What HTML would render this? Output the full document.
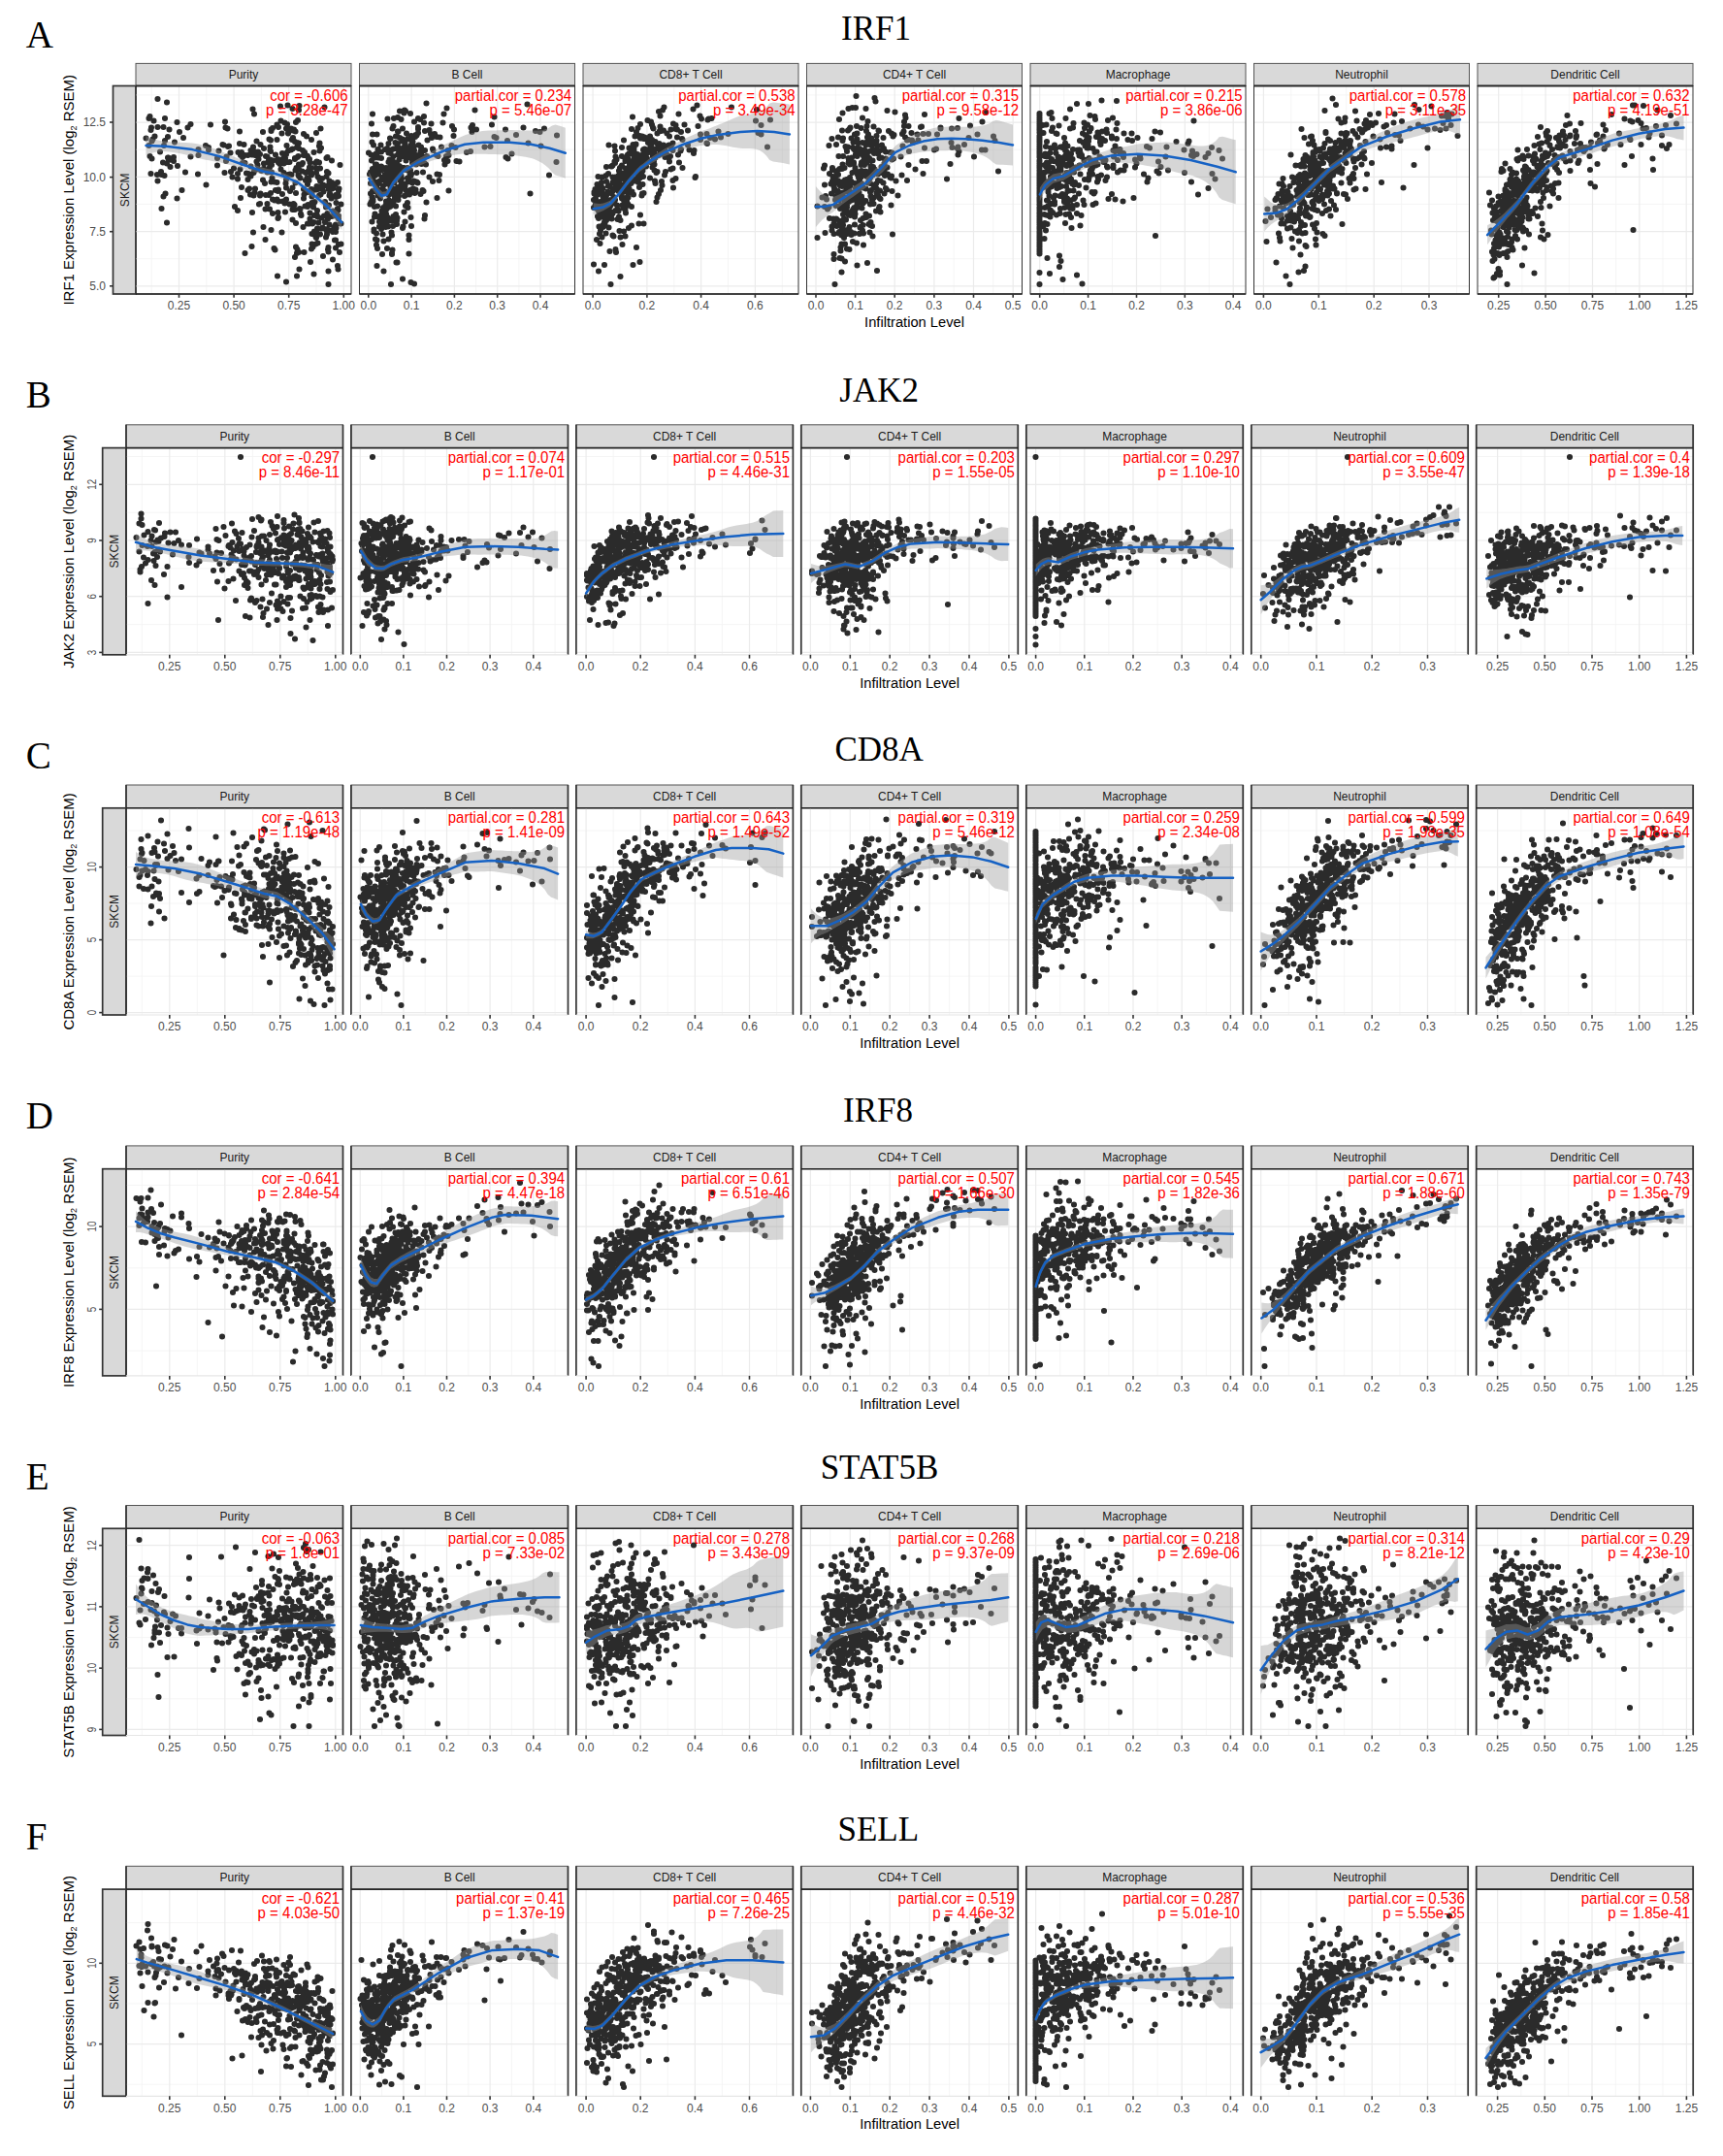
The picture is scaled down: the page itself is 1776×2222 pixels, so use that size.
<!DOCTYPE html><html><head><meta charset="utf-8"><title>Immune infiltration correlations</title><style>html,body{margin:0;padding:0;background:#fff}svg{display:block}.ax{font-family:"Liberation Sans",Arial,sans-serif;fill:#4d4d4d;font-size:12px}.st{font-family:"Liberation Sans",Arial,sans-serif;fill:#1a1a1a;font-size:12px}.rd{font-family:"Liberation Sans",Arial,sans-serif;fill:#ff0000;font-size:15px}.tt{font-family:"Liberation Sans",Arial,sans-serif;fill:#000;font-size:14.7px}.gn{font-family:"Liberation Serif","Times New Roman",serif;fill:#000;font-size:35px}.lt{font-family:"Liberation Serif","Times New Roman",serif;fill:#000;font-size:39px}</style></head><body>
<svg width="1776" height="2222" viewBox="0 0 1776 2222">
<rect width="1776" height="2222" fill="#fff"/>
<text class="lt" x="26.8" y="48.7">A</text>
<text class="gn" x="903.1" y="41.3" text-anchor="middle">IRF1</text>
<text class="tt" transform="translate(75.5,195.8) rotate(-90)" text-anchor="middle" style="font-size:15px">IRF1 Expression Level (log<tspan dy="3" style="font-size:9.0px">2</tspan><tspan dy="-3"> RSEM)</tspan></text>
<rect x="116.5" y="88.5" width="23.5" height="214.5" fill="#d9d9d9" stroke="#333" stroke-width="1.7"/>
<text class="st" transform="translate(132.6,195.8) rotate(-90)" text-anchor="middle">SKCM</text>
<line x1="113.0" x2="116.5" y1="126.0" y2="126.0" stroke="#333" stroke-width="1.6"/>
<text class="ax" x="109.0" y="130.3" text-anchor="end">12.5</text>
<line x1="113.0" x2="116.5" y1="182.6" y2="182.6" stroke="#333" stroke-width="1.6"/>
<text class="ax" x="109.0" y="186.9" text-anchor="end">10.0</text>
<line x1="113.0" x2="116.5" y1="238.7" y2="238.7" stroke="#333" stroke-width="1.6"/>
<text class="ax" x="109.0" y="243.0" text-anchor="end">7.5</text>
<line x1="113.0" x2="116.5" y1="294.8" y2="294.8" stroke="#333" stroke-width="1.6"/>
<text class="ax" x="109.0" y="299.1" text-anchor="end">5.0</text>
<text class="tt" x="942.5" y="337.0" text-anchor="middle">Infiltration Level</text>
<rect x="140.0" y="65.4" width="222.0" height="23.1" fill="#d9d9d9" stroke="#555" stroke-width="1"/>
<text class="st" transform="translate(251.0,81.3) scale(1,1.08)" text-anchor="middle">Purity</text>
<g><clipPath id="cp0_0"><rect x="140.0" y="88.5" width="222.0" height="214.5"/></clipPath></g>
<g clip-path="url(#cp0_0)">
<line x1="156.2" x2="156.2" y1="88.5" y2="303.0" stroke="#f2f2f2" stroke-width="0.8"/>
<line x1="212.8" x2="212.8" y1="88.5" y2="303.0" stroke="#f2f2f2" stroke-width="0.8"/>
<line x1="269.4" x2="269.4" y1="88.5" y2="303.0" stroke="#f2f2f2" stroke-width="0.8"/>
<line x1="326.0" x2="326.0" y1="88.5" y2="303.0" stroke="#f2f2f2" stroke-width="0.8"/>
<line x1="140.0" x2="362.0" y1="266.7" y2="266.7" stroke="#f2f2f2" stroke-width="0.8"/>
<line x1="140.0" x2="362.0" y1="210.4" y2="210.4" stroke="#f2f2f2" stroke-width="0.8"/>
<line x1="140.0" x2="362.0" y1="154.2" y2="154.2" stroke="#f2f2f2" stroke-width="0.8"/>
<line x1="140.0" x2="362.0" y1="97.9" y2="97.9" stroke="#f2f2f2" stroke-width="0.8"/>
<line x1="184.5" x2="184.5" y1="88.5" y2="303.0" stroke="#ebebeb" stroke-width="1.2"/>
<line x1="241.1" x2="241.1" y1="88.5" y2="303.0" stroke="#ebebeb" stroke-width="1.2"/>
<line x1="297.7" x2="297.7" y1="88.5" y2="303.0" stroke="#ebebeb" stroke-width="1.2"/>
<line x1="354.3" x2="354.3" y1="88.5" y2="303.0" stroke="#ebebeb" stroke-width="1.2"/>
<line x1="140.0" x2="362.0" y1="294.8" y2="294.8" stroke="#ebebeb" stroke-width="1.2"/>
<line x1="140.0" x2="362.0" y1="238.6" y2="238.6" stroke="#ebebeb" stroke-width="1.2"/>
<line x1="140.0" x2="362.0" y1="182.3" y2="182.3" stroke="#ebebeb" stroke-width="1.2"/>
<line x1="140.0" x2="362.0" y1="126.1" y2="126.1" stroke="#ebebeb" stroke-width="1.2"/>
<path transform="scale(0.5)" d="M301 285h0m6-41h0m0 56h0m2 22h0m0-82h0m2 118h0m0-90h0m1-5h0m1 64h0m0-36h0m2-4h0m2-38h0m2 32h0m5 79h0m1-98h0m0-58h0m0 169h0m5-60h0m2 41h0m1 6h0m0 70h0m3-95h0m1 70h0m0-143h0m1 38h0m1 62h0m1-118h0m0 46h0m1 109h0m3-188h0m0 248h0m0-122h0m2-12h0m0-43h0m1 43h0m1 5h0m1-63h0m2 77h0m7-20h0m0 8h0m2-39h0m5-41h0m0 157h0m1-67h0m4-70h0m5 120h0m3-108h0m4 71h0m5-92h0m6 60h0m0-67h0m15 103h0m1-51h0m0 12h0m15-20h0m1 81h0m5-72h0m0-5h0m4-47h0m14 69h0m0 15h0m3-30h0m8-13h0m2 1h0m2 57h0m1-105h0m1 12h0m1 69h0m1-9h0m2-58h0m1 37h0m2-1h0m3 14h0m1 39h0m3 11h0m3-18h0m2 79h0m6-68h0m0 76h0m0-65h0m1-55h0m3-18h0m0-25h0m1 78h0m1-29h0m0 88h0m2-22h0m0-72h0m2 10h0m0 12h0m3-38h0m2 22h0m0 202h0m0-186h0m3 21h0m3 13h0m0 22h0m0-72h0m1 38h0m2 31h0m2 12h0m1-38h0m0-20h0m0-33h0m2 9h0m0 189h0m1-70h0m1-213h0m1 78h0m0 176h0m1-123h0m0 47h0m1-91h0m0-77h0m0 118h0m1 44h0m1-77h0m0 69h0m3-98h0m0 42h0m2 7h0m1-27h0m1 36h0m0-21h0m1-11h0m0 104h0m2-103h0m0 85h0m0 17h0m1-122h0m0 101h0m2-47h0m3-80h0m0 99h0m1 97h0m1-131h0m0 10h0m0-41h0m2 72h0m1-27h0m0 80h0m0 63h0m1-92h0m0-80h0m3 98h0m0-97h0m0 0h0m0 32h0m1-20h0m2-4h0m0 71h0m1-115h0m1 144h0m0-86h0m1-16h0m0-26h0m0 7h0m1-21h0m0 109h0m0-86h0m1 63h0m0 99h0m0-204h0m0-3h0m1 73h0m0 15h0m1 12h0m1-103h0m0 147h0m0 29h0m1-109h0m2 181h0m1-99h0m0-38h0m1 140h0m1-123h0m0-73h0m3 92h0m0-123h0m0 88h0m0-88h0m0-31h0m1 156h0m0 156h0m1-241h0m0 66h0m0 56h0m0-12h0m1-23h0m0 33h0m0-186h0m0 73h0m0 56h0m2-56h0m1 3h0m1-119h0m1 30h0m0 100h0m2-74h0m0 204h0m1-163h0m0 84h0m0-71h0m1 86h0m1-88h0m1 10h0m0 19h0m1-20h0m1 83h0m0-166h0m1 184h0m0-111h0m1-10h0m0 62h0m1-60h0m0 93h0m0-41h0m0-105h0m0 316h0m0-194h0m1-87h0m1-44h0m0 78h0m1-117h0m1 143h0m0-85h0m0-6h0m0 42h0m3 110h0m0-87h0m1 60h0m0-35h0m2-50h0m0-44h0m1 95h0m1-72h0m1-64h0m0 45h0m0 163h0m0 21h0m0-146h0m0 80h0m1-103h0m1 143h0m0-7h0m1-153h0m1 155h0m1-130h0m0 34h0m0 106h0m0 98h0m0-202h0m1 49h0m0-26h0m0-80h0m1 127h0m0 111h0m0-49h0m0-208h0m1 94h0m1 223h0m0-275h0m0 228h0m0-218h0m1 210h0m0-190h0m1-76h0m0 51h0m1 62h0m0-39h0m1-95h0m0 122h0m0-10h0m0-44h0m0 225h0m0-214h0m0 57h0m1 192h0m0-337h0m1 212h0m1 1h0m0-64h0m1 74h0m1 3h0m1-105h0m1 14h0m1-17h0m0-26h0m1 158h0m1-78h0m0-70h0m0-44h0m0 133h0m1-8h0m0 119h0m0-204h0m1-2h0m1 111h0m1-69h0m0 16h0m2-91h0m1 40h0m0 46h0m1-45h0m0 74h0m0-27h0m0 11h0m0 46h0m0 35h0m0-67h0m1 28h0m1-67h0m0-27h0m0 24h0m1 20h0m1-44h0m0 133h0m0-116h0m1 94h0m0 12h0m0-102h0m0-14h0m1 205h0m1-184h0m1-10h0m0 15h0m0 29h0m0-102h0m0 225h0m1-31h0m0-77h0m0 98h0m0-85h0m0-19h0m1 62h0m1 48h0m1-82h0m1-8h0m0-105h0m0 144h0m0 107h0m1-121h0m0 33h0m1-86h0m0 25h0m1-80h0m1 152h0m0 15h0m1-156h0m0 136h0m0-209h0m0 117h0m0 99h0m0-134h0m1 118h0m0-83h0m0 51h0m0-58h0m0-51h0m1 138h0m0-37h0m1-70h0m0 83h0m0 54h0m1-153h0m0 37h0m1-19h0m0 93h0m1-158h0m0 34h0m0 68h0m0-14h0m0-4h0m1-16h0m0-58h0m0-16h0m1 52h0m0 26h0m0 110h0m1-82h0m0-136h0m1 40h0m1 166h0m0-22h0m1-81h0m1 101h0m1 59h0m0-147h0m0 1h0m0 3h0m1 10h0m1 50h0m1-224h0m1 237h0m0-42h0m2 11h0m0-2h0m0 64h0m1-163h0m0 149h0m0-111h0m0 19h0m1-29h0m0 129h0m0-11h0m1-32h0m0-116h0m1 127h0m0 63h0m1 5h0m0-162h0m0 202h0m0-49h0m0 76h0m1-163h0m0-33h0m0 57h0m1 16h0m0-90h0m0 30h0m1-4h0m2-14h0m0 20h0m1 4h0m0 66h0m0-93h0m1-51h0m0 115h0m0-61h0m0-9h0m1 13h0m1 146h0m0-57h0m1-43h0m0-47h0m1-5h0m1 85h0m1 27h0m2-116h0m0 84h0m0-61h0m0 43h0m0 50h0m0-17h0m0 33h0m1-69h0m0-24h0m0-12h0m0 64h0m1-24h0m0-8h0m0 6h0m2-14h0m0-54h0m0 26h0m0 146h0m1-115h0m0-31h0m0 153h0m1-162h0m0 52h0m0 59h0m0-53h0m0-47h0m1-15h0m1 131h0m1-180h0m1 121h0m1-40h0m0 82h0m0-42h0" stroke="#2b2b2b" stroke-width="12.2" stroke-linecap="round" fill="none"/>
<polygon points="150.5,140.0 153.9,141.9 157.3,143.2 160.7,144.1 164.1,144.7 167.6,145.2 171.0,145.5 174.4,146.0 177.8,146.3 181.3,146.6 184.7,146.8 188.1,147.0 191.5,147.1 194.9,147.2 198.4,147.4 201.8,148.0 205.2,148.7 208.6,149.5 212.0,150.5 215.5,151.5 218.9,152.6 222.3,153.8 225.7,154.9 229.1,156.4 232.6,157.9 236.0,159.4 239.4,160.8 242.8,162.2 246.3,163.6 249.7,165.0 253.1,166.4 256.5,167.7 259.9,168.9 263.4,170.2 266.8,171.4 270.2,172.6 273.6,173.5 277.0,174.2 280.5,174.8 283.9,175.7 287.3,176.8 290.7,178.0 294.2,179.2 297.6,180.7 301.0,182.2 304.4,183.7 307.8,185.4 311.3,188.2 314.7,190.9 318.1,193.6 321.5,196.3 324.9,199.1 328.4,201.8 331.8,204.4 335.2,207.0 338.6,209.9 342.1,213.1 345.5,216.1 348.9,218.7 352.3,221.1 352.3,237.1 348.9,232.1 345.5,227.3 342.1,222.8 338.6,218.5 335.2,215.0 331.8,211.9 328.4,208.8 324.9,205.8 321.5,202.9 318.1,200.1 314.7,197.3 311.3,194.6 307.8,191.8 304.4,190.1 301.0,188.6 297.6,187.2 294.2,185.7 290.7,184.5 287.3,183.5 283.9,182.4 280.5,181.7 277.0,181.1 273.6,180.6 270.2,179.8 266.8,178.8 263.4,177.8 259.9,176.8 256.5,175.8 253.1,174.8 249.7,173.8 246.3,172.8 242.8,171.8 239.4,170.8 236.0,169.8 232.6,168.9 229.1,168.0 225.7,167.1 222.3,166.5 218.9,165.9 215.5,165.3 212.0,164.7 208.6,163.9 205.2,163.0 201.8,162.0 198.4,160.9 194.9,160.2 191.5,159.5 188.1,158.8 184.7,158.1 181.3,157.5 177.8,157.0 174.4,156.5 171.0,156.2 167.6,156.2 164.1,156.4 160.7,156.8 157.3,157.4 153.9,158.5 150.5,160.0" fill="#999999" fill-opacity="0.4"/>
<polyline points="150.5,150.0 170.9,150.8 198.2,154.1 225.5,160.9 252.8,170.5 271.8,176.7 282.8,178.7 293.7,182.2 307.3,188.2 320.9,199.1 337.3,212.8 352.3,229.1" fill="none" stroke="#1662c4" stroke-width="2.5" stroke-linejoin="round" stroke-linecap="round"/>
</g>
<text class="rd" transform="translate(358.6,103.8) scale(1,1.06)" text-anchor="end">cor = -0.606</text>
<text class="rd" transform="translate(358.6,118.7) scale(1,1.06)" text-anchor="end">p = 3.28e-47</text>
<rect x="140.0" y="88.5" width="222.0" height="214.5" fill="none" stroke="#333" stroke-width="1"/>
<line x1="140.0" x2="362.0" y1="88.5" y2="88.5" stroke="#262626" stroke-width="1.8"/>
<line x1="140.0" x2="362.0" y1="303.0" y2="303.0" stroke="#262626" stroke-width="1.6"/>
<line x1="184.5" x2="184.5" y1="303.0" y2="306.8" stroke="#333" stroke-width="1.6"/>
<text class="ax" x="184.5" y="319.3" text-anchor="middle">0.25</text>
<line x1="241.1" x2="241.1" y1="303.0" y2="306.8" stroke="#333" stroke-width="1.6"/>
<text class="ax" x="241.1" y="319.3" text-anchor="middle">0.50</text>
<line x1="297.7" x2="297.7" y1="303.0" y2="306.8" stroke="#333" stroke-width="1.6"/>
<text class="ax" x="297.7" y="319.3" text-anchor="middle">0.75</text>
<line x1="354.3" x2="354.3" y1="303.0" y2="306.8" stroke="#333" stroke-width="1.6"/>
<text class="ax" x="354.3" y="319.3" text-anchor="middle">1.00</text>
<rect x="370.5" y="65.4" width="222.0" height="23.1" fill="#d9d9d9" stroke="#555" stroke-width="1"/>
<text class="st" transform="translate(481.5,81.3) scale(1,1.08)" text-anchor="middle">B Cell</text>
<g><clipPath id="cp0_1"><rect x="370.5" y="88.5" width="222.0" height="214.5"/></clipPath></g>
<g clip-path="url(#cp0_1)">
<line x1="401.9" x2="401.9" y1="88.5" y2="303.0" stroke="#f2f2f2" stroke-width="0.8"/>
<line x1="446.2" x2="446.2" y1="88.5" y2="303.0" stroke="#f2f2f2" stroke-width="0.8"/>
<line x1="490.6" x2="490.6" y1="88.5" y2="303.0" stroke="#f2f2f2" stroke-width="0.8"/>
<line x1="534.9" x2="534.9" y1="88.5" y2="303.0" stroke="#f2f2f2" stroke-width="0.8"/>
<line x1="579.2" x2="579.2" y1="88.5" y2="303.0" stroke="#f2f2f2" stroke-width="0.8"/>
<line x1="370.5" x2="592.5" y1="266.7" y2="266.7" stroke="#f2f2f2" stroke-width="0.8"/>
<line x1="370.5" x2="592.5" y1="210.4" y2="210.4" stroke="#f2f2f2" stroke-width="0.8"/>
<line x1="370.5" x2="592.5" y1="154.2" y2="154.2" stroke="#f2f2f2" stroke-width="0.8"/>
<line x1="370.5" x2="592.5" y1="97.9" y2="97.9" stroke="#f2f2f2" stroke-width="0.8"/>
<line x1="379.8" x2="379.8" y1="88.5" y2="303.0" stroke="#ebebeb" stroke-width="1.2"/>
<line x1="424.1" x2="424.1" y1="88.5" y2="303.0" stroke="#ebebeb" stroke-width="1.2"/>
<line x1="468.4" x2="468.4" y1="88.5" y2="303.0" stroke="#ebebeb" stroke-width="1.2"/>
<line x1="512.7" x2="512.7" y1="88.5" y2="303.0" stroke="#ebebeb" stroke-width="1.2"/>
<line x1="557.0" x2="557.0" y1="88.5" y2="303.0" stroke="#ebebeb" stroke-width="1.2"/>
<line x1="370.5" x2="592.5" y1="294.8" y2="294.8" stroke="#ebebeb" stroke-width="1.2"/>
<line x1="370.5" x2="592.5" y1="238.6" y2="238.6" stroke="#ebebeb" stroke-width="1.2"/>
<line x1="370.5" x2="592.5" y1="182.3" y2="182.3" stroke="#ebebeb" stroke-width="1.2"/>
<line x1="370.5" x2="592.5" y1="126.1" y2="126.1" stroke="#ebebeb" stroke-width="1.2"/>
<path transform="scale(0.5)" d="M760 315h0m2 44h0m1 62h0m1-43h0m0-23h0m0 44h0m1 18h0m0-98h0m1 12h0m0-76h0m1 158h0m0 44h0m0-164h0m0 113h0m1-42h0m0-87h0m0 71h0m0-113h0m0 159h0m1 17h0m0-46h0m0 50h0m0-39h0m1-77h0m1 178h0m0-121h0m0-3h0m0 120h0m1-95h0m0 69h0m0-21h0m1 15h0m0-116h0m0 69h0m0-32h0m0-5h0m1 136h0m0-117h0m0-37h0m0 36h0m1-22h0m0 36h0m0-10h0m0-62h0m1 0h0m0 188h0m0-24h0m0-97h0m0-31h0m0 34h0m0-48h0m1-23h0m0 179h0m0-152h0m0-66h0m0 68h0m0 203h0m1-36h0m0-87h0m0 21h0m1-67h0m0-71h0m0 95h0m0-13h0m0-43h0m1-22h0m0 34h0m1 35h0m1 63h0m0 10h0m0-122h0m0 58h0m1-90h0m0 137h0m0-77h0m1-21h0m0 57h0m1-110h0m0 150h0m0-5h0m1-52h0m0-49h0m0 55h0m0-72h0m0 45h0m0-58h0m0 159h0m1-37h0m1-70h0m0 159h0m0-60h0m0-119h0m1 138h0m0-93h0m1 66h0m0-28h0m0-45h0m1 176h0m0-160h0m0 98h0m1-131h0m1 69h0m0-41h0m1-23h0m0-12h0m0-51h0m0 147h0m0-5h0m0-101h0m1 22h0m0 55h0m0-3h0m0 17h0m0 28h0m1-94h0m0 58h0m0-67h0m0 50h0m0-69h0m0 95h0m0-18h0m0-44h0m1 81h0m1 52h0m0-83h0m0-123h0m0 57h0m1 13h0m0-131h0m0 203h0m1 19h0m0-67h0m1 93h0m0-178h0m0 31h0m0 10h0m0 22h0m0 24h0m0-68h0m0-38h0m1 117h0m0 14h0m1-98h0m0 85h0m0 0h0m0 3h0m0 35h0m0-107h0m1 110h0m0-170h0m0 141h0m0-50h0m1 14h0m0-48h0m0-26h0m0 76h0m0 33h0m0-80h0m0 40h0m0-39h0m0 26h0m0-86h0m1 300h0m0-201h0m0-3h0m1-36h0m0 45h0m0-30h0m0 3h0m0 115h0m1-110h0m0 49h0m0 104h0m0-125h0m0 88h0m0-116h0m0 155h0m0-189h0m1 180h0m0-171h0m0 44h0m0-58h0m0-22h0m0 84h0m0-127h0m0 97h0m0 10h0m1-10h0m0-23h0m0 16h0m0 111h0m0-90h0m0 78h0m0-77h0m1-117h0m0 47h0m0 93h0m0-78h0m0 96h0m0 28h0m1-111h0m0-91h0m0 103h0m1 100h0m0 3h0m0-74h0m0-19h0m0 46h0m0-33h0m1 39h0m1-115h0m0 99h0m1-54h0m0 86h0m0-71h0m0 88h0m0-161h0m1 260h0m0-138h0m1 59h0m0-7h0m0-120h0m1-33h0m0 147h0m0-168h0m0 125h0m0 135h0m1-155h0m0-144h0m0 158h0m0-104h0m0-25h0m0 48h0m0 42h0m1-8h0m0 52h0m0-55h0m0-46h0m0-33h0m0 141h0m0-57h0m0-48h0m0 2h0m1 95h0m0-55h0m1-36h0m0 29h0m0-21h0m0 8h0m1 27h0m0-9h0m0 49h0m0-112h0m0-55h0m1 121h0m0 22h0m0-28h0m0 47h0m0-74h0m0 77h0m1-48h0m0 4h0m0 33h0m1-21h0m0-116h0m1 68h0m0 72h0m0-9h0m0-9h0m1-77h0m0 55h0m1-25h0m0-34h0m0-22h0m0 205h0m0 105h0m1-268h0m0 15h0m0 145h0m0-121h0m1-42h0m0 75h0m0-66h0m1 33h0m0 91h0m0-204h0m1-6h0m0 86h0m0 71h0m0 20h0m1 53h0m0-54h0m0-106h0m0 24h0m0-27h0m0 89h0m1-154h0m0 195h0m0-74h0m1-19h0m0 61h0m1-117h0m0 45h0m1-15h0m0 43h0m1 70h0m0-107h0m0 14h0m0 42h0m0-21h0m1 82h0m0-142h0m0 89h0m1-7h0m0-16h0m1 133h0m0 38h0m0-29h0m1-142h0m0 0h0m0 49h0m1-47h0m0 7h0m0-53h0m1-22h0m0 30h0m0-82h0m0 117h0m1 11h0m0-62h0m0 91h0m0 57h0m0 134h0m1-259h0m0 36h0m0 107h0m0-186h0m1 14h0m1 20h0m0 22h0m0-22h0m0-11h0m0 27h0m0 47h0m1-85h0m0 6h0m1 91h0m1-66h0m0 50h0m0-69h0m0 33h0m1 248h0m0-275h0m0-59h0m0 66h0m1 81h0m0-24h0m1-92h0m1 113h0m0-4h0m0-113h0m0 52h0m1 9h0m1-60h0m0 77h0m0 19h0m1-42h0m1 44h0m0-48h0m1-63h0m0 54h0m0-76h0m0 18h0m0 73h0m0-61h0m1 25h0m3 28h0m0-81h0m0 87h0m1-17h0m0 84h0m0-87h0m1-10h0m0 34h0m0-27h0m1 28h0m0-18h0m2 72h0m1-57h0m0 20h0m1 39h0m1-141h0m0-13h0m1 96h0m0 115h0m0-127h0m1-14h0m0-40h0m0 174h0m2-105h0m1 78h0m0-204h0m1 109h0m1-33h0m4 76h0m0-97h0m3 8h0m1-21h0m1 29h0m2 23h0m0 67h0m1-64h0m3-34h0m4 44h0m0-38h0m1 126h0m0-49h0m2-37h0m2 50h0m1-12h0m1-77h0m3 20h0m3-50h0m2-18h0m1 95h0m1 9h0m1-4h0m2-13h0m1-99h0m2 87h0m0 22h0m1-22h0m1 83h0m0-73h0m6-20h0m1-40h0m3 20h0m1-13h0m3 37h0m2 28h0m6 1h0m15-19h0m8-2h0m1-49h0m2 9h0m1-14h0m5-31h0m3 40h0m17 36h0m12-1h0m3-45h0m5-16h0m0 41h0m4 2h0m19-17h0m1 57h0m3-34h0m1 37h0m8-10h0m9-39h0m15-15h0m8-48h0m2 80h0m4 104h0m11-129h0m9 2h0m2 29h0m7-36h0m10 96h0m15-27h0m1-55h0" stroke="#2b2b2b" stroke-width="12.2" stroke-linecap="round" fill="none"/>
<polygon points="380.4,177.1 383.8,183.9 387.3,189.8 390.7,194.6 394.1,197.8 397.6,197.2 401.0,193.0 404.4,186.9 407.9,182.4 411.3,178.6 414.7,174.7 418.1,171.7 421.6,169.5 425.0,167.4 428.4,165.2 431.9,163.2 435.3,161.4 438.7,159.6 442.2,157.8 445.6,155.9 449.0,154.0 452.5,152.1 455.9,150.1 459.3,148.4 462.7,146.9 466.2,145.3 469.6,143.7 473.0,142.1 476.5,140.5 479.9,139.0 483.3,138.1 486.8,137.2 490.2,136.4 493.6,135.7 497.1,135.0 500.5,134.7 503.9,134.5 507.3,134.4 510.8,134.4 514.2,134.3 517.6,134.2 521.1,134.1 524.5,134.0 527.9,134.1 531.4,134.2 534.8,134.3 538.2,134.4 541.6,134.5 545.1,134.5 548.5,134.5 551.9,134.6 555.4,134.6 558.8,134.2 562.2,133.3 565.7,131.8 569.1,129.5 572.5,128.5 576.0,129.5 579.4,130.6 582.8,131.7 582.8,183.7 579.4,182.6 576.0,181.6 572.5,180.6 569.1,177.5 565.7,173.4 562.2,170.4 558.8,168.0 555.4,166.2 551.9,164.6 548.5,163.3 545.1,162.5 541.6,161.8 538.2,161.3 534.8,160.8 531.4,160.3 527.9,159.8 524.5,159.5 521.1,159.4 517.6,159.3 514.2,159.2 510.8,159.1 507.3,159.0 503.9,158.9 500.5,158.8 497.1,158.7 493.6,158.7 490.2,158.7 486.8,158.6 483.3,158.4 479.9,158.2 476.5,158.5 473.0,159.0 469.6,159.5 466.2,160.1 462.7,160.7 459.3,161.3 455.9,162.1 452.5,163.3 449.0,164.4 445.6,165.6 442.2,166.8 438.7,168.1 435.3,169.4 431.9,170.7 428.4,172.3 425.0,174.2 421.6,176.1 418.1,178.1 414.7,181.0 411.3,184.9 407.9,188.7 404.4,193.4 401.0,199.7 397.6,204.3 394.1,205.5 390.7,203.1 387.3,199.5 383.8,195.3 380.4,191.1" fill="#999999" fill-opacity="0.4"/>
<polyline points="380.4,184.1 386.4,193.7 393.2,201.8 398.7,200.5 405.5,188.2 416.4,175.9 430.1,167.7 457.3,155.5 479.2,148.7 498.3,146.7 525.5,146.7 547.4,148.7 566.4,152.7 582.8,157.7" fill="none" stroke="#1662c4" stroke-width="2.5" stroke-linejoin="round" stroke-linecap="round"/>
</g>
<text class="rd" transform="translate(589.1,103.8) scale(1,1.06)" text-anchor="end">partial.cor = 0.234</text>
<text class="rd" transform="translate(589.1,118.7) scale(1,1.06)" text-anchor="end">p = 5.46e-07</text>
<rect x="370.5" y="88.5" width="222.0" height="214.5" fill="none" stroke="#333" stroke-width="1"/>
<line x1="370.5" x2="592.5" y1="88.5" y2="88.5" stroke="#262626" stroke-width="1.8"/>
<line x1="370.5" x2="592.5" y1="303.0" y2="303.0" stroke="#262626" stroke-width="1.6"/>
<line x1="379.8" x2="379.8" y1="303.0" y2="306.8" stroke="#333" stroke-width="1.6"/>
<text class="ax" x="379.8" y="319.3" text-anchor="middle">0.0</text>
<line x1="424.1" x2="424.1" y1="303.0" y2="306.8" stroke="#333" stroke-width="1.6"/>
<text class="ax" x="424.1" y="319.3" text-anchor="middle">0.1</text>
<line x1="468.4" x2="468.4" y1="303.0" y2="306.8" stroke="#333" stroke-width="1.6"/>
<text class="ax" x="468.4" y="319.3" text-anchor="middle">0.2</text>
<line x1="512.7" x2="512.7" y1="303.0" y2="306.8" stroke="#333" stroke-width="1.6"/>
<text class="ax" x="512.7" y="319.3" text-anchor="middle">0.3</text>
<line x1="557.0" x2="557.0" y1="303.0" y2="306.8" stroke="#333" stroke-width="1.6"/>
<text class="ax" x="557.0" y="319.3" text-anchor="middle">0.4</text>
<rect x="601.0" y="65.4" width="222.0" height="23.1" fill="#d9d9d9" stroke="#555" stroke-width="1"/>
<text class="st" transform="translate(712.0,81.3) scale(1,1.08)" text-anchor="middle">CD8+ T Cell</text>
<g><clipPath id="cp0_2"><rect x="601.0" y="88.5" width="222.0" height="214.5"/></clipPath></g>
<g clip-path="url(#cp0_2)">
<line x1="639.0" x2="639.0" y1="88.5" y2="303.0" stroke="#f2f2f2" stroke-width="0.8"/>
<line x1="694.8" x2="694.8" y1="88.5" y2="303.0" stroke="#f2f2f2" stroke-width="0.8"/>
<line x1="750.5" x2="750.5" y1="88.5" y2="303.0" stroke="#f2f2f2" stroke-width="0.8"/>
<line x1="806.3" x2="806.3" y1="88.5" y2="303.0" stroke="#f2f2f2" stroke-width="0.8"/>
<line x1="601.0" x2="823.0" y1="266.7" y2="266.7" stroke="#f2f2f2" stroke-width="0.8"/>
<line x1="601.0" x2="823.0" y1="210.4" y2="210.4" stroke="#f2f2f2" stroke-width="0.8"/>
<line x1="601.0" x2="823.0" y1="154.2" y2="154.2" stroke="#f2f2f2" stroke-width="0.8"/>
<line x1="601.0" x2="823.0" y1="97.9" y2="97.9" stroke="#f2f2f2" stroke-width="0.8"/>
<line x1="611.1" x2="611.1" y1="88.5" y2="303.0" stroke="#ebebeb" stroke-width="1.2"/>
<line x1="666.9" x2="666.9" y1="88.5" y2="303.0" stroke="#ebebeb" stroke-width="1.2"/>
<line x1="722.6" x2="722.6" y1="88.5" y2="303.0" stroke="#ebebeb" stroke-width="1.2"/>
<line x1="778.4" x2="778.4" y1="88.5" y2="303.0" stroke="#ebebeb" stroke-width="1.2"/>
<line x1="601.0" x2="823.0" y1="294.8" y2="294.8" stroke="#ebebeb" stroke-width="1.2"/>
<line x1="601.0" x2="823.0" y1="238.6" y2="238.6" stroke="#ebebeb" stroke-width="1.2"/>
<line x1="601.0" x2="823.0" y1="182.3" y2="182.3" stroke="#ebebeb" stroke-width="1.2"/>
<line x1="601.0" x2="823.0" y1="126.1" y2="126.1" stroke="#ebebeb" stroke-width="1.2"/>
<path transform="scale(0.5)" d="M1224 545h0m0-133h0m0 16h0m1-32h0m0 3h0m2-9h0m0 34h0m1-3h0m0-13h0m0-7h0m2 93h0m0-64h0m1-50h0m1 11h0m0 55h0m0-45h0m0-3h0m1-34h0m0 36h0m0 16h0m1-34h0m0 177h0m0-109h0m0-15h0m1 32h0m0-38h0m1-8h0m0-34h0m0 47h0m0 48h0m1-84h0m0 18h0m0 51h0m0 35h0m1-27h0m0-56h0m0 15h0m1-2h0m0-50h0m1 48h0m0-41h0m0-13h0m0 44h0m1-23h0m0 92h0m0-124h0m1 82h0m0-8h0m0 5h0m0-7h0m0-7h0m1-24h0m0-18h0m0 80h0m1-5h0m0-63h0m0 4h0m1 8h0m0 8h0m1 18h0m0 21h0m0-50h0m0 49h0m0 88h0m1-144h0m0 55h0m0 5h0m0-59h0m0 33h0m1-2h0m0-5h0m0 27h0m0-42h0m0-6h0m0-1h0m1-45h0m0 119h0m0-69h0m0-2h0m1-36h0m0-30h0m0 59h0m0 30h0m0 21h0m0-38h0m0 26h0m2 3h0m1-11h0m0-39h0m0 39h0m0-8h0m1 19h0m0-21h0m0-41h0m0-25h0m0 67h0m1 44h0m0-170h0m1 84h0m0 1h0m1 134h0m0-92h0m1-1h0m1 21h0m0-34h0m0 174h0m1-243h0m1 56h0m0-56h0m0 108h0m0-14h0m0 5h0m2-66h0m0 64h0m0-46h0m0 91h0m0-144h0m0 24h0m1 54h0m0-4h0m0-40h0m1 31h0m0 81h0m1-100h0m0-10h0m0 39h0m1-115h0m0 68h0m0 7h0m0 39h0m0-82h0m1 32h0m0-29h0m0-25h0m0 101h0m1-35h0m0 137h0m0-191h0m0 111h0m1 86h0m0-145h0m1 5h0m0-51h0m0-1h0m1 63h0m0-7h0m0-19h0m0 58h0m1-50h0m0 58h0m0 21h0m1-63h0m0-12h0m1 17h0m0-32h0m0 21h0m0 52h0m1 12h0m0-95h0m1 19h0m0 105h0m0-81h0m1-49h0m0 9h0m1 134h0m0-133h0m0 214h0m0-187h0m0 71h0m0-71h0m2-18h0m0 39h0m0-1h0m0-60h0m1-2h0m0-37h0m0 105h0m0-87h0m1 101h0m0-60h0m0 141h0m0-123h0m2 6h0m0 8h0m0 34h0m0-33h0m1 17h0m0-124h0m0 188h0m1-93h0m1-3h0m0-11h0m0-3h0m0-42h0m0 32h0m1 130h0m0-54h0m0-101h0m1 76h0m0-60h0m0 78h0m0-79h0m0 92h0m0-47h0m1 23h0m0-65h0m0 43h0m1-13h0m0-9h0m0 43h0m0-62h0m1 12h0m0 1h0m1 55h0m0-95h0m0-6h0m1 88h0m0-9h0m1 72h0m0-113h0m0 66h0m1-107h0m0 31h0m0 13h0m0-55h0m0 45h0m0 15h0m0 24h0m1-49h0m0-24h0m1 16h0m2 28h0m0 18h0m0-70h0m0 28h0m0 33h0m1-26h0m0 122h0m0-39h0m0-160h0m1 66h0m0 25h0m0 38h0m0-55h0m0-6h0m0 13h0m1-9h0m0-97h0m1 305h0m0-197h0m0-51h0m1 72h0m0 31h0m0-82h0m0 29h0m1-24h0m0 17h0m0 12h0m0 17h0m0-25h0m0-34h0m0-6h0m1 44h0m1 24h0m0-92h0m1 46h0m1-29h0m0 29h0m0-30h0m0 60h0m0 0h0m1-85h0m0 65h0m0-57h0m0 53h0m0 18h0m0 159h0m1-143h0m1-49h0m0 3h0m1-2h0m0 42h0m0-21h0m0-76h0m1 112h0m0-10h0m1 95h0m0-134h0m0 26h0m0-3h0m0 11h0m1-34h0m0 59h0m1-19h0m0-10h0m0-17h0m0-60h0m0 52h0m0 208h0m1-174h0m0 77h0m0-158h0m0-29h0m0 66h0m3 19h0m0 1h0m0 61h0m0-42h0m1 38h0m0-118h0m1 99h0m0-32h0m0 16h0m0-12h0m0-33h0m1-10h0m0 55h0m1-36h0m0-20h0m0-22h0m0 175h0m0-63h0m2-91h0m0-24h0m1 52h0m0-2h0m1-6h0m0 6h0m1 10h0m0-56h0m1 38h0m0 9h0m1-7h0m1-79h0m0 67h0m1-21h0m1-7h0m1 21h0m0-20h0m2-7h0m0 86h0m1-66h0m0 33h0m0 0h0m0-24h0m0-7h0m1-52h0m1 63h0m0-16h0m1-41h0m0 31h0m0 17h0m1 2h0m0 38h0m1-22h0m0-60h0m0 57h0m1 5h0m0-60h0m1 52h0m0 15h0m1 19h0m0-35h0m0 23h0m1 34h0m0-50h0m1 2h0m0 53h0m0-86h0m2 124h0m0-60h0m1-49h0m1 100h0m0-53h0m0-79h0m1 23h0m2-68h0m0 170h0m0-80h0m1-24h0m0 2h0m1-28h0m1-31h0m0 79h0m0-57h0m1 131h0m0-79h0m1-43h0m1 104h0m0-70h0m1 78h0m1-77h0m0-78h0m1 81h0m1-9h0m0-30h0m1-48h0m1 140h0m1-37h0m0-4h0m0 3h0m0-17h0m1 12h0m0 36h0m3-35h0m0-44h0m3 48h0m1 3h0m0-27h0m1-18h0m0 52h0m2-11h0m0-21h0m1-34h0m0 82h0m0-46h0m2-5h0m2 74h0m0-77h0m0 52h0m0-37h0m1-55h0m0 132h0m5-19h0m0-110h0m0 8h0m3 1h0m0 16h0m2 36h0m1-84h0m1 100h0m3-24h0m1-39h0m0 36h0m2-22h0m1 60h0m0-58h0m4-31h0m7 12h0m0 30h0m3 10h0m8-84h0m1 91h0m1-6h0m2 56h0m1-2h0m3-147h0m2 43h0m4-21h0m1 38h0m0 11h0m2-43h0m11 31h0m0 19h0m1 1h0m1-49h0m2-2h0m3 39h0m3-40h0m7 43h0m7-16h0m5 12h0m15-7h0m7-55h0m50 28h0m2-23h0m3 48h0m6 3h0m0-19h0m13 45h0m6-56h0" stroke="#2b2b2b" stroke-width="12.2" stroke-linecap="round" fill="none"/>
<polygon points="611.7,209.3 615.1,209.7 618.5,209.9 621.9,209.6 625.4,208.2 628.8,206.7 632.2,203.5 635.7,199.6 639.1,195.5 642.5,191.0 645.9,186.4 649.4,182.3 652.8,178.5 656.2,174.6 659.6,171.0 663.1,168.4 666.5,165.7 669.9,163.0 673.4,160.8 676.8,158.6 680.2,156.4 683.6,154.2 687.1,152.3 690.5,150.6 693.9,148.9 697.4,147.2 700.8,145.4 704.2,143.6 707.6,142.0 711.1,140.5 714.5,139.0 717.9,137.4 721.4,135.9 724.8,134.6 728.2,133.4 731.6,132.2 735.1,130.8 738.5,129.4 741.9,128.1 745.4,126.8 748.8,125.3 752.2,123.8 755.6,122.3 759.1,120.8 762.5,119.6 765.9,118.7 769.4,118.2 772.8,117.7 776.2,117.1 779.6,116.1 783.1,115.1 786.5,113.4 789.9,110.6 793.3,106.4 796.8,105.5 800.2,105.8 803.6,106.2 807.1,106.6 810.5,107.0 813.9,107.4 813.9,169.4 810.5,168.7 807.1,168.1 803.6,167.5 800.2,166.9 796.8,166.4 793.3,165.1 789.9,160.4 786.5,157.2 783.1,155.0 779.6,153.7 776.2,153.3 772.8,153.1 769.4,153.1 765.9,152.9 762.5,152.7 759.1,152.3 755.6,151.7 752.2,151.0 748.8,150.3 745.4,149.7 741.9,149.3 738.5,149.1 735.1,149.1 731.6,149.3 728.2,149.5 724.8,149.8 721.4,150.3 717.9,151.0 714.5,151.8 711.1,152.5 707.6,153.3 704.2,154.2 700.8,155.3 697.4,156.5 693.9,157.7 690.5,158.9 687.1,160.2 683.6,161.6 680.2,163.5 676.8,165.4 673.4,167.3 669.9,169.3 666.5,171.8 663.1,174.3 659.6,176.8 656.2,180.2 652.8,184.0 649.4,187.8 645.9,191.9 642.5,196.5 639.1,201.1 635.7,205.3 632.2,209.4 628.8,213.0 625.4,215.0 621.9,217.0 618.5,218.4 615.1,219.7 611.7,221.3" fill="#999999" fill-opacity="0.4"/>
<polyline points="611.7,215.3 620.9,213.8 629.6,209.4 638.4,199.3 647.1,187.7 658.7,174.6 670.3,165.9 684.8,157.2 705.1,148.5 722.5,142.7 739.9,138.9 763.1,136.0 780.5,134.9 798.0,136.0 813.9,138.4" fill="none" stroke="#1662c4" stroke-width="2.5" stroke-linejoin="round" stroke-linecap="round"/>
</g>
<text class="rd" transform="translate(819.6,103.8) scale(1,1.06)" text-anchor="end">partial.cor = 0.538</text>
<text class="rd" transform="translate(819.6,118.7) scale(1,1.06)" text-anchor="end">p = 3.49e-34</text>
<rect x="601.0" y="88.5" width="222.0" height="214.5" fill="none" stroke="#333" stroke-width="1"/>
<line x1="601.0" x2="823.0" y1="88.5" y2="88.5" stroke="#262626" stroke-width="1.8"/>
<line x1="601.0" x2="823.0" y1="303.0" y2="303.0" stroke="#262626" stroke-width="1.6"/>
<line x1="611.1" x2="611.1" y1="303.0" y2="306.8" stroke="#333" stroke-width="1.6"/>
<text class="ax" x="611.1" y="319.3" text-anchor="middle">0.0</text>
<line x1="666.9" x2="666.9" y1="303.0" y2="306.8" stroke="#333" stroke-width="1.6"/>
<text class="ax" x="666.9" y="319.3" text-anchor="middle">0.2</text>
<line x1="722.6" x2="722.6" y1="303.0" y2="306.8" stroke="#333" stroke-width="1.6"/>
<text class="ax" x="722.6" y="319.3" text-anchor="middle">0.4</text>
<line x1="778.4" x2="778.4" y1="303.0" y2="306.8" stroke="#333" stroke-width="1.6"/>
<text class="ax" x="778.4" y="319.3" text-anchor="middle">0.6</text>
<rect x="831.5" y="65.4" width="222.0" height="23.1" fill="#d9d9d9" stroke="#555" stroke-width="1"/>
<text class="st" transform="translate(942.5,81.3) scale(1,1.08)" text-anchor="middle">CD4+ T Cell</text>
<g><clipPath id="cp0_3"><rect x="831.5" y="88.5" width="222.0" height="214.5"/></clipPath></g>
<g clip-path="url(#cp0_3)">
<line x1="861.3" x2="861.3" y1="88.5" y2="303.0" stroke="#f2f2f2" stroke-width="0.8"/>
<line x1="901.9" x2="901.9" y1="88.5" y2="303.0" stroke="#f2f2f2" stroke-width="0.8"/>
<line x1="942.6" x2="942.6" y1="88.5" y2="303.0" stroke="#f2f2f2" stroke-width="0.8"/>
<line x1="983.2" x2="983.2" y1="88.5" y2="303.0" stroke="#f2f2f2" stroke-width="0.8"/>
<line x1="1023.8" x2="1023.8" y1="88.5" y2="303.0" stroke="#f2f2f2" stroke-width="0.8"/>
<line x1="831.5" x2="1053.5" y1="266.7" y2="266.7" stroke="#f2f2f2" stroke-width="0.8"/>
<line x1="831.5" x2="1053.5" y1="210.4" y2="210.4" stroke="#f2f2f2" stroke-width="0.8"/>
<line x1="831.5" x2="1053.5" y1="154.2" y2="154.2" stroke="#f2f2f2" stroke-width="0.8"/>
<line x1="831.5" x2="1053.5" y1="97.9" y2="97.9" stroke="#f2f2f2" stroke-width="0.8"/>
<line x1="841.0" x2="841.0" y1="88.5" y2="303.0" stroke="#ebebeb" stroke-width="1.2"/>
<line x1="881.6" x2="881.6" y1="88.5" y2="303.0" stroke="#ebebeb" stroke-width="1.2"/>
<line x1="922.2" x2="922.2" y1="88.5" y2="303.0" stroke="#ebebeb" stroke-width="1.2"/>
<line x1="962.9" x2="962.9" y1="88.5" y2="303.0" stroke="#ebebeb" stroke-width="1.2"/>
<line x1="1003.5" x2="1003.5" y1="88.5" y2="303.0" stroke="#ebebeb" stroke-width="1.2"/>
<line x1="1044.2" x2="1044.2" y1="88.5" y2="303.0" stroke="#ebebeb" stroke-width="1.2"/>
<line x1="831.5" x2="1053.5" y1="294.8" y2="294.8" stroke="#ebebeb" stroke-width="1.2"/>
<line x1="831.5" x2="1053.5" y1="238.6" y2="238.6" stroke="#ebebeb" stroke-width="1.2"/>
<line x1="831.5" x2="1053.5" y1="182.3" y2="182.3" stroke="#ebebeb" stroke-width="1.2"/>
<line x1="831.5" x2="1053.5" y1="126.1" y2="126.1" stroke="#ebebeb" stroke-width="1.2"/>
<path transform="scale(0.5)" d="M1685 425h0m0 65h0m10-83h0m3-60h0m2-6h0m0 85h0m0-45h0m1 99h0m1-76h0m2 7h0m2 20h0m3-4h0m0-127h0m1 58h0m0 92h0m3-71h0m1 20h0m1 76h0m0-8h0m0-181h0m1 87h0m0-23h0m0-4h0m1 18h0m1 87h0m1 73h0m0-154h0m0 112h0m0 52h0m0-150h0m0 77h0m1-73h0m0 5h0m1 193h0m1-174h0m0-48h0m1 41h0m0 19h0m0-46h0m1-80h0m0 112h0m0 41h0m0-97h0m1 112h0m1-70h0m0-44h0m1 47h0m0-27h0m0 22h0m1-34h0m0-77h0m1 198h0m0-85h0m0-74h0m1-76h0m0 209h0m0-106h0m0 129h0m0-13h0m0-53h0m1-64h0m0 184h0m0-71h0m1-53h0m0 16h0m0-18h0m0 24h0m0-47h0m1 127h0m0 7h0m1-95h0m0-47h0m1 26h0m0 102h0m0 30h0m0 28h0m0-76h0m1-216h0m0 115h0m0 89h0m0-125h0m1 134h0m0-16h0m0-233h0m0 57h0m0 49h0m0 121h0m1-175h0m0 139h0m0-102h0m0 120h0m0-45h0m0 67h0m1-10h0m1 49h0m0-92h0m0 19h0m0 60h0m0-39h0m1-105h0m0 92h0m0-18h0m1 119h0m0-164h0m0-4h0m0 132h0m1-201h0m0 72h0m1 79h0m0-19h0m0-27h0m1-16h0m0-85h0m0 64h0m1 104h0m0-103h0m0 64h0m0 78h0m0-130h0m0 44h0m0-4h0m0-53h0m0-58h0m1 170h0m1-179h0m0-34h0m0 109h0m0 17h0m1 16h0m0 31h0m0-2h0m0-104h0m0-10h0m0-102h0m1 192h0m0-8h0m0-77h0m0 52h0m1 131h0m0-100h0m0 54h0m0-202h0m0 62h0m0 63h0m1-7h0m0-45h0m0 27h0m0 36h0m0-17h0m1 54h0m0 5h0m0-181h0m0 64h0m0 9h0m1 142h0m1-147h0m0-46h0m0 199h0m0-110h0m0 69h0m0-30h0m1 69h0m0-157h0m1-103h0m0 175h0m0-41h0m1-52h0m0 98h0m0 96h0m0-65h0m1-2h0m0-138h0m1 42h0m0 3h0m0-31h0m1 121h0m0 53h0m1-18h0m0-26h0m0 8h0m0-136h0m0 138h0m0-170h0m0 101h0m1 34h0m0 20h0m0-84h0m0-2h0m0 95h0m1-219h0m0 172h0m0-6h0m0-70h0m0 81h0m1-201h0m1 303h0m0-241h0m0 165h0m1-11h0m0-92h0m0-35h0m0-12h0m0 153h0m0-7h0m0-110h0m0 88h0m0 148h0m0-144h0m1-98h0m0 49h0m0 6h0m1 28h0m0-6h0m0 14h0m0-101h0m1 116h0m0-25h0m0-20h0m0-48h0m0 83h0m0-5h0m0-87h0m1 65h0m0-61h0m0 84h0m1-16h0m0-18h0m0-57h0m0 65h0m0 111h0m0-1h0m1-126h0m0 8h0m0 106h0m0-84h0m1 69h0m1-48h0m0-66h0m0-76h0m0 203h0m0-102h0m1 40h0m0-53h0m0 76h0m0-45h0m0-5h0m0 2h0m0-45h0m1 75h0m0 19h0m0-69h0m1-49h0m0 164h0m0-181h0m0 91h0m0 33h0m0-175h0m1 176h0m0 45h0m0-14h0m0-63h0m0-54h0m1-12h0m0 184h0m0-24h0m1-172h0m0 15h0m1-5h0m0 21h0m0-14h0m0-13h0m0 103h0m1-60h0m0-46h0m1 43h0m1 61h0m0-25h0m0-165h0m0 217h0m0-142h0m1 58h0m0 91h0m0-178h0m0 93h0m1-70h0m0-33h0m0 75h0m0-14h0m0 43h0m1-42h0m0-39h0m0 10h0m0 249h0m1-165h0m0-127h0m1 27h0m1 185h0m0-94h0m1-56h0m0 14h0m0 33h0m0 86h0m1-155h0m0 78h0m0 111h0m1-58h0m0-25h0m0 68h0m0-86h0m1-35h0m0 22h0m0-66h0m0 159h0m0-54h0m0-54h0m1 56h0m0-121h0m0 46h0m0 61h0m0-49h0m2 123h0m0-53h0m1 74h0m0 0h0m0-156h0m0-33h0m0 10h0m0 41h0m0 12h0m1-17h0m0 64h0m1-56h0m0-42h0m0-49h0m0 159h0m0-12h0m0-26h0m0-33h0m1-33h0m1 33h0m0-147h0m1 108h0m0-18h0m1-83h0m1 226h0m0-56h0m0-83h0m1-16h0m0 118h0m0-9h0m0-99h0m1 268h0m0-249h0m1-9h0m1 72h0m0 30h0m0-43h0m0-42h0m1-48h0m1 160h0m0-159h0m1 56h0m0 27h0m0 73h0m0-115h0m0 97h0m1-15h0m1 17h0m0 0h0m0 27h0m0-64h0m2-17h0m0-3h0m0-9h0m0-19h0m1-26h0m1 10h0m2-25h0m0 93h0m1-32h0m0-39h0m1 31h0m0 14h0m0 48h0m1-37h0m0-34h0m2-1h0m0-14h0m0 75h0m2 3h0m0-32h0m1-131h0m0 117h0m1 14h0m2-89h0m3 96h0m0-52h0m2 109h0m0-56h0m1-92h0m0 88h0m1-34h0m0-14h0m0 79h0m1-117h0m0 206h0m1-202h0m1 46h0m1-49h0m2-47h0m2 142h0m4 30h0m6-80h0m2 38h0m1-85h0m1 25h0m2-30h0m1-11h0m0-9h0m2 32h0m0-46h0m1 6h0m3 129h0m0-83h0m3-29h0m0 80h0m0-52h0m1 24h0m5-38h0m1 15h0m2 5h0m5 55h0m4-72h0m2 12h0m5-27h0m2-1h0m1 71h0m2 26h0m0-82h0m3 29h0m0-69h0m4 96h0m4-56h0m12 33h0m4-2h0m2-30h0m7-14h0m0 2h0m13 104h0m7-31h0m2-44h0m1-29h0m1 39h0m11-40h0m0 42h0m1-3h0m0 16h0m2-75h0m0 68h0m11-14h0m9-14h0m3-25h0m8 64h0m7-46h0m9 32h0m1-58h0m6 58h0m1-77h0m16 49h0m3 9h0m7 63h0" stroke="#2b2b2b" stroke-width="12.2" stroke-linecap="round" fill="none"/>
<polygon points="840.9,191.9 844.3,196.0 847.8,199.6 851.2,201.9 854.7,202.8 858.1,203.2 861.6,202.1 865.0,200.5 868.4,198.7 871.9,196.9 875.3,195.0 878.8,193.0 882.2,190.8 885.7,188.4 889.1,186.0 892.5,183.6 896.0,180.4 899.4,176.9 902.9,173.3 906.3,169.6 909.8,165.8 913.2,161.7 916.7,157.6 920.1,153.4 923.5,149.7 927.0,147.6 930.4,145.4 933.9,143.2 937.3,141.0 940.8,139.5 944.2,138.1 947.6,136.6 951.1,135.1 954.5,134.1 958.0,133.2 961.4,132.3 964.9,131.5 968.3,131.1 971.7,130.9 975.2,130.7 978.6,130.6 982.1,130.6 985.5,130.7 989.0,130.8 992.4,130.8 995.8,130.8 999.3,130.8 1002.7,130.7 1006.2,130.4 1009.6,130.0 1013.1,129.4 1016.5,128.5 1019.9,127.2 1023.4,125.0 1026.8,123.7 1030.3,124.5 1033.7,125.5 1037.2,126.4 1040.6,127.4 1044.0,128.4 1044.0,170.4 1040.6,170.2 1037.2,170.0 1033.7,169.8 1030.3,169.7 1026.8,169.6 1023.4,167.3 1019.9,164.2 1016.5,162.0 1013.1,160.2 1009.6,158.9 1006.2,157.9 1002.7,157.1 999.3,156.4 995.8,155.9 992.4,155.5 989.0,155.3 985.5,155.1 982.1,154.9 978.6,155.0 975.2,155.2 971.7,155.3 968.3,155.3 964.9,155.5 961.4,155.8 958.0,156.0 954.5,156.2 951.1,156.5 947.6,157.1 944.2,157.7 940.8,158.3 937.3,158.9 933.9,160.1 930.4,161.4 927.0,162.6 923.5,163.9 920.1,166.8 916.7,170.2 913.2,173.7 909.8,177.2 906.3,180.5 902.9,183.8 899.4,187.1 896.0,190.4 892.5,193.4 889.1,195.8 885.7,198.2 882.2,200.7 878.8,203.2 875.3,205.5 871.9,207.9 868.4,210.4 865.0,213.2 861.6,216.1 858.1,218.9 854.7,221.0 851.2,223.5 847.8,226.2 844.3,229.9 840.9,233.9" fill="#999999" fill-opacity="0.4"/>
<polyline points="840.9,212.9 850.2,212.9 858.9,210.9 867.6,205.1 879.2,197.8 893.7,187.7 908.2,173.2 922.7,157.2 937.2,150.0 951.8,145.6 966.3,143.3 980.8,142.7 995.3,143.3 1012.7,144.7 1030.1,147.1 1044.0,149.4" fill="none" stroke="#1662c4" stroke-width="2.5" stroke-linejoin="round" stroke-linecap="round"/>
</g>
<text class="rd" transform="translate(1050.1,103.8) scale(1,1.06)" text-anchor="end">partial.cor = 0.315</text>
<text class="rd" transform="translate(1050.1,118.7) scale(1,1.06)" text-anchor="end">p = 9.58e-12</text>
<rect x="831.5" y="88.5" width="222.0" height="214.5" fill="none" stroke="#333" stroke-width="1"/>
<line x1="831.5" x2="1053.5" y1="88.5" y2="88.5" stroke="#262626" stroke-width="1.8"/>
<line x1="831.5" x2="1053.5" y1="303.0" y2="303.0" stroke="#262626" stroke-width="1.6"/>
<line x1="841.0" x2="841.0" y1="303.0" y2="306.8" stroke="#333" stroke-width="1.6"/>
<text class="ax" x="841.0" y="319.3" text-anchor="middle">0.0</text>
<line x1="881.6" x2="881.6" y1="303.0" y2="306.8" stroke="#333" stroke-width="1.6"/>
<text class="ax" x="881.6" y="319.3" text-anchor="middle">0.1</text>
<line x1="922.2" x2="922.2" y1="303.0" y2="306.8" stroke="#333" stroke-width="1.6"/>
<text class="ax" x="922.2" y="319.3" text-anchor="middle">0.2</text>
<line x1="962.9" x2="962.9" y1="303.0" y2="306.8" stroke="#333" stroke-width="1.6"/>
<text class="ax" x="962.9" y="319.3" text-anchor="middle">0.3</text>
<line x1="1003.5" x2="1003.5" y1="303.0" y2="306.8" stroke="#333" stroke-width="1.6"/>
<text class="ax" x="1003.5" y="319.3" text-anchor="middle">0.4</text>
<line x1="1044.2" x2="1044.2" y1="303.0" y2="306.8" stroke="#333" stroke-width="1.6"/>
<text class="ax" x="1044.2" y="319.3" text-anchor="middle">0.5</text>
<rect x="1062.0" y="65.4" width="222.0" height="23.1" fill="#d9d9d9" stroke="#555" stroke-width="1"/>
<text class="st" transform="translate(1173.0,81.3) scale(1,1.08)" text-anchor="middle">Macrophage</text>
<g><clipPath id="cp0_4"><rect x="1062.0" y="88.5" width="222.0" height="214.5"/></clipPath></g>
<g clip-path="url(#cp0_4)">
<line x1="1096.7" x2="1096.7" y1="88.5" y2="303.0" stroke="#f2f2f2" stroke-width="0.8"/>
<line x1="1146.5" x2="1146.5" y1="88.5" y2="303.0" stroke="#f2f2f2" stroke-width="0.8"/>
<line x1="1196.4" x2="1196.4" y1="88.5" y2="303.0" stroke="#f2f2f2" stroke-width="0.8"/>
<line x1="1246.3" x2="1246.3" y1="88.5" y2="303.0" stroke="#f2f2f2" stroke-width="0.8"/>
<line x1="1062.0" x2="1284.0" y1="266.7" y2="266.7" stroke="#f2f2f2" stroke-width="0.8"/>
<line x1="1062.0" x2="1284.0" y1="210.4" y2="210.4" stroke="#f2f2f2" stroke-width="0.8"/>
<line x1="1062.0" x2="1284.0" y1="154.2" y2="154.2" stroke="#f2f2f2" stroke-width="0.8"/>
<line x1="1062.0" x2="1284.0" y1="97.9" y2="97.9" stroke="#f2f2f2" stroke-width="0.8"/>
<line x1="1071.7" x2="1071.7" y1="88.5" y2="303.0" stroke="#ebebeb" stroke-width="1.2"/>
<line x1="1121.6" x2="1121.6" y1="88.5" y2="303.0" stroke="#ebebeb" stroke-width="1.2"/>
<line x1="1171.5" x2="1171.5" y1="88.5" y2="303.0" stroke="#ebebeb" stroke-width="1.2"/>
<line x1="1221.3" x2="1221.3" y1="88.5" y2="303.0" stroke="#ebebeb" stroke-width="1.2"/>
<line x1="1271.2" x2="1271.2" y1="88.5" y2="303.0" stroke="#ebebeb" stroke-width="1.2"/>
<line x1="1062.0" x2="1284.0" y1="294.8" y2="294.8" stroke="#ebebeb" stroke-width="1.2"/>
<line x1="1062.0" x2="1284.0" y1="238.6" y2="238.6" stroke="#ebebeb" stroke-width="1.2"/>
<line x1="1062.0" x2="1284.0" y1="182.3" y2="182.3" stroke="#ebebeb" stroke-width="1.2"/>
<line x1="1062.0" x2="1284.0" y1="126.1" y2="126.1" stroke="#ebebeb" stroke-width="1.2"/>
<path transform="scale(0.5)" d="M2143 562h0m0 24h0m0-318h0m0 15h0m0 194h0m0 5h0m0-114h0m0 151h0m0-67h0m0-36h0m0 6h0m0-85h0m0 135h0m0 41h0m0-85h0m0 95h0m0-136h0m0 92h0m0-117h0m0-69h0m0 87h0m0 79h0m0-152h0m0 6h0m0 173h0m0-213h0m0 13h0m0-6h0m0-42h0m0 50h0m0 9h0m0 86h0m0-59h0m0-9h0m0-48h0m0 191h0m0-17h0m0-186h0m0 261h0m0-273h0m0 21h0m0 130h0m0-48h0m0 63h0m0-118h0m0-44h0m0 9h0m0 134h0m0-139h0m0 187h0m0-87h0m0 82h0m0-20h0m0 27h0m0-122h0m0 127h0m0 23h0m0-71h0m0 105h0m0-54h0m0 47h0m0-252h0m0 90h0m0 33h0m0 133h0m0-97h0m0 68h0m0 22h0m0-121h0m0 28h0m0-77h0m0 38h0m0 17h0m0-33h0m0 13h0m0 17h0m0 37h0m0 44h0m0-103h0m0-118h0m0 67h0m0 208h0m0-88h0m0-117h0m0 125h0m0-88h0m0 122h0m0-203h0m0 51h0m0 96h0m0-76h0m0 177h0m0-19h0m0 16h0m4-129h0m0-3h0m0 93h0m0-80h0m2 1h0m0-13h0m1-116h0m0 208h0m1-192h0m0 92h0m0-7h0m1-3h0m1 17h0m0 119h0m0-50h0m1-87h0m0 73h0m0-106h0m0 18h0m0 120h0m1-83h0m0-60h0m1 26h0m0 34h0m0-75h0m0 173h0m0-32h0m1-186h0m1 156h0m0-78h0m0-43h0m0 30h0m1 140h0m0 70h0m0-146h0m1 58h0m0-31h0m0-60h0m0 72h0m1-106h0m0 77h0m0-19h0m0 11h0m0 37h0m0-103h0m0 69h0m1-56h0m0-17h0m1 57h0m0-141h0m0 170h0m1-32h0m0-27h0m0 219h0m1-144h0m0-105h0m0 132h0m0-14h0m1 1h0m0-129h0m0 77h0m0-18h0m1-132h0m0 188h0m0-35h0m1-115h0m0 58h0m1-84h0m0 134h0m1-32h0m0 92h0m0-82h0m0-93h0m1 69h0m0 44h0m1-15h0m0 20h0m0 27h0m2 8h0m0 5h0m0-122h0m1 104h0m1-96h0m1-32h0m0 41h0m1 17h0m0 110h0m0-90h0m1 35h0m0-23h0m0-89h0m1 85h0m0 22h0m0-28h0m1-18h0m0-14h0m1 61h0m0-9h0m1-12h0m0-104h0m1 85h0m0 206h0m0-164h0m0 141h0m1-87h0m0-36h0m1-59h0m0-42h0m0 43h0m0 5h0m0-26h0m0 105h0m1-78h0m0-20h0m0 206h0m0-193h0m1 39h0m0 20h0m2-4h0m1-31h0m0 32h0m0-99h0m0 274h0m1-239h0m0-32h0m0 33h0m0 64h0m1-37h0m1-81h0m0 121h0m0 6h0m0 5h0m1-93h0m0 4h0m0 35h0m0 66h0m1-133h0m0 106h0m0-91h0m0 96h0m0 54h0m1-140h0m0-76h0m0 198h0m1-58h0m0-12h0m0-72h0m1 13h0m0 29h0m0 14h0m0 11h0m1-6h0m0-47h0m0 44h0m0 61h0m0-10h0m1-34h0m0-18h0m0-56h0m0 21h0m0 72h0m1-38h0m1-18h0m1 25h0m0 30h0m0 48h0m1-111h0m1 99h0m0-1h0m0-163h0m0 75h0m0-115h0m1 94h0m0 94h0m1 35h0m0-110h0m0-21h0m0 52h0m1 101h0m1-141h0m0 26h0m0-1h0m0-5h0m1-21h0m0 96h0m0-45h0m0 51h0m1-77h0m0-45h0m0-45h0m1-9h0m0 139h0m1-12h0m0 29h0m0-55h0m2 52h0m0-31h0m1-31h0m3-131h0m0 353h0m0-145h0m0 18h0m2-131h0m0 37h0m1-36h0m0 4h0m1 85h0m0-17h0m1-61h0m0 20h0m0-32h0m1-19h0m0 19h0m1 156h0m0-106h0m0-44h0m0 26h0m2 103h0m1-124h0m0 3h0m1 262h0m1-310h0m1 19h0m0 119h0m2-160h0m0 169h0m0-93h0m0 2h0m1-67h0m0 106h0m1-92h0m0 23h0m2 86h0m0-47h0m0-50h0m2 15h0m0-11h0m0-12h0m1-25h0m1 42h0m1 72h0m0-66h0m0-14h0m0-77h0m1 125h0m0 27h0m0-40h0m0-42h0m0 0h0m1 74h0m0-87h0m1-33h0m0 100h0m0 21h0m1-8h0m1-87h0m0 1h0m2 70h0m0 61h0m0-47h0m1 10h0m0-13h0m1-15h0m0 91h0m0-116h0m2 93h0m2-159h0m0 156h0m0-82h0m1-68h0m1 173h0m0-78h0m0-11h0m1-48h0m1 31h0m1 62h0m1-102h0m0 66h0m0 25h0m1 6h0m1-89h0m2 42h0m1-30h0m0-6h0m1 11h0m0-3h0m1 66h0m1-35h0m0-119h0m1 64h0m0 15h0m3 48h0m2 0h0m1-44h0m1 82h0m0-42h0m2-63h0m1 7h0m0 91h0m0-22h0m1 2h0m1-97h0m1 162h0m7-125h0m0 115h0m0-119h0m2-38h0m1 67h0m0 31h0m0 5h0m1-23h0m2-13h0m1-9h0m0 110h0m1-99h0m1-45h0m1 19h0m0-78h0m1 46h0m1 101h0m0-25h0m5-22h0m1 9h0m0 0h0m0 34h0m5 64h0m1-91h0m0-8h0m1-41h0m0 76h0m3-9h0m5-54h0m8-13h0m1 15h0m3 118h0m3-63h0m0-16h0m3 8h0m2-53h0m5 38h0m1 5h0m7 32h0m6-57h0m1 73h0m2-8h0m3-62h0m5-19h0m6-15h0m1 215h0m3-133h0m3-20h0m1 24h0m3-84h0m1 71h0m10-21h0m2-20h0m3 48h0m17-59h0m16 17h0m1 47h0m7-60h0m2-5h0m5 84h0m0-55h0m2-9h0m2 11h0m1-73h0m6 69h0m3 83h0m15-77h0m6 64h0m0-72h0m7-12h0m1 54h0m6 11h0m8-59h0m7 17h0" stroke="#2b2b2b" stroke-width="12.2" stroke-linecap="round" fill="none"/>
<polygon points="1071.8,193.5 1075.2,188.5 1078.7,184.4 1082.1,182.0 1085.5,179.5 1088.9,178.8 1092.4,178.0 1095.8,177.2 1099.2,175.4 1102.6,173.3 1106.0,171.1 1109.5,169.0 1112.9,167.1 1116.3,165.3 1119.7,163.4 1123.1,161.5 1126.6,159.7 1130.0,158.7 1133.4,157.6 1136.8,156.5 1140.2,155.4 1143.7,154.3 1147.1,153.4 1150.5,152.9 1153.9,152.3 1157.4,151.6 1160.8,151.0 1164.2,150.3 1167.6,149.6 1171.0,148.8 1174.5,148.3 1177.9,148.1 1181.3,147.8 1184.7,147.6 1188.1,147.4 1191.6,147.1 1195.0,146.9 1198.4,146.7 1201.8,146.6 1205.3,146.8 1208.7,147.1 1212.1,147.4 1215.5,147.8 1218.9,148.3 1222.4,148.9 1225.8,149.3 1229.2,149.8 1232.6,150.3 1236.0,150.6 1239.5,150.6 1242.9,150.3 1246.3,149.4 1249.7,147.8 1253.2,145.2 1256.6,141.2 1260.0,140.7 1263.4,141.6 1266.8,142.5 1270.3,143.4 1273.7,144.3 1273.7,210.3 1270.3,209.2 1266.8,208.2 1263.4,207.1 1260.0,206.1 1256.6,203.6 1253.2,197.8 1249.7,193.5 1246.3,190.2 1242.9,187.6 1239.5,185.5 1236.0,183.8 1232.6,182.4 1229.2,181.1 1225.8,180.2 1222.4,179.5 1218.9,178.9 1215.5,178.2 1212.1,177.5 1208.7,176.6 1205.3,175.7 1201.8,174.7 1198.4,173.9 1195.0,173.3 1191.6,172.6 1188.1,172.0 1184.7,171.3 1181.3,170.7 1177.9,170.0 1174.5,169.4 1171.0,168.9 1167.6,168.6 1164.2,168.2 1160.8,168.0 1157.4,167.7 1153.9,167.5 1150.5,167.3 1147.1,167.1 1143.7,167.3 1140.2,167.9 1136.8,168.4 1133.4,169.0 1130.0,169.6 1126.6,170.2 1123.1,171.7 1119.7,173.3 1116.3,174.8 1112.9,176.4 1109.5,178.1 1106.0,180.0 1102.6,182.0 1099.2,184.0 1095.8,185.9 1092.4,186.7 1088.9,187.7 1085.5,188.7 1082.1,191.8 1078.7,195.1 1075.2,200.5 1071.8,207.5" fill="#999999" fill-opacity="0.4"/>
<polyline points="1071.8,200.5 1077.3,190.9 1085.5,184.1 1096.4,181.4 1110.0,173.2 1126.4,165.0 1145.5,160.4 1172.8,158.7 1200.0,160.4 1227.3,165.0 1254.6,171.8 1273.7,177.3" fill="none" stroke="#1662c4" stroke-width="2.5" stroke-linejoin="round" stroke-linecap="round"/>
</g>
<text class="rd" transform="translate(1280.6,103.8) scale(1,1.06)" text-anchor="end">partial.cor = 0.215</text>
<text class="rd" transform="translate(1280.6,118.7) scale(1,1.06)" text-anchor="end">p = 3.86e-06</text>
<rect x="1062.0" y="88.5" width="222.0" height="214.5" fill="none" stroke="#333" stroke-width="1"/>
<line x1="1062.0" x2="1284.0" y1="88.5" y2="88.5" stroke="#262626" stroke-width="1.8"/>
<line x1="1062.0" x2="1284.0" y1="303.0" y2="303.0" stroke="#262626" stroke-width="1.6"/>
<line x1="1071.7" x2="1071.7" y1="303.0" y2="306.8" stroke="#333" stroke-width="1.6"/>
<text class="ax" x="1071.7" y="319.3" text-anchor="middle">0.0</text>
<line x1="1121.6" x2="1121.6" y1="303.0" y2="306.8" stroke="#333" stroke-width="1.6"/>
<text class="ax" x="1121.6" y="319.3" text-anchor="middle">0.1</text>
<line x1="1171.5" x2="1171.5" y1="303.0" y2="306.8" stroke="#333" stroke-width="1.6"/>
<text class="ax" x="1171.5" y="319.3" text-anchor="middle">0.2</text>
<line x1="1221.3" x2="1221.3" y1="303.0" y2="306.8" stroke="#333" stroke-width="1.6"/>
<text class="ax" x="1221.3" y="319.3" text-anchor="middle">0.3</text>
<line x1="1271.2" x2="1271.2" y1="303.0" y2="306.8" stroke="#333" stroke-width="1.6"/>
<text class="ax" x="1271.2" y="319.3" text-anchor="middle">0.4</text>
<rect x="1292.5" y="65.4" width="222.0" height="23.1" fill="#d9d9d9" stroke="#555" stroke-width="1"/>
<text class="st" transform="translate(1403.5,81.3) scale(1,1.08)" text-anchor="middle">Neutrophil</text>
<g><clipPath id="cp0_5"><rect x="1292.5" y="88.5" width="222.0" height="214.5"/></clipPath></g>
<g clip-path="url(#cp0_5)">
<line x1="1330.8" x2="1330.8" y1="88.5" y2="303.0" stroke="#f2f2f2" stroke-width="0.8"/>
<line x1="1387.7" x2="1387.7" y1="88.5" y2="303.0" stroke="#f2f2f2" stroke-width="0.8"/>
<line x1="1444.6" x2="1444.6" y1="88.5" y2="303.0" stroke="#f2f2f2" stroke-width="0.8"/>
<line x1="1501.5" x2="1501.5" y1="88.5" y2="303.0" stroke="#f2f2f2" stroke-width="0.8"/>
<line x1="1292.5" x2="1514.5" y1="266.7" y2="266.7" stroke="#f2f2f2" stroke-width="0.8"/>
<line x1="1292.5" x2="1514.5" y1="210.4" y2="210.4" stroke="#f2f2f2" stroke-width="0.8"/>
<line x1="1292.5" x2="1514.5" y1="154.2" y2="154.2" stroke="#f2f2f2" stroke-width="0.8"/>
<line x1="1292.5" x2="1514.5" y1="97.9" y2="97.9" stroke="#f2f2f2" stroke-width="0.8"/>
<line x1="1302.4" x2="1302.4" y1="88.5" y2="303.0" stroke="#ebebeb" stroke-width="1.2"/>
<line x1="1359.3" x2="1359.3" y1="88.5" y2="303.0" stroke="#ebebeb" stroke-width="1.2"/>
<line x1="1416.2" x2="1416.2" y1="88.5" y2="303.0" stroke="#ebebeb" stroke-width="1.2"/>
<line x1="1473.0" x2="1473.0" y1="88.5" y2="303.0" stroke="#ebebeb" stroke-width="1.2"/>
<line x1="1292.5" x2="1514.5" y1="294.8" y2="294.8" stroke="#ebebeb" stroke-width="1.2"/>
<line x1="1292.5" x2="1514.5" y1="238.6" y2="238.6" stroke="#ebebeb" stroke-width="1.2"/>
<line x1="1292.5" x2="1514.5" y1="182.3" y2="182.3" stroke="#ebebeb" stroke-width="1.2"/>
<line x1="1292.5" x2="1514.5" y1="126.1" y2="126.1" stroke="#ebebeb" stroke-width="1.2"/>
<path transform="scale(0.5)" d="M2609 456h0m2 42h0m2-67h0m7 17h0m9-14h0m0-5h0m0-17h0m2 129h0m0-132h0m1-1h0m2 35h0m1-43h0m1 81h0m1-102h0m1 111h0m0-65h0m1 72h0m2-84h0m0 30h0m0 18h0m1-11h0m1-57h0m0-14h0m0 37h0m2-12h0m0-9h0m0-27h0m1 16h0m0 45h0m1 32h0m3-48h0m0-7h0m1 163h0m0-150h0m3 26h0m0 10h0m0 16h0m0-77h0m1 2h0m1 19h0m0 35h0m3-43h0m0-23h0m0 20h0m0 182h0m0-134h0m1-17h0m0 18h0m1-134h0m0 150h0m0-63h0m1 7h0m0 42h0m0-49h0m1 17h0m0 20h0m0 49h0m1-127h0m1 146h0m0-59h0m1-33h0m0 3h0m1 25h0m0-71h0m1 81h0m0-14h0m1-75h0m1 109h0m1-136h0m0 108h0m1-82h0m0 78h0m1-53h0m1 13h0m1-7h0m0 82h0m1-30h0m1 111h0m0-183h0m0-15h0m0 26h0m0 8h0m1 100h0m0-132h0m0 109h0m0-86h0m1-47h0m0 76h0m0 20h0m1-77h0m0 3h0m0 77h0m0-11h0m1-60h0m0 71h0m0 85h0m0-108h0m1 49h0m0-58h0m0 50h0m0-115h0m1-4h0m0-73h0m0 122h0m0-18h0m0 15h0m1 22h0m0 5h0m0-14h0m1 83h0m0-118h0m1 100h0m0-44h0m0-23h0m0-2h0m1-66h0m0 69h0m0 22h0m0-85h0m0 82h0m1 142h0m1-274h0m0 43h0m0 92h0m0-48h0m0-7h0m0 17h0m0-38h0m1 121h0m0-78h0m0-60h0m0 52h0m0-21h0m0 31h0m1 48h0m0-45h0m0 115h0m0 43h0m0-69h0m0-160h0m0 54h0m1 71h0m0-74h0m0-9h0m1-3h0m0 72h0m0 77h0m1-185h0m0 52h0m0 6h0m0 7h0m0 39h0m1 15h0m1-40h0m0-42h0m0-28h0m1 54h0m1-89h0m1 105h0m0-23h0m0-16h0m1-30h0m0 115h0m1-99h0m0 98h0m0-104h0m1 34h0m0-95h0m0 63h0m0-5h0m1 50h0m0 11h0m1-63h0m0 39h0m0-96h0m1 73h0m0 32h0m0-61h0m0 92h0m0 13h0m1 33h0m0-87h0m0-86h0m1 70h0m0 56h0m0-1h0m0-97h0m0 102h0m0-106h0m1 108h0m0-63h0m0-26h0m0-10h0m1-24h0m0 33h0m0 49h0m1 90h0m0-127h0m0 88h0m0-60h0m0-22h0m1 13h0m0-32h0m0-17h0m1 179h0m0-121h0m0 10h0m0 28h0m1-54h0m0-44h0m0 93h0m0-97h0m0 197h0m1-45h0m0-63h0m0-54h0m1 40h0m0 96h0m1-134h0m0 30h0m0 59h0m0-64h0m1-2h0m0-2h0m0 13h0m0 10h0m0-36h0m1 14h0m0-22h0m1-8h0m0 77h0m0-5h0m1-101h0m1 3h0m0 78h0m0-66h0m1 67h0m0-31h0m0 9h0m0 6h0m1-37h0m1 69h0m1-70h0m0-10h0m0 36h0m0 8h0m1 34h0m0-34h0m0 31h0m0-49h0m0 88h0m0-30h0m1-35h0m0 107h0m0-80h0m1-66h0m0-31h0m1 16h0m1-3h0m0 63h0m0 40h0m1 65h0m0-121h0m0-137h0m0 175h0m0-107h0m1 62h0m1-34h0m0-50h0m0-2h0m0 45h0m1 117h0m1-80h0m1 40h0m0-42h0m1 22h0m0 29h0m0-47h0m1 29h0m0 9h0m0-107h0m0 66h0m1 6h0m1-31h0m0 103h0m0-32h0m0-47h0m1-40h0m0 60h0m0-57h0m0 14h0m1 36h0m0-58h0m0-17h0m1 42h0m0 53h0m0 60h0m0-63h0m1 32h0m0-81h0m1 6h0m1 14h0m0 34h0m0-80h0m0 12h0m0 42h0m1 25h0m0-183h0m1 158h0m0 22h0m0 6h0m1-64h0m0-8h0m0 35h0m1 3h0m0-40h0m0 108h0m1-34h0m0-46h0m1-1h0m0-38h0m1 4h0m0-14h0m0 22h0m1 17h0m0-117h0m0 107h0m0 109h0m0-116h0m0 21h0m0-24h0m2 85h0m0-57h0m0 58h0m0-59h0m2-28h0m0 23h0m0 12h0m0-11h0m1-91h0m1 109h0m1-44h0m0 32h0m0-53h0m1 58h0m0-43h0m0 50h0m1-30h0m1 3h0m1 1h0m0-75h0m0 44h0m0-22h0m0 102h0m1-80h0m0 60h0m1-9h0m0 114h0m1-159h0m0-2h0m1-8h0m1 107h0m0-96h0m1 27h0m1 0h0m0-80h0m1 39h0m0-47h0m0 73h0m1 4h0m0-40h0m0 121h0m1-127h0m0 62h0m1-25h0m1-36h0m0 45h0m1 0h0m0 90h0m0-113h0m0 18h0m1-3h0m1-21h0m1 77h0m0-70h0m2 13h0m0-9h0m0-8h0m0 25h0m0 58h0m1-87h0m2 17h0m1 56h0m2-93h0m1 57h0m0 31h0m0-29h0m1 39h0m0-35h0m0 58h0m3-162h0m0 47h0m0 70h0m0-70h0m1 113h0m2-140h0m1 78h0m1-44h0m4 41h0m0-58h0m1 34h0m3 39h0m1-22h0m0-44h0m1-2h0m3 54h0m0-13h0m1-57h0m0 72h0m1-61h0m1 26h0m0 98h0m1-142h0m2 111h0m2-96h0m3-9h0m1-18h0m2 18h0m2 82h0m1-78h0m2 23h0m5-28h0m6-19h0m3 53h0m1 18h0m2 71h0m5-115h0m5 42h0m0-45h0m2 16h0m9 33h0m0-6h0m4-48h0m2-18h0m1 43h0m8 1h0m3 11h0m3-40h0m3 137h0m14-122h0m8 75h0m1-124h0m8 41h0m1-31h0m9 35h0m9 44h0m0-38h0m8-48h0m7 46h0m11 3h0m3-29h0m3 15h0m4-15h0m2 26h0m2-33h0m1 0h0m2 14h0m0-3h0m5 15h0m2-23h0m12 45h0" stroke="#2b2b2b" stroke-width="12.2" stroke-linecap="round" fill="none"/>
<polygon points="1303.2,202.4 1306.6,205.6 1310.0,208.5 1313.5,210.3 1316.9,211.1 1320.3,210.9 1323.7,210.4 1327.1,209.4 1330.6,207.2 1334.0,204.8 1337.4,202.3 1340.8,199.6 1344.2,196.4 1347.7,193.1 1351.1,189.8 1354.5,186.4 1357.9,183.0 1361.3,179.6 1364.8,176.2 1368.2,172.7 1371.6,169.7 1375.0,167.3 1378.5,164.7 1381.9,162.2 1385.3,159.7 1388.7,157.1 1392.1,154.6 1395.6,152.0 1399.0,149.4 1402.4,146.8 1405.8,145.0 1409.2,143.4 1412.7,141.7 1416.1,140.0 1419.5,138.3 1422.9,136.6 1426.4,134.9 1429.8,133.2 1433.2,131.8 1436.6,130.5 1440.0,129.3 1443.5,128.0 1446.9,126.8 1450.3,125.6 1453.7,124.5 1457.1,123.4 1460.6,122.5 1464.0,121.7 1467.4,120.9 1470.8,120.2 1474.3,119.4 1477.7,118.6 1481.1,117.6 1484.5,116.6 1487.9,115.9 1491.4,114.9 1494.8,113.5 1498.2,111.7 1501.6,109.0 1505.0,107.3 1505.0,139.3 1501.6,138.3 1498.2,136.4 1494.8,135.2 1491.4,134.6 1487.9,134.4 1484.5,134.4 1481.1,135.0 1477.7,135.8 1474.3,136.7 1470.8,137.6 1467.4,138.6 1464.0,139.5 1460.6,140.4 1457.1,141.3 1453.7,142.2 1450.3,143.1 1446.9,144.0 1443.5,144.9 1440.0,145.7 1436.6,146.4 1433.2,147.2 1429.8,148.0 1426.4,149.0 1422.9,150.0 1419.5,151.1 1416.1,152.1 1412.7,153.1 1409.2,154.2 1405.8,155.3 1402.4,156.5 1399.0,158.7 1395.6,160.8 1392.1,163.1 1388.7,165.3 1385.3,167.6 1381.9,170.0 1378.5,172.3 1375.0,174.7 1371.6,177.1 1368.2,180.0 1364.8,183.4 1361.3,186.9 1357.9,190.3 1354.5,193.8 1351.1,197.3 1347.7,200.8 1344.2,204.3 1340.8,207.9 1337.4,211.0 1334.0,214.0 1330.6,217.1 1327.1,220.3 1323.7,222.5 1320.3,224.6 1316.9,227.0 1313.5,229.1 1310.0,231.4 1306.6,234.7 1303.2,238.4" fill="#999999" fill-opacity="0.4"/>
<polyline points="1303.2,220.4 1315.5,219.6 1326.4,215.5 1340.0,204.6 1353.7,190.9 1370.0,174.6 1389.1,160.9 1402.8,151.4 1430.0,140.5 1457.3,132.3 1484.6,125.5 1505.0,123.3" fill="none" stroke="#1662c4" stroke-width="2.5" stroke-linejoin="round" stroke-linecap="round"/>
</g>
<text class="rd" transform="translate(1511.1,103.8) scale(1,1.06)" text-anchor="end">partial.cor = 0.578</text>
<text class="rd" transform="translate(1511.1,118.7) scale(1,1.06)" text-anchor="end">p = 3.11e-35</text>
<rect x="1292.5" y="88.5" width="222.0" height="214.5" fill="none" stroke="#333" stroke-width="1"/>
<line x1="1292.5" x2="1514.5" y1="88.5" y2="88.5" stroke="#262626" stroke-width="1.8"/>
<line x1="1292.5" x2="1514.5" y1="303.0" y2="303.0" stroke="#262626" stroke-width="1.6"/>
<line x1="1302.4" x2="1302.4" y1="303.0" y2="306.8" stroke="#333" stroke-width="1.6"/>
<text class="ax" x="1302.4" y="319.3" text-anchor="middle">0.0</text>
<line x1="1359.3" x2="1359.3" y1="303.0" y2="306.8" stroke="#333" stroke-width="1.6"/>
<text class="ax" x="1359.3" y="319.3" text-anchor="middle">0.1</text>
<line x1="1416.2" x2="1416.2" y1="303.0" y2="306.8" stroke="#333" stroke-width="1.6"/>
<text class="ax" x="1416.2" y="319.3" text-anchor="middle">0.2</text>
<line x1="1473.0" x2="1473.0" y1="303.0" y2="306.8" stroke="#333" stroke-width="1.6"/>
<text class="ax" x="1473.0" y="319.3" text-anchor="middle">0.3</text>
<rect x="1523.0" y="65.4" width="222.0" height="23.1" fill="#d9d9d9" stroke="#555" stroke-width="1"/>
<text class="st" transform="translate(1634.0,81.3) scale(1,1.08)" text-anchor="middle">Dendritic Cell</text>
<g><clipPath id="cp0_6"><rect x="1523.0" y="88.5" width="222.0" height="214.5"/></clipPath></g>
<g clip-path="url(#cp0_6)">
<line x1="1568.9" x2="1568.9" y1="88.5" y2="303.0" stroke="#f2f2f2" stroke-width="0.8"/>
<line x1="1617.3" x2="1617.3" y1="88.5" y2="303.0" stroke="#f2f2f2" stroke-width="0.8"/>
<line x1="1665.7" x2="1665.7" y1="88.5" y2="303.0" stroke="#f2f2f2" stroke-width="0.8"/>
<line x1="1714.0" x2="1714.0" y1="88.5" y2="303.0" stroke="#f2f2f2" stroke-width="0.8"/>
<line x1="1523.0" x2="1745.0" y1="266.7" y2="266.7" stroke="#f2f2f2" stroke-width="0.8"/>
<line x1="1523.0" x2="1745.0" y1="210.4" y2="210.4" stroke="#f2f2f2" stroke-width="0.8"/>
<line x1="1523.0" x2="1745.0" y1="154.2" y2="154.2" stroke="#f2f2f2" stroke-width="0.8"/>
<line x1="1523.0" x2="1745.0" y1="97.9" y2="97.9" stroke="#f2f2f2" stroke-width="0.8"/>
<line x1="1544.7" x2="1544.7" y1="88.5" y2="303.0" stroke="#ebebeb" stroke-width="1.2"/>
<line x1="1593.1" x2="1593.1" y1="88.5" y2="303.0" stroke="#ebebeb" stroke-width="1.2"/>
<line x1="1641.5" x2="1641.5" y1="88.5" y2="303.0" stroke="#ebebeb" stroke-width="1.2"/>
<line x1="1689.9" x2="1689.9" y1="88.5" y2="303.0" stroke="#ebebeb" stroke-width="1.2"/>
<line x1="1738.2" x2="1738.2" y1="88.5" y2="303.0" stroke="#ebebeb" stroke-width="1.2"/>
<line x1="1523.0" x2="1745.0" y1="294.8" y2="294.8" stroke="#ebebeb" stroke-width="1.2"/>
<line x1="1523.0" x2="1745.0" y1="238.6" y2="238.6" stroke="#ebebeb" stroke-width="1.2"/>
<line x1="1523.0" x2="1745.0" y1="182.3" y2="182.3" stroke="#ebebeb" stroke-width="1.2"/>
<line x1="1523.0" x2="1745.0" y1="126.1" y2="126.1" stroke="#ebebeb" stroke-width="1.2"/>
<path transform="scale(0.5)" d="M3070 397h0m2 26h0m2 52h0m1 8h0m1 36h0m0-106h0m1 26h0m0 99h0m1-84h0m1 71h0m0-5h0m0 53h0m1-71h0m0 10h0m0-82h0m1 104h0m0 37h0m1-123h0m1 25h0m0-33h0m0 55h0m1-70h0m0 11h0m1 19h0m0-2h0m1 3h0m0-7h0m0 22h0m0 51h0m0-34h0m0 76h0m1-82h0m0 0h0m0-11h0m0-34h0m1 10h0m1-25h0m0 132h0m0-47h0m0-89h0m0-13h0m0 52h0m0 35h0m1 17h0m0 14h0m0 2h0m0-66h0m1 20h0m0 19h0m0 28h0m1 34h0m0 7h0m0-73h0m0-10h0m1-1h0m0-23h0m0-44h0m1 5h0m0 71h0m0-74h0m1 44h0m0 35h0m0-143h0m0 80h0m1 26h0m0-42h0m0 37h0m0-107h0m0 66h0m1 38h0m0 3h0m0-10h0m1-20h0m0 29h0m0-17h0m0 66h0m0-56h0m1-28h0m0 103h0m0-119h0m0-51h0m0 116h0m1 23h0m0-72h0m2 44h0m0 32h0m0-72h0m0-10h0m1-23h0m0-53h0m0 92h0m0 8h0m0-29h0m0-15h0m1 49h0m1 61h0m0-81h0m0 79h0m1 19h0m0-43h0m0-96h0m0 13h0m1 136h0m0-81h0m0 137h0m0-121h0m1 23h0m0-33h0m0-17h0m0 40h0m1 40h0m0-39h0m0 25h0m0 14h0m1-67h0m0-53h0m0-18h0m0 47h0m1-10h0m0 30h0m0-44h0m0 66h0m0-37h0m0-10h0m0 7h0m0-18h0m1-8h0m0 21h0m0-18h0m0 19h0m1 20h0m0 13h0m0-110h0m0 22h0m1-1h0m0 77h0m0 8h0m2-94h0m0 139h0m0-101h0m0-13h0m0 45h0m1 80h0m0-17h0m0-45h0m0-6h0m0-3h0m0-62h0m1-22h0m0 93h0m0-47h0m0 46h0m0-44h0m1 112h0m0-128h0m1 63h0m0-27h0m0 2h0m0-23h0m0 61h0m0-44h0m2-48h0m0 43h0m0 41h0m0-31h0m1 8h0m0 42h0m1 12h0m1-94h0m1-11h0m0-12h0m0-12h0m0 40h0m1 77h0m0-146h0m0 111h0m0 14h0m0-51h0m1 91h0m0-117h0m0 39h0m0-1h0m1 5h0m0-110h0m0 22h0m0 109h0m1-67h0m0 93h0m0-63h0m0-12h0m1-4h0m0 8h0m0 75h0m0-7h0m1-137h0m1 66h0m0 46h0m0-10h0m0 8h0m1-47h0m0 56h0m0 14h0m0-61h0m2-10h0m0-8h0m1 76h0m0-26h0m0 8h0m0-50h0m0-62h0m1 112h0m0 109h0m1-78h0m0-75h0m0-73h0m0 127h0m0-35h0m0-24h0m1 29h0m0-67h0m0-27h0m0 153h0m1-149h0m0 144h0m1-108h0m0 5h0m0 8h0m1-21h0m0 155h0m0-163h0m1 74h0m0 13h0m0-55h0m0-37h0m1 93h0m0-19h0m0-3h0m1-69h0m0 130h0m0-49h0m0-47h0m0-18h0m1 23h0m0 23h0m0-19h0m0-25h0m1 16h0m0-71h0m0 128h0m0-13h0m1 2h0m1 10h0m0-62h0m1-23h0m0 13h0m0 88h0m0-130h0m0 122h0m1 40h0m0-104h0m0 13h0m1 59h0m0-15h0m1-46h0m0-27h0m0 78h0m1-66h0m2 61h0m1-58h0m0 9h0m0-2h0m0-30h0m1 38h0m1-62h0m0 51h0m0 58h0m1-67h0m0-12h0m0-39h0m1 33h0m0-33h0m1 38h0m0-23h0m0 226h0m0-263h0m0 27h0m0 29h0m0 29h0m0-58h0m1 2h0m0-12h0m1 57h0m0 55h0m0-103h0m2 32h0m0-30h0m0 33h0m2 32h0m0-49h0m1 16h0m0 86h0m0-104h0m0-60h0m1 88h0m0-6h0m0-18h0m1 31h0m1-15h0m0-65h0m0 57h0m1-11h0m0-2h0m0 46h0m1-79h0m1 108h0m0-76h0m0 149h0m0-227h0m0 114h0m1-44h0m0 9h0m0 24h0m0 63h0m0-59h0m1-74h0m0 50h0m0 0h0m1 116h0m0-83h0m1-57h0m0 6h0m0 148h0m1-95h0m0-39h0m0 56h0m1 11h0m0-86h0m1 41h0m0 130h0m2-169h0m1-9h0m1 39h0m0 2h0m0-82h0m1 6h0m0 92h0m0 20h0m1-100h0m0 94h0m0-34h0m1-30h0m0-52h0m1 214h0m1-148h0m1-19h0m0-31h0m1-3h0m1 17h0m0 125h0m0-126h0m3 84h0m1 11h0m1-56h0m0-30h0m1 28h0m1 53h0m0 10h0m1-68h0m2-11h0m0 14h0m1 44h0m0-33h0m2-61h0m1 53h0m1 13h0m1-48h0m0 2h0m2 20h0m0 84h0m0-31h0m0-92h0m1 6h0m0 65h0m1-77h0m1 26h0m0-5h0m5-3h0m0 3h0m0 21h0m0-24h0m1-26h0m2 8h0m0 48h0m3-26h0m0-13h0m1 45h0m0-75h0m3-20h0m5 43h0m0-26h0m1 76h0m0-19h0m0 40h0m0-73h0m8 42h0m1-25h0m2-26h0m1 14h0m1-3h0m0-1h0m2 29h0m1 27h0m2-5h0m3-35h0m0 10h0m1-52h0m6 58h0m0-8h0m1 5h0m2-1h0m1-4h0m8 18h0m1 28h0m0-46h0m1 74h0m1-85h0m8 92h0m3-107h0m1-1h0m1 61h0m1-43h0m4-6h0m1 5h0m6-13h0m0-24h0m2 50h0m1-2h0m2-37h0m4 30h0m8-62h0m16 39h0m3 23h0m8-53h0m0 95h0m11-54h0m1 2h0m0-39h0m3 73h0m1-71h0m1-34h0m1 257h0m3-257h0m7 31h0m6 6h0m0 44h0m4-33h0m1-47h0m6 46h0m5 19h0m2-8h0m6 52h0m1 23h0m6-90h0m3-33h0m9 73h0m0-21h0m8-21h0m2 48h0m5-8h0m3-60h0m12 17h0" stroke="#2b2b2b" stroke-width="12.2" stroke-linecap="round" fill="none"/>
<polygon points="1533.1,232.2 1536.6,230.2 1540.0,228.2 1543.4,225.8 1546.9,223.1 1550.3,219.9 1553.7,216.5 1557.2,213.1 1560.6,209.5 1564.0,205.9 1567.4,201.4 1570.9,196.8 1574.3,192.3 1577.7,187.7 1581.2,183.4 1584.6,179.5 1588.0,175.7 1591.5,171.9 1594.9,168.3 1598.3,165.5 1601.8,162.6 1605.2,159.7 1608.6,157.5 1612.0,156.3 1615.5,155.1 1618.9,153.9 1622.3,152.7 1625.8,151.5 1629.2,150.3 1632.6,149.1 1636.1,147.9 1639.5,146.5 1642.9,145.2 1646.3,143.9 1649.8,142.5 1653.2,141.2 1656.6,139.9 1660.1,138.7 1663.5,137.6 1666.9,136.8 1670.4,136.0 1673.8,135.3 1677.2,134.6 1680.7,133.9 1684.1,133.1 1687.5,132.4 1690.9,131.8 1694.4,131.2 1697.8,130.7 1701.2,130.0 1704.7,129.3 1708.1,128.5 1711.5,127.6 1715.0,126.6 1718.4,125.5 1721.8,124.3 1725.3,122.7 1728.7,120.8 1732.1,119.7 1735.5,118.5 1735.5,144.5 1732.1,143.8 1728.7,143.3 1725.3,142.1 1721.8,141.0 1718.4,140.3 1715.0,140.1 1711.5,140.2 1708.1,140.5 1704.7,140.9 1701.2,141.4 1697.8,141.9 1694.4,142.5 1690.9,143.1 1687.5,143.9 1684.1,144.9 1680.7,145.9 1677.2,146.9 1673.8,147.9 1670.4,148.9 1666.9,149.8 1663.5,150.7 1660.1,151.7 1656.6,152.9 1653.2,154.0 1649.8,155.1 1646.3,156.1 1642.9,157.2 1639.5,158.3 1636.1,159.3 1632.6,160.3 1629.2,161.2 1625.8,162.1 1622.3,162.9 1618.9,163.8 1615.5,164.6 1612.0,165.5 1608.6,166.4 1605.2,168.3 1601.8,170.9 1598.3,173.5 1594.9,176.2 1591.5,179.5 1588.0,183.2 1584.6,186.9 1581.2,190.6 1577.7,194.9 1574.3,199.5 1570.9,204.1 1567.4,208.7 1564.0,213.3 1560.6,217.3 1557.2,221.2 1553.7,225.1 1550.3,229.2 1546.9,233.4 1543.4,237.6 1540.0,242.2 1536.6,247.3 1533.1,252.2" fill="#999999" fill-opacity="0.4"/>
<polyline points="1533.1,242.2 1547.3,227.8 1563.7,210.0 1580.1,188.2 1593.7,173.2 1607.3,162.3 1634.6,154.1 1661.9,144.6 1689.2,137.7 1716.4,133.1 1735.5,131.5" fill="none" stroke="#1662c4" stroke-width="2.5" stroke-linejoin="round" stroke-linecap="round"/>
</g>
<text class="rd" transform="translate(1741.6,103.8) scale(1,1.06)" text-anchor="end">partial.cor = 0.632</text>
<text class="rd" transform="translate(1741.6,118.7) scale(1,1.06)" text-anchor="end">p = 4.19e-51</text>
<rect x="1523.0" y="88.5" width="222.0" height="214.5" fill="none" stroke="#333" stroke-width="1"/>
<line x1="1523.0" x2="1745.0" y1="88.5" y2="88.5" stroke="#262626" stroke-width="1.8"/>
<line x1="1523.0" x2="1745.0" y1="303.0" y2="303.0" stroke="#262626" stroke-width="1.6"/>
<line x1="1544.7" x2="1544.7" y1="303.0" y2="306.8" stroke="#333" stroke-width="1.6"/>
<text class="ax" x="1544.7" y="319.3" text-anchor="middle">0.25</text>
<line x1="1593.1" x2="1593.1" y1="303.0" y2="306.8" stroke="#333" stroke-width="1.6"/>
<text class="ax" x="1593.1" y="319.3" text-anchor="middle">0.50</text>
<line x1="1641.5" x2="1641.5" y1="303.0" y2="306.8" stroke="#333" stroke-width="1.6"/>
<text class="ax" x="1641.5" y="319.3" text-anchor="middle">0.75</text>
<line x1="1689.9" x2="1689.9" y1="303.0" y2="306.8" stroke="#333" stroke-width="1.6"/>
<text class="ax" x="1689.9" y="319.3" text-anchor="middle">1.00</text>
<line x1="1738.2" x2="1738.2" y1="303.0" y2="306.8" stroke="#333" stroke-width="1.6"/>
<text class="ax" x="1738.2" y="319.3" text-anchor="middle">1.25</text>
<text class="lt" x="26.8" y="420.0">B</text>
<text class="gn" x="906.2" y="413.9" text-anchor="middle">JAK2</text>
<text class="tt" transform="translate(75.5,568.2) rotate(-90)" text-anchor="middle" style="font-size:15px">JAK2 Expression Level (log<tspan dy="3" style="font-size:9.0px">2</tspan><tspan dy="-3"> RSEM)</tspan></text>
<rect x="105.7" y="461.6" width="24.3" height="213.2" fill="#d9d9d9" stroke="#333" stroke-width="1.7"/>
<text class="st" transform="translate(122.2,568.2) rotate(-90)" text-anchor="middle">SKCM</text>
<line x1="102.2" x2="105.7" y1="499.3" y2="499.3" stroke="#333" stroke-width="1.6"/>
<text class="ax" transform="translate(99.0,499.3) rotate(-90) scale(0.82,1)" text-anchor="middle">12</text>
<line x1="102.2" x2="105.7" y1="557.0" y2="557.0" stroke="#333" stroke-width="1.6"/>
<text class="ax" transform="translate(99.0,557.0) rotate(-90) scale(0.82,1)" text-anchor="middle">9</text>
<line x1="102.2" x2="105.7" y1="614.7" y2="614.7" stroke="#333" stroke-width="1.6"/>
<text class="ax" transform="translate(99.0,614.7) rotate(-90) scale(0.82,1)" text-anchor="middle">6</text>
<line x1="102.2" x2="105.7" y1="672.4" y2="672.4" stroke="#333" stroke-width="1.6"/>
<text class="ax" transform="translate(99.0,672.4) rotate(-90) scale(0.82,1)" text-anchor="middle">3</text>
<text class="tt" x="937.6" y="708.8" text-anchor="middle">Infiltration Level</text>
<rect x="130.0" y="437.8" width="223.5" height="23.8" fill="#d9d9d9" stroke="#555" stroke-width="1"/>
<text class="st" transform="translate(241.8,453.7) scale(1,1.08)" text-anchor="middle">Purity</text>
<g><clipPath id="cp1_0"><rect x="130.0" y="461.6" width="223.5" height="213.2"/></clipPath></g>
<g clip-path="url(#cp1_0)">
<line x1="146.3" x2="146.3" y1="461.6" y2="674.8" stroke="#f2f2f2" stroke-width="0.8"/>
<line x1="203.3" x2="203.3" y1="461.6" y2="674.8" stroke="#f2f2f2" stroke-width="0.8"/>
<line x1="260.3" x2="260.3" y1="461.6" y2="674.8" stroke="#f2f2f2" stroke-width="0.8"/>
<line x1="317.3" x2="317.3" y1="461.6" y2="674.8" stroke="#f2f2f2" stroke-width="0.8"/>
<line x1="130.0" x2="353.5" y1="643.6" y2="643.6" stroke="#f2f2f2" stroke-width="0.8"/>
<line x1="130.0" x2="353.5" y1="585.9" y2="585.9" stroke="#f2f2f2" stroke-width="0.8"/>
<line x1="130.0" x2="353.5" y1="528.2" y2="528.2" stroke="#f2f2f2" stroke-width="0.8"/>
<line x1="130.0" x2="353.5" y1="470.5" y2="470.5" stroke="#f2f2f2" stroke-width="0.8"/>
<line x1="174.8" x2="174.8" y1="461.6" y2="674.8" stroke="#ebebeb" stroke-width="1.2"/>
<line x1="231.8" x2="231.8" y1="461.6" y2="674.8" stroke="#ebebeb" stroke-width="1.2"/>
<line x1="288.8" x2="288.8" y1="461.6" y2="674.8" stroke="#ebebeb" stroke-width="1.2"/>
<line x1="345.8" x2="345.8" y1="461.6" y2="674.8" stroke="#ebebeb" stroke-width="1.2"/>
<line x1="130.0" x2="353.5" y1="672.4" y2="672.4" stroke="#ebebeb" stroke-width="1.2"/>
<line x1="130.0" x2="353.5" y1="614.7" y2="614.7" stroke="#ebebeb" stroke-width="1.2"/>
<line x1="130.0" x2="353.5" y1="557.0" y2="557.0" stroke="#ebebeb" stroke-width="1.2"/>
<line x1="130.0" x2="353.5" y1="499.3" y2="499.3" stroke="#ebebeb" stroke-width="1.2"/>
<path transform="scale(0.5)" d="M281 1108h0m6-29h0m0 58h0m2 37h0m0 5h0m2-110h0m0-10h0m1 109h0m1-44h0m0-42h0m3 67h0m1-46h0m3 58h0m4-35h0m1 118h0m0-148h0m0 58h0m6-40h0m1 82h0m1-70h0m0-21h0m3 36h0m1 15h0m1-64h0m1 114h0m0-68h0m1-45h0m1 73h0m1-49h0m2-1h0m0 32h0m1-35h0m1 21h0m1-18h0m1-38h0m0 55h0m2 4h0m2-28h0m6 75h0m1-78h0m1-7h0m5 132h0m0-63h0m2-49h0m4-22h0m5 46h0m3-23h0m3-23h0m6 17h0m6 9h0m0 87h0m15-62h0m1 12h0m0-36h0m15 41h0m1-54h0m5 46h0m0-18h0m4 2h0m14-14h0m0 6h0m3 8h0m8 35h0m3-29h0m2 5h0m0-62h0m2 22h0m0 27h0m1 60h0m2 79h0m1-164h0m2 48h0m3-22h0m2 35h0m3-89h0m2 127h0m2-109h0m6 22h0m0 72h0m1-37h0m0-37h0m3 5h0m1 27h0m0-3h0m1-10h0m1-64h0m1 39h0m1 30h0m1 45h0m1-58h0m2-40h0m2 143h0m1-85h0m0-53h0m2 26h0m3-16h0m1 11h0m0 56h0m0-41h0m3-15h0m0-179h0m2 242h0m0-20h0m1-66h0m0 36h0m1-2h0m1 26h0m1 24h0m1-46h0m0 9h0m1 46h0m0 15h0m1-41h0m1 105h0m0-118h0m0 11h0m0-9h0m2 44h0m0-70h0m3 84h0m0-11h0m2-51h0m1 27h0m1 96h0m0-150h0m0 26h0m1 88h0m1-60h0m1 56h0m0-87h0m0 11h0m1-50h0m1-37h0m4 114h0m0-90h0m0 85h0m2 63h0m0-78h0m0 19h0m2-23h0m0-22h0m1-11h0m0 111h0m1-58h0m0-56h0m3 66h0m0-81h0m0 65h0m0-108h0m0 52h0m3 41h0m0-19h0m1 111h0m1-115h0m0-63h0m1-2h0m0 134h0m0-78h0m1-22h0m0 61h0m0-4h0m0-9h0m1-7h0m0 89h0m0-84h0m1 121h0m0-124h0m1 116h0m1-159h0m0 32h0m0 26h0m1 9h0m1-37h0m2 61h0m0-28h0m1-54h0m1 141h0m0-70h0m3-24h0m0 3h0m0 124h0m0-145h0m0 2h0m1 31h0m0-43h0m1 7h0m0 34h0m0-44h0m0 29h0m1 10h0m0-67h0m0 140h0m0-119h0m0 31h0m2-78h0m1 109h0m1 38h0m1-139h0m0 83h0m2-30h0m0 32h0m1-79h0m0 85h0m0-8h0m1-2h0m1 40h0m1-25h0m0-45h0m1-36h0m1 148h0m0-42h0m1-53h0m0-13h0m1 139h0m0-192h0m1 153h0m0 16h0m0-191h0m0 49h0m0 24h0m1 24h0m0-49h0m1 70h0m0 0h0m2-60h0m0 50h0m0-2h0m0 74h0m0-74h0m3 59h0m0 26h0m1-147h0m1 29h0m1 54h0m0-41h0m1 110h0m1-73h0m1-84h0m0-25h0m0 36h0m0 126h0m0-168h0m0 51h0m1-34h0m1 21h0m0-5h0m1 8h0m1 12h0m1 85h0m0-12h0m0-30h0m0-51h0m1 44h0m0 33h0m0 5h0m1-60h0m0 11h0m0-11h0m1 38h0m0 68h0m0-134h0m1-4h0m0 125h0m0-120h0m0 70h0m1-56h0m0-21h0m1-20h0m0 18h0m1 32h0m1 64h0m0 33h0m0-26h0m0-30h0m0 15h0m0-73h0m0 21h0m1 167h0m0-181h0m0 149h0m1-174h0m1 14h0m0 19h0m1 126h0m1-96h0m1-72h0m1-12h0m1 114h0m0-5h0m1-127h0m1 256h0m0-129h0m1-1h0m0-57h0m0 28h0m1 13h0m0-12h0m0-36h0m2 46h0m0-21h0m1-46h0m1-9h0m1-2h0m1-23h0m0 122h0m0-88h0m0 94h0m0-46h0m1 25h0m0-97h0m0 118h0m0-119h0m1 41h0m1-28h0m0 38h0m0 101h0m1-98h0m1 34h0m0-58h0m0 20h0m0 20h0m0-53h0m1 75h0m1-74h0m1 159h0m0-104h0m1-28h0m0 89h0m0-87h0m0 49h0m0-34h0m1 29h0m0-2h0m0 68h0m0-120h0m0 34h0m1 66h0m2-37h0m0-55h0m0 44h0m1 87h0m0-141h0m1 181h0m0-175h0m0 75h0m0-20h0m1 38h0m1 30h0m1-59h0m0-51h0m0-31h0m0 91h0m1-83h0m0 0h0m0 74h0m0 5h0m0-33h0m1-27h0m0-40h0m0 117h0m1 2h0m0-69h0m0 40h0m0-46h0m1 18h0m0 30h0m1-73h0m0 172h0m0-51h0m1 8h0m0-94h0m0 44h0m1-17h0m0 45h0m0-35h0m0-69h0m0 81h0m1 36h0m0 6h0m1-79h0m0 80h0m1-35h0m1 122h0m0-203h0m1 37h0m1-77h0m1 127h0m1 0h0m0-41h0m0 35h0m0-101h0m1 104h0m1 27h0m1-84h0m1 30h0m0-30h0m1 86h0m1-113h0m0 81h0m0-34h0m1 36h0m0 1h0m0-127h0m0 177h0m1-104h0m0 115h0m0-143h0m1 61h0m1 73h0m0-39h0m0 15h0m0-34h0m1-83h0m0-13h0m1 44h0m0 103h0m0-120h0m0 78h0m0-102h0m1 84h0m1-78h0m1 19h0m1 14h0m0 90h0m0-78h0m1 109h0m0-104h0m1 10h0m0-17h0m0 106h0m0-162h0m1 67h0m1-44h0m1 39h0m0-46h0m0 48h0m1-5h0m2-34h0m1 80h0m0-40h0m1-66h0m0 120h0m0-35h0m0-49h0m0 20h0m1 28h0m0 112h0m0-33h0m0-88h0m0-19h0m0-14h0m1 51h0m1-48h0m1 29h0m0-69h0m0 86h0m1-77h0m0 66h0m0 25h0m0-31h0m0 13h0m1-39h0m0 78h0m0-93h0m1 54h0m1-36h0m1 108h0m1-106h0m0 10h0m1 59h0m0-62h0" stroke="#2b2b2b" stroke-width="12.2" stroke-linecap="round" fill="none"/>
<polygon points="140.0,549.8 143.4,552.1 146.9,554.2 150.3,555.8 153.8,557.3 157.2,558.5 160.7,559.4 164.1,560.1 167.6,560.7 171.0,561.2 174.4,561.7 177.9,562.1 181.3,562.5 184.8,562.8 188.2,563.1 191.7,563.5 195.1,563.9 198.6,564.4 202.0,565.1 205.4,565.8 208.9,566.5 212.3,567.2 215.8,567.9 219.2,568.6 222.7,569.4 226.1,570.0 229.6,570.7 233.0,571.4 236.4,572.0 239.9,572.6 243.3,573.2 246.8,573.8 250.2,574.4 253.7,574.9 257.1,575.4 260.6,576.0 264.0,576.2 267.4,576.4 270.9,576.6 274.3,576.8 277.8,577.0 281.2,577.2 284.7,577.3 288.1,577.5 291.6,577.6 295.0,577.8 298.4,577.9 301.9,578.0 305.3,578.1 308.8,578.2 312.2,578.4 315.7,578.8 319.1,579.0 322.6,579.3 326.0,579.4 329.4,580.2 332.9,581.1 336.3,581.7 339.8,582.1 343.2,582.1 343.2,597.1 339.8,594.4 336.3,592.2 332.9,590.2 329.4,588.4 326.0,587.0 322.6,586.3 319.1,585.8 315.7,585.2 312.2,584.8 308.8,584.4 305.3,584.3 301.9,584.1 298.4,584.0 295.0,583.9 291.6,583.7 288.1,583.6 284.7,583.5 281.2,583.4 277.8,583.3 274.3,583.2 270.9,583.1 267.4,583.0 264.0,582.9 260.6,582.8 257.1,582.4 253.7,582.1 250.2,581.7 246.8,581.4 243.3,581.1 239.9,580.8 236.4,580.5 233.0,580.2 229.6,580.0 226.1,579.8 222.7,579.5 219.2,579.4 215.8,579.2 212.3,579.0 208.9,578.8 205.4,578.5 202.0,578.1 198.6,577.5 195.1,576.9 191.7,576.2 188.2,575.4 184.8,574.5 181.3,573.7 177.9,572.8 174.4,571.9 171.0,571.1 167.6,570.3 164.1,569.6 160.7,569.0 157.2,568.5 153.8,567.9 150.3,567.4 146.9,567.2 143.4,567.3 140.0,567.8" fill="#999999" fill-opacity="0.4"/>
<polyline points="140.0,558.8 157.7,563.7 179.6,567.8 206.8,572.4 234.1,575.9 261.4,579.5 288.7,580.6 310.5,581.4 326.9,583.3 343.2,589.6" fill="none" stroke="#1662c4" stroke-width="2.5" stroke-linejoin="round" stroke-linecap="round"/>
</g>
<text class="rd" transform="translate(350.1,476.9) scale(1,1.06)" text-anchor="end">cor = -0.297</text>
<text class="rd" transform="translate(350.1,491.8) scale(1,1.06)" text-anchor="end">p = 8.46e-11</text>
<line x1="130.0" x2="130.0" y1="437.8" y2="674.8" stroke="#333" stroke-width="1.7"/>
<line x1="353.5" x2="353.5" y1="437.8" y2="674.8" stroke="#333" stroke-width="1.7"/>
<line x1="130.0" x2="353.5" y1="461.6" y2="461.6" stroke="#262626" stroke-width="1.6"/>
<line x1="130.0" x2="353.5" y1="674.8" y2="674.8" stroke="#e6e6e6" stroke-width="1.2"/>
<line x1="174.8" x2="174.8" y1="674.8" y2="678.6" stroke="#333" stroke-width="1.6"/>
<text class="ax" x="174.8" y="691.1" text-anchor="middle">0.25</text>
<line x1="231.8" x2="231.8" y1="674.8" y2="678.6" stroke="#333" stroke-width="1.6"/>
<text class="ax" x="231.8" y="691.1" text-anchor="middle">0.50</text>
<line x1="288.8" x2="288.8" y1="674.8" y2="678.6" stroke="#333" stroke-width="1.6"/>
<text class="ax" x="288.8" y="691.1" text-anchor="middle">0.75</text>
<line x1="345.8" x2="345.8" y1="674.8" y2="678.6" stroke="#333" stroke-width="1.6"/>
<text class="ax" x="345.8" y="691.1" text-anchor="middle">1.00</text>
<rect x="361.9" y="437.8" width="223.5" height="23.8" fill="#d9d9d9" stroke="#555" stroke-width="1"/>
<text class="st" transform="translate(473.7,453.7) scale(1,1.08)" text-anchor="middle">B Cell</text>
<g><clipPath id="cp1_1"><rect x="361.9" y="461.6" width="223.5" height="213.2"/></clipPath></g>
<g clip-path="url(#cp1_1)">
<line x1="393.6" x2="393.6" y1="461.6" y2="674.8" stroke="#f2f2f2" stroke-width="0.8"/>
<line x1="438.2" x2="438.2" y1="461.6" y2="674.8" stroke="#f2f2f2" stroke-width="0.8"/>
<line x1="482.8" x2="482.8" y1="461.6" y2="674.8" stroke="#f2f2f2" stroke-width="0.8"/>
<line x1="527.4" x2="527.4" y1="461.6" y2="674.8" stroke="#f2f2f2" stroke-width="0.8"/>
<line x1="572.1" x2="572.1" y1="461.6" y2="674.8" stroke="#f2f2f2" stroke-width="0.8"/>
<line x1="361.9" x2="585.5" y1="643.6" y2="643.6" stroke="#f2f2f2" stroke-width="0.8"/>
<line x1="361.9" x2="585.5" y1="585.9" y2="585.9" stroke="#f2f2f2" stroke-width="0.8"/>
<line x1="361.9" x2="585.5" y1="528.2" y2="528.2" stroke="#f2f2f2" stroke-width="0.8"/>
<line x1="361.9" x2="585.5" y1="470.5" y2="470.5" stroke="#f2f2f2" stroke-width="0.8"/>
<line x1="371.3" x2="371.3" y1="461.6" y2="674.8" stroke="#ebebeb" stroke-width="1.2"/>
<line x1="415.9" x2="415.9" y1="461.6" y2="674.8" stroke="#ebebeb" stroke-width="1.2"/>
<line x1="460.5" x2="460.5" y1="461.6" y2="674.8" stroke="#ebebeb" stroke-width="1.2"/>
<line x1="505.1" x2="505.1" y1="461.6" y2="674.8" stroke="#ebebeb" stroke-width="1.2"/>
<line x1="549.8" x2="549.8" y1="461.6" y2="674.8" stroke="#ebebeb" stroke-width="1.2"/>
<line x1="361.9" x2="585.5" y1="672.4" y2="672.4" stroke="#ebebeb" stroke-width="1.2"/>
<line x1="361.9" x2="585.5" y1="614.7" y2="614.7" stroke="#ebebeb" stroke-width="1.2"/>
<line x1="361.9" x2="585.5" y1="557.0" y2="557.0" stroke="#ebebeb" stroke-width="1.2"/>
<line x1="361.9" x2="585.5" y1="499.3" y2="499.3" stroke="#ebebeb" stroke-width="1.2"/>
<path transform="scale(0.5)" d="M743 1191h0m2-71h0m1 16h0m1-12h0m0 166h0m0-212h0m1 111h0m0-79h0m1 72h0m0-75h0m1 48h0m0 107h0m0-182h0m0 24h0m1 40h0m0-9h0m0-48h0m0 98h0m0 23h0m1-120h0m0 32h0m0 40h0m0-9h0m1-41h0m1 48h0m0 57h0m0-58h0m1 20h0m0 21h0m0-53h0m0-35h0m1 0h0m0 159h0m0-182h0m0 89h0m1-73h0m0 141h0m0-122h0m0 67h0m0 10h0m1-30h0m0 45h0m0-65h0m1-33h0m0 44h0m0 27h0m0 77h0m1-111h0m0 54h0m0 53h0m0-57h0m0-42h0m0-40h0m0 9h0m0 33h0m0-24h0m0 6h0m1-22h0m0 73h0m1-122h0m0 138h0m0-73h0m0-44h0m0 108h0m0 2h0m1-27h0m1-16h0m0-28h0m1 6h0m0-2h0m0-1h0m1-36h0m0 11h0m0 24h0m0 73h0m1-107h0m0 26h0m1-186h0m0 188h0m1-26h0m0 0h0m0 46h0m0-71h0m0 170h0m0-122h0m0 36h0m0-19h0m1 16h0m1-61h0m0 52h0m1 47h0m0 50h0m0-12h0m0-85h0m0-63h0m1 90h0m0 78h0m0-163h0m1 180h0m0-177h0m0 4h0m1 9h0m1 22h0m1 116h0m0-87h0m0 18h0m0-25h0m0-72h0m0 116h0m0-46h0m1 29h0m0 11h0m0-35h0m0-68h0m0 78h0m1 19h0m0 36h0m0 64h0m0-187h0m1 79h0m0-12h0m0 105h0m0-81h0m0-36h0m1-20h0m0 79h0m1-71h0m0-33h0m0 45h0m0 51h0m1-42h0m0 108h0m0-37h0m1-67h0m0 115h0m0-96h0m0-21h0m0-4h0m0 61h0m1-43h0m0 29h0m0-125h0m0 106h0m1-8h0m0-78h0m0 216h0m0-184h0m0 80h0m1-12h0m0-63h0m0 25h0m1 15h0m0-2h0m0 35h0m0-89h0m0 74h0m0 8h0m0-13h0m1-14h0m0 25h0m0-104h0m0 63h0m0-87h0m0 46h0m1 111h0m0-141h0m0 59h0m0-5h0m1 85h0m0 27h0m0 20h0m0-113h0m0 14h0m0-39h0m0 7h0m0 18h0m0 9h0m1-4h0m0-27h0m0-14h0m0 38h0m0 56h0m0-75h0m1-50h0m0 103h0m0 54h0m0-30h0m0-151h0m0 93h0m0 131h0m0-45h0m1-44h0m0 3h0m0-138h0m0 28h0m0-1h0m0 70h0m0-5h0m1 3h0m0 41h0m0-47h0m1-91h0m0 35h0m0 174h0m0-142h0m0 48h0m0-59h0m1 76h0m0 85h0m1-125h0m0-21h0m1 15h0m0 87h0m0-34h0m0-97h0m0 90h0m1-64h0m0-9h0m1-57h0m0 106h0m0-70h0m1 7h0m0 21h0m0-35h0m1-12h0m0 35h0m0-14h0m0-17h0m0 77h0m0-11h0m1-30h0m0 24h0m0 11h0m0-97h0m0 89h0m0-6h0m0-33h0m0 3h0m0-42h0m0 43h0m0 37h0m1 19h0m0-48h0m1 42h0m0-64h0m0-42h0m0 87h0m1-61h0m0 40h0m0 43h0m1 35h0m0 34h0m0-103h0m0-10h0m0 35h0m1-21h0m0 8h0m0 1h0m0 64h0m0-47h0m0-103h0m1 38h0m0-9h0m0 78h0m1-98h0m0 78h0m0 63h0m1-92h0m0 2h0m0 51h0m1-25h0m0-18h0m0 15h0m1-19h0m0 13h0m0-57h0m0 86h0m0-25h0m1 40h0m0-14h0m0-87h0m0 80h0m0 17h0m1-4h0m1-84h0m0 79h0m0-79h0m0 43h0m0-20h0m1 27h0m0 70h0m0-67h0m0 5h0m1 2h0m0-65h0m0 33h0m0-4h0m0 73h0m0-45h0m1 14h0m1-11h0m0 16h0m0 135h0m2-87h0m0-127h0m0 104h0m1-74h0m0 24h0m0-70h0m0 12h0m0 44h0m1-41h0m0 12h0m0 65h0m0-17h0m1-55h0m1 24h0m0-7h0m0 44h0m0 9h0m1 10h0m0-83h0m0 44h0m1 72h0m0-139h0m0 95h0m0-10h0m1-6h0m0-29h0m0 43h0m0 30h0m1-67h0m0-10h0m0 58h0m0 30h0m1-49h0m0-10h0m0-31h0m1 65h0m0 152h0m1-183h0m0 5h0m0-19h0m0 51h0m0-99h0m1 111h0m1-54h0m1 17h0m0 1h0m0 17h0m0-60h0m0-9h0m1 14h0m0 56h0m0-51h0m1 29h0m0 21h0m1-38h0m0 47h0m1 2h0m0-41h0m0-32h0m1 17h0m1-12h0m0 55h0m0-97h0m1 34h0m1 3h0m0 59h0m0 22h0m0 9h0m1-38h0m0-90h0m0 54h0m0 98h0m1-87h0m3 42h0m0-39h0m0-15h0m0 0h0m1 38h0m0-6h0m1 39h0m0-72h0m0 16h0m1 30h0m0 10h0m2-32h0m1-13h0m0 23h0m0-11h0m1 12h0m1 9h0m0-35h0m1 1h0m0-14h0m0 71h0m1-62h0m0-5h0m2 46h0m1-60h0m0 47h0m1 49h0m1-67h0m4-5h0m0-4h0m2-15h0m2 40h0m0 17h0m3 33h0m0-29h0m1 27h0m3-76h0m4 18h0m0 83h0m1-142h0m0 110h0m2-42h0m2-64h0m1 23h0m1 38h0m3-21h0m3 20h0m2 0h0m1-29h0m1 61h0m1-37h0m2 68h0m1-73h0m2-19h0m1 26h0m1-36h0m0-8h0m0 30h0m6-9h0m1 8h0m3 62h0m1-69h0m3 7h0m2 52h0m6-73h0m15-2h0m9 34h0m0 4h0m2-38h0m2 13h0m5 13h0m3-22h0m17 53h0m11-9h0m4-5h0m4 4h0m1-37h0m4 7h0m19 16h0m1-42h0m3 1h0m1 28h0m8-24h0m9-9h0m15 42h0m8-43h0m3 26h0m4-37h0m10 20h0m9-10h0m3 31h0m7 29h0m9-48h0m16 63h0m1-40h0" stroke="#2b2b2b" stroke-width="12.2" stroke-linecap="round" fill="none"/>
<polygon points="371.9,561.8 375.3,568.4 378.8,574.6 382.2,578.0 385.6,581.2 389.1,582.6 392.5,583.0 396.0,582.8 399.4,580.9 402.9,579.0 406.3,577.6 409.8,576.3 413.2,575.0 416.6,574.1 420.1,573.5 423.5,572.8 427.0,572.0 430.4,571.3 433.9,570.2 437.3,569.2 440.8,568.1 444.2,566.9 447.6,565.8 451.1,564.6 454.5,563.6 458.0,562.6 461.4,561.5 464.9,560.5 468.3,559.4 471.8,558.4 475.2,557.4 478.6,556.3 482.1,555.8 485.5,555.5 489.0,555.3 492.4,555.1 495.9,555.0 499.3,554.9 502.8,554.9 506.2,554.8 509.6,554.9 513.1,554.9 516.5,555.0 520.0,555.0 523.4,555.1 526.9,555.1 530.3,555.1 533.8,555.1 537.2,555.2 540.6,555.3 544.1,555.3 547.5,555.2 551.0,554.9 554.4,554.4 557.9,553.5 561.3,552.1 564.8,549.8 568.2,547.4 571.6,547.1 575.1,547.4 575.1,585.4 571.6,585.4 568.2,584.8 564.8,582.1 561.3,579.6 557.9,577.6 554.4,576.2 551.0,575.1 547.5,574.3 544.1,573.6 540.6,573.1 537.2,572.6 533.8,572.2 530.3,572.1 526.9,571.9 523.4,571.8 520.0,571.7 516.5,571.6 513.1,571.5 509.6,571.5 506.2,571.4 502.8,571.5 499.3,571.6 495.9,571.7 492.4,571.7 489.0,571.6 485.5,571.5 482.1,571.4 478.6,571.4 475.2,571.7 471.8,572.1 468.3,572.4 464.9,572.7 461.4,573.1 458.0,573.4 454.5,573.8 451.1,574.2 447.6,574.8 444.2,575.4 440.8,576.0 437.3,576.6 433.9,577.2 430.4,577.9 427.0,578.3 423.5,578.7 420.1,579.2 416.6,579.6 413.2,580.3 409.8,581.6 406.3,582.8 402.9,584.2 399.4,586.2 396.0,588.2 392.5,588.7 389.1,588.6 385.6,587.7 382.2,585.2 378.8,582.9 375.3,578.2 371.9,573.8" fill="#999999" fill-opacity="0.4"/>
<polyline points="371.9,567.8 378.7,578.7 386.9,585.5 395.1,586.0 403.2,581.4 414.1,577.3 430.5,574.6 452.3,569.1 479.6,563.7 506.9,563.1 534.2,563.7 561.4,565.8 575.1,566.4" fill="none" stroke="#1662c4" stroke-width="2.5" stroke-linejoin="round" stroke-linecap="round"/>
</g>
<text class="rd" transform="translate(582.1,476.9) scale(1,1.06)" text-anchor="end">partial.cor = 0.074</text>
<text class="rd" transform="translate(582.1,491.8) scale(1,1.06)" text-anchor="end">p = 1.17e-01</text>
<line x1="361.9" x2="361.9" y1="437.8" y2="674.8" stroke="#333" stroke-width="1.7"/>
<line x1="585.5" x2="585.5" y1="437.8" y2="674.8" stroke="#333" stroke-width="1.7"/>
<line x1="361.9" x2="585.5" y1="461.6" y2="461.6" stroke="#262626" stroke-width="1.6"/>
<line x1="361.9" x2="585.5" y1="674.8" y2="674.8" stroke="#e6e6e6" stroke-width="1.2"/>
<line x1="371.3" x2="371.3" y1="674.8" y2="678.6" stroke="#333" stroke-width="1.6"/>
<text class="ax" x="371.3" y="691.1" text-anchor="middle">0.0</text>
<line x1="415.9" x2="415.9" y1="674.8" y2="678.6" stroke="#333" stroke-width="1.6"/>
<text class="ax" x="415.9" y="691.1" text-anchor="middle">0.1</text>
<line x1="460.5" x2="460.5" y1="674.8" y2="678.6" stroke="#333" stroke-width="1.6"/>
<text class="ax" x="460.5" y="691.1" text-anchor="middle">0.2</text>
<line x1="505.1" x2="505.1" y1="674.8" y2="678.6" stroke="#333" stroke-width="1.6"/>
<text class="ax" x="505.1" y="691.1" text-anchor="middle">0.3</text>
<line x1="549.8" x2="549.8" y1="674.8" y2="678.6" stroke="#333" stroke-width="1.6"/>
<text class="ax" x="549.8" y="691.1" text-anchor="middle">0.4</text>
<rect x="593.9" y="437.8" width="223.5" height="23.8" fill="#d9d9d9" stroke="#555" stroke-width="1"/>
<text class="st" transform="translate(705.6,453.7) scale(1,1.08)" text-anchor="middle">CD8+ T Cell</text>
<g><clipPath id="cp1_2"><rect x="593.9" y="461.6" width="223.5" height="213.2"/></clipPath></g>
<g clip-path="url(#cp1_2)">
<line x1="632.2" x2="632.2" y1="461.6" y2="674.8" stroke="#f2f2f2" stroke-width="0.8"/>
<line x1="688.3" x2="688.3" y1="461.6" y2="674.8" stroke="#f2f2f2" stroke-width="0.8"/>
<line x1="744.4" x2="744.4" y1="461.6" y2="674.8" stroke="#f2f2f2" stroke-width="0.8"/>
<line x1="800.6" x2="800.6" y1="461.6" y2="674.8" stroke="#f2f2f2" stroke-width="0.8"/>
<line x1="593.9" x2="817.4" y1="643.6" y2="643.6" stroke="#f2f2f2" stroke-width="0.8"/>
<line x1="593.9" x2="817.4" y1="585.9" y2="585.9" stroke="#f2f2f2" stroke-width="0.8"/>
<line x1="593.9" x2="817.4" y1="528.2" y2="528.2" stroke="#f2f2f2" stroke-width="0.8"/>
<line x1="593.9" x2="817.4" y1="470.5" y2="470.5" stroke="#f2f2f2" stroke-width="0.8"/>
<line x1="604.1" x2="604.1" y1="461.6" y2="674.8" stroke="#ebebeb" stroke-width="1.2"/>
<line x1="660.2" x2="660.2" y1="461.6" y2="674.8" stroke="#ebebeb" stroke-width="1.2"/>
<line x1="716.4" x2="716.4" y1="461.6" y2="674.8" stroke="#ebebeb" stroke-width="1.2"/>
<line x1="772.5" x2="772.5" y1="461.6" y2="674.8" stroke="#ebebeb" stroke-width="1.2"/>
<line x1="593.9" x2="817.4" y1="672.4" y2="672.4" stroke="#ebebeb" stroke-width="1.2"/>
<line x1="593.9" x2="817.4" y1="614.7" y2="614.7" stroke="#ebebeb" stroke-width="1.2"/>
<line x1="593.9" x2="817.4" y1="557.0" y2="557.0" stroke="#ebebeb" stroke-width="1.2"/>
<line x1="593.9" x2="817.4" y1="499.3" y2="499.3" stroke="#ebebeb" stroke-width="1.2"/>
<path transform="scale(0.5)" d="M1210 1186h0m0 10h0m0 34h0m0-48h0m1 15h0m2-3h0m0 17h0m1 27h0m0-55h0m0 56h0m1-57h0m1 96h0m1-87h0m1 3h0m0-5h0m0 11h0m0-24h0m1 58h0m0-62h0m0 41h0m1-12h0m0-1h0m0 25h0m0 17h0m1-50h0m0 28h0m1-48h0m0 15h0m0 39h0m1-7h0m0-36h0m0 17h0m0-33h0m0 89h0m1-73h0m0 55h0m0-38h0m1-10h0m0-64h0m1 26h0m0 49h0m0-32h0m0 58h0m1-34h0m0 30h0m0-26h0m1 1h0m0-24h0m0 24h0m0-49h0m0 30h0m1 40h0m0-1h0m0-62h0m1 22h0m0 8h0m0-5h0m1 36h0m0-55h0m1 29h0m0 41h0m0-35h0m0-32h0m0-18h0m1 30h0m0-38h0m0 17h0m0 132h0m1-131h0m0 39h0m0-29h0m0 18h0m0-26h0m0 65h0m1-73h0m0 31h0m0-21h0m0 19h0m1 11h0m0-31h0m0 9h0m0-45h0m0 77h0m0 3h0m0-26h0m1-43h0m1 88h0m1-38h0m0-47h0m0-10h0m0 1h0m1 86h0m0-12h0m0-74h0m1 79h0m0-23h0m0 27h0m0-27h0m1 23h0m1-7h0m0-51h0m1-13h0m0 41h0m1-27h0m0 2h0m1 4h0m1 49h0m0-13h0m0-61h0m0 47h0m1-45h0m1 22h0m0-16h0m0 1h0m0 3h0m0 140h0m0-102h0m1 2h0m0-34h0m0 51h0m1-2h0m0-29h0m1-2h0m0-52h0m0 42h0m1 3h0m0-22h0m1 49h0m0-17h0m0-8h0m0-18h0m0 138h0m1-158h0m0-6h0m0 8h0m0 51h0m0 65h0m1-76h0m0 20h0m1 61h0m0-105h0m0 9h0m1-41h0m0 82h0m0-10h0m0 62h0m1 12h0m0-138h0m0 16h0m1-23h0m0 63h0m0-55h0m1 41h0m0-32h0m0 52h0m0-86h0m1 10h0m1 115h0m0 4h0m1-106h0m0 9h0m0 29h0m0 30h0m1-21h0m0-30h0m0 45h0m0 110h0m0-171h0m1 68h0m1-38h0m0 71h0m0 65h0m1-95h0m0 22h0m0-64h0m0-29h0m0 31h0m1-5h0m0-36h0m0 136h0m0-147h0m2 56h0m0-5h0m0-28h0m1 33h0m0-33h0m0 14h0m0 46h0m1-4h0m1 5h0m0-81h0m0 22h0m1 48h0m0-65h0m0 42h0m0-8h0m1 42h0m0-95h0m0 43h0m1-38h0m0 6h0m0 71h0m0-52h0m0-4h0m0 105h0m0-57h0m1-20h0m0 127h0m0-138h0m0-9h0m1 55h0m1 53h0m0-134h0m1 139h0m0-106h0m0 32h0m0-9h0m1-1h0m0 26h0m1 41h0m0-56h0m0 6h0m0-11h0m0-39h0m1 147h0m0-97h0m0-51h0m0 9h0m1 41h0m0-40h0m2-28h0m0 23h0m0 66h0m1-25h0m0-58h0m1 18h0m0 53h0m0-27h0m0 7h0m0 48h0m1-29h0m0 61h0m0-97h0m0 5h0m0 5h0m0-23h0m1 35h0m0-38h0m0 19h0m0 6h0m1-3h0m0-28h0m0 62h0m1-37h0m0 8h0m0-22h0m0 30h0m0-54h0m1 92h0m0-50h0m0 36h0m0-74h0m1 13h0m0-31h0m2 34h0m0-16h0m0 34h0m1-15h0m0 76h0m0-126h0m0 120h0m1-101h0m0 3h0m0 12h0m0 51h0m0-24h0m0 45h0m2-38h0m0-35h0m0 37h0m0-40h0m1-15h0m0 62h0m0 20h0m0-48h0m1 99h0m1-98h0m0 21h0m0-8h0m0-16h0m1 19h0m0 13h0m1 16h0m0-69h0m0 41h0m0-17h0m0 15h0m0-51h0m0 81h0m1-56h0m0 5h0m0 32h0m0-63h0m2 119h0m0-9h0m1-36h0m0-36h0m0-20h0m0-20h0m1 33h0m0 31h0m1 35h0m0-35h0m0-61h0m0 50h0m1-39h0m0 88h0m1-13h0m0-21h0m0-58h0m0 9h0m1 43h0m0 15h0m2 26h0m0-71h0m0 12h0m1 17h0m1 60h0m0-70h0m0 22h0m0-12h0m2-15h0m0-25h0m1 82h0m0-20h0m2-67h0m0 57h0m1-45h0m1-15h0m1 10h0m0 61h0m1-57h0m0 6h0m0 8h0m0-38h0m0 45h0m1 28h0m1 13h0m0-34h0m1 32h0m0-60h0m0-4h0m1 94h0m1-71h0m0 33h0m0-8h0m1-45h0m0-2h0m1 27h0m0-61h0m1 66h0m0 31h0m0-11h0m0-55h0m0-46h0m1 6h0m1 42h0m0-31h0m1 70h0m1 86h0m1-134h0m1 18h0m0 3h0m0-14h0m1 5h0m2 38h0m0-46h0m0 45h0m1-32h0m0 33h0m1-57h0m1 85h0m0-24h0m0-213h0m0 177h0m1-35h0m0 11h0m1 69h0m1 26h0m0-67h0m1 2h0m1-12h0m0-25h0m1 38h0m1 26h0m0-41h0m1-32h0m1 36h0m1 110h0m0-78h0m0 15h0m0-65h0m1 32h0m0-27h0m3-34h0m0 113h0m3-69h0m1 47h0m0-24h0m1 33h0m0-35h0m2-14h0m0 24h0m1-18h0m0 44h0m0-33h0m3 42h0m1-96h0m0 48h0m0 0h0m0-15h0m1-35h0m0 69h0m5-63h0m0 23h0m0 23h0m3-19h0m0 28h0m2-21h0m1-17h0m1 0h0m3-27h0m1 54h0m0-24h0m2-12h0m1 19h0m1 15h0m3-53h0m7 27h0m0 47h0m3 20h0m8-91h0m1 47h0m2-31h0m1 48h0m1-30h0m3-26h0m2-22h0m4 55h0m1-31h0m0 21h0m3-8h0m10 13h0m0 33h0m2-55h0m1 45h0m2 3h0m3-50h0m3-1h0m7 32h0m7-13h0m5 19h0m15-26h0m7 22h0m50 17h0m2-20h0m3 11h0m6-20h0m0 1h0m14-39h0m6 19h0" stroke="#2b2b2b" stroke-width="12.2" stroke-linecap="round" fill="none"/>
<polygon points="604.1,607.4 607.5,602.8 611.0,598.2 614.4,594.5 617.9,591.0 621.3,587.8 624.8,585.2 628.2,582.6 631.7,580.1 635.1,578.4 638.5,576.7 642.0,575.0 645.4,573.3 648.9,572.0 652.3,570.7 655.8,569.4 659.2,568.1 662.6,566.8 666.1,565.5 669.5,564.6 673.0,563.7 676.4,562.9 679.9,562.0 683.3,561.0 686.8,560.0 690.2,558.9 693.6,557.9 697.1,557.1 700.5,556.4 704.0,555.6 707.4,554.9 710.9,554.1 714.3,553.3 717.8,552.6 721.2,551.8 724.6,551.0 728.1,550.2 731.5,549.3 735.0,548.4 738.4,547.4 741.9,546.4 745.3,545.2 748.8,544.1 752.2,543.1 755.6,542.3 759.1,541.6 762.5,541.0 766.0,540.5 769.4,540.0 772.9,539.3 776.3,538.4 779.8,537.3 783.2,535.5 786.6,532.9 790.1,530.4 793.5,528.7 797.0,526.5 800.4,526.3 803.9,526.2 807.3,526.0 807.3,574.0 803.9,574.0 800.4,574.1 797.0,574.1 793.5,572.1 790.1,570.5 786.6,568.2 783.2,565.8 779.8,564.2 776.3,563.2 772.9,562.9 769.4,562.8 766.0,562.9 762.5,563.1 759.1,563.1 755.6,563.1 752.2,562.8 748.8,562.5 745.3,562.2 741.9,562.0 738.4,561.8 735.0,561.7 731.5,561.7 728.1,561.7 724.6,561.8 721.2,562.0 717.8,562.2 714.3,562.5 710.9,562.7 707.4,563.0 704.0,563.3 700.5,563.6 697.1,563.9 693.6,564.2 690.2,564.9 686.8,565.6 683.3,566.3 679.9,567.0 676.4,567.9 673.0,568.7 669.5,569.6 666.1,570.5 662.6,571.8 659.2,573.1 655.8,574.4 652.3,575.7 648.9,577.0 645.4,578.3 642.0,580.0 638.5,581.7 635.1,583.4 631.7,585.1 628.2,587.6 624.8,590.2 621.3,592.8 617.9,596.0 614.4,599.5 611.0,603.9 607.5,609.6 604.1,615.4" fill="#999999" fill-opacity="0.4"/>
<polyline points="604.1,611.4 612.3,599.1 620.5,590.9 631.4,582.8 645.0,575.9 666.8,567.8 694.1,560.9 721.4,556.8 748.7,553.3 775.9,550.8 807.3,550.0" fill="none" stroke="#1662c4" stroke-width="2.5" stroke-linejoin="round" stroke-linecap="round"/>
</g>
<text class="rd" transform="translate(814.0,476.9) scale(1,1.06)" text-anchor="end">partial.cor = 0.515</text>
<text class="rd" transform="translate(814.0,491.8) scale(1,1.06)" text-anchor="end">p = 4.46e-31</text>
<line x1="593.9" x2="593.9" y1="437.8" y2="674.8" stroke="#333" stroke-width="1.7"/>
<line x1="817.4" x2="817.4" y1="437.8" y2="674.8" stroke="#333" stroke-width="1.7"/>
<line x1="593.9" x2="817.4" y1="461.6" y2="461.6" stroke="#262626" stroke-width="1.6"/>
<line x1="593.9" x2="817.4" y1="674.8" y2="674.8" stroke="#e6e6e6" stroke-width="1.2"/>
<line x1="604.1" x2="604.1" y1="674.8" y2="678.6" stroke="#333" stroke-width="1.6"/>
<text class="ax" x="604.1" y="691.1" text-anchor="middle">0.0</text>
<line x1="660.2" x2="660.2" y1="674.8" y2="678.6" stroke="#333" stroke-width="1.6"/>
<text class="ax" x="660.2" y="691.1" text-anchor="middle">0.2</text>
<line x1="716.4" x2="716.4" y1="674.8" y2="678.6" stroke="#333" stroke-width="1.6"/>
<text class="ax" x="716.4" y="691.1" text-anchor="middle">0.4</text>
<line x1="772.5" x2="772.5" y1="674.8" y2="678.6" stroke="#333" stroke-width="1.6"/>
<text class="ax" x="772.5" y="691.1" text-anchor="middle">0.6</text>
<rect x="825.8" y="437.8" width="223.5" height="23.8" fill="#d9d9d9" stroke="#555" stroke-width="1"/>
<text class="st" transform="translate(937.6,453.7) scale(1,1.08)" text-anchor="middle">CD4+ T Cell</text>
<g><clipPath id="cp1_3"><rect x="825.8" y="461.6" width="223.5" height="213.2"/></clipPath></g>
<g clip-path="url(#cp1_3)">
<line x1="855.8" x2="855.8" y1="461.6" y2="674.8" stroke="#f2f2f2" stroke-width="0.8"/>
<line x1="896.7" x2="896.7" y1="461.6" y2="674.8" stroke="#f2f2f2" stroke-width="0.8"/>
<line x1="937.7" x2="937.7" y1="461.6" y2="674.8" stroke="#f2f2f2" stroke-width="0.8"/>
<line x1="978.6" x2="978.6" y1="461.6" y2="674.8" stroke="#f2f2f2" stroke-width="0.8"/>
<line x1="1019.5" x2="1019.5" y1="461.6" y2="674.8" stroke="#f2f2f2" stroke-width="0.8"/>
<line x1="825.8" x2="1049.3" y1="643.6" y2="643.6" stroke="#f2f2f2" stroke-width="0.8"/>
<line x1="825.8" x2="1049.3" y1="585.9" y2="585.9" stroke="#f2f2f2" stroke-width="0.8"/>
<line x1="825.8" x2="1049.3" y1="528.2" y2="528.2" stroke="#f2f2f2" stroke-width="0.8"/>
<line x1="825.8" x2="1049.3" y1="470.5" y2="470.5" stroke="#f2f2f2" stroke-width="0.8"/>
<line x1="835.4" x2="835.4" y1="461.6" y2="674.8" stroke="#ebebeb" stroke-width="1.2"/>
<line x1="876.3" x2="876.3" y1="461.6" y2="674.8" stroke="#ebebeb" stroke-width="1.2"/>
<line x1="917.2" x2="917.2" y1="461.6" y2="674.8" stroke="#ebebeb" stroke-width="1.2"/>
<line x1="958.1" x2="958.1" y1="461.6" y2="674.8" stroke="#ebebeb" stroke-width="1.2"/>
<line x1="999.0" x2="999.0" y1="461.6" y2="674.8" stroke="#ebebeb" stroke-width="1.2"/>
<line x1="1039.9" x2="1039.9" y1="461.6" y2="674.8" stroke="#ebebeb" stroke-width="1.2"/>
<line x1="825.8" x2="1049.3" y1="672.4" y2="672.4" stroke="#ebebeb" stroke-width="1.2"/>
<line x1="825.8" x2="1049.3" y1="614.7" y2="614.7" stroke="#ebebeb" stroke-width="1.2"/>
<line x1="825.8" x2="1049.3" y1="557.0" y2="557.0" stroke="#ebebeb" stroke-width="1.2"/>
<line x1="825.8" x2="1049.3" y1="499.3" y2="499.3" stroke="#ebebeb" stroke-width="1.2"/>
<path transform="scale(0.5)" d="M1674 1182h0m0-5h0m10 7h0m3-1h0m1 39h0m1-9h0m0-12h0m1-55h0m1 49h0m2-47h0m2 22h0m3 37h0m0-59h0m1-24h0m0 16h0m3 9h0m1 35h0m1-55h0m0-3h0m0 20h0m1 37h0m0-87h0m0 95h0m1-19h0m1 27h0m1-14h0m0-4h0m0-61h0m0 44h0m1 67h0m0-23h0m0-61h0m0 95h0m2-23h0m1-74h0m0 5h0m0 49h0m0-17h0m1 28h0m0-100h0m0 78h0m1-83h0m1 12h0m0 14h0m0 56h0m1-17h0m0 3h0m0 11h0m1-7h0m0-63h0m1 40h0m0 21h0m1 7h0m0-20h0m0 20h0m0-92h0m0 128h0m0 42h0m0-110h0m1 41h0m0 49h0m0-111h0m1 6h0m0 21h0m0-34h0m0 96h0m1-58h0m0 13h0m1-61h0m0 104h0m0-4h0m1 5h0m0-85h0m0 29h0m0 12h0m0-11h0m1-36h0m0 26h0m0-7h0m1 28h0m0 64h0m0-119h0m0 99h0m0-33h0m1-12h0m0-43h0m0 10h0m0-9h0m0-27h0m0 8h0m0-4h0m0 63h0m1-7h0m1-51h0m0 82h0m0-97h0m0 72h0m1-51h0m0 146h0m0-158h0m1 87h0m0-43h0m0 19h0m0-14h0m1-2h0m0 10h0m1 21h0m0-13h0m0-78h0m0 49h0m1-36h0m1 57h0m0-60h0m0 72h0m0 59h0m0-118h0m0-39h0m0 112h0m0-15h0m1 41h0m0-54h0m0 25h0m1-24h0m0 0h0m0 8h0m0-5h0m1-15h0m0 48h0m0-77h0m0-23h0m0 110h0m0-74h0m1 2h0m0-41h0m0 202h0m0-27h0m1-182h0m0 2h0m0-14h0m0 97h0m0-61h0m0 65h0m0 112h0m1-148h0m0 148h0m0-214h0m1 100h0m0 19h0m0 3h0m0-20h0m0-48h0m0 77h0m1-118h0m0 63h0m1-10h0m0-19h0m0-37h0m1 196h0m0-19h0m0-93h0m0 19h0m0 17h0m1-263h0m0 176h0m0 135h0m1 52h0m0-180h0m0 21h0m0 4h0m1-18h0m0 29h0m1 35h0m0-13h0m0-46h0m1 30h0m0-42h0m0 68h0m1 14h0m0-61h0m0 38h0m1 37h0m0-22h0m0-59h0m0 10h0m0 2h0m0-7h0m1-15h0m0 107h0m0-102h0m0 60h0m1-104h0m0 126h0m0 36h0m0-107h0m1 32h0m0-39h0m0 60h0m1-74h0m0-6h0m0 55h0m0 16h0m0-50h0m0 16h0m0-58h0m0 99h0m0-82h0m1 21h0m0 117h0m0-28h0m0-123h0m1 31h0m0 32h0m0 14h0m0-100h0m1 29h0m0 31h0m1 35h0m0 19h0m0-85h0m0 34h0m0 124h0m0-125h0m0 38h0m0 10h0m0-22h0m1 16h0m0-8h0m0-12h0m1-53h0m0 121h0m0-46h0m0 29h0m0-91h0m0 115h0m1-32h0m0-51h0m1-4h0m1 38h0m0-19h0m0 128h0m0-114h0m0 10h0m0-75h0m1 53h0m0-68h0m0 56h0m0 24h0m0-101h0m0 104h0m1-23h0m0 112h0m0-145h0m0 57h0m1-42h0m0-68h0m0 89h0m0 22h0m0-60h0m0 48h0m0 5h0m1 63h0m0-80h0m0-39h0m0 60h0m1-30h0m0-9h0m0-46h0m1 8h0m0 83h0m0-64h0m1 92h0m0-88h0m0 105h0m0-92h0m2-58h0m0 105h0m0-69h0m0-32h0m1 158h0m0-30h0m0 53h0m0-85h0m0 15h0m0 49h0m1-115h0m1 5h0m0 44h0m0-5h0m0-52h0m1-6h0m0 85h0m0-2h0m0-114h0m0 57h0m1 46h0m1-75h0m1 31h0m0 64h0m0-58h0m0 42h0m0 80h0m1-87h0m1-75h0m0 29h0m0-5h0m0-60h0m1 105h0m0-54h0m0-11h0m0 22h0m0-17h0m0-1h0m0 52h0m1 54h0m0-102h0m0 77h0m1-41h0m0-62h0m0-23h0m0 52h0m1 89h0m1-4h0m0-77h0m0 55h0m0-11h0m0-44h0m1 20h0m0-26h0m0 16h0m1 0h0m0 18h0m0 21h0m0-91h0m1 3h0m0 3h0m0 126h0m0-81h0m0-35h0m1 80h0m1-91h0m0 25h0m0 127h0m1-109h0m0 40h0m2-25h0m0-50h0m0 16h0m1 15h0m0-32h0m0 77h0m0-61h0m0 106h0m0-112h0m1-5h0m2-25h0m0 92h0m0 13h0m0 21h0m0-36h0m1-95h0m1 66h0m1-13h0m0 12h0m0 7h0m0-21h0m0 13h0m0-72h0m2 69h0m0 7h0m0-12h0m0 95h0m2-132h0m0 21h0m0 30h0m0-1h0m1-74h0m0 35h0m2 73h0m1 116h0m0-184h0m1 28h0m0 13h0m1-78h0m0 16h0m1 28h0m0 30h0m1-19h0m1 28h0m0-39h0m1 44h0m1-85h0m1 19h0m0-1h0m0 28h0m3 45h0m3-32h0m0 79h0m1 10h0m1-92h0m1-55h0m0 39h0m1 114h0m0-91h0m0-43h0m1 7h0m0 53h0m1-87h0m1 9h0m1 36h0m2 23h0m2-48h0m4 49h0m6 4h0m2-55h0m1-8h0m1 45h0m2-62h0m1 6h0m0 29h0m2-10h0m1 27h0m0-32h0m3 25h0m0 7h0m3 3h0m0 5h0m0 11h0m1-38h0m5-14h0m1 3h0m3 20h0m5 0h0m3 43h0m2-12h0m6-30h0m1-3h0m1-26h0m2 28h0m1-14h0m2-13h0m1 50h0m3-32h0m4 9h0m13-32h0m3 16h0m2 58h0m7-5h0m1-40h0m13-15h0m7 29h0m2-7h0m1-19h0m1 148h0m11-116h0m0-25h0m0 4h0m1 12h0m2-24h0m0 49h0m11-29h0m9 4h0m3 1h0m8-9h0m7 12h0m9-24h0m1-6h0m6 38h0m2-59h0m15 10h0m4 34h0m7 10h0" stroke="#2b2b2b" stroke-width="12.2" stroke-linecap="round" fill="none"/>
<polygon points="836.0,580.9 839.4,582.1 842.8,582.9 846.3,583.2 849.7,583.1 853.2,582.7 856.6,582.2 860.1,581.5 863.5,580.7 867.0,579.9 870.4,579.0 873.8,579.3 877.3,580.0 880.7,580.7 884.2,581.4 887.6,580.6 891.1,579.1 894.5,577.7 898.0,576.3 901.4,574.1 904.8,571.7 908.3,569.3 911.7,566.8 915.2,565.0 918.6,563.3 922.1,561.5 925.5,559.8 929.0,558.6 932.4,557.5 935.8,556.5 939.3,555.4 942.7,554.9 946.2,554.5 949.6,554.1 953.1,553.7 956.5,553.3 960.0,553.0 963.4,552.7 966.8,552.4 970.3,552.5 973.7,552.6 977.2,552.7 980.6,552.8 984.1,552.8 987.5,552.9 991.0,552.8 994.4,552.8 997.8,552.7 1001.3,552.5 1004.7,552.2 1008.2,551.8 1011.6,551.2 1015.1,550.4 1018.5,549.1 1022.0,547.3 1025.4,545.0 1028.8,543.9 1032.3,543.2 1035.7,543.6 1039.2,543.9 1039.2,577.9 1035.7,578.1 1032.3,578.2 1028.8,577.4 1025.4,576.0 1022.0,573.5 1018.5,571.5 1015.1,570.0 1011.6,569.0 1008.2,568.2 1004.7,567.6 1001.3,567.1 997.8,566.7 994.4,566.4 991.0,566.1 987.5,565.9 984.1,565.7 980.6,565.6 977.2,565.5 973.7,565.3 970.3,565.2 966.8,565.1 963.4,565.3 960.0,565.4 956.5,565.4 953.1,565.5 949.6,565.5 946.2,565.5 942.7,565.5 939.3,565.5 935.8,566.1 932.4,566.7 929.0,567.3 925.5,568.0 922.1,569.3 918.6,570.5 915.2,571.9 911.7,573.3 908.3,575.4 904.8,577.5 901.4,579.7 898.0,581.7 894.5,583.0 891.1,584.3 887.6,585.6 884.2,586.5 880.7,585.8 877.3,585.1 873.8,584.5 870.4,584.4 867.0,585.5 863.5,586.6 860.1,587.8 856.6,589.1 853.2,590.5 849.7,591.9 846.3,593.6 842.8,595.5 839.4,598.0 836.0,600.9" fill="#999999" fill-opacity="0.4"/>
<polyline points="836.0,590.9 852.3,586.8 871.4,581.4 885.1,584.1 898.7,578.7 912.3,569.7 926.0,563.7 939.6,560.4 966.9,558.8 994.2,559.6 1021.4,560.4 1039.2,560.9" fill="none" stroke="#1662c4" stroke-width="2.5" stroke-linejoin="round" stroke-linecap="round"/>
</g>
<text class="rd" transform="translate(1045.9,476.9) scale(1,1.06)" text-anchor="end">partial.cor = 0.203</text>
<text class="rd" transform="translate(1045.9,491.8) scale(1,1.06)" text-anchor="end">p = 1.55e-05</text>
<line x1="825.8" x2="825.8" y1="437.8" y2="674.8" stroke="#333" stroke-width="1.7"/>
<line x1="1049.3" x2="1049.3" y1="437.8" y2="674.8" stroke="#333" stroke-width="1.7"/>
<line x1="825.8" x2="1049.3" y1="461.6" y2="461.6" stroke="#262626" stroke-width="1.6"/>
<line x1="825.8" x2="1049.3" y1="674.8" y2="674.8" stroke="#e6e6e6" stroke-width="1.2"/>
<line x1="835.4" x2="835.4" y1="674.8" y2="678.6" stroke="#333" stroke-width="1.6"/>
<text class="ax" x="835.4" y="691.1" text-anchor="middle">0.0</text>
<line x1="876.3" x2="876.3" y1="674.8" y2="678.6" stroke="#333" stroke-width="1.6"/>
<text class="ax" x="876.3" y="691.1" text-anchor="middle">0.1</text>
<line x1="917.2" x2="917.2" y1="674.8" y2="678.6" stroke="#333" stroke-width="1.6"/>
<text class="ax" x="917.2" y="691.1" text-anchor="middle">0.2</text>
<line x1="958.1" x2="958.1" y1="674.8" y2="678.6" stroke="#333" stroke-width="1.6"/>
<text class="ax" x="958.1" y="691.1" text-anchor="middle">0.3</text>
<line x1="999.0" x2="999.0" y1="674.8" y2="678.6" stroke="#333" stroke-width="1.6"/>
<text class="ax" x="999.0" y="691.1" text-anchor="middle">0.4</text>
<line x1="1039.9" x2="1039.9" y1="674.8" y2="678.6" stroke="#333" stroke-width="1.6"/>
<text class="ax" x="1039.9" y="691.1" text-anchor="middle">0.5</text>
<rect x="1057.8" y="437.8" width="223.5" height="23.8" fill="#d9d9d9" stroke="#555" stroke-width="1"/>
<text class="st" transform="translate(1169.5,453.7) scale(1,1.08)" text-anchor="middle">Macrophage</text>
<g><clipPath id="cp1_4"><rect x="1057.8" y="461.6" width="223.5" height="213.2"/></clipPath></g>
<g clip-path="url(#cp1_4)">
<line x1="1092.7" x2="1092.7" y1="461.6" y2="674.8" stroke="#f2f2f2" stroke-width="0.8"/>
<line x1="1142.9" x2="1142.9" y1="461.6" y2="674.8" stroke="#f2f2f2" stroke-width="0.8"/>
<line x1="1193.1" x2="1193.1" y1="461.6" y2="674.8" stroke="#f2f2f2" stroke-width="0.8"/>
<line x1="1243.3" x2="1243.3" y1="461.6" y2="674.8" stroke="#f2f2f2" stroke-width="0.8"/>
<line x1="1057.8" x2="1281.3" y1="643.6" y2="643.6" stroke="#f2f2f2" stroke-width="0.8"/>
<line x1="1057.8" x2="1281.3" y1="585.9" y2="585.9" stroke="#f2f2f2" stroke-width="0.8"/>
<line x1="1057.8" x2="1281.3" y1="528.2" y2="528.2" stroke="#f2f2f2" stroke-width="0.8"/>
<line x1="1057.8" x2="1281.3" y1="470.5" y2="470.5" stroke="#f2f2f2" stroke-width="0.8"/>
<line x1="1067.6" x2="1067.6" y1="461.6" y2="674.8" stroke="#ebebeb" stroke-width="1.2"/>
<line x1="1117.8" x2="1117.8" y1="461.6" y2="674.8" stroke="#ebebeb" stroke-width="1.2"/>
<line x1="1168.0" x2="1168.0" y1="461.6" y2="674.8" stroke="#ebebeb" stroke-width="1.2"/>
<line x1="1218.2" x2="1218.2" y1="461.6" y2="674.8" stroke="#ebebeb" stroke-width="1.2"/>
<line x1="1268.4" x2="1268.4" y1="461.6" y2="674.8" stroke="#ebebeb" stroke-width="1.2"/>
<line x1="1057.8" x2="1281.3" y1="672.4" y2="672.4" stroke="#ebebeb" stroke-width="1.2"/>
<line x1="1057.8" x2="1281.3" y1="614.7" y2="614.7" stroke="#ebebeb" stroke-width="1.2"/>
<line x1="1057.8" x2="1281.3" y1="557.0" y2="557.0" stroke="#ebebeb" stroke-width="1.2"/>
<line x1="1057.8" x2="1281.3" y1="499.3" y2="499.3" stroke="#ebebeb" stroke-width="1.2"/>
<path transform="scale(0.5)" d="M2135 1296h0m0 16h0m0 17h0m0-113h0m0-32h0m0 45h0m0-153h0m0-7h0m0 119h0m0-22h0m0 99h0m0-8h0m0-162h0m0 32h0m0 68h0m0-105h0m0 56h0m0 78h0m0-43h0m0 81h0m0-93h0m0-11h0m0-36h0m0 138h0m0-84h0m0-52h0m0-5h0m0-17h0m0 103h0m0-119h0m0 67h0m0 57h0m0-49h0m0 94h0m0-155h0m0 45h0m0-54h0m0 177h0m0-79h0m0 19h0m0-66h0m0-59h0m0 55h0m0 109h0m0-141h0m0-34h0m0 82h0m0 73h0m0-28h0m0-81h0m0-38h0m0 140h0m0-61h0m0 16h0m0 22h0m0 41h0m0 14h0m0-8h0m0-12h0m0-30h0m0 20h0m0-51h0m0 41h0m0 31h0m0-150h0m0 90h0m0-35h0m0 15h0m0 72h0m0-162h0m0 119h0m0-80h0m0 21h0m0 116h0m0-99h0m0-66h0m0 44h0m0 85h0m0-108h0m0 73h0m0-70h0m0 27h0m0-20h0m0 137h0m0-121h0m0 110h0m0-143h0m0 135h0m0-64h0m0 31h0m0 65h0m0-125h0m0-27h0m0 157h0m0-328h0m3 195h0m1-15h0m0 24h0m0 9h0m2 1h0m0 46h0m1-60h0m0 56h0m0-60h0m1 51h0m0-49h0m1 44h0m1 7h0m0-37h0m0 10h0m1 71h0m0-74h0m0-8h0m0 15h0m0-33h0m1-9h0m0 91h0m0-73h0m1-3h0m0 35h0m0-46h0m0 64h0m1-64h0m0 21h0m0-54h0m1 8h0m0 94h0m1-87h0m0-12h0m0 51h0m1-16h0m0 46h0m0-65h0m0 64h0m0-35h0m1-31h0m0 70h0m0-31h0m0-60h0m0 191h0m0-165h0m1-3h0m0 35h0m0 118h0m0-123h0m1-28h0m0 110h0m1-134h0m0 78h0m0-74h0m1 44h0m0 118h0m0-3h0m0-148h0m1 2h0m0 51h0m0 7h0m1-25h0m0 66h0m0-83h0m1 3h0m0 7h0m1 101h0m0-139h0m0 36h0m1 63h0m0-35h0m0 25h0m1-10h0m0-28h0m1-23h0m0 52h0m0-38h0m2-12h0m0 5h0m0-56h0m1 13h0m1 23h0m1 19h0m0 85h0m0-80h0m1-8h0m0 6h0m0-1h0m1 4h0m0-10h0m1 8h0m0-42h0m0 37h0m1 2h0m0-16h0m1 13h0m0 40h0m1 44h0m0-83h0m1-6h0m0 91h0m0-43h0m0-31h0m1-23h0m0 4h0m1-10h0m0 18h0m0 150h0m0-155h0m0-6h0m0 48h0m1-50h0m0 20h0m0-15h0m0 13h0m1 57h0m0-17h0m2-43h0m1 109h0m0-128h0m0-14h0m0 21h0m1 28h0m0 3h0m0-24h0m0 66h0m1-52h0m1-45h0m0 10h0m0 70h0m0-70h0m1 9h0m0 23h0m0 30h0m1 43h0m0-84h0m0-15h0m0 73h0m0 102h0m0-69h0m1-40h0m0-75h0m1 0h0m0 72h0m0-74h0m0 33h0m1 57h0m0-70h0m0 95h0m1-63h0m0-32h0m0 34h0m0 30h0m0-18h0m0-38h0m1 135h0m0-105h0m0-40h0m0-6h0m0 25h0m1-35h0m1 47h0m1-8h0m0 45h0m1-4h0m0-4h0m1-10h0m0-9h0m0 75h0m0-145h0m1 71h0m0 4h0m1 19h0m0-34h0m0 33h0m0-49h0m0-12h0m1 76h0m1-49h0m0-6h0m1-16h0m0 19h0m0-18h0m0-8h0m1 107h0m0-82h0m0-31h0m0 54h0m1-87h0m0 38h0m0 61h0m1-50h0m0-27h0m1 8h0m1 80h0m1-33h0m0-18h0m3 8h0m1 18h0m0-19h0m0 27h0m1-44h0m1 4h0m0 2h0m0-8h0m1 17h0m0 13h0m1-59h0m0 22h0m0-2h0m1 41h0m0-74h0m1 67h0m0-20h0m0-7h0m1 49h0m2-13h0m0-58h0m0 6h0m2 43h0m1-52h0m1 24h0m1-20h0m0 3h0m0 112h0m0-112h0m1-25h0m0 41h0m1 21h0m0-51h0m2 53h0m1 3h0m0-35h0m1 21h0m0 7h0m1-16h0m1 58h0m0-86h0m1 1h0m0 10h0m1 28h0m0-10h0m0 22h0m0-39h0m0 47h0m0-15h0m1 57h0m1-109h0m0 43h0m0 26h0m0-54h0m1 25h0m1-49h0m1 66h0m0-19h0m1-37h0m0-12h0m1 45h0m0-20h0m1 43h0m0-19h0m0-24h0m0 43h0m2-69h0m2 18h0m0 50h0m1 32h0m1-25h0m0-9h0m0-24h0m1 34h0m0 59h0m2-101h0m1-18h0m0-15h0m0 53h0m1-33h0m1 54h0m1-10h0m2-60h0m1 16h0m0 46h0m0 1h0m0-26h0m2 52h0m0 41h0m1-108h0m0 3h0m1 97h0m2-82h0m3-13h0m0 40h0m2-7h0m0 10h0m2-44h0m0 3h0m1 50h0m0-52h0m0-14h0m1 47h0m2 19h0m7 76h0m0-120h0m0 26h0m1 44h0m1-74h0m1-14h0m0 12h0m0-20h0m3 8h0m0 2h0m1 40h0m1-12h0m1 12h0m1-21h0m0 23h0m1-11h0m0 52h0m1-79h0m5 5h0m1 68h0m0-61h0m0-22h0m5 26h0m1-17h0m0-19h0m0 32h0m1 29h0m3-49h0m5-8h0m8 56h0m1 30h0m3-51h0m3 33h0m1-73h0m2 49h0m3-28h0m4 50h0m1-47h0m7 22h0m6-12h0m2 1h0m1-3h0m3-10h0m6 2h0m5-5h0m1 2h0m3 4h0m3 7h0m1 13h0m4-4h0m1-2h0m10-1h0m2 29h0m3-40h0m17 18h0m16-3h0m0-9h0m7 36h0m3-37h0m4-23h0m1 22h0m2-4h0m2 21h0m1-27h0m6 28h0m3 9h0m15-21h0m6-6h0m0 10h0m7 11h0m2-25h0m5-13h0m8 13h0m7 7h0" stroke="#2b2b2b" stroke-width="12.2" stroke-linecap="round" fill="none"/>
<polygon points="1067.7,581.7 1071.2,578.6 1074.6,576.1 1078.1,574.7 1081.5,574.2 1085.0,574.9 1088.4,575.5 1091.8,575.5 1095.3,574.0 1098.7,572.4 1102.2,570.8 1105.6,569.4 1109.1,568.3 1112.5,567.2 1116.0,566.1 1119.4,565.1 1122.8,564.3 1126.3,563.6 1129.7,562.8 1133.2,562.1 1136.6,561.7 1140.1,561.3 1143.5,560.9 1147.0,560.4 1150.4,559.9 1153.8,559.5 1157.3,559.0 1160.7,558.5 1164.2,558.2 1167.6,557.9 1171.1,557.7 1174.5,557.4 1178.0,557.2 1181.4,556.9 1184.8,556.7 1188.3,556.5 1191.7,556.4 1195.2,556.3 1198.6,556.1 1202.1,556.0 1205.5,556.0 1209.0,556.0 1212.4,556.0 1215.8,556.1 1219.3,556.3 1222.7,556.4 1226.2,556.5 1229.6,556.5 1233.1,556.4 1236.5,556.2 1240.0,555.8 1243.4,555.3 1246.8,554.5 1250.3,553.4 1253.7,551.6 1257.2,549.1 1260.6,548.0 1264.1,546.5 1267.5,544.9 1271.0,545.3 1271.0,585.3 1267.5,585.5 1264.1,583.6 1260.6,581.9 1257.2,580.5 1253.7,577.7 1250.3,575.7 1246.8,574.3 1243.4,573.3 1240.0,572.5 1236.5,572.0 1233.1,571.7 1229.6,571.5 1226.2,571.4 1222.7,571.3 1219.3,571.3 1215.8,571.3 1212.4,571.3 1209.0,571.4 1205.5,571.4 1202.1,571.3 1198.6,571.2 1195.2,571.1 1191.7,570.9 1188.3,570.8 1184.8,570.7 1181.4,570.6 1178.0,570.5 1174.5,570.4 1171.1,570.3 1167.6,570.1 1164.2,570.0 1160.7,569.8 1157.3,569.8 1153.8,569.8 1150.4,569.9 1147.0,570.0 1143.5,570.1 1140.1,570.2 1136.6,570.3 1133.2,570.4 1129.7,570.9 1126.3,571.4 1122.8,572.0 1119.4,572.6 1116.0,573.5 1112.5,574.5 1109.1,575.4 1105.6,576.4 1102.2,577.8 1098.7,579.4 1095.3,581.0 1091.8,582.6 1088.4,582.7 1085.0,582.3 1081.5,581.9 1078.1,583.0 1074.6,585.2 1071.2,588.8 1067.7,593.7" fill="#999999" fill-opacity="0.4"/>
<polyline points="1067.7,587.7 1073.2,581.4 1080.0,577.8 1090.9,579.5 1104.6,573.2 1118.2,569.1 1131.8,566.4 1159.1,564.2 1186.4,563.7 1213.7,563.7 1240.9,564.2 1271.0,565.3" fill="none" stroke="#1662c4" stroke-width="2.5" stroke-linejoin="round" stroke-linecap="round"/>
</g>
<text class="rd" transform="translate(1277.9,476.9) scale(1,1.06)" text-anchor="end">partial.cor = 0.297</text>
<text class="rd" transform="translate(1277.9,491.8) scale(1,1.06)" text-anchor="end">p = 1.10e-10</text>
<line x1="1057.8" x2="1057.8" y1="437.8" y2="674.8" stroke="#333" stroke-width="1.7"/>
<line x1="1281.3" x2="1281.3" y1="437.8" y2="674.8" stroke="#333" stroke-width="1.7"/>
<line x1="1057.8" x2="1281.3" y1="461.6" y2="461.6" stroke="#262626" stroke-width="1.6"/>
<line x1="1057.8" x2="1281.3" y1="674.8" y2="674.8" stroke="#e6e6e6" stroke-width="1.2"/>
<line x1="1067.6" x2="1067.6" y1="674.8" y2="678.6" stroke="#333" stroke-width="1.6"/>
<text class="ax" x="1067.6" y="691.1" text-anchor="middle">0.0</text>
<line x1="1117.8" x2="1117.8" y1="674.8" y2="678.6" stroke="#333" stroke-width="1.6"/>
<text class="ax" x="1117.8" y="691.1" text-anchor="middle">0.1</text>
<line x1="1168.0" x2="1168.0" y1="674.8" y2="678.6" stroke="#333" stroke-width="1.6"/>
<text class="ax" x="1168.0" y="691.1" text-anchor="middle">0.2</text>
<line x1="1218.2" x2="1218.2" y1="674.8" y2="678.6" stroke="#333" stroke-width="1.6"/>
<text class="ax" x="1218.2" y="691.1" text-anchor="middle">0.3</text>
<line x1="1268.4" x2="1268.4" y1="674.8" y2="678.6" stroke="#333" stroke-width="1.6"/>
<text class="ax" x="1268.4" y="691.1" text-anchor="middle">0.4</text>
<rect x="1289.8" y="437.8" width="223.5" height="23.8" fill="#d9d9d9" stroke="#555" stroke-width="1"/>
<text class="st" transform="translate(1401.5,453.7) scale(1,1.08)" text-anchor="middle">Neutrophil</text>
<g><clipPath id="cp1_5"><rect x="1289.8" y="461.6" width="223.5" height="213.2"/></clipPath></g>
<g clip-path="url(#cp1_5)">
<line x1="1328.3" x2="1328.3" y1="461.6" y2="674.8" stroke="#f2f2f2" stroke-width="0.8"/>
<line x1="1385.6" x2="1385.6" y1="461.6" y2="674.8" stroke="#f2f2f2" stroke-width="0.8"/>
<line x1="1442.9" x2="1442.9" y1="461.6" y2="674.8" stroke="#f2f2f2" stroke-width="0.8"/>
<line x1="1500.1" x2="1500.1" y1="461.6" y2="674.8" stroke="#f2f2f2" stroke-width="0.8"/>
<line x1="1289.8" x2="1513.2" y1="643.6" y2="643.6" stroke="#f2f2f2" stroke-width="0.8"/>
<line x1="1289.8" x2="1513.2" y1="585.9" y2="585.9" stroke="#f2f2f2" stroke-width="0.8"/>
<line x1="1289.8" x2="1513.2" y1="528.2" y2="528.2" stroke="#f2f2f2" stroke-width="0.8"/>
<line x1="1289.8" x2="1513.2" y1="470.5" y2="470.5" stroke="#f2f2f2" stroke-width="0.8"/>
<line x1="1299.7" x2="1299.7" y1="461.6" y2="674.8" stroke="#ebebeb" stroke-width="1.2"/>
<line x1="1357.0" x2="1357.0" y1="461.6" y2="674.8" stroke="#ebebeb" stroke-width="1.2"/>
<line x1="1414.2" x2="1414.2" y1="461.6" y2="674.8" stroke="#ebebeb" stroke-width="1.2"/>
<line x1="1471.5" x2="1471.5" y1="461.6" y2="674.8" stroke="#ebebeb" stroke-width="1.2"/>
<line x1="1289.8" x2="1513.2" y1="672.4" y2="672.4" stroke="#ebebeb" stroke-width="1.2"/>
<line x1="1289.8" x2="1513.2" y1="614.7" y2="614.7" stroke="#ebebeb" stroke-width="1.2"/>
<line x1="1289.8" x2="1513.2" y1="557.0" y2="557.0" stroke="#ebebeb" stroke-width="1.2"/>
<line x1="1289.8" x2="1513.2" y1="499.3" y2="499.3" stroke="#ebebeb" stroke-width="1.2"/>
<path transform="scale(0.5)" d="M2604 1224h0m2-38h0m2 67h0m7-47h0m8 36h0m1-30h0m0 10h0m2-29h0m0-23h0m1 110h0m2-13h0m1-71h0m1 7h0m1-7h0m0 63h0m1-32h0m1-17h0m2-10h0m0 14h0m0 5h0m1-32h0m1 24h0m0 30h0m0-24h0m1-23h0m1-49h0m0 20h0m1 20h0m0 16h0m1-10h0m3-27h0m0 97h0m1-111h0m0-9h0m3 30h0m0 47h0m0 29h0m0-40h0m1-31h0m1-22h0m0-31h0m3 169h0m0-124h0m0-26h0m0 28h0m1 82h0m0-31h0m1-63h0m0 109h0m0-40h0m1-34h0m0-37h0m0 80h0m1-39h0m0-32h0m0 13h0m1-19h0m1 65h0m1-10h0m0-49h0m0 4h0m1 0h0m0-23h0m1 41h0m0-46h0m1 79h0m1-73h0m1-11h0m0 77h0m1-85h0m0 130h0m1-100h0m1-36h0m1 17h0m0 0h0m2 32h0m0 43h0m0-74h0m0 73h0m0-65h0m0-19h0m1 69h0m0-44h0m0-13h0m0 33h0m1 25h0m0-48h0m1 26h0m0 5h0m0-73h0m0 82h0m0-43h0m1 73h0m0-76h0m0-26h0m1 35h0m0 33h0m0-22h0m1-7h0m0 55h0m0-16h0m0-42h0m0-57h0m1 28h0m0 44h0m0-34h0m0-10h0m1 32h0m1-18h0m0 34h0m0 85h0m0-114h0m0 77h0m0-71h0m1 18h0m0-8h0m0 14h0m0 43h0m1-63h0m0-17h0m1 56h0m0-47h0m0 4h0m0 136h0m0-127h0m0-55h0m0 99h0m1-37h0m0 8h0m0 76h0m0-91h0m0-14h0m1 23h0m0-46h0m0 102h0m0-83h0m0 22h0m0 34h0m0 39h0m1-51h0m0-21h0m0-22h0m0 36h0m1 10h0m0-20h0m0 98h0m1-126h0m0-39h0m0 156h0m0-59h0m0-72h0m1 124h0m1-80h0m0 18h0m0-39h0m1-54h0m1 57h0m1-33h0m0 106h0m1-101h0m0-4h0m1 83h0m0-51h0m0 17h0m1-20h0m0 36h0m0-44h0m0 77h0m0-33h0m1-75h0m1 185h0m0-167h0m1-4h0m0 1h0m0 120h0m0-29h0m0-20h0m0 47h0m1-71h0m0-14h0m1-21h0m0 28h0m0-43h0m0 75h0m0-98h0m0 70h0m0 5h0m1-90h0m0 181h0m0-15h0m1-82h0m0 43h0m0-26h0m0-57h0m0 1h0m1 21h0m0-29h0m0 19h0m1-2h0m0 55h0m0 27h0m0-78h0m1 66h0m0-62h0m0 23h0m0-3h0m1 43h0m0-16h0m0-59h0m0-2h0m1 59h0m0-77h0m0 48h0m1-7h0m0 91h0m0-132h0m1-7h0m0 48h0m0 82h0m0-89h0m1 22h0m0 4h0m0-36h0m0-14h0m1 13h0m0-48h0m0 38h0m0 70h0m1-58h0m0 30h0m1 32h0m0-45h0m1-60h0m1 34h0m0 9h0m0 41h0m0-52h0m0 40h0m1-39h0m1 48h0m1 10h0m0-62h0m0 16h0m0-28h0m1-17h0m0 64h0m0-7h0m0 84h0m1-65h0m0-17h0m0-24h0m0 76h0m0-78h0m1-11h0m0 82h0m1-32h0m1 36h0m0-61h0m1-41h0m0 51h0m0 8h0m0 1h0m0-22h0m0 27h0m1-10h0m0-1h0m1-15h0m0-5h0m0 50h0m1 64h0m0-100h0m1 3h0m2-6h0m0 35h0m0-38h0m1 42h0m0-11h0m0-54h0m0 10h0m1 40h0m0 62h0m1-140h0m0 51h0m0-40h0m0 54h0m1-34h0m1-31h0m0 5h0m0 68h0m0-35h0m0 35h0m0-43h0m1 23h0m0 12h0m0 64h0m1-101h0m0 103h0m0-92h0m1 30h0m1-80h0m0 74h0m0 2h0m0-70h0m1 61h0m0-25h0m0-29h0m1 78h0m0-38h0m1-51h0m0 56h0m1 7h0m0-3h0m0 64h0m0-64h0m1-30h0m0 24h0m0-46h0m0 29h0m1-9h0m1 4h0m1-4h0m0 19h0m0-29h0m0 13h0m0 28h0m0-35h0m0 41h0m0-58h0m1 65h0m0-74h0m2 18h0m0 73h0m0-50h0m0 31h0m1-51h0m0 22h0m1-2h0m0-56h0m1 0h0m1 62h0m0 13h0m1 139h0m0-177h0m0 62h0m1-15h0m0-13h0m0-12h0m2 23h0m0-30h0m0-11h0m1 40h0m0-26h0m0 5h0m1-42h0m0 112h0m0-80h0m1-21h0m1 23h0m0 58h0m1-26h0m1-20h0m0-20h0m1-12h0m1-14h0m0 116h0m1-69h0m0 24h0m0-34h0m0-6h0m1 14h0m0 64h0m1-10h0m0-15h0m1-75h0m1 69h0m0-4h0m0 31h0m0 45h0m1-121h0m0-6h0m1-3h0m1-7h0m1 14h0m0 37h0m1-208h0m0 222h0m0-64h0m1-6h0m0 48h0m0 42h0m1-47h0m1 49h0m2 55h0m1-145h0m2 47h0m0-8h0m0 19h0m1-22h0m0-12h0m0 61h0m2-102h0m1 104h0m0-9h0m0-27h0m1-1h0m2 49h0m1-99h0m1 28h0m4-21h0m0 5h0m1-12h0m3-3h0m1 46h0m0-32h0m1 33h0m3-58h0m0 13h0m1 16h0m0 9h0m1 17h0m1 26h0m1-57h0m0 0h0m2 2h0m2 11h0m3 20h0m1-7h0m2-1h0m2-36h0m1-3h0m2 11h0m6-9h0m5 24h0m3-53h0m1 47h0m2 65h0m5-59h0m5-22h0m0-9h0m2 30h0m9-10h0m1-35h0m4 46h0m2-14h0m1 7h0m8-33h0m3 41h0m3-43h0m3 31h0m14-5h0m8-2h0m1-15h0m8-6h0m1 19h0m9 4h0m9-31h0m0 12h0m8-17h0m7-4h0m11-17h0m3 62h0m4-25h0m4-23h0m1-4h0m2 7h0m1 2h0m2 17h0m0 23h0m5-59h0m3 58h0m11-24h0" stroke="#2b2b2b" stroke-width="12.2" stroke-linecap="round" fill="none"/>
<polygon points="1299.6,603.2 1303.1,602.8 1306.5,602.5 1310.0,601.2 1313.5,599.1 1316.9,596.5 1320.4,593.8 1323.9,591.1 1327.3,588.9 1330.8,586.6 1334.3,584.3 1337.7,582.8 1341.2,581.2 1344.7,580.5 1348.1,580.0 1351.6,579.1 1355.1,577.8 1358.5,576.4 1362.0,575.0 1365.5,573.5 1368.9,572.0 1372.4,570.4 1375.9,568.9 1379.3,567.4 1382.8,566.0 1386.3,564.6 1389.7,563.1 1393.2,561.7 1396.7,560.2 1400.2,558.7 1403.6,557.2 1407.1,555.8 1410.6,554.6 1414.0,553.2 1417.5,551.9 1421.0,550.6 1424.4,549.3 1427.9,548.0 1431.4,546.7 1434.8,545.6 1438.3,544.6 1441.8,543.5 1445.2,542.5 1448.7,541.5 1452.2,540.5 1455.6,539.6 1459.1,538.8 1462.6,537.9 1466.0,537.1 1469.5,536.3 1473.0,535.5 1476.4,534.7 1479.9,533.7 1483.4,532.7 1486.8,531.6 1490.3,530.4 1493.8,528.9 1497.2,527.0 1500.7,524.4 1504.2,522.8 1504.2,548.8 1500.7,548.5 1497.2,547.2 1493.8,546.6 1490.3,546.4 1486.8,546.5 1483.4,547.1 1479.9,547.8 1476.4,548.6 1473.0,549.5 1469.5,550.4 1466.0,551.3 1462.6,552.2 1459.1,553.1 1455.6,554.0 1452.2,554.8 1448.7,555.6 1445.2,556.3 1441.8,557.1 1438.3,557.7 1434.8,558.4 1431.4,559.1 1427.9,559.9 1424.4,560.7 1421.0,561.4 1417.5,562.2 1414.0,563.0 1410.6,563.8 1407.1,564.5 1403.6,565.4 1400.2,566.5 1396.7,567.7 1393.2,568.8 1389.7,570.0 1386.3,571.2 1382.8,572.4 1379.3,573.7 1375.9,575.0 1372.4,576.5 1368.9,578.0 1365.5,579.5 1362.0,580.9 1358.5,582.3 1355.1,583.7 1351.6,585.2 1348.1,586.2 1344.7,586.8 1341.2,587.7 1337.7,589.6 1334.3,591.5 1330.8,594.2 1327.3,597.1 1323.9,600.1 1320.4,603.8 1316.9,608.0 1313.5,612.4 1310.0,617.1 1306.5,622.0 1303.1,627.7 1299.6,633.2" fill="#999999" fill-opacity="0.4"/>
<polyline points="1299.6,618.2 1309.1,610.0 1322.8,596.4 1333.7,588.2 1341.9,584.1 1350.1,582.8 1363.7,577.3 1377.3,571.3 1404.6,560.9 1431.9,552.8 1459.2,545.9 1486.4,539.1 1504.2,535.8" fill="none" stroke="#1662c4" stroke-width="2.5" stroke-linejoin="round" stroke-linecap="round"/>
</g>
<text class="rd" transform="translate(1509.8,476.9) scale(1,1.06)" text-anchor="end">partial.cor = 0.609</text>
<text class="rd" transform="translate(1509.8,491.8) scale(1,1.06)" text-anchor="end">p = 3.55e-47</text>
<line x1="1289.8" x2="1289.8" y1="437.8" y2="674.8" stroke="#333" stroke-width="1.7"/>
<line x1="1513.2" x2="1513.2" y1="437.8" y2="674.8" stroke="#333" stroke-width="1.7"/>
<line x1="1289.8" x2="1513.2" y1="461.6" y2="461.6" stroke="#262626" stroke-width="1.6"/>
<line x1="1289.8" x2="1513.2" y1="674.8" y2="674.8" stroke="#e6e6e6" stroke-width="1.2"/>
<line x1="1299.7" x2="1299.7" y1="674.8" y2="678.6" stroke="#333" stroke-width="1.6"/>
<text class="ax" x="1299.7" y="691.1" text-anchor="middle">0.0</text>
<line x1="1357.0" x2="1357.0" y1="674.8" y2="678.6" stroke="#333" stroke-width="1.6"/>
<text class="ax" x="1357.0" y="691.1" text-anchor="middle">0.1</text>
<line x1="1414.2" x2="1414.2" y1="674.8" y2="678.6" stroke="#333" stroke-width="1.6"/>
<text class="ax" x="1414.2" y="691.1" text-anchor="middle">0.2</text>
<line x1="1471.5" x2="1471.5" y1="674.8" y2="678.6" stroke="#333" stroke-width="1.6"/>
<text class="ax" x="1471.5" y="691.1" text-anchor="middle">0.3</text>
<rect x="1521.7" y="437.8" width="223.5" height="23.8" fill="#d9d9d9" stroke="#555" stroke-width="1"/>
<text class="st" transform="translate(1633.4,453.7) scale(1,1.08)" text-anchor="middle">Dendritic Cell</text>
<g><clipPath id="cp1_6"><rect x="1521.7" y="461.6" width="223.5" height="213.2"/></clipPath></g>
<g clip-path="url(#cp1_6)">
<line x1="1567.9" x2="1567.9" y1="461.6" y2="674.8" stroke="#f2f2f2" stroke-width="0.8"/>
<line x1="1616.6" x2="1616.6" y1="461.6" y2="674.8" stroke="#f2f2f2" stroke-width="0.8"/>
<line x1="1665.3" x2="1665.3" y1="461.6" y2="674.8" stroke="#f2f2f2" stroke-width="0.8"/>
<line x1="1714.0" x2="1714.0" y1="461.6" y2="674.8" stroke="#f2f2f2" stroke-width="0.8"/>
<line x1="1521.7" x2="1745.2" y1="643.6" y2="643.6" stroke="#f2f2f2" stroke-width="0.8"/>
<line x1="1521.7" x2="1745.2" y1="585.9" y2="585.9" stroke="#f2f2f2" stroke-width="0.8"/>
<line x1="1521.7" x2="1745.2" y1="528.2" y2="528.2" stroke="#f2f2f2" stroke-width="0.8"/>
<line x1="1521.7" x2="1745.2" y1="470.5" y2="470.5" stroke="#f2f2f2" stroke-width="0.8"/>
<line x1="1543.6" x2="1543.6" y1="461.6" y2="674.8" stroke="#ebebeb" stroke-width="1.2"/>
<line x1="1592.3" x2="1592.3" y1="461.6" y2="674.8" stroke="#ebebeb" stroke-width="1.2"/>
<line x1="1641.0" x2="1641.0" y1="461.6" y2="674.8" stroke="#ebebeb" stroke-width="1.2"/>
<line x1="1689.7" x2="1689.7" y1="461.6" y2="674.8" stroke="#ebebeb" stroke-width="1.2"/>
<line x1="1738.4" x2="1738.4" y1="461.6" y2="674.8" stroke="#ebebeb" stroke-width="1.2"/>
<line x1="1521.7" x2="1745.2" y1="672.4" y2="672.4" stroke="#ebebeb" stroke-width="1.2"/>
<line x1="1521.7" x2="1745.2" y1="614.7" y2="614.7" stroke="#ebebeb" stroke-width="1.2"/>
<line x1="1521.7" x2="1745.2" y1="557.0" y2="557.0" stroke="#ebebeb" stroke-width="1.2"/>
<line x1="1521.7" x2="1745.2" y1="499.3" y2="499.3" stroke="#ebebeb" stroke-width="1.2"/>
<path transform="scale(0.5)" d="M3068 1146h0m2 80h0m2-57h0m0 22h0m2 46h0m0-123h0m1 67h0m0-15h0m1 25h0m0 16h0m0-17h0m0 1h0m1 2h0m0 49h0m1-41h0m0 21h0m1-60h0m1 77h0m0-31h0m0-45h0m1 62h0m0 25h0m1-14h0m1-42h0m0-22h0m0-40h0m0-9h0m1 18h0m0 87h0m0-7h0m0 26h0m1-26h0m0-29h0m0-16h0m0 5h0m0 50h0m1-72h0m1 19h0m0 22h0m0-20h0m0-23h0m0 50h0m0-8h0m0-26h0m0 72h0m1-23h0m0-24h0m0-93h0m1 16h0m0 54h0m0 34h0m1-61h0m0 61h0m0-50h0m0 51h0m0-23h0m1-28h0m1-28h0m0 62h0m0-23h0m1-8h0m0 32h0m0-57h0m0-30h0m0 75h0m0 52h0m1-6h0m0-31h0m0-28h0m1-72h0m0 81h0m0-27h0m0 64h0m1-72h0m0 2h0m0-19h0m0 38h0m0-25h0m0 3h0m1 28h0m0 23h0m0 12h0m1-40h0m0-23h0m2-21h0m0 72h0m0-33h0m0 26h0m0-58h0m1 24h0m0 41h0m0-37h0m0 49h0m0-63h0m1 56h0m0-58h0m0 4h0m1 26h0m0 13h0m1-66h0m0 51h0m0-23h0m0 22h0m1 2h0m0-5h0m0 20h0m0 41h0m1 3h0m0-67h0m1 16h0m0 135h0m0-149h0m0 35h0m1-102h0m0 138h0m0-95h0m0-31h0m1 128h0m0-134h0m0 37h0m0-30h0m0 28h0m0 42h0m0-84h0m0 88h0m1-4h0m0 49h0m0-32h0m0-10h0m0 42h0m1-78h0m0-9h0m0 33h0m0 11h0m1-67h0m0 54h0m1-7h0m1 27h0m0 42h0m0-65h0m0 87h0m1-79h0m0 7h0m0-29h0m0-18h0m0 61h0m0 47h0m0-103h0m1 70h0m0 54h0m0-129h0m0 28h0m1-54h0m0 19h0m1 122h0m0-43h0m0-26h0m0 5h0m0-35h0m0 82h0m2-92h0m0 1h0m0 4h0m0 34h0m1 15h0m0-60h0m1-17h0m1 13h0m0 31h0m1-50h0m0 105h0m0-44h0m0-16h0m1-13h0m0-44h0m0 108h0m0-65h0m1 95h0m0-108h0m0 77h0m0-120h0m1 82h0m0 66h0m0-95h0m0 129h0m1-94h0m0-6h0m0 42h0m0-63h0m1 18h0m0 10h0m0 54h0m0-91h0m1 57h0m1-103h0m0 75h0m0 29h0m0 7h0m1-47h0m0-13h0m0 42h0m0 66h0m2-94h0m0-11h0m1 69h0m0-82h0m0 41h0m0-5h0m0-23h0m1-25h0m0 21h0m1 67h0m0-7h0m0-70h0m0-16h0m0 89h0m0 40h0m1-115h0m0 169h0m0-197h0m0 116h0m1-57h0m0-35h0m1 120h0m0-92h0m1 54h0m0-64h0m0 68h0m0-36h0m1 37h0m0-32h0m0-30h0m0 115h0m1-109h0m0-27h0m0 20h0m1 28h0m0 25h0m0-42h0m0-52h0m0 10h0m1 70h0m0 115h0m0-139h0m1 90h0m0-39h0m0-104h0m0 31h0m0 27h0m1-52h0m1 12h0m0 72h0m1-65h0m0 75h0m0 93h0m0-106h0m0-19h0m1 3h0m0 64h0m0-105h0m1 19h0m1 24h0m0-60h0m0 73h0m0 1h0m1-83h0m2 39h0m1-27h0m0 85h0m0-55h0m1 3h0m0 110h0m1-152h0m0 146h0m1-151h0m0 97h0m0-8h0m0-36h0m1-28h0m0 32h0m1-27h0m0 22h0m0-42h0m0 44h0m0 11h0m1-73h0m0 17h0m0-42h0m0 125h0m0 49h0m1-121h0m0 14h0m0 42h0m2-33h0m0-14h0m1 38h0m1-58h0m1 16h0m0 103h0m0-71h0m1 18h0m0-57h0m0 6h0m1 94h0m0-94h0m1 52h0m0-46h0m0 2h0m0-18h0m1 12h0m1-39h0m0 15h0m0 73h0m1-43h0m0 70h0m1-98h0m0-35h0m0 33h0m0 2h0m0 27h0m0 14h0m0 13h0m1 5h0m0-55h0m1 133h0m0-169h0m0 106h0m0-13h0m1-38h0m0 28h0m0-29h0m1-44h0m0 46h0m0-18h0m1 102h0m1-74h0m0-22h0m0 34h0m2-27h0m1 46h0m1-63h0m0 4h0m1 43h0m0 89h0m0-120h0m0 50h0m1-30h0m0-26h0m0-37h0m1 89h0m1-16h0m1-80h0m1 19h0m0 18h0m0 22h0m1-31h0m1-15h0m0 21h0m0-34h0m4 67h0m0-9h0m1 19h0m0-80h0m1 76h0m1-38h0m1 16h0m0-27h0m3 53h0m0 17h0m0-50h0m1-4h0m2 17h0m0 15h0m2-31h0m0 42h0m1-50h0m1 14h0m0-10h0m0-27h0m1 34h0m0 25h0m1-34h0m1 5h0m0 22h0m1 66h0m5-58h0m0-76h0m0 56h0m0 61h0m0-53h0m2 3h0m0-40h0m3 52h0m0-49h0m1-28h0m0 47h0m4 0h0m4 32h0m0 36h0m1-96h0m0 56h0m1-45h0m0 31h0m0-204h0m7 145h0m2 6h0m2 46h0m1-16h0m1-8h0m0 34h0m1-35h0m1 15h0m2-15h0m4 3h0m0 33h0m1 64h0m6-69h0m0 21h0m1-23h0m2-53h0m1 2h0m8 80h0m0-47h0m1-37h0m1 62h0m1-28h0m8 7h0m4-10h0m0-19h0m1-16h0m1 10h0m4 34h0m2 38h0m5-39h0m0 11h0m2 17h0m2-18h0m2-46h0m4 12h0m8 22h0m16-2h0m2-60h0m8 63h0m1-38h0m11 143h0m0-125h0m1 20h0m2 4h0m2-11h0m0-31h0m2-11h0m3 16h0m6 2h0m7 50h0m0-45h0m4 32h0m1-26h0m6-11h0m5 33h0m2-61h0m6 109h0m0-93h0m7 7h0m3 29h0m9-26h0m0-18h0m8 102h0m2-109h0m5 60h0m3-25h0m12-10h0" stroke="#2b2b2b" stroke-width="12.2" stroke-linecap="round" fill="none"/>
<polygon points="1532.3,586.4 1535.7,586.8 1539.2,587.2 1542.6,587.1 1546.0,586.7 1549.4,586.3 1552.8,585.9 1556.3,585.3 1559.7,584.7 1563.1,584.0 1566.5,583.6 1570.0,583.2 1573.4,582.8 1576.8,581.9 1580.2,580.6 1583.6,579.3 1587.1,577.9 1590.5,576.6 1593.9,575.2 1597.3,573.8 1600.7,572.4 1604.2,571.0 1607.6,569.6 1611.0,568.3 1614.4,567.1 1617.9,565.8 1621.3,564.5 1624.7,563.2 1628.1,562.0 1631.5,560.7 1635.0,559.5 1638.4,558.5 1641.8,557.5 1645.2,556.6 1648.6,555.6 1652.1,554.7 1655.5,553.7 1658.9,552.8 1662.3,552.0 1665.8,551.5 1669.2,551.0 1672.6,550.5 1676.0,550.1 1679.4,549.7 1682.9,549.3 1686.3,548.8 1689.7,548.4 1693.1,548.3 1696.5,548.2 1700.0,547.9 1703.4,547.7 1706.8,547.4 1710.2,547.0 1713.7,546.5 1717.1,545.9 1720.5,545.3 1723.9,544.4 1727.3,543.2 1730.8,542.5 1734.2,541.9 1734.2,561.9 1730.8,561.4 1727.3,560.7 1723.9,559.4 1720.5,558.6 1717.1,557.9 1713.7,557.7 1710.2,557.6 1706.8,557.6 1703.4,557.7 1700.0,557.9 1696.5,558.1 1693.1,558.4 1689.7,558.6 1686.3,559.3 1682.9,560.0 1679.4,560.7 1676.0,561.5 1672.6,562.2 1669.2,563.0 1665.8,563.6 1662.3,564.3 1658.9,565.1 1655.5,565.9 1652.1,566.6 1648.6,567.4 1645.2,568.2 1641.8,568.9 1638.4,569.7 1635.0,570.4 1631.5,571.4 1628.1,572.4 1624.7,573.4 1621.3,574.3 1617.9,575.3 1614.4,576.3 1611.0,577.3 1607.6,578.3 1604.2,579.4 1600.7,580.6 1597.3,581.7 1593.9,582.9 1590.5,584.1 1587.1,585.3 1583.6,586.6 1580.2,587.8 1576.8,589.1 1573.4,590.1 1570.0,590.5 1566.5,591.0 1563.1,591.6 1559.7,592.5 1556.3,593.5 1552.8,594.5 1549.4,595.7 1546.0,597.1 1542.6,599.0 1539.2,601.1 1535.7,603.7 1532.3,606.4" fill="#999999" fill-opacity="0.4"/>
<polyline points="1532.3,596.4 1547.3,591.5 1563.7,587.7 1574.6,586.3 1585.5,582.2 1607.3,574.0 1634.6,565.0 1661.9,558.2 1689.2,553.6 1716.4,551.9 1734.2,551.9" fill="none" stroke="#1662c4" stroke-width="2.5" stroke-linejoin="round" stroke-linecap="round"/>
</g>
<text class="rd" transform="translate(1741.8,476.9) scale(1,1.06)" text-anchor="end">partial.cor = 0.4</text>
<text class="rd" transform="translate(1741.8,491.8) scale(1,1.06)" text-anchor="end">p = 1.39e-18</text>
<line x1="1521.7" x2="1521.7" y1="437.8" y2="674.8" stroke="#333" stroke-width="1.7"/>
<line x1="1745.2" x2="1745.2" y1="437.8" y2="674.8" stroke="#333" stroke-width="1.7"/>
<line x1="1521.7" x2="1745.2" y1="461.6" y2="461.6" stroke="#262626" stroke-width="1.6"/>
<line x1="1521.7" x2="1745.2" y1="674.8" y2="674.8" stroke="#e6e6e6" stroke-width="1.2"/>
<line x1="1543.6" x2="1543.6" y1="674.8" y2="678.6" stroke="#333" stroke-width="1.6"/>
<text class="ax" x="1543.6" y="691.1" text-anchor="middle">0.25</text>
<line x1="1592.3" x2="1592.3" y1="674.8" y2="678.6" stroke="#333" stroke-width="1.6"/>
<text class="ax" x="1592.3" y="691.1" text-anchor="middle">0.50</text>
<line x1="1641.0" x2="1641.0" y1="674.8" y2="678.6" stroke="#333" stroke-width="1.6"/>
<text class="ax" x="1641.0" y="691.1" text-anchor="middle">0.75</text>
<line x1="1689.7" x2="1689.7" y1="674.8" y2="678.6" stroke="#333" stroke-width="1.6"/>
<text class="ax" x="1689.7" y="691.1" text-anchor="middle">1.00</text>
<line x1="1738.4" x2="1738.4" y1="674.8" y2="678.6" stroke="#333" stroke-width="1.6"/>
<text class="ax" x="1738.4" y="691.1" text-anchor="middle">1.25</text>
<text class="lt" x="26.8" y="791.5">C</text>
<text class="gn" x="906.2" y="783.5" text-anchor="middle">CD8A</text>
<text class="tt" transform="translate(75.5,939.4) rotate(-90)" text-anchor="middle" style="font-size:15px">CD8A Expression Level (log<tspan dy="3" style="font-size:9.0px">2</tspan><tspan dy="-3"> RSEM)</tspan></text>
<rect x="105.7" y="832.8" width="24.3" height="213.2" fill="#d9d9d9" stroke="#333" stroke-width="1.7"/>
<text class="st" transform="translate(122.2,939.4) rotate(-90)" text-anchor="middle">SKCM</text>
<line x1="102.2" x2="105.7" y1="893.6" y2="893.6" stroke="#333" stroke-width="1.6"/>
<text class="ax" transform="translate(99.0,893.6) rotate(-90) scale(0.82,1)" text-anchor="middle">10</text>
<line x1="102.2" x2="105.7" y1="968.6" y2="968.6" stroke="#333" stroke-width="1.6"/>
<text class="ax" transform="translate(99.0,968.6) rotate(-90) scale(0.82,1)" text-anchor="middle">5</text>
<line x1="102.2" x2="105.7" y1="1043.6" y2="1043.6" stroke="#333" stroke-width="1.6"/>
<text class="ax" transform="translate(99.0,1043.6) rotate(-90) scale(0.82,1)" text-anchor="middle">0</text>
<text class="tt" x="937.6" y="1080.0" text-anchor="middle">Infiltration Level</text>
<rect x="130.0" y="809.0" width="223.5" height="23.8" fill="#d9d9d9" stroke="#555" stroke-width="1"/>
<text class="st" transform="translate(241.8,824.9) scale(1,1.08)" text-anchor="middle">Purity</text>
<g><clipPath id="cp2_0"><rect x="130.0" y="832.8" width="223.5" height="213.2"/></clipPath></g>
<g clip-path="url(#cp2_0)">
<line x1="146.3" x2="146.3" y1="832.8" y2="1046.0" stroke="#f2f2f2" stroke-width="0.8"/>
<line x1="203.3" x2="203.3" y1="832.8" y2="1046.0" stroke="#f2f2f2" stroke-width="0.8"/>
<line x1="260.3" x2="260.3" y1="832.8" y2="1046.0" stroke="#f2f2f2" stroke-width="0.8"/>
<line x1="317.3" x2="317.3" y1="832.8" y2="1046.0" stroke="#f2f2f2" stroke-width="0.8"/>
<line x1="130.0" x2="353.5" y1="1006.1" y2="1006.1" stroke="#f2f2f2" stroke-width="0.8"/>
<line x1="130.0" x2="353.5" y1="931.1" y2="931.1" stroke="#f2f2f2" stroke-width="0.8"/>
<line x1="130.0" x2="353.5" y1="856.1" y2="856.1" stroke="#f2f2f2" stroke-width="0.8"/>
<line x1="174.8" x2="174.8" y1="832.8" y2="1046.0" stroke="#ebebeb" stroke-width="1.2"/>
<line x1="231.8" x2="231.8" y1="832.8" y2="1046.0" stroke="#ebebeb" stroke-width="1.2"/>
<line x1="288.8" x2="288.8" y1="832.8" y2="1046.0" stroke="#ebebeb" stroke-width="1.2"/>
<line x1="345.8" x2="345.8" y1="832.8" y2="1046.0" stroke="#ebebeb" stroke-width="1.2"/>
<line x1="130.0" x2="353.5" y1="1043.6" y2="1043.6" stroke="#ebebeb" stroke-width="1.2"/>
<line x1="130.0" x2="353.5" y1="968.6" y2="968.6" stroke="#ebebeb" stroke-width="1.2"/>
<line x1="130.0" x2="353.5" y1="893.6" y2="893.6" stroke="#ebebeb" stroke-width="1.2"/>
<path transform="scale(0.5)" d="M281 1792h0m6 35h0m0-19h0m2-4h0m0-33h0m2-41h0m0 20h0m1 10h0m1 35h0m0-37h0m3 74h0m1-58h0m3 18h0m4 12h0m1 29h0m0-110h0m0 73h0m6 107h0m1-35h0m1-41h0m0-69h0m3 90h0m1-53h0m1-47h0m1 64h0m0-56h0m1 26h0m1 2h0m1 57h0m2-59h0m0 62h0m1-109h0m1 30h0m1 52h0m1 62h0m0-37h0m2 10h0m2-161h0m6 48h0m1 154h0m1-139h0m5 16h0m0-51h0m2 74h0m4-29h0m5-20h0m3 14h0m3 16h0m6 22h0m6-25h0m0 69h0m15-132h0m1 152h0m0-113h0m15 64h0m1 31h0m5-4h0m0-34h0m4-34h0m14 14h0m0 20h0m3-27h0m8 49h0m3 2h0m2-103h0m0 57h0m2 32h0m0 12h0m1 35h0m2-86h0m1 0h0m2 33h0m3 19h0m2 23h0m3 119h0m2-133h0m2-30h0m6 28h0m0-23h0m1 18h0m0 1h0m3-20h0m1 53h0m0 30h0m1-27h0m1-91h0m1 38h0m1-11h0m1-85h0m1 168h0m2-44h0m2 71h0m1-70h0m0 54h0m2-150h0m3 39h0m1 129h0m0 2h0m0-153h0m3 19h0m2 135h0m0-64h0m1 4h0m0 6h0m1-30h0m1-6h0m1 71h0m1-100h0m0-53h0m1 100h0m0-6h0m1 42h0m1 39h0m0-95h0m0 81h0m0-25h0m2-142h0m0 67h0m3 67h0m0-28h0m2-37h0m1 44h0m1-2h0m0-51h0m0 10h0m1 13h0m1 25h0m1 44h0m0 3h0m0-60h0m1 19h0m1-127h0m4 104h0m0 15h0m0-24h0m2 43h0m0 19h0m0-15h0m2-26h0m0-70h0m1 121h0m0 14h0m1-28h0m0-125h0m3 25h0m0 85h0m0-13h0m0-99h0m0 157h0m3-48h0m0-80h0m1 2h0m1 87h0m0-17h0m1-120h0m0 148h0m0-95h0m1-3h0m0-5h0m0 112h0m0 58h0m1-109h0m0 5h0m0 20h0m1 45h0m0 63h0m1-101h0m1 30h0m0-192h0m0 94h0m1 34h0m1-126h0m2 92h0m0-36h0m1 83h0m1-66h0m0 107h0m3-81h0m0 67h0m0 7h0m0 62h0m0-36h0m1-1h0m0-77h0m1 33h0m0 12h0m0-113h0m0 58h0m1 82h0m0 121h0m0-187h0m0 77h0m0-85h0m2-30h0m1 29h0m1 66h0m1-76h0m0 113h0m2-142h0m0 89h0m1-102h0m0 49h0m0-12h0m1 69h0m1-83h0m1 37h0m0-15h0m1-11h0m1 32h0m0-75h0m1-27h0m0 201h0m1-66h0m0-14h0m1-55h0m0 73h0m0-44h0m0 18h0m0-100h0m1 109h0m0 38h0m1 14h0m0-104h0m2-32h0m0 11h0m0 54h0m0 130h0m0-45h0m3-89h0m0 37h0m1 48h0m1-96h0m1-12h0m0 19h0m1-27h0m1 36h0m1-86h0m0 191h0m0-182h0m0 18h0m0 123h0m0-81h0m1-28h0m1 17h0m0-7h0m1 9h0m1-41h0m1 49h0m0 47h0m0-30h0m0 105h0m1-147h0m0 77h0m0-84h0m1 174h0m0-136h0m0 18h0m1 35h0m0-187h0m0 213h0m1-101h0m0 112h0m0-118h0m0 94h0m1-82h0m0 73h0m1 7h0m0-127h0m1 193h0m1-210h0m0 79h0m0-11h0m0 76h0m0 18h0m0-76h0m0 20h0m1 27h0m0-77h0m0 125h0m1-22h0m1-104h0m0 63h0m1-104h0m1 83h0m1 142h0m1-97h0m1-92h0m0 19h0m1 16h0m1 50h0m0 38h0m1 58h0m0-113h0m0-105h0m1 156h0m0-3h0m0-45h0m2 106h0m0-81h0m1-51h0m1-29h0m1 44h0m1 102h0m0-161h0m0 142h0m0-3h0m0-102h0m1 93h0m0-95h0m0 220h0m0-127h0m1 23h0m1-46h0m0-87h0m0 122h0m1-95h0m1 98h0m0-42h0m0 23h0m0 26h0m0 14h0m1-123h0m1-4h0m1 77h0m0 99h0m1-163h0m0-27h0m0 58h0m0-1h0m0-1h0m1 73h0m0-104h0m0 30h0m0 9h0m0-26h0m1 47h0m2 11h0m0 109h0m0-63h0m1 20h0m0-56h0m1-61h0m0 24h0m0-27h0m0-1h0m1 9h0m1 53h0m1-32h0m0-110h0m0 78h0m0 13h0m1-9h0m0 115h0m0-54h0m0-8h0m0-48h0m1 104h0m0-13h0m0 13h0m1-64h0m0-51h0m0 51h0m0-34h0m1-186h0m0 175h0m1-52h0m0 15h0m0 65h0m1 69h0m0 96h0m0-95h0m1 3h0m0-77h0m0 51h0m0-12h0m0-209h0m1 256h0m0-69h0m1 26h0m0 21h0m1-141h0m1 133h0m0-56h0m1-40h0m1 216h0m1-255h0m1 176h0m0-215h0m0 43h0m0 184h0m1-109h0m1 25h0m1-64h0m1 121h0m0-69h0m1 82h0m1-74h0m0 39h0m0 20h0m1-122h0m0 3h0m0 161h0m0-236h0m1 82h0m0 108h0m0-8h0m1-35h0m1-15h0m0-27h0m0-13h0m0-10h0m1 112h0m0-56h0m1 41h0m0-53h0m0-37h0m0 54h0m0 5h0m1-69h0m1 94h0m1 25h0m1 13h0m0-279h0m0 198h0m1-31h0m0 73h0m1-41h0m0-17h0m0 77h0m0 29h0m1-189h0m1 261h0m0-146h0m1-62h0m0 143h0m0-41h0m1 16h0m2-81h0m1 55h0m0-22h0m1 65h0m0-142h0m0 85h0m0-59h0m0 144h0m1-102h0m0 5h0m0 23h0m0-54h0m0-18h0m0 119h0m1-172h0m1 211h0m1-169h0m0 66h0m0-33h0m1 14h0m0 81h0m0-6h0m0-1h0m0-26h0m1-9h0m0 105h0m0-86h0m1-48h0m1 9h0m1 12h0m1 91h0m0-116h0m1-13h0m0 36h0" stroke="#2b2b2b" stroke-width="12.2" stroke-linecap="round" fill="none"/>
<polygon points="140.0,878.0 143.5,880.3 146.9,882.2 150.4,883.5 153.9,884.5 157.3,885.2 160.8,885.8 164.3,886.3 167.7,886.7 171.2,887.0 174.7,887.2 178.1,887.3 181.6,887.5 185.1,887.8 188.5,888.1 192.0,888.5 195.5,889.0 199.0,889.6 202.4,890.4 205.9,891.3 209.4,892.6 212.8,894.0 216.3,895.4 219.8,896.8 223.2,898.2 226.7,899.6 230.2,901.0 233.6,902.3 237.1,903.7 240.6,905.0 244.0,906.3 247.5,907.6 251.0,908.8 254.4,910.0 257.9,911.3 261.4,912.6 264.8,913.8 268.3,915.1 271.8,916.3 275.2,917.1 278.7,917.9 282.2,918.6 285.6,919.3 289.1,921.3 292.6,923.4 296.0,925.5 299.5,927.6 303.0,930.5 306.4,933.3 309.9,936.2 313.4,939.0 316.8,941.9 320.3,945.1 323.8,948.3 327.3,951.4 330.7,954.4 334.2,957.7 337.7,961.3 341.1,964.3 344.6,967.3 344.6,989.3 341.1,983.1 337.7,976.9 334.2,971.2 330.7,966.3 327.3,962.3 323.8,958.5 320.3,954.7 316.8,951.1 313.4,947.9 309.9,944.9 306.4,942.0 303.0,939.1 299.5,936.2 296.0,934.1 292.6,932.0 289.1,930.0 285.6,928.0 282.2,927.4 278.7,926.7 275.2,926.1 271.8,925.4 268.3,924.3 264.8,923.3 261.4,922.2 257.9,921.2 254.4,920.2 251.0,919.2 247.5,918.3 244.0,917.4 240.6,916.5 237.1,915.7 233.6,914.9 230.2,914.1 226.7,913.4 223.2,912.7 219.8,912.1 216.3,911.4 212.8,910.7 209.4,910.1 205.9,909.4 202.4,909.0 199.0,908.4 195.5,907.6 192.0,906.7 188.5,905.7 185.1,904.7 181.6,903.6 178.1,902.6 174.7,901.8 171.2,901.1 167.7,900.5 164.3,900.1 160.8,899.7 157.3,899.5 153.9,899.7 150.4,900.1 146.9,900.9 143.5,902.2 140.0,904.0" fill="#999999" fill-opacity="0.4"/>
<polyline points="140.0,891.0 157.7,892.4 179.6,895.1 206.8,900.6 234.1,908.7 255.9,915.6 272.3,921.0 285.9,923.8 299.6,931.9 315.9,945.6 332.3,961.9 344.6,978.3" fill="none" stroke="#1662c4" stroke-width="2.5" stroke-linejoin="round" stroke-linecap="round"/>
</g>
<text class="rd" transform="translate(350.1,848.1) scale(1,1.06)" text-anchor="end">cor = -0.613</text>
<text class="rd" transform="translate(350.1,863.0) scale(1,1.06)" text-anchor="end">p = 1.19e-48</text>
<line x1="130.0" x2="130.0" y1="809.0" y2="1046.0" stroke="#333" stroke-width="1.7"/>
<line x1="353.5" x2="353.5" y1="809.0" y2="1046.0" stroke="#333" stroke-width="1.7"/>
<line x1="130.0" x2="353.5" y1="832.8" y2="832.8" stroke="#262626" stroke-width="1.6"/>
<line x1="130.0" x2="353.5" y1="1046.0" y2="1046.0" stroke="#e6e6e6" stroke-width="1.2"/>
<line x1="174.8" x2="174.8" y1="1046.0" y2="1049.8" stroke="#333" stroke-width="1.6"/>
<text class="ax" x="174.8" y="1062.3" text-anchor="middle">0.25</text>
<line x1="231.8" x2="231.8" y1="1046.0" y2="1049.8" stroke="#333" stroke-width="1.6"/>
<text class="ax" x="231.8" y="1062.3" text-anchor="middle">0.50</text>
<line x1="288.8" x2="288.8" y1="1046.0" y2="1049.8" stroke="#333" stroke-width="1.6"/>
<text class="ax" x="288.8" y="1062.3" text-anchor="middle">0.75</text>
<line x1="345.8" x2="345.8" y1="1046.0" y2="1049.8" stroke="#333" stroke-width="1.6"/>
<text class="ax" x="345.8" y="1062.3" text-anchor="middle">1.00</text>
<rect x="361.9" y="809.0" width="223.5" height="23.8" fill="#d9d9d9" stroke="#555" stroke-width="1"/>
<text class="st" transform="translate(473.7,824.9) scale(1,1.08)" text-anchor="middle">B Cell</text>
<g><clipPath id="cp2_1"><rect x="361.9" y="832.8" width="223.5" height="213.2"/></clipPath></g>
<g clip-path="url(#cp2_1)">
<line x1="393.6" x2="393.6" y1="832.8" y2="1046.0" stroke="#f2f2f2" stroke-width="0.8"/>
<line x1="438.2" x2="438.2" y1="832.8" y2="1046.0" stroke="#f2f2f2" stroke-width="0.8"/>
<line x1="482.8" x2="482.8" y1="832.8" y2="1046.0" stroke="#f2f2f2" stroke-width="0.8"/>
<line x1="527.4" x2="527.4" y1="832.8" y2="1046.0" stroke="#f2f2f2" stroke-width="0.8"/>
<line x1="572.1" x2="572.1" y1="832.8" y2="1046.0" stroke="#f2f2f2" stroke-width="0.8"/>
<line x1="361.9" x2="585.5" y1="1006.1" y2="1006.1" stroke="#f2f2f2" stroke-width="0.8"/>
<line x1="361.9" x2="585.5" y1="931.1" y2="931.1" stroke="#f2f2f2" stroke-width="0.8"/>
<line x1="361.9" x2="585.5" y1="856.1" y2="856.1" stroke="#f2f2f2" stroke-width="0.8"/>
<line x1="371.3" x2="371.3" y1="832.8" y2="1046.0" stroke="#ebebeb" stroke-width="1.2"/>
<line x1="415.9" x2="415.9" y1="832.8" y2="1046.0" stroke="#ebebeb" stroke-width="1.2"/>
<line x1="460.5" x2="460.5" y1="832.8" y2="1046.0" stroke="#ebebeb" stroke-width="1.2"/>
<line x1="505.1" x2="505.1" y1="832.8" y2="1046.0" stroke="#ebebeb" stroke-width="1.2"/>
<line x1="549.8" x2="549.8" y1="832.8" y2="1046.0" stroke="#ebebeb" stroke-width="1.2"/>
<line x1="361.9" x2="585.5" y1="1043.6" y2="1043.6" stroke="#ebebeb" stroke-width="1.2"/>
<line x1="361.9" x2="585.5" y1="968.6" y2="968.6" stroke="#ebebeb" stroke-width="1.2"/>
<line x1="361.9" x2="585.5" y1="893.6" y2="893.6" stroke="#ebebeb" stroke-width="1.2"/>
<path transform="scale(0.5)" d="M743 1849h0m2-76h0m1 99h0m1 9h0m0-27h0m0 56h0m1-53h0m0 15h0m1-40h0m0 123h0m1-112h0m0 58h0m0-15h0m0-36h0m1-5h0m0 9h0m0-100h0m0 79h0m0-24h0m1 46h0m0 111h0m0-109h0m0-53h0m1 48h0m1 65h0m0 9h0m0 26h0m1-113h0m0 49h0m0 22h0m0-64h0m1 82h0m0-52h0m0 76h0m0 44h0m1-124h0m0-28h0m0-15h0m0 163h0m0-39h0m1-108h0m0 67h0m0-99h0m1 137h0m0-35h0m0-13h0m0 15h0m1-69h0m0 39h0m0-13h0m0 2h0m0 179h0m0-238h0m0 0h0m0 19h0m0-2h0m0 52h0m1 32h0m0-40h0m1 65h0m0-55h0m0 34h0m0-55h0m0 11h0m0-59h0m1 21h0m1 28h0m0-64h0m1 179h0m0-152h0m0 140h0m1-2h0m0-2h0m0-68h0m0-23h0m1 12h0m0-5h0m1-17h0m1 66h0m0-80h0m0 14h0m0 17h0m0 36h0m0-88h0m0 8h0m0 87h0m1-53h0m1 87h0m0-49h0m1-17h0m0 12h0m0-53h0m0 77h0m0 55h0m1-158h0m0 115h0m0-84h0m1 27h0m0-10h0m0 56h0m1-5h0m1 41h0m1-76h0m0-9h0m0-45h0m0-84h0m0 224h0m0-171h0m0 72h0m1 23h0m0-56h0m0 65h0m0-119h0m0-13h0m1 34h0m0 100h0m0-26h0m0-44h0m1 12h0m0-3h0m0 52h0m0 99h0m0 17h0m1-78h0m0-45h0m1-16h0m0 18h0m0 127h0m0-279h0m1 129h0m0 72h0m0-107h0m1 56h0m0 95h0m0-113h0m0 116h0m0-155h0m0-2h0m1-10h0m0 5h0m0 28h0m0 12h0m1-53h0m0 27h0m0 74h0m0-75h0m0 2h0m1-43h0m0 125h0m0-20h0m1 95h0m0-162h0m0 52h0m0-54h0m0 93h0m0 101h0m0-182h0m1 20h0m0 72h0m0-64h0m0-25h0m0 14h0m0-37h0m1 42h0m0-36h0m0 80h0m0 29h0m1-68h0m0-23h0m0 37h0m0 25h0m0-10h0m0 31h0m0-37h0m0-10h0m0-34h0m1 25h0m0-12h0m0-7h0m0-46h0m0 47h0m0-44h0m1 107h0m0 110h0m0-33h0m0-66h0m0-105h0m0 157h0m0-84h0m0-12h0m1-128h0m0 77h0m0 8h0m0-8h0m0 23h0m0-39h0m0-55h0m1 80h0m0 55h0m0-28h0m1-9h0m0-75h0m0 51h0m0-44h0m0 135h0m0-158h0m1 120h0m0 56h0m1-172h0m0 129h0m1-7h0m0-53h0m0-12h0m0 69h0m0 29h0m1-103h0m0 154h0m1-192h0m0 151h0m0 2h0m1-82h0m0-29h0m0-60h0m1 100h0m0 8h0m0-51h0m0 36h0m0-46h0m0 37h0m1 80h0m0-130h0m0 19h0m0 16h0m0 83h0m0-51h0m0-50h0m0 73h0m0-14h0m0-70h0m0 42h0m1 19h0m0-12h0m1 18h0m0-65h0m0 77h0m0 24h0m1-58h0m0-50h0m0-18h0m1 34h0m0 20h0m0 10h0m0 63h0m0-106h0m1 43h0m0-14h0m0 11h0m0 17h0m0-70h0m0 28h0m1 5h0m0 6h0m0-18h0m1 60h0m0-43h0m0-27h0m1-7h0m0-12h0m0 41h0m1 24h0m0-45h0m0 115h0m1-188h0m0 28h0m0 91h0m0-28h0m0 47h0m1-41h0m0-29h0m0 65h0m0-10h0m0-1h0m1-75h0m1 32h0m0 94h0m0 35h0m0-84h0m0-62h0m1 43h0m0 1h0m0-54h0m0-39h0m1 292h0m0-255h0m0 145h0m0-144h0m0 21h0m0 39h0m1-11h0m1-4h0m0-22h0m0 52h0m2 16h0m0-27h0m0 27h0m1-103h0m0 34h0m0-5h0m0 146h0m0 11h0m1-144h0m0 24h0m0 80h0m0-34h0m1-38h0m1-28h0m0 243h0m0-295h0m0 46h0m0 35h0m1 19h0m0-52h0m0 119h0m1-64h0m0-35h0m0-33h0m0 45h0m1-141h0m0 84h0m0-46h0m0 75h0m1 35h0m0-13h0m0 27h0m0 24h0m1-48h0m0-28h0m0-66h0m1 84h0m0-89h0m1 2h0m0 94h0m0 115h0m0-182h0m0 77h0m1-56h0m1-41h0m1 32h0m0 121h0m0-132h0m0 136h0m0-51h0m1-55h0m0-7h0m0 90h0m1-124h0m0 69h0m1 44h0m0-86h0m1 51h0m0 50h0m0 75h0m1-190h0m1 2h0m0 81h0m0 53h0m1-174h0m1 87h0m0-18h0m0-18h0m0-6h0m1 74h0m0 97h0m0-186h0m0 134h0m1-110h0m3 15h0m0-24h0m0-5h0m0 91h0m1-19h0m0-16h0m1-48h0m0-7h0m0 15h0m1 29h0m0-29h0m2 10h0m1 7h0m0 69h0m0-54h0m1 15h0m1-30h0m0-23h0m1-5h0m0-102h0m0 90h0m1-12h0m0 0h0m2 47h0m1 53h0m0-84h0m1 83h0m1-131h0m4 10h0m0 36h0m2 48h0m2 148h0m0-176h0m3-36h0m0 106h0m1-32h0m3-40h0m4-2h0m0 38h0m1 6h0m0 30h0m2-110h0m2-26h0m1 12h0m1 99h0m3-78h0m3 27h0m2 18h0m1-11h0m1-58h0m1 28h0m2 17h0m1 32h0m2 17h0m1 69h0m1-76h0m0-69h0m0 31h0m6-6h0m1 14h0m3-15h0m1 88h0m3-104h0m2 31h0m6 12h0m15-38h0m9-4h0m0-29h0m2 22h0m2 23h0m5 15h0m3 3h0m17-67h0m11-23h0m4 32h0m4 15h0m1-49h0m4 37h0m19 21h0m1 56h0m3-101h0m1 55h0m8-12h0m9-2h0m15 7h0m8 18h0m3-32h0m4-6h0m10 18h0m9 48h0m3-49h0m7-16h0m9 59h0m16-70h0m1 24h0" stroke="#2b2b2b" stroke-width="12.2" stroke-linecap="round" fill="none"/>
<polygon points="371.9,926.4 375.3,934.3 378.8,940.4 382.2,944.3 385.6,946.3 389.1,945.8 392.5,943.1 396.0,937.7 399.4,932.6 402.9,927.8 406.3,923.1 409.8,919.2 413.2,917.1 416.6,915.0 420.1,912.8 423.5,910.7 427.0,908.7 430.4,907.0 433.9,905.2 437.3,903.3 440.8,901.5 444.2,899.6 447.6,897.7 451.1,895.8 454.5,893.8 458.0,891.9 461.4,890.0 464.9,888.0 468.3,886.1 471.8,884.1 475.2,882.1 478.6,880.1 482.1,879.1 485.5,878.5 489.0,878.0 492.4,877.5 495.9,877.1 499.3,876.7 502.8,876.4 506.2,876.0 509.6,876.2 513.1,876.4 516.5,876.6 520.0,876.8 523.4,877.0 526.9,877.1 530.3,877.2 533.8,877.3 537.2,877.7 540.6,878.0 544.1,878.1 547.5,878.1 551.0,877.7 554.4,877.0 557.9,875.7 561.3,873.6 564.8,870.9 568.2,870.9 571.6,872.2 575.1,873.6 575.1,927.6 571.6,926.1 568.2,924.7 564.8,922.0 561.3,916.6 557.9,913.1 554.4,910.4 551.0,908.3 547.5,906.6 544.1,905.2 540.6,903.9 537.2,902.8 533.8,901.9 530.3,901.3 526.9,900.7 523.4,900.2 520.0,899.7 516.5,899.2 513.1,898.7 509.6,898.2 506.2,897.9 502.8,898.1 499.3,898.2 495.9,898.3 492.4,898.4 489.0,898.4 485.5,898.3 482.1,898.2 478.6,898.4 475.2,899.4 471.8,900.4 468.3,901.3 464.9,902.3 461.4,903.3 458.0,904.3 454.5,905.4 451.1,906.5 447.6,907.7 444.2,908.9 440.8,910.1 437.3,911.3 433.9,912.6 430.4,913.9 427.0,915.2 423.5,916.8 420.1,918.7 416.6,920.5 413.2,922.4 409.8,924.4 406.3,928.2 402.9,932.9 399.4,937.7 396.0,942.9 392.5,948.5 389.1,951.5 385.6,952.4 382.2,951.1 378.8,948.1 375.3,943.3 371.9,937.4" fill="#999999" fill-opacity="0.4"/>
<polyline points="371.9,931.9 377.3,942.8 384.1,949.7 391.0,948.3 397.8,937.4 408.7,922.4 425.1,912.8 452.3,900.6 479.6,888.8 506.9,886.9 534.2,889.7 561.4,895.1 575.1,900.6" fill="none" stroke="#1662c4" stroke-width="2.5" stroke-linejoin="round" stroke-linecap="round"/>
</g>
<text class="rd" transform="translate(582.1,848.1) scale(1,1.06)" text-anchor="end">partial.cor = 0.281</text>
<text class="rd" transform="translate(582.1,863.0) scale(1,1.06)" text-anchor="end">p = 1.41e-09</text>
<line x1="361.9" x2="361.9" y1="809.0" y2="1046.0" stroke="#333" stroke-width="1.7"/>
<line x1="585.5" x2="585.5" y1="809.0" y2="1046.0" stroke="#333" stroke-width="1.7"/>
<line x1="361.9" x2="585.5" y1="832.8" y2="832.8" stroke="#262626" stroke-width="1.6"/>
<line x1="361.9" x2="585.5" y1="1046.0" y2="1046.0" stroke="#e6e6e6" stroke-width="1.2"/>
<line x1="371.3" x2="371.3" y1="1046.0" y2="1049.8" stroke="#333" stroke-width="1.6"/>
<text class="ax" x="371.3" y="1062.3" text-anchor="middle">0.0</text>
<line x1="415.9" x2="415.9" y1="1046.0" y2="1049.8" stroke="#333" stroke-width="1.6"/>
<text class="ax" x="415.9" y="1062.3" text-anchor="middle">0.1</text>
<line x1="460.5" x2="460.5" y1="1046.0" y2="1049.8" stroke="#333" stroke-width="1.6"/>
<text class="ax" x="460.5" y="1062.3" text-anchor="middle">0.2</text>
<line x1="505.1" x2="505.1" y1="1046.0" y2="1049.8" stroke="#333" stroke-width="1.6"/>
<text class="ax" x="505.1" y="1062.3" text-anchor="middle">0.3</text>
<line x1="549.8" x2="549.8" y1="1046.0" y2="1049.8" stroke="#333" stroke-width="1.6"/>
<text class="ax" x="549.8" y="1062.3" text-anchor="middle">0.4</text>
<rect x="593.9" y="809.0" width="223.5" height="23.8" fill="#d9d9d9" stroke="#555" stroke-width="1"/>
<text class="st" transform="translate(705.6,824.9) scale(1,1.08)" text-anchor="middle">CD8+ T Cell</text>
<g><clipPath id="cp2_2"><rect x="593.9" y="832.8" width="223.5" height="213.2"/></clipPath></g>
<g clip-path="url(#cp2_2)">
<line x1="632.2" x2="632.2" y1="832.8" y2="1046.0" stroke="#f2f2f2" stroke-width="0.8"/>
<line x1="688.3" x2="688.3" y1="832.8" y2="1046.0" stroke="#f2f2f2" stroke-width="0.8"/>
<line x1="744.4" x2="744.4" y1="832.8" y2="1046.0" stroke="#f2f2f2" stroke-width="0.8"/>
<line x1="800.6" x2="800.6" y1="832.8" y2="1046.0" stroke="#f2f2f2" stroke-width="0.8"/>
<line x1="593.9" x2="817.4" y1="1006.1" y2="1006.1" stroke="#f2f2f2" stroke-width="0.8"/>
<line x1="593.9" x2="817.4" y1="931.1" y2="931.1" stroke="#f2f2f2" stroke-width="0.8"/>
<line x1="593.9" x2="817.4" y1="856.1" y2="856.1" stroke="#f2f2f2" stroke-width="0.8"/>
<line x1="604.1" x2="604.1" y1="832.8" y2="1046.0" stroke="#ebebeb" stroke-width="1.2"/>
<line x1="660.2" x2="660.2" y1="832.8" y2="1046.0" stroke="#ebebeb" stroke-width="1.2"/>
<line x1="716.4" x2="716.4" y1="832.8" y2="1046.0" stroke="#ebebeb" stroke-width="1.2"/>
<line x1="772.5" x2="772.5" y1="832.8" y2="1046.0" stroke="#ebebeb" stroke-width="1.2"/>
<line x1="593.9" x2="817.4" y1="1043.6" y2="1043.6" stroke="#ebebeb" stroke-width="1.2"/>
<line x1="593.9" x2="817.4" y1="968.6" y2="968.6" stroke="#ebebeb" stroke-width="1.2"/>
<line x1="593.9" x2="817.4" y1="893.6" y2="893.6" stroke="#ebebeb" stroke-width="1.2"/>
<path transform="scale(0.5)" d="M1210 1866h0m0 67h0m0 20h0m0-71h0m1 24h0m2 60h0m0 50h0m1-84h0m0 27h0m0-23h0m1 9h0m1 20h0m1-68h0m1-9h0m0 64h0m0-4h0m0-30h0m1 11h0m0 30h0m0-51h0m1 119h0m0-221h0m0 145h0m0-59h0m1 12h0m0 42h0m1-20h0m0-48h0m0 82h0m1-29h0m0-86h0m0 84h0m0 10h0m0 15h0m1 52h0m0-161h0m0 97h0m1 13h0m0-96h0m1 64h0m0-38h0m0 5h0m0 36h0m1-61h0m0 48h0m0 63h0m1-76h0m0-15h0m0 104h0m0-1h0m0-73h0m1 97h0m0-93h0m0 46h0m1-61h0m0 27h0m0-3h0m1 29h0m0-52h0m1-12h0m0 53h0m0-76h0m0-6h0m0 53h0m1-64h0m0 41h0m0 59h0m0-82h0m1 65h0m0 1h0m0 135h0m0-152h0m0 32h0m0 64h0m0-60h0m1-5h0m0-85h0m0 62h0m0-137h0m1 172h0m0-34h0m0-30h0m0 50h0m0-72h0m0 48h0m0 36h0m1-23h0m1-108h0m1 161h0m0-88h0m0 83h0m0-41h0m1-28h0m0 2h0m0-111h0m1 226h0m0-124h0m0-3h0m0-3h0m1 76h0m1 9h0m0 19h0m1-81h0m0 19h0m1-156h0m0 111h0m1-26h0m1 17h0m0 90h0m0-86h0m0 70h0m1-78h0m1-14h0m0 37h0m0-9h0m0-65h0m0 185h0m0-160h0m1 9h0m0 104h0m0-52h0m1 27h0m0-83h0m1 17h0m0 101h0m0-33h0m1 37h0m0-120h0m1 32h0m0 19h0m0-75h0m0 53h0m0 63h0m1-50h0m0-61h0m0 75h0m0-49h0m0 61h0m1-66h0m0 41h0m1-30h0m0 56h0m0-89h0m1 60h0m0 28h0m0-42h0m0-3h0m1-36h0m0-39h0m0 57h0m1-2h0m0 2h0m0 17h0m1 15h0m0 30h0m0-80h0m0 119h0m1-165h0m1 117h0m0-40h0m1 19h0m0 7h0m0-27h0m0-16h0m1 64h0m0-55h0m0 12h0m0 24h0m0 34h0m1-2h0m1-59h0m0 168h0m0-38h0m1-158h0m0 69h0m0-25h0m0-71h0m0 61h0m1-49h0m0 19h0m0 68h0m0-96h0m2 23h0m0-15h0m0 36h0m1-13h0m0-45h0m0 4h0m0 93h0m1 37h0m1-99h0m0 45h0m0 77h0m1-117h0m0-16h0m0-15h0m0 46h0m1 39h0m0-19h0m0 3h0m1-62h0m0 8h0m0-40h0m0 87h0m0-1h0m0 20h0m0-53h0m1-47h0m0 92h0m0-147h0m0 45h0m1 24h0m1 51h0m0 3h0m1-103h0m0 102h0m0-29h0m0 30h0m1-73h0m0 27h0m1 49h0m0 80h0m0-86h0m0 22h0m0-94h0m1 106h0m0-29h0m0-106h0m0 167h0m1-198h0m0 103h0m2 73h0m0-26h0m0-109h0m1 64h0m0-50h0m1 99h0m0-2h0m0-78h0m0 79h0m0-134h0m1 41h0m0 6h0m0 98h0m0-73h0m0 11h0m0-31h0m1 57h0m0-70h0m0 161h0m0-141h0m1-3h0m0-41h0m0-2h0m1 172h0m0-96h0m0-6h0m0-16h0m0 59h0m1-154h0m0 96h0m0-14h0m0 53h0m1-31h0m0 31h0m2-30h0m0 53h0m0-75h0m1 57h0m0-95h0m0 48h0m0 89h0m1-87h0m0 10h0m0 28h0m0-12h0m0-25h0m0 57h0m2-34h0m0-7h0m0 106h0m0-70h0m1-98h0m0 19h0m0 66h0m0-11h0m1 3h0m1 203h0m0-247h0m0-12h0m0 60h0m1 28h0m0-52h0m1 36h0m0-47h0m0-41h0m0 67h0m0-30h0m0 71h0m0-57h0m1-43h0m0 58h0m0-23h0m0-35h0m2-46h0m0-25h0m1 53h0m0 25h0m0 163h0m0-124h0m1-65h0m0 23h0m1 29h0m0-19h0m0-21h0m0 111h0m1-104h0m0 45h0m1-97h0m0 120h0m0-60h0m0-16h0m1-45h0m0 122h0m2-33h0m0-13h0m0-5h0m1 5h0m1 5h0m0-42h0m0 12h0m0 6h0m2 16h0m0 76h0m1-67h0m0-2h0m2 11h0m0-54h0m1 51h0m1-12h0m1-66h0m0 17h0m1 47h0m0-43h0m0 23h0m0-26h0m0 43h0m1-54h0m1 75h0m0-39h0m1 6h0m0-7h0m0-14h0m1-10h0m1 48h0m0-24h0m0-61h0m1 63h0m0 104h0m1-197h0m0 32h0m1 29h0m0 25h0m0-19h0m0 149h0m0-207h0m1 100h0m1-21h0m0-24h0m1 7h0m1 36h0m1-12h0m1-8h0m0 87h0m0-109h0m1 34h0m2-37h0m0 45h0m0 5h0m1 30h0m0-31h0m1-26h0m1-44h0m0 63h0m0 17h0m1-57h0m0 53h0m1 26h0m1-132h0m0 86h0m1-53h0m1 45h0m0 5h0m1-58h0m1 70h0m0-16h0m1-42h0m1 5h0m1 11h0m0 69h0m0-34h0m0 8h0m1-19h0m0 62h0m3-17h0m0-67h0m3 18h0m1-2h0m0 68h0m1-119h0m0 25h0m2-9h0m0-7h0m1 82h0m0-67h0m0-5h0m3 25h0m1-33h0m0 30h0m0 1h0m0-33h0m1 37h0m0-31h0m5 28h0m0 17h0m0-38h0m3 22h0m0-39h0m2 48h0m1 18h0m1-6h0m3-4h0m1-14h0m0 19h0m2-87h0m1 96h0m1-21h0m3-23h0m7-26h0m0 37h0m3 7h0m8-7h0m1 0h0m2-26h0m1 16h0m1 37h0m3-5h0m2-64h0m4 1h0m1 11h0m0 82h0m3-40h0m10 9h0m0-44h0m2-39h0m1 64h0m2 64h0m3-25h0m3-121h0m7 43h0m7 21h0m5-37h0m15 15h0m7 7h0m50 29h0m2-32h0m3-29h0m6 57h0m0 50h0m14-98h0m6-9h0" stroke="#2b2b2b" stroke-width="12.2" stroke-linecap="round" fill="none"/>
<polygon points="604.1,959.3 607.5,960.5 611.0,961.6 614.4,961.1 617.9,959.4 621.3,956.9 624.8,952.3 628.2,947.8 631.7,943.0 635.1,938.3 638.5,933.6 642.0,928.5 645.4,923.4 648.9,918.2 652.3,913.7 655.8,909.8 659.2,906.0 662.6,902.9 666.1,901.2 669.5,899.4 673.0,897.7 676.4,895.9 679.9,894.2 683.3,892.6 686.8,891.0 690.2,889.4 693.6,887.7 697.1,886.2 700.5,884.6 704.0,883.1 707.4,881.5 710.9,879.9 714.3,878.4 717.8,876.9 721.2,875.5 724.6,874.0 728.1,872.5 731.5,871.0 735.0,869.3 738.4,867.7 741.9,866.6 745.3,865.4 748.8,864.2 752.2,863.0 755.6,862.1 759.1,861.6 762.5,861.3 766.0,861.1 769.4,860.8 772.9,860.3 776.3,859.6 779.8,858.5 783.2,856.7 786.6,853.9 790.1,851.3 793.5,851.1 797.0,851.9 800.4,852.8 803.9,853.7 807.3,854.6 807.3,904.6 803.9,903.4 800.4,902.3 797.0,901.2 793.5,900.0 790.1,898.8 786.6,895.7 783.2,892.5 779.8,890.2 776.3,888.7 772.9,887.9 769.4,887.4 766.0,887.1 762.5,886.9 759.1,886.6 755.6,886.1 752.2,885.7 748.8,885.3 745.3,884.9 741.9,884.5 738.4,884.1 735.0,884.4 731.5,885.0 728.1,885.6 724.6,886.2 721.2,886.9 717.8,887.7 714.3,888.5 710.9,889.5 707.4,890.5 704.0,891.5 700.5,892.6 697.1,893.6 693.6,894.7 690.2,895.9 686.8,897.1 683.3,898.4 679.9,899.7 676.4,901.1 673.0,902.7 669.5,904.4 666.1,906.2 662.6,907.9 659.2,911.0 655.8,914.8 652.3,918.7 648.9,923.2 645.4,928.4 642.0,933.5 638.5,938.6 635.1,943.3 631.7,948.0 628.2,952.8 624.8,957.3 621.3,961.9 617.9,964.4 614.4,966.1 611.0,967.3 607.5,967.3 604.1,967.3" fill="#999999" fill-opacity="0.4"/>
<polyline points="604.1,963.3 612.3,964.7 620.5,960.6 628.6,949.7 639.6,934.7 650.5,918.3 661.4,906.0 677.7,897.8 694.1,891.0 715.9,882.8 737.8,876.0 754.1,874.1 775.9,874.1 792.3,875.2 807.3,879.6" fill="none" stroke="#1662c4" stroke-width="2.5" stroke-linejoin="round" stroke-linecap="round"/>
</g>
<text class="rd" transform="translate(814.0,848.1) scale(1,1.06)" text-anchor="end">partial.cor = 0.643</text>
<text class="rd" transform="translate(814.0,863.0) scale(1,1.06)" text-anchor="end">p = 1.49e-52</text>
<line x1="593.9" x2="593.9" y1="809.0" y2="1046.0" stroke="#333" stroke-width="1.7"/>
<line x1="817.4" x2="817.4" y1="809.0" y2="1046.0" stroke="#333" stroke-width="1.7"/>
<line x1="593.9" x2="817.4" y1="832.8" y2="832.8" stroke="#262626" stroke-width="1.6"/>
<line x1="593.9" x2="817.4" y1="1046.0" y2="1046.0" stroke="#e6e6e6" stroke-width="1.2"/>
<line x1="604.1" x2="604.1" y1="1046.0" y2="1049.8" stroke="#333" stroke-width="1.6"/>
<text class="ax" x="604.1" y="1062.3" text-anchor="middle">0.0</text>
<line x1="660.2" x2="660.2" y1="1046.0" y2="1049.8" stroke="#333" stroke-width="1.6"/>
<text class="ax" x="660.2" y="1062.3" text-anchor="middle">0.2</text>
<line x1="716.4" x2="716.4" y1="1046.0" y2="1049.8" stroke="#333" stroke-width="1.6"/>
<text class="ax" x="716.4" y="1062.3" text-anchor="middle">0.4</text>
<line x1="772.5" x2="772.5" y1="1046.0" y2="1049.8" stroke="#333" stroke-width="1.6"/>
<text class="ax" x="772.5" y="1062.3" text-anchor="middle">0.6</text>
<rect x="825.8" y="809.0" width="223.5" height="23.8" fill="#d9d9d9" stroke="#555" stroke-width="1"/>
<text class="st" transform="translate(937.6,824.9) scale(1,1.08)" text-anchor="middle">CD4+ T Cell</text>
<g><clipPath id="cp2_3"><rect x="825.8" y="832.8" width="223.5" height="213.2"/></clipPath></g>
<g clip-path="url(#cp2_3)">
<line x1="855.8" x2="855.8" y1="832.8" y2="1046.0" stroke="#f2f2f2" stroke-width="0.8"/>
<line x1="896.7" x2="896.7" y1="832.8" y2="1046.0" stroke="#f2f2f2" stroke-width="0.8"/>
<line x1="937.7" x2="937.7" y1="832.8" y2="1046.0" stroke="#f2f2f2" stroke-width="0.8"/>
<line x1="978.6" x2="978.6" y1="832.8" y2="1046.0" stroke="#f2f2f2" stroke-width="0.8"/>
<line x1="1019.5" x2="1019.5" y1="832.8" y2="1046.0" stroke="#f2f2f2" stroke-width="0.8"/>
<line x1="825.8" x2="1049.3" y1="1006.1" y2="1006.1" stroke="#f2f2f2" stroke-width="0.8"/>
<line x1="825.8" x2="1049.3" y1="931.1" y2="931.1" stroke="#f2f2f2" stroke-width="0.8"/>
<line x1="825.8" x2="1049.3" y1="856.1" y2="856.1" stroke="#f2f2f2" stroke-width="0.8"/>
<line x1="835.4" x2="835.4" y1="832.8" y2="1046.0" stroke="#ebebeb" stroke-width="1.2"/>
<line x1="876.3" x2="876.3" y1="832.8" y2="1046.0" stroke="#ebebeb" stroke-width="1.2"/>
<line x1="917.2" x2="917.2" y1="832.8" y2="1046.0" stroke="#ebebeb" stroke-width="1.2"/>
<line x1="958.1" x2="958.1" y1="832.8" y2="1046.0" stroke="#ebebeb" stroke-width="1.2"/>
<line x1="999.0" x2="999.0" y1="832.8" y2="1046.0" stroke="#ebebeb" stroke-width="1.2"/>
<line x1="1039.9" x2="1039.9" y1="832.8" y2="1046.0" stroke="#ebebeb" stroke-width="1.2"/>
<line x1="825.8" x2="1049.3" y1="1043.6" y2="1043.6" stroke="#ebebeb" stroke-width="1.2"/>
<line x1="825.8" x2="1049.3" y1="968.6" y2="968.6" stroke="#ebebeb" stroke-width="1.2"/>
<line x1="825.8" x2="1049.3" y1="893.6" y2="893.6" stroke="#ebebeb" stroke-width="1.2"/>
<path transform="scale(0.5)" d="M1674 1890h0m0 20h0m10 20h0m3-2h0m1-53h0m1 53h0m0-109h0m1 102h0m1-21h0m2 28h0m2 89h0m3-95h0m0-61h0m1 12h0m0 99h0m3 100h0m0-177h0m1 36h0m1-63h0m0-16h0m0-46h0m1 94h0m0 29h0m0-8h0m1 60h0m1-112h0m1 10h0m0 40h0m0-37h0m0 3h0m1-5h0m0 26h0m0 67h0m0-87h0m2 15h0m1 78h0m0-92h0m0-54h0m0 19h0m1-35h0m0 150h0m0-15h0m1 11h0m1-42h0m0 50h0m0-34h0m1-37h0m0 96h0m0-90h0m1 19h0m0-53h0m1 37h0m0-17h0m1-16h0m0-3h0m0 104h0m0-146h0m0 61h0m0-28h0m0 21h0m1 40h0m0-45h0m0 40h0m1 13h0m0-15h0m0-56h0m0 25h0m1 7h0m0-6h0m1-25h0m0 70h0m0 127h0m1-255h0m0 56h0m0 84h0m0-125h0m0 163h0m1-59h0m0 11h0m0-40h0m1 9h0m0-3h0m0 34h0m0-120h0m0 73h0m1 40h0m0-19h0m0 30h0m0 0h0m0 14h0m0 49h0m0-141h0m0 5h0m1-20h0m1 27h0m0-20h0m0 67h0m0-109h0m1 110h0m0 66h0m0-51h0m1 10h0m0-1h0m0 10h0m0-39h0m1-43h0m0-22h0m1 82h0m0-24h0m0-84h0m0 48h0m1 125h0m1-194h0m0 157h0m0-80h0m0-60h0m0 66h0m0-11h0m0-10h0m0 52h0m1-68h0m0 40h0m0-20h0m1 67h0m0-27h0m0-62h0m0 186h0m1-183h0m0 94h0m0-41h0m0 30h0m0 24h0m0-27h0m1-36h0m0-68h0m0 143h0m0-131h0m1-22h0m0-23h0m0 68h0m0 61h0m0-61h0m0-57h0m0 138h0m1-18h0m0-148h0m0 129h0m1 39h0m0-11h0m0-17h0m0 32h0m0-130h0m0 40h0m1 5h0m0 21h0m1-23h0m0 36h0m0 38h0m1 57h0m0 31h0m0-88h0m0-131h0m0 170h0m1-118h0m0 7h0m1 18h0m0 72h0m0-100h0m0 133h0m1-172h0m0 74h0m1 19h0m0-51h0m0-36h0m1-29h0m0 187h0m0-44h0m1-87h0m0 27h0m0 4h0m1 78h0m0-44h0m0 131h0m0 20h0m0-178h0m0-80h0m1 96h0m0-28h0m0-83h0m0 39h0m1-19h0m0 151h0m0-88h0m0 28h0m1 20h0m0-79h0m0-46h0m1 123h0m0-128h0m0 97h0m0 160h0m0-263h0m0 136h0m0-67h0m0-109h0m0 143h0m1-68h0m0 122h0m0-67h0m0-18h0m1-13h0m0 97h0m0-83h0m0 86h0m1-144h0m0 85h0m1 92h0m0-94h0m0-19h0m0-26h0m0-21h0m0 65h0m0-42h0m0 67h0m0 107h0m1-166h0m0 54h0m0-101h0m1 21h0m0 35h0m0-9h0m0-49h0m0 46h0m0-55h0m1 50h0m0 45h0m1 18h0m1-22h0m0 81h0m0-72h0m0 0h0m0-51h0m0-20h0m1 59h0m0 12h0m0-32h0m0 3h0m0 37h0m0-35h0m1-12h0m0-51h0m0 75h0m0 11h0m1-2h0m0-43h0m0 12h0m0-51h0m0 50h0m0 44h0m0-105h0m1 114h0m0-3h0m0 58h0m0-113h0m1-37h0m0 107h0m0-142h0m1-2h0m0 4h0m0 269h0m1-213h0m0-36h0m0 27h0m0 49h0m2-91h0m0 81h0m0 46h0m0-7h0m1-50h0m0 69h0m0-39h0m0 51h0m0-21h0m0-90h0m1 16h0m1 42h0m0 8h0m0-63h0m0-59h0m1 44h0m0 47h0m0 169h0m0-173h0m0 39h0m1-9h0m1 185h0m1-229h0m0-15h0m0-74h0m0 105h0m0 7h0m1-54h0m1 33h0m0 0h0m0-31h0m0 85h0m1-37h0m0 7h0m0-54h0m0-74h0m0 95h0m0 134h0m0-69h0m1-35h0m0-23h0m0 9h0m1 20h0m0-18h0m0-121h0m0 205h0m1-4h0m1-104h0m0 22h0m0 42h0m0-60h0m0-23h0m1 7h0m0 31h0m0-45h0m1-5h0m0-15h0m0 130h0m0-100h0m1 23h0m0-65h0m0 182h0m0-210h0m0 24h0m1 51h0m1-36h0m0 32h0m0 67h0m1-44h0m0 6h0m2 31h0m0-25h0m0-14h0m1-34h0m0-70h0m0 48h0m0 75h0m0 30h0m0-84h0m1 56h0m2 66h0m0-101h0m0 20h0m0 26h0m0-21h0m1-42h0m1 24h0m1 99h0m0-25h0m0 60h0m0-196h0m0 69h0m0-10h0m2-28h0m0 16h0m0 60h0m0 53h0m2-54h0m0-22h0m0 1h0m0 162h0m1-180h0m0 58h0m2-36h0m1-122h0m0 84h0m1-25h0m0 107h0m1-37h0m0-6h0m1-58h0m0-42h0m1 84h0m1 17h0m0-9h0m1-56h0m1 4h0m1 16h0m0 51h0m0-52h0m3 1h0m3 40h0m0-14h0m1 94h0m1-241h0m1 220h0m0 19h0m1-128h0m0 95h0m0-71h0m1-61h0m0 2h0m1 74h0m1-28h0m1-62h0m2 78h0m2 15h0m4-97h0m6 20h0m2 129h0m1-133h0m1 62h0m2-13h0m1-49h0m0-40h0m2 151h0m1-133h0m0 37h0m3 40h0m0-48h0m3 16h0m0 19h0m0-12h0m1-60h0m5 65h0m1 4h0m3-5h0m5 2h0m3-9h0m2-2h0m6-36h0m1 69h0m1 54h0m2-96h0m1-79h0m2 33h0m1 73h0m3-72h0m4 35h0m13-22h0m3 9h0m2 13h0m7 41h0m1-33h0m13 4h0m7-89h0m2 56h0m1 13h0m1 40h0m11-11h0m0-18h0m0-26h0m1 33h0m2-13h0m0-16h0m11 4h0m9-23h0m3 66h0m8-55h0m7 64h0m9-45h0m1 38h0m6 9h0m2-60h0m15 10h0m4 3h0m7-45h0" stroke="#2b2b2b" stroke-width="12.2" stroke-linecap="round" fill="none"/>
<polygon points="836.0,936.3 839.4,940.0 842.8,943.0 846.3,945.0 849.7,946.4 853.2,947.0 856.6,946.2 860.1,945.3 863.5,944.1 867.0,942.8 870.4,940.9 873.8,939.0 877.3,937.0 880.7,934.7 884.2,932.0 887.6,929.2 891.1,926.4 894.5,923.0 898.0,918.7 901.4,914.4 904.8,910.0 908.3,905.9 911.7,902.1 915.2,898.3 918.6,894.5 922.1,891.3 925.5,889.0 929.0,886.7 932.4,884.4 935.8,882.1 939.3,879.8 942.7,878.3 946.2,876.9 949.6,875.6 953.1,874.3 956.5,873.0 960.0,871.8 963.4,871.0 966.8,870.7 970.3,870.4 973.7,870.1 977.2,869.8 980.6,869.6 984.1,869.8 987.5,869.9 991.0,870.0 994.4,870.0 997.8,869.9 1001.3,869.6 1004.7,869.5 1008.2,869.3 1011.6,868.8 1015.1,867.7 1018.5,865.9 1022.0,863.1 1025.4,862.8 1028.8,864.3 1032.3,865.8 1035.7,867.3 1039.2,868.7 1039.2,918.7 1035.7,917.9 1032.3,917.1 1028.8,916.2 1025.4,915.4 1022.0,912.7 1018.5,908.2 1015.1,904.8 1011.6,902.2 1008.2,900.1 1004.7,898.3 1001.3,897.0 997.8,896.1 994.4,895.4 991.0,894.7 987.5,894.2 984.1,893.8 980.6,893.4 977.2,893.6 973.7,893.8 970.3,894.0 966.8,894.2 963.4,894.3 960.0,894.7 956.5,895.4 953.1,896.0 949.6,896.6 946.2,897.1 942.7,897.6 939.3,898.3 935.8,899.7 932.4,901.1 929.0,902.5 925.5,904.0 922.1,905.4 918.6,907.7 915.2,910.8 911.7,913.8 908.3,917.0 904.8,920.6 901.4,924.5 898.0,928.4 894.5,932.4 891.1,935.5 887.6,938.2 884.2,940.9 880.7,943.7 877.3,946.0 873.8,948.2 870.4,950.4 867.0,952.7 863.5,954.6 860.1,956.5 856.6,958.6 853.2,960.8 849.7,962.2 846.3,963.6 842.8,965.6 839.4,968.6 836.0,972.3" fill="#999999" fill-opacity="0.4"/>
<polyline points="836.0,954.3 852.3,954.3 866.0,948.3 879.6,940.1 893.2,929.2 906.9,912.8 920.5,899.2 939.6,888.8 961.4,882.8 980.5,881.5 1002.4,883.4 1021.4,887.7 1039.2,893.7" fill="none" stroke="#1662c4" stroke-width="2.5" stroke-linejoin="round" stroke-linecap="round"/>
</g>
<text class="rd" transform="translate(1045.9,848.1) scale(1,1.06)" text-anchor="end">partial.cor = 0.319</text>
<text class="rd" transform="translate(1045.9,863.0) scale(1,1.06)" text-anchor="end">p = 5.46e-12</text>
<line x1="825.8" x2="825.8" y1="809.0" y2="1046.0" stroke="#333" stroke-width="1.7"/>
<line x1="1049.3" x2="1049.3" y1="809.0" y2="1046.0" stroke="#333" stroke-width="1.7"/>
<line x1="825.8" x2="1049.3" y1="832.8" y2="832.8" stroke="#262626" stroke-width="1.6"/>
<line x1="825.8" x2="1049.3" y1="1046.0" y2="1046.0" stroke="#e6e6e6" stroke-width="1.2"/>
<line x1="835.4" x2="835.4" y1="1046.0" y2="1049.8" stroke="#333" stroke-width="1.6"/>
<text class="ax" x="835.4" y="1062.3" text-anchor="middle">0.0</text>
<line x1="876.3" x2="876.3" y1="1046.0" y2="1049.8" stroke="#333" stroke-width="1.6"/>
<text class="ax" x="876.3" y="1062.3" text-anchor="middle">0.1</text>
<line x1="917.2" x2="917.2" y1="1046.0" y2="1049.8" stroke="#333" stroke-width="1.6"/>
<text class="ax" x="917.2" y="1062.3" text-anchor="middle">0.2</text>
<line x1="958.1" x2="958.1" y1="1046.0" y2="1049.8" stroke="#333" stroke-width="1.6"/>
<text class="ax" x="958.1" y="1062.3" text-anchor="middle">0.3</text>
<line x1="999.0" x2="999.0" y1="1046.0" y2="1049.8" stroke="#333" stroke-width="1.6"/>
<text class="ax" x="999.0" y="1062.3" text-anchor="middle">0.4</text>
<line x1="1039.9" x2="1039.9" y1="1046.0" y2="1049.8" stroke="#333" stroke-width="1.6"/>
<text class="ax" x="1039.9" y="1062.3" text-anchor="middle">0.5</text>
<rect x="1057.8" y="809.0" width="223.5" height="23.8" fill="#d9d9d9" stroke="#555" stroke-width="1"/>
<text class="st" transform="translate(1169.5,824.9) scale(1,1.08)" text-anchor="middle">Macrophage</text>
<g><clipPath id="cp2_4"><rect x="1057.8" y="832.8" width="223.5" height="213.2"/></clipPath></g>
<g clip-path="url(#cp2_4)">
<line x1="1092.7" x2="1092.7" y1="832.8" y2="1046.0" stroke="#f2f2f2" stroke-width="0.8"/>
<line x1="1142.9" x2="1142.9" y1="832.8" y2="1046.0" stroke="#f2f2f2" stroke-width="0.8"/>
<line x1="1193.1" x2="1193.1" y1="832.8" y2="1046.0" stroke="#f2f2f2" stroke-width="0.8"/>
<line x1="1243.3" x2="1243.3" y1="832.8" y2="1046.0" stroke="#f2f2f2" stroke-width="0.8"/>
<line x1="1057.8" x2="1281.3" y1="1006.1" y2="1006.1" stroke="#f2f2f2" stroke-width="0.8"/>
<line x1="1057.8" x2="1281.3" y1="931.1" y2="931.1" stroke="#f2f2f2" stroke-width="0.8"/>
<line x1="1057.8" x2="1281.3" y1="856.1" y2="856.1" stroke="#f2f2f2" stroke-width="0.8"/>
<line x1="1067.6" x2="1067.6" y1="832.8" y2="1046.0" stroke="#ebebeb" stroke-width="1.2"/>
<line x1="1117.8" x2="1117.8" y1="832.8" y2="1046.0" stroke="#ebebeb" stroke-width="1.2"/>
<line x1="1168.0" x2="1168.0" y1="832.8" y2="1046.0" stroke="#ebebeb" stroke-width="1.2"/>
<line x1="1218.2" x2="1218.2" y1="832.8" y2="1046.0" stroke="#ebebeb" stroke-width="1.2"/>
<line x1="1268.4" x2="1268.4" y1="832.8" y2="1046.0" stroke="#ebebeb" stroke-width="1.2"/>
<line x1="1057.8" x2="1281.3" y1="1043.6" y2="1043.6" stroke="#ebebeb" stroke-width="1.2"/>
<line x1="1057.8" x2="1281.3" y1="968.6" y2="968.6" stroke="#ebebeb" stroke-width="1.2"/>
<line x1="1057.8" x2="1281.3" y1="893.6" y2="893.6" stroke="#ebebeb" stroke-width="1.2"/>
<path transform="scale(0.5)" d="M2135 2071h0m0-269h0m0-65h0m0 134h0m0-50h0m0 190h0m0-107h0m0-92h0m0 81h0m0 4h0m0 25h0m0-192h0m0 148h0m0 105h0m0-249h0m0 226h0m0 15h0m0-98h0m0 62h0m0 86h0m0-181h0m0-48h0m0-50h0m0 217h0m0 56h0m0-46h0m0-38h0m0-128h0m0 105h0m0-145h0m0 133h0m0 68h0m0-128h0m0 13h0m0-105h0m0 110h0m0-23h0m0 194h0m0-112h0m0 116h0m0-245h0m0 35h0m0 84h0m0-93h0m0 152h0m0-194h0m0 110h0m0-82h0m0-37h0m0 231h0m0-176h0m0-98h0m0 284h0m0-252h0m0 158h0m0-118h0m0 153h0m0-188h0m0 99h0m0-25h0m0 123h0m0-6h0m0 67h0m0-154h0m0 79h0m0-165h0m0 150h0m0-207h0m0 148h0m0-79h0m0 213h0m0-69h0m0-45h0m0-159h0m0 294h0m0-183h0m0 158h0m0-108h0m0-107h0m0 1h0m0 67h0m0 131h0m0-54h0m0-56h0m0-102h0m0 240h0m0-266h0m0 85h0m0 126h0m0-239h0m0 316h0m0-307h0m0 263h0m0-232h0m3 55h0m1 26h0m0 62h0m0-59h0m2 49h0m0-67h0m1-61h0m0 192h0m0 61h0m1-82h0m0-2h0m1-2h0m1-87h0m0 3h0m0-29h0m1 96h0m0-47h0m0 10h0m0-21h0m0 77h0m1 35h0m0-125h0m0 42h0m1 10h0m0 48h0m0-48h0m0-45h0m1 20h0m0-27h0m0 43h0m1 117h0m0-176h0m1 50h0m0-41h0m0-2h0m1 51h0m0-93h0m0-32h0m0 94h0m0 77h0m1-52h0m0-45h0m0 108h0m0-105h0m0-39h0m0 53h0m1 60h0m0-7h0m0-99h0m0 17h0m1 13h0m0-35h0m1 146h0m0-42h0m0-67h0m1-34h0m0 9h0m0-6h0m0 49h0m1-23h0m0-34h0m0 206h0m1-124h0m0-60h0m0 49h0m1-97h0m0 117h0m1 35h0m0-131h0m0 8h0m1 151h0m0-120h0m0 9h0m1 17h0m0-72h0m1 33h0m0 116h0m0-36h0m2-34h0m0-25h0m0-10h0m1 6h0m1-39h0m1 53h0m0 50h0m0-37h0m1-11h0m0-3h0m0-96h0m1 204h0m0-108h0m1 65h0m0-63h0m0-112h0m1 89h0m0-30h0m1-17h0m0 17h0m1-11h0m0 164h0m1-129h0m0 5h0m0 81h0m0-104h0m1 98h0m0-80h0m1 28h0m0 16h0m0-67h0m0-15h0m0 51h0m0-4h0m1-35h0m0 104h0m0 53h0m0-111h0m1-22h0m0 58h0m2-84h0m1 8h0m0 68h0m0-28h0m0-48h0m1-55h0m0 66h0m0 54h0m0 3h0m1-111h0m1 78h0m0-6h0m0 121h0m0-133h0m1 17h0m0 75h0m0-42h0m1-4h0m0 96h0m0-144h0m0 40h0m0 66h0m0-25h0m1 108h0m0-148h0m1 11h0m0-20h0m0 28h0m0-112h0m1 138h0m0 30h0m0-75h0m1 90h0m0-126h0m0 77h0m0 23h0m0-93h0m0 5h0m1 57h0m0 54h0m0-196h0m0 37h0m0 58h0m1-26h0m1 53h0m1-111h0m0 61h0m1-17h0m0 1h0m1-39h0m0-9h0m0 153h0m0-72h0m1 36h0m0-19h0m1 118h0m0-156h0m0 3h0m0-54h0m0 161h0m1-97h0m1-118h0m0 96h0m1 129h0m0-76h0m0 28h0m0-2h0m1-33h0m0-112h0m0 106h0m0-25h0m1-20h0m0-8h0m0 102h0m1-100h0m0 94h0m1-7h0m1 3h0m1-29h0m0-14h0m3 96h0m1-139h0m0-28h0m0 125h0m1-57h0m1 50h0m0 5h0m0-45h0m1-31h0m0-92h0m1 70h0m0 155h0m0-137h0m1-38h0m0 19h0m1 126h0m0-154h0m0 97h0m1-68h0m2 122h0m0-136h0m0-82h0m1 36h0m1 78h0m1 13h0m1 48h0m1-120h0m0 77h0m0-72h0m0-37h0m1 81h0m0 62h0m1 39h0m0-88h0m2 35h0m1 43h0m0 4h0m1-99h0m0 82h0m1 141h0m1-197h0m0-19h0m1 6h0m0-69h0m1 114h0m0-73h0m0 116h0m0-85h0m0 19h0m0-60h0m1 84h0m1-99h0m0 62h0m0-18h0m0-58h0m1 68h0m1-59h0m1 113h0m0-67h0m1 71h0m0 8h0m1-144h0m0 56h0m1 107h0m0-61h0m0-32h0m0 50h0m2-24h0m2 33h0m0-91h0m1-7h0m1 21h0m0 70h0m0-90h0m1 25h0m0-28h0m2 70h0m1-55h0m0 41h0m0-3h0m1 51h0m1 165h0m1-282h0m2 45h0m1-4h0m0 67h0m0 28h0m0-63h0m2 53h0m0-34h0m1 16h0m0-29h0m1-107h0m2 152h0m3-53h0m0-13h0m2 11h0m0-13h0m2 43h0m0-53h0m1-32h0m0 82h0m0-17h0m1 13h0m2-38h0m7 60h0m0-86h0m0 74h0m1 110h0m1-127h0m1 106h0m0-112h0m0-55h0m3 15h0m0 1h0m1 10h0m1 85h0m1-58h0m1 8h0m0-38h0m1-1h0m0 9h0m1-17h0m5-26h0m1 107h0m0 58h0m0-131h0m5 2h0m1-23h0m0 130h0m0-164h0m1 45h0m3 25h0m5-12h0m8 22h0m1 7h0m3-35h0m3 1h0m1 12h0m2-26h0m3 275h0m4-229h0m1-19h0m7-48h0m6 105h0m2-82h0m1 34h0m3 101h0m6-135h0m5 50h0m1-2h0m3-3h0m3-18h0m1 26h0m4-45h0m1-53h0m10 61h0m2 27h0m3-55h0m17-18h0m16 53h0m0 21h0m7-9h0m3-41h0m4 30h0m1 33h0m2-14h0m2 22h0m1-34h0m6 8h0m3-20h0m15 17h0m6-37h0m0-2h0m7 9h0m2 23h0m5 148h0m8-171h0m7 73h0" stroke="#2b2b2b" stroke-width="12.2" stroke-linecap="round" fill="none"/>
<polygon points="1067.7,941.9 1071.2,935.0 1074.6,928.0 1078.1,925.3 1081.5,922.4 1085.0,919.5 1088.4,917.3 1091.8,915.2 1095.3,913.0 1098.7,910.8 1102.2,908.5 1105.6,906.3 1109.1,904.6 1112.5,903.5 1116.0,902.3 1119.4,901.1 1122.8,900.3 1126.3,899.8 1129.7,899.3 1133.2,898.8 1136.6,898.3 1140.1,897.7 1143.5,897.1 1147.0,896.6 1150.4,896.2 1153.8,895.8 1157.3,895.4 1160.7,895.0 1164.2,894.5 1167.6,894.1 1171.1,893.6 1174.5,893.2 1178.0,893.0 1181.4,892.7 1184.8,892.5 1188.3,892.3 1191.7,892.0 1195.2,891.7 1198.6,891.5 1202.1,891.2 1205.5,891.0 1209.0,890.8 1212.4,890.7 1215.8,890.7 1219.3,890.7 1222.7,890.6 1226.2,890.5 1229.6,890.1 1233.1,889.5 1236.5,888.7 1240.0,887.5 1243.4,885.8 1246.8,883.5 1250.3,880.2 1253.7,875.5 1257.2,870.5 1260.6,870.3 1264.1,870.1 1267.5,869.9 1271.0,869.7 1271.0,939.7 1267.5,939.4 1264.1,939.2 1260.6,939.0 1257.2,938.8 1253.7,933.8 1250.3,929.1 1246.8,925.8 1243.4,923.5 1240.0,921.8 1236.5,920.6 1233.1,919.8 1229.6,919.2 1226.2,918.8 1222.7,918.4 1219.3,918.2 1215.8,917.9 1212.4,917.7 1209.0,917.4 1205.5,917.0 1202.1,916.6 1198.6,916.1 1195.2,915.5 1191.7,914.9 1188.3,914.3 1184.8,913.7 1181.4,913.1 1178.0,912.5 1174.5,911.9 1171.1,911.3 1167.6,910.9 1164.2,910.4 1160.7,910.0 1157.3,909.5 1153.8,909.1 1150.4,908.7 1147.0,908.4 1143.5,908.2 1140.1,908.2 1136.6,908.3 1133.2,908.3 1129.7,908.4 1126.3,908.5 1122.8,908.7 1119.4,909.1 1116.0,910.0 1112.5,910.9 1109.1,911.8 1105.6,913.3 1102.2,915.3 1098.7,917.4 1095.3,919.5 1091.8,921.6 1088.4,923.8 1085.0,926.1 1081.5,929.2 1078.1,932.4 1074.6,935.8 1071.2,943.7 1067.7,951.9" fill="#999999" fill-opacity="0.4"/>
<polyline points="1067.7,946.9 1074.6,931.9 1085.5,922.4 1096.4,915.6 1107.3,908.7 1120.9,904.7 1145.5,902.5 1172.8,902.5 1200.0,903.8 1227.3,904.7 1254.6,904.7 1271.0,904.7" fill="none" stroke="#1662c4" stroke-width="2.5" stroke-linejoin="round" stroke-linecap="round"/>
</g>
<text class="rd" transform="translate(1277.9,848.1) scale(1,1.06)" text-anchor="end">partial.cor = 0.259</text>
<text class="rd" transform="translate(1277.9,863.0) scale(1,1.06)" text-anchor="end">p = 2.34e-08</text>
<line x1="1057.8" x2="1057.8" y1="809.0" y2="1046.0" stroke="#333" stroke-width="1.7"/>
<line x1="1281.3" x2="1281.3" y1="809.0" y2="1046.0" stroke="#333" stroke-width="1.7"/>
<line x1="1057.8" x2="1281.3" y1="832.8" y2="832.8" stroke="#262626" stroke-width="1.6"/>
<line x1="1057.8" x2="1281.3" y1="1046.0" y2="1046.0" stroke="#e6e6e6" stroke-width="1.2"/>
<line x1="1067.6" x2="1067.6" y1="1046.0" y2="1049.8" stroke="#333" stroke-width="1.6"/>
<text class="ax" x="1067.6" y="1062.3" text-anchor="middle">0.0</text>
<line x1="1117.8" x2="1117.8" y1="1046.0" y2="1049.8" stroke="#333" stroke-width="1.6"/>
<text class="ax" x="1117.8" y="1062.3" text-anchor="middle">0.1</text>
<line x1="1168.0" x2="1168.0" y1="1046.0" y2="1049.8" stroke="#333" stroke-width="1.6"/>
<text class="ax" x="1168.0" y="1062.3" text-anchor="middle">0.2</text>
<line x1="1218.2" x2="1218.2" y1="1046.0" y2="1049.8" stroke="#333" stroke-width="1.6"/>
<text class="ax" x="1218.2" y="1062.3" text-anchor="middle">0.3</text>
<line x1="1268.4" x2="1268.4" y1="1046.0" y2="1049.8" stroke="#333" stroke-width="1.6"/>
<text class="ax" x="1268.4" y="1062.3" text-anchor="middle">0.4</text>
<rect x="1289.8" y="809.0" width="223.5" height="23.8" fill="#d9d9d9" stroke="#555" stroke-width="1"/>
<text class="st" transform="translate(1401.5,824.9) scale(1,1.08)" text-anchor="middle">Neutrophil</text>
<g><clipPath id="cp2_5"><rect x="1289.8" y="832.8" width="223.5" height="213.2"/></clipPath></g>
<g clip-path="url(#cp2_5)">
<line x1="1328.3" x2="1328.3" y1="832.8" y2="1046.0" stroke="#f2f2f2" stroke-width="0.8"/>
<line x1="1385.6" x2="1385.6" y1="832.8" y2="1046.0" stroke="#f2f2f2" stroke-width="0.8"/>
<line x1="1442.9" x2="1442.9" y1="832.8" y2="1046.0" stroke="#f2f2f2" stroke-width="0.8"/>
<line x1="1500.1" x2="1500.1" y1="832.8" y2="1046.0" stroke="#f2f2f2" stroke-width="0.8"/>
<line x1="1289.8" x2="1513.2" y1="1006.1" y2="1006.1" stroke="#f2f2f2" stroke-width="0.8"/>
<line x1="1289.8" x2="1513.2" y1="931.1" y2="931.1" stroke="#f2f2f2" stroke-width="0.8"/>
<line x1="1289.8" x2="1513.2" y1="856.1" y2="856.1" stroke="#f2f2f2" stroke-width="0.8"/>
<line x1="1299.7" x2="1299.7" y1="832.8" y2="1046.0" stroke="#ebebeb" stroke-width="1.2"/>
<line x1="1357.0" x2="1357.0" y1="832.8" y2="1046.0" stroke="#ebebeb" stroke-width="1.2"/>
<line x1="1414.2" x2="1414.2" y1="832.8" y2="1046.0" stroke="#ebebeb" stroke-width="1.2"/>
<line x1="1471.5" x2="1471.5" y1="832.8" y2="1046.0" stroke="#ebebeb" stroke-width="1.2"/>
<line x1="1289.8" x2="1513.2" y1="1043.6" y2="1043.6" stroke="#ebebeb" stroke-width="1.2"/>
<line x1="1289.8" x2="1513.2" y1="968.6" y2="968.6" stroke="#ebebeb" stroke-width="1.2"/>
<line x1="1289.8" x2="1513.2" y1="893.6" y2="893.6" stroke="#ebebeb" stroke-width="1.2"/>
<path transform="scale(0.5)" d="M2604 1988h0m2-16h0m1 100h0m1-126h0m7 9h0m8 6h0m1 79h0m0-134h0m2 50h0m0 15h0m1-32h0m2 8h0m1-25h0m1 2h0m1 47h0m0-50h0m1 82h0m1-43h0m2-32h0m0-54h0m0 30h0m1 64h0m1-36h0m0 14h0m0-15h0m1 68h0m1-30h0m0-67h0m1-73h0m0 127h0m1-2h0m3-78h0m0 63h0m1 44h0m0-82h0m3 51h0m0-45h0m0 23h0m0 50h0m1-79h0m1 32h0m0-59h0m3 73h0m0 43h0m0 44h0m0-89h0m1-63h0m0 15h0m1 28h0m0-30h0m0 76h0m1-30h0m0-29h0m0-28h0m1 130h0m0-126h0m0-33h0m1 22h0m1 11h0m1-73h0m0 87h0m0 19h0m1-20h0m0 53h0m1 11h0m0-38h0m1-74h0m1 43h0m1-34h0m0 43h0m1 82h0m0-69h0m1-65h0m1-6h0m1 16h0m0-9h0m2 29h0m0-33h0m0 63h0m0-45h0m0-6h0m0 71h0m1-43h0m0 40h0m0-16h0m0-88h0m1 60h0m0 34h0m1-35h0m0 133h0m0-120h0m0-26h0m0-27h0m1 55h0m0-32h0m0 72h0m1-17h0m0-17h0m0-6h0m1 4h0m0 96h0m0-92h0m0-73h0m0 80h0m1-1h0m0-14h0m0-33h0m0-34h0m1-6h0m1 95h0m0 71h0m0-124h0m0 74h0m0-72h0m0-41h0m1 54h0m0 20h0m0-52h0m0 50h0m1-36h0m0-32h0m1-27h0m0 113h0m0 87h0m0-112h0m0-59h0m0 78h0m0 6h0m1-8h0m0-88h0m0 104h0m0-72h0m0 20h0m1-56h0m0 174h0m0-62h0m0-22h0m0 82h0m0-124h0m0 75h0m1-30h0m0-38h0m0 56h0m0-120h0m1 103h0m0 24h0m0-38h0m1-34h0m0-36h0m0 97h0m0-38h0m0 30h0m1-44h0m1 34h0m0-95h0m0 16h0m1-5h0m1 126h0m1-48h0m0-134h0m1 71h0m0 171h0m1-159h0m0 102h0m0-74h0m1-15h0m0 54h0m0-54h0m0-37h0m0 75h0m1 51h0m1 22h0m0-137h0m1 61h0m0-29h0m0 66h0m0 54h0m0-153h0m0 221h0m1-195h0m0 44h0m1-85h0m0 160h0m0-112h0m0-8h0m0-40h0m0-22h0m0 118h0m1-32h0m0 49h0m0-104h0m1 3h0m0 43h0m0-48h0m0-20h0m0 45h0m1-7h0m0 77h0m0 99h0m1-79h0m0-35h0m0 11h0m0-86h0m1 36h0m0 84h0m0-87h0m0-28h0m1 66h0m0-91h0m0 113h0m0-61h0m1-14h0m0 34h0m0-12h0m1-24h0m0-69h0m0 77h0m1 5h0m0-12h0m0 26h0m0-33h0m1 70h0m0-163h0m0 148h0m0 41h0m1-79h0m0-15h0m0 7h0m0-108h0m1 154h0m0-42h0m1-53h0m0 161h0m1-237h0m1 141h0m0-51h0m0 20h0m0 144h0m0-250h0m1 332h0m1-192h0m1-13h0m0-12h0m0-35h0m0 60h0m1 44h0m0-42h0m0-30h0m0-15h0m1 60h0m0-27h0m0 24h0m0-67h0m0-18h0m1-3h0m0 77h0m1 1h0m1-120h0m0 153h0m1-57h0m0-29h0m0 92h0m0-68h0m0-73h0m0 94h0m1 40h0m0-80h0m1-27h0m0 34h0m0-67h0m1 56h0m0-14h0m1 17h0m2-65h0m0 109h0m0-31h0m1 17h0m0-69h0m0-17h0m0-6h0m1-22h0m0 50h0m1 16h0m0 19h0m0 32h0m0-52h0m1 11h0m1-49h0m0 51h0m0-37h0m0-37h0m0 124h0m0-33h0m1-73h0m0-74h0m0 135h0m1-25h0m0-76h0m0 114h0m1-83h0m1 87h0m0 17h0m0-60h0m0-52h0m1 114h0m0-71h0m0 81h0m1-38h0m0 30h0m1-8h0m0-75h0m1 32h0m0-21h0m0 55h0m0-82h0m1 82h0m0-88h0m0 85h0m0-64h0m1 74h0m1-70h0m1 73h0m0-75h0m0-27h0m0 67h0m0 30h0m0 54h0m0-76h0m0-75h0m1 26h0m0 161h0m2-168h0m0 87h0m0-125h0m0 63h0m1 85h0m0-76h0m1 17h0m0-24h0m1-53h0m1 43h0m0 11h0m1-10h0m0 10h0m0 86h0m1 11h0m0-18h0m0-39h0m2-31h0m0 64h0m0-95h0m1 50h0m0-37h0m0 0h0m1 21h0m0-25h0m0 4h0m1-4h0m1 9h0m0 41h0m1-47h0m1-32h0m0 55h0m1 33h0m1-4h0m0-56h0m1-44h0m0 6h0m0 191h0m0-99h0m1-13h0m0 49h0m1-51h0m0 85h0m1-91h0m1-61h0m0 38h0m0 34h0m0 13h0m1-48h0m0 46h0m1-49h0m1-29h0m1 51h0m0-14h0m1-21h0m0 2h0m1-4h0m0-25h0m0-19h0m1 66h0m1-64h0m2 205h0m1-115h0m2-12h0m0-58h0m0 90h0m1-31h0m0 9h0m0 7h0m2-22h0m1-47h0m0 44h0m0-56h0m1-9h0m2 127h0m1-25h0m1-66h0m4 2h0m0-25h0m1 21h0m3-3h0m1 44h0m0-26h0m1-11h0m3-59h0m0 93h0m1-72h0m0 25h0m1 2h0m1 22h0m1-46h0m0 61h0m2-35h0m2-12h0m3 49h0m1-25h0m2 9h0m2-40h0m1-9h0m2 52h0m6-16h0m5-33h0m3 43h0m1 1h0m2-3h0m5-20h0m5 11h0m0-38h0m2 15h0m9-6h0m1 52h0m4-69h0m2 15h0m1 6h0m8 20h0m3-43h0m3 10h0m3 12h0m14-62h0m8 94h0m1-21h0m8-18h0m1-22h0m9 16h0m9-32h0m0-18h0m8 3h0m7 19h0m11 10h0m3-1h0m4 25h0m4 37h0m1-40h0m2-3h0m1 9h0m2-35h0m0 21h0m5 1h0m3-14h0m11-23h0" stroke="#2b2b2b" stroke-width="12.2" stroke-linecap="round" fill="none"/>
<polygon points="1299.6,960.5 1303.0,961.7 1306.5,963.1 1309.9,963.4 1313.4,962.8 1316.8,961.5 1320.3,959.9 1323.7,957.8 1327.1,955.2 1330.6,952.5 1334.0,949.6 1337.5,946.7 1340.9,943.5 1344.4,939.9 1347.8,936.2 1351.3,932.6 1354.7,928.9 1358.1,925.2 1361.6,921.5 1365.0,917.8 1368.5,914.0 1371.9,910.2 1375.4,907.5 1378.8,904.7 1382.3,901.9 1385.7,899.0 1389.1,896.2 1392.6,893.5 1396.0,890.8 1399.5,888.2 1402.9,885.5 1406.4,883.5 1409.8,881.9 1413.3,880.4 1416.7,878.8 1420.1,877.3 1423.6,875.8 1427.0,874.2 1430.5,872.7 1433.9,871.4 1437.4,870.2 1440.8,869.0 1444.3,867.8 1447.7,866.7 1451.1,865.6 1454.6,864.6 1458.0,863.7 1461.5,863.0 1464.9,862.5 1468.4,862.0 1471.8,861.5 1475.3,861.0 1478.7,860.4 1482.1,859.7 1485.6,858.8 1489.0,858.1 1492.5,857.1 1495.9,855.7 1499.4,853.6 1502.8,851.8 1502.8,882.8 1499.4,881.2 1495.9,879.3 1492.5,878.1 1489.0,877.4 1485.6,877.1 1482.1,877.4 1478.7,877.9 1475.3,878.5 1471.8,879.1 1468.4,879.8 1464.9,880.5 1461.5,881.2 1458.0,881.9 1454.6,882.9 1451.1,883.8 1447.7,884.6 1444.3,885.5 1440.8,886.2 1437.4,887.0 1433.9,887.7 1430.5,888.5 1427.0,889.4 1423.6,890.3 1420.1,891.1 1416.7,892.0 1413.3,892.9 1409.8,893.7 1406.4,894.6 1402.9,896.1 1399.5,898.3 1396.0,900.5 1392.6,902.7 1389.1,905.1 1385.7,907.6 1382.3,910.2 1378.8,912.8 1375.4,915.5 1371.9,918.1 1368.5,921.8 1365.0,925.5 1361.6,929.2 1358.1,932.9 1354.7,936.7 1351.3,940.5 1347.8,944.3 1344.4,948.1 1340.9,952.0 1337.5,955.7 1334.0,959.1 1330.6,962.6 1327.1,966.1 1323.7,969.8 1320.3,973.3 1316.8,976.8 1313.4,980.6 1309.9,984.7 1306.5,989.3 1303.0,995.0 1299.6,1000.5" fill="#999999" fill-opacity="0.4"/>
<polyline points="1299.6,980.5 1311.9,972.9 1322.8,964.7 1339.1,949.7 1355.5,931.9 1371.9,914.2 1391.0,899.2 1404.6,889.7 1431.9,880.1 1459.2,872.5 1486.4,867.8 1502.8,867.3" fill="none" stroke="#1662c4" stroke-width="2.5" stroke-linejoin="round" stroke-linecap="round"/>
</g>
<text class="rd" transform="translate(1509.8,848.1) scale(1,1.06)" text-anchor="end">partial.cor = 0.599</text>
<text class="rd" transform="translate(1509.8,863.0) scale(1,1.06)" text-anchor="end">p = 1.98e-35</text>
<line x1="1289.8" x2="1289.8" y1="809.0" y2="1046.0" stroke="#333" stroke-width="1.7"/>
<line x1="1513.2" x2="1513.2" y1="809.0" y2="1046.0" stroke="#333" stroke-width="1.7"/>
<line x1="1289.8" x2="1513.2" y1="832.8" y2="832.8" stroke="#262626" stroke-width="1.6"/>
<line x1="1289.8" x2="1513.2" y1="1046.0" y2="1046.0" stroke="#e6e6e6" stroke-width="1.2"/>
<line x1="1299.7" x2="1299.7" y1="1046.0" y2="1049.8" stroke="#333" stroke-width="1.6"/>
<text class="ax" x="1299.7" y="1062.3" text-anchor="middle">0.0</text>
<line x1="1357.0" x2="1357.0" y1="1046.0" y2="1049.8" stroke="#333" stroke-width="1.6"/>
<text class="ax" x="1357.0" y="1062.3" text-anchor="middle">0.1</text>
<line x1="1414.2" x2="1414.2" y1="1046.0" y2="1049.8" stroke="#333" stroke-width="1.6"/>
<text class="ax" x="1414.2" y="1062.3" text-anchor="middle">0.2</text>
<line x1="1471.5" x2="1471.5" y1="1046.0" y2="1049.8" stroke="#333" stroke-width="1.6"/>
<text class="ax" x="1471.5" y="1062.3" text-anchor="middle">0.3</text>
<rect x="1521.7" y="809.0" width="223.5" height="23.8" fill="#d9d9d9" stroke="#555" stroke-width="1"/>
<text class="st" transform="translate(1633.4,824.9) scale(1,1.08)" text-anchor="middle">Dendritic Cell</text>
<g><clipPath id="cp2_6"><rect x="1521.7" y="832.8" width="223.5" height="213.2"/></clipPath></g>
<g clip-path="url(#cp2_6)">
<line x1="1567.9" x2="1567.9" y1="832.8" y2="1046.0" stroke="#f2f2f2" stroke-width="0.8"/>
<line x1="1616.6" x2="1616.6" y1="832.8" y2="1046.0" stroke="#f2f2f2" stroke-width="0.8"/>
<line x1="1665.3" x2="1665.3" y1="832.8" y2="1046.0" stroke="#f2f2f2" stroke-width="0.8"/>
<line x1="1714.0" x2="1714.0" y1="832.8" y2="1046.0" stroke="#f2f2f2" stroke-width="0.8"/>
<line x1="1521.7" x2="1745.2" y1="1006.1" y2="1006.1" stroke="#f2f2f2" stroke-width="0.8"/>
<line x1="1521.7" x2="1745.2" y1="931.1" y2="931.1" stroke="#f2f2f2" stroke-width="0.8"/>
<line x1="1521.7" x2="1745.2" y1="856.1" y2="856.1" stroke="#f2f2f2" stroke-width="0.8"/>
<line x1="1543.6" x2="1543.6" y1="832.8" y2="1046.0" stroke="#ebebeb" stroke-width="1.2"/>
<line x1="1592.3" x2="1592.3" y1="832.8" y2="1046.0" stroke="#ebebeb" stroke-width="1.2"/>
<line x1="1641.0" x2="1641.0" y1="832.8" y2="1046.0" stroke="#ebebeb" stroke-width="1.2"/>
<line x1="1689.7" x2="1689.7" y1="832.8" y2="1046.0" stroke="#ebebeb" stroke-width="1.2"/>
<line x1="1738.4" x2="1738.4" y1="832.8" y2="1046.0" stroke="#ebebeb" stroke-width="1.2"/>
<line x1="1521.7" x2="1745.2" y1="1043.6" y2="1043.6" stroke="#ebebeb" stroke-width="1.2"/>
<line x1="1521.7" x2="1745.2" y1="968.6" y2="968.6" stroke="#ebebeb" stroke-width="1.2"/>
<line x1="1521.7" x2="1745.2" y1="893.6" y2="893.6" stroke="#ebebeb" stroke-width="1.2"/>
<path transform="scale(0.5)" d="M3068 2068h0m2-32h0m2 6h0m0-52h0m2-49h0m0 1h0m1 115h0m0-138h0m1-29h0m0-49h0m0 220h0m0-126h0m1-28h0m0 32h0m1 38h0m0 3h0m1-60h0m1 82h0m0-9h0m0-57h0m1 7h0m0 13h0m1 89h0m1-123h0m0 27h0m0-50h0m0 66h0m1-40h0m0-48h0m0 67h0m0 29h0m1 30h0m0-56h0m0 76h0m0-101h0m0 69h0m1-125h0m1 163h0m0 42h0m0-119h0m0 12h0m0-16h0m0 12h0m0-2h0m0-26h0m1-3h0m0-46h0m0 33h0m1 32h0m0 73h0m0-137h0m1 18h0m0-36h0m0 88h0m0 8h0m0-90h0m1 19h0m1 72h0m0 77h0m0-43h0m1-63h0m0 88h0m0-103h0m0-21h0m0 53h0m0 62h0m1-102h0m0 10h0m0-1h0m1 106h0m0-65h0m0 4h0m0-36h0m1 32h0m0-14h0m0-14h0m0-70h0m0 7h0m0 29h0m1 19h0m0 144h0m0-94h0m1 57h0m0-35h0m2 2h0m0 28h0m0 12h0m0-43h0m0-162h0m1-56h0m0 117h0m0 98h0m0-55h0m0-8h0m1-86h0m0 124h0m0 27h0m1-44h0m0-36h0m1 18h0m0 14h0m0 27h0m0-108h0m1 53h0m0 58h0m0 34h0m0-38h0m1 3h0m0-70h0m1-5h0m0 52h0m0-82h0m0 36h0m1-12h0m0 60h0m0-37h0m0 81h0m1-91h0m0 1h0m0-41h0m0 34h0m0 116h0m0-113h0m0-23h0m0-33h0m1 10h0m0-6h0m0 53h0m0 2h0m0 27h0m1-30h0m0 1h0m0-10h0m0 6h0m1 14h0m0-50h0m1 20h0m1 24h0m0-38h0m0 91h0m0-67h0m1-44h0m0 53h0m0 133h0m0-87h0m0-56h0m0 73h0m0-59h0m1 25h0m0-36h0m0 86h0m0-162h0m1 38h0m0 50h0m1-26h0m0 19h0m0 107h0m0-93h0m0-23h0m0 70h0m2 12h0m0-6h0m0-76h0m0-17h0m1 72h0m0-17h0m1-71h0m1 40h0m0 63h0m1-76h0m0 51h0m0-104h0m0-33h0m1 50h0m0 18h0m0 33h0m0-15h0m1 41h0m0-150h0m0 232h0m0-158h0m1-16h0m0 179h0m0-95h0m0 17h0m1-74h0m0 59h0m0 60h0m0-37h0m1-54h0m0 53h0m0-52h0m0-16h0m1 57h0m1 4h0m0 73h0m0-110h0m0 12h0m1 2h0m0-16h0m0 8h0m0 19h0m2-47h0m0-1h0m1-49h0m0 53h0m0-26h0m0 38h0m0 151h0m1-173h0m0 34h0m1 8h0m0-58h0m0 9h0m0 0h0m0 9h0m0-48h0m1-5h0m0 89h0m0 72h0m0-18h0m1 20h0m0-78h0m1 106h0m0-164h0m1 171h0m0-133h0m0 83h0m0 97h0m1-93h0m0-72h0m0-111h0m0 100h0m1-16h0m0 0h0m0-10h0m1-32h0m0 9h0m0 55h0m0-58h0m0 51h0m1-47h0m0-8h0m0 28h0m1 2h0m0-10h0m0-61h0m0 137h0m0-114h0m1 49h0m1 46h0m0-12h0m1 8h0m0-113h0m0 122h0m0-40h0m0 73h0m1-25h0m0-76h0m0 57h0m1-31h0m1-23h0m0 52h0m0-44h0m0-27h0m1 85h0m2-66h0m1-79h0m0 136h0m0 4h0m1-41h0m0-47h0m0 255h0m1-119h0m0-222h0m1 263h0m0-174h0m0-40h0m0 96h0m1-84h0m0 19h0m1 48h0m0-3h0m0 68h0m0-67h0m0-17h0m1 34h0m0-133h0m0 0h0m0 70h0m0 128h0m1-11h0m0-170h0m0 72h0m2 22h0m0 30h0m1-52h0m1 42h0m1 42h0m0-55h0m0-74h0m1 43h0m0 11h0m0-24h0m1-47h0m0 102h0m1-42h0m0-33h0m0 34h0m0 38h0m1-82h0m1 93h0m0-76h0m0 33h0m1-23h0m0 92h0m1-115h0m0 32h0m0-13h0m0-36h0m0 78h0m0 52h0m0-58h0m1-40h0m0 34h0m1 21h0m0 10h0m0-16h0m0-21h0m1 11h0m0-12h0m0 57h0m1-37h0m0 10h0m0 60h0m1-108h0m1 81h0m0-72h0m0 35h0m2-92h0m1 71h0m1-28h0m0 51h0m1 15h0m0-24h0m0-62h0m0-16h0m1 73h0m0 46h0m0-33h0m1-45h0m1 21h0m1-83h0m1 34h0m0-2h0m0 64h0m1-24h0m1 34h0m0-20h0m0-106h0m4 133h0m0-102h0m1 2h0m0 28h0m1-34h0m1 20h0m1 57h0m0 19h0m3-82h0m0 108h0m0-74h0m1 130h0m2-152h0m0 92h0m2-79h0m0-67h0m1 60h0m1 10h0m0-38h0m0 24h0m1 2h0m0 16h0m1 24h0m1-20h0m0-40h0m1 5h0m5 95h0m0-75h0m0 12h0m0 71h0m0-101h0m2-78h0m0 184h0m3 12h0m0-85h0m1 0h0m0 34h0m4-96h0m4 74h0m0-88h0m1 140h0m0-99h0m1 24h0m0 2h0m7-30h0m2 22h0m2-19h0m1-37h0m1 144h0m0-67h0m1-58h0m1 179h0m2-119h0m4-26h0m0-37h0m1 51h0m6 1h0m0-38h0m1 247h0m2 19h0m1-214h0m8-17h0m0-44h0m1 35h0m1 9h0m1-10h0m8-33h0m4-35h0m0 39h0m1-9h0m1 9h0m4 18h0m2 79h0m5-93h0m0 5h0m2 7h0m2 2h0m2-37h0m4 59h0m8-63h0m16 71h0m2-15h0m8-14h0m1-49h0m11 0h0m0 31h0m1 36h0m2-23h0m2 41h0m0-65h0m2 79h0m3-86h0m6 31h0m7-30h0m0-19h0m4-8h0m1 52h0m6-16h0m5 19h0m2-4h0m6-62h0m0 20h0m7-9h0m3 41h0m9 2h0m0 36h0m8-76h0m2 28h0m5 14h0m3 45h0m12-86h0" stroke="#2b2b2b" stroke-width="12.2" stroke-linecap="round" fill="none"/>
<polygon points="1531.5,986.4 1535.0,982.5 1538.4,978.8 1541.9,974.5 1545.3,970.2 1548.8,965.6 1552.3,960.8 1555.7,956.2 1559.2,951.6 1562.6,946.8 1566.1,942.1 1569.5,937.6 1573.0,933.2 1576.5,928.7 1579.9,924.1 1583.4,920.3 1586.8,916.4 1590.3,912.5 1593.8,908.6 1597.2,906.1 1600.7,903.5 1604.1,900.9 1607.6,898.4 1611.0,897.0 1614.5,895.6 1618.0,894.2 1621.4,892.8 1624.9,891.5 1628.3,890.1 1631.8,888.7 1635.3,887.4 1638.7,886.2 1642.2,885.0 1645.6,883.8 1649.1,882.6 1652.5,881.5 1656.0,880.3 1659.5,879.2 1662.9,878.2 1666.4,877.4 1669.8,876.6 1673.3,875.9 1676.8,875.2 1680.2,874.5 1683.7,873.8 1687.1,873.0 1690.6,872.4 1694.0,871.9 1697.5,871.4 1701.0,870.8 1704.4,870.2 1707.9,869.5 1711.3,868.6 1714.8,867.6 1718.3,866.5 1721.7,865.1 1725.2,863.2 1728.6,861.1 1732.1,859.9 1735.5,860.0 1735.5,885.0 1732.1,885.8 1728.6,885.4 1725.2,884.1 1721.7,883.0 1718.3,882.4 1714.8,882.2 1711.3,882.2 1707.9,882.4 1704.4,882.7 1701.0,883.1 1697.5,883.6 1694.0,884.1 1690.6,884.7 1687.1,885.5 1683.7,886.5 1680.2,887.5 1676.8,888.5 1673.3,889.6 1669.8,890.6 1666.4,891.5 1662.9,892.4 1659.5,893.4 1656.0,894.3 1652.5,895.3 1649.1,896.2 1645.6,897.1 1642.2,898.0 1638.7,898.9 1635.3,899.7 1631.8,900.8 1628.3,901.8 1624.9,902.9 1621.4,903.9 1618.0,904.9 1614.5,905.9 1611.0,906.9 1607.6,908.0 1604.1,910.1 1600.7,912.4 1597.2,914.7 1593.8,917.0 1590.3,920.7 1586.8,924.4 1583.4,928.1 1579.9,931.9 1576.5,936.4 1573.0,940.9 1569.5,945.4 1566.1,950.0 1562.6,954.9 1559.2,959.9 1555.7,964.9 1552.3,970.1 1548.8,975.7 1545.3,981.5 1541.9,987.5 1538.4,994.2 1535.0,1001.4 1531.5,1008.4" fill="#999999" fill-opacity="0.4"/>
<polyline points="1531.5,997.4 1541.9,981.0 1552.8,964.7 1566.4,945.6 1580.1,927.8 1593.7,912.8 1607.3,903.3 1634.6,893.7 1661.9,885.6 1689.2,878.7 1716.4,874.7 1735.5,872.5" fill="none" stroke="#1662c4" stroke-width="2.5" stroke-linejoin="round" stroke-linecap="round"/>
</g>
<text class="rd" transform="translate(1741.8,848.1) scale(1,1.06)" text-anchor="end">partial.cor = 0.649</text>
<text class="rd" transform="translate(1741.8,863.0) scale(1,1.06)" text-anchor="end">p = 1.08e-54</text>
<line x1="1521.7" x2="1521.7" y1="809.0" y2="1046.0" stroke="#333" stroke-width="1.7"/>
<line x1="1745.2" x2="1745.2" y1="809.0" y2="1046.0" stroke="#333" stroke-width="1.7"/>
<line x1="1521.7" x2="1745.2" y1="832.8" y2="832.8" stroke="#262626" stroke-width="1.6"/>
<line x1="1521.7" x2="1745.2" y1="1046.0" y2="1046.0" stroke="#e6e6e6" stroke-width="1.2"/>
<line x1="1543.6" x2="1543.6" y1="1046.0" y2="1049.8" stroke="#333" stroke-width="1.6"/>
<text class="ax" x="1543.6" y="1062.3" text-anchor="middle">0.25</text>
<line x1="1592.3" x2="1592.3" y1="1046.0" y2="1049.8" stroke="#333" stroke-width="1.6"/>
<text class="ax" x="1592.3" y="1062.3" text-anchor="middle">0.50</text>
<line x1="1641.0" x2="1641.0" y1="1046.0" y2="1049.8" stroke="#333" stroke-width="1.6"/>
<text class="ax" x="1641.0" y="1062.3" text-anchor="middle">0.75</text>
<line x1="1689.7" x2="1689.7" y1="1046.0" y2="1049.8" stroke="#333" stroke-width="1.6"/>
<text class="ax" x="1689.7" y="1062.3" text-anchor="middle">1.00</text>
<line x1="1738.4" x2="1738.4" y1="1046.0" y2="1049.8" stroke="#333" stroke-width="1.6"/>
<text class="ax" x="1738.4" y="1062.3" text-anchor="middle">1.25</text>
<text class="lt" x="26.8" y="1162.8">D</text>
<text class="gn" x="905.0" y="1156.2" text-anchor="middle">IRF8</text>
<text class="tt" transform="translate(75.5,1311.3) rotate(-90)" text-anchor="middle" style="font-size:15px">IRF8 Expression Level (log<tspan dy="3" style="font-size:9.0px">2</tspan><tspan dy="-3"> RSEM)</tspan></text>
<rect x="105.7" y="1204.7" width="24.3" height="213.2" fill="#d9d9d9" stroke="#333" stroke-width="1.7"/>
<text class="st" transform="translate(122.2,1311.3) rotate(-90)" text-anchor="middle">SKCM</text>
<line x1="102.2" x2="105.7" y1="1264.1" y2="1264.1" stroke="#333" stroke-width="1.6"/>
<text class="ax" transform="translate(99.0,1264.1) rotate(-90) scale(0.82,1)" text-anchor="middle">10</text>
<line x1="102.2" x2="105.7" y1="1349.4" y2="1349.4" stroke="#333" stroke-width="1.6"/>
<text class="ax" transform="translate(99.0,1349.4) rotate(-90) scale(0.82,1)" text-anchor="middle">5</text>
<text class="tt" x="937.6" y="1451.9" text-anchor="middle">Infiltration Level</text>
<rect x="130.0" y="1180.9" width="223.5" height="23.8" fill="#d9d9d9" stroke="#555" stroke-width="1"/>
<text class="st" transform="translate(241.8,1196.8) scale(1,1.08)" text-anchor="middle">Purity</text>
<g><clipPath id="cp3_0"><rect x="130.0" y="1204.7" width="223.5" height="213.2"/></clipPath></g>
<g clip-path="url(#cp3_0)">
<line x1="146.3" x2="146.3" y1="1204.7" y2="1417.9" stroke="#f2f2f2" stroke-width="0.8"/>
<line x1="203.3" x2="203.3" y1="1204.7" y2="1417.9" stroke="#f2f2f2" stroke-width="0.8"/>
<line x1="260.3" x2="260.3" y1="1204.7" y2="1417.9" stroke="#f2f2f2" stroke-width="0.8"/>
<line x1="317.3" x2="317.3" y1="1204.7" y2="1417.9" stroke="#f2f2f2" stroke-width="0.8"/>
<line x1="130.0" x2="353.5" y1="1392.1" y2="1392.1" stroke="#f2f2f2" stroke-width="0.8"/>
<line x1="130.0" x2="353.5" y1="1306.8" y2="1306.8" stroke="#f2f2f2" stroke-width="0.8"/>
<line x1="130.0" x2="353.5" y1="1221.5" y2="1221.5" stroke="#f2f2f2" stroke-width="0.8"/>
<line x1="174.8" x2="174.8" y1="1204.7" y2="1417.9" stroke="#ebebeb" stroke-width="1.2"/>
<line x1="231.8" x2="231.8" y1="1204.7" y2="1417.9" stroke="#ebebeb" stroke-width="1.2"/>
<line x1="288.8" x2="288.8" y1="1204.7" y2="1417.9" stroke="#ebebeb" stroke-width="1.2"/>
<line x1="345.8" x2="345.8" y1="1204.7" y2="1417.9" stroke="#ebebeb" stroke-width="1.2"/>
<line x1="130.0" x2="353.5" y1="1349.4" y2="1349.4" stroke="#ebebeb" stroke-width="1.2"/>
<line x1="130.0" x2="353.5" y1="1264.1" y2="1264.1" stroke="#ebebeb" stroke-width="1.2"/>
<path transform="scale(0.5)" d="M281 2470h0m6 41h0m0 15h0m2-23h0m0-26h0m2 28h0m0-35h0m1 90h0m1-69h0m0 13h0m3 17h0m1-9h0m3 49h0m4-43h0m1-9h0m0-10h0m0-30h0m6-16h0m1 39h0m1 49h0m0-13h0m3-28h0m1 36h0m1-16h0m1 38h0m0-14h0m1-10h0m1-1h0m1 118h0m2-101h0m0-17h0m1 11h0m1 8h0m1-23h0m1 41h0m0 16h0m2-64h0m2-39h0m6 84h0m1-28h0m1-7h0m5 57h0m0-55h0m2 17h0m4-14h0m5-30h0m3 76h0m3-5h0m6-3h0m6-66h0m0-8h0m15 21h0m1 10h0m0 63h0m15 37h0m1-42h0m5 11h0m0-31h0m4-26h0m14 7h0m0 175h0m3-155h0m8-7h0m3-11h0m2 39h0m0 27h0m2-46h0m0-14h0m1-2h0m2 33h0m1-71h0m2 20h0m3 60h0m2 156h0m3-192h0m2-20h0m2 108h0m6-20h0m0-60h0m1-24h0m0-1h0m3 32h0m1 16h0m0-30h0m1-1h0m1-4h0m1 1h0m1 104h0m1-107h0m1 134h0m2-141h0m2 30h0m1 14h0m0 62h0m2-128h0m3 74h0m1-56h0m0 27h0m0-9h0m3 38h0m2-61h0m0 17h0m1-22h0m0 157h0m1-121h0m1 62h0m1-69h0m1-27h0m0 117h0m1-77h0m0 24h0m1-46h0m1 38h0m0-31h0m0 56h0m0-61h0m2-32h0m0 6h0m3 38h0m0 61h0m2-76h0m1 49h0m1-56h0m0 39h0m0-15h0m1 37h0m1-70h0m1 62h0m0 103h0m0-189h0m1 89h0m1-1h0m4-22h0m0-48h0m0 30h0m2-9h0m0 53h0m0 59h0m2-53h0m0-51h0m1 122h0m0-109h0m1 4h0m0-19h0m3 99h0m0-15h0m0-30h0m0 17h0m0 4h0m3-24h0m0-65h0m1 43h0m1-11h0m0 57h0m1-49h0m0 84h0m0-117h0m1-38h0m0 51h0m0-30h0m0 105h0m1-98h0m0 193h0m0-179h0m1 50h0m0-80h0m1 37h0m1-69h0m0 220h0m0-196h0m1 67h0m1-44h0m2 80h0m0 57h0m1-82h0m1 64h0m0-66h0m3-32h0m0 32h0m0 14h0m0 5h0m0-93h0m1-16h0m0 62h0m1 37h0m0-92h0m0 61h0m0 18h0m1-38h0m0 41h0m0 15h0m0 21h0m0 116h0m2-179h0m1 84h0m1-84h0m1 3h0m0-33h0m2 4h0m0 48h0m1 98h0m0-69h0m0-72h0m1 7h0m1-1h0m1 70h0m0 9h0m1-4h0m1 9h0m0-92h0m1 209h0m0-209h0m1 112h0m0-71h0m1 13h0m0-62h0m0 24h0m0-42h0m0 67h0m1-66h0m0 59h0m1 21h0m0 105h0m2-118h0m0 65h0m0 62h0m0-202h0m0 149h0m3-18h0m0-43h0m1-3h0m1-79h0m1 161h0m0-28h0m1-131h0m1 56h0m1 34h0m0 26h0m0 38h0m0-115h0m0 84h0m0-80h0m1 1h0m1-46h0m0 114h0m1 55h0m1-79h0m1-60h0m0-44h0m0 159h0m0-2h0m1-123h0m0 31h0m0-29h0m1 18h0m0 20h0m0 121h0m1-63h0m0-13h0m0-73h0m1 71h0m0-57h0m0 17h0m0 10h0m1 37h0m0-45h0m1 6h0m0 27h0m1 22h0m1-38h0m0-5h0m0-38h0m0 23h0m0-75h0m0 90h0m0-9h0m1 31h0m0-24h0m0-4h0m1-7h0m1 142h0m0-129h0m1-40h0m1 62h0m1 191h0m1-213h0m1 51h0m0-83h0m1-19h0m1-35h0m0 170h0m1-20h0m0 127h0m0-267h0m1 62h0m0-13h0m0 29h0m2 92h0m0-22h0m1-57h0m1 49h0m1-22h0m1-61h0m0 7h0m0 13h0m0 75h0m0-39h0m1 23h0m0-25h0m0 14h0m0-74h0m1 82h0m1-135h0m0 102h0m0 18h0m1 25h0m1-39h0m0-98h0m0 63h0m0 81h0m0-16h0m1-32h0m1 57h0m1-88h0m0 43h0m1 13h0m0 29h0m0-63h0m0 38h0m0-49h0m1 41h0m0-53h0m0 126h0m0-119h0m0 74h0m1-100h0m2 44h0m0 103h0m0 13h0m1-141h0m0 77h0m1-41h0m0 115h0m0-69h0m0-94h0m1 55h0m1 125h0m1-102h0m0 96h0m0-50h0m0-142h0m1 62h0m0 73h0m0-35h0m0-117h0m0 37h0m1 23h0m0-54h0m0 94h0m1-45h0m0-12h0m0 62h0m0 4h0m1-12h0m0 12h0m1 60h0m0 70h0m0-156h0m1-49h0m0 51h0m0 30h0m1-29h0m0 3h0m0-50h0m0 49h0m0 56h0m1-25h0m0-12h0m1-45h0m0 126h0m1-114h0m1 28h0m0 74h0m1-61h0m1 28h0m1-25h0m1-24h0m0 11h0m0 32h0m0-112h0m1 132h0m1 39h0m1-83h0m1 52h0m0 85h0m1-75h0m1-90h0m0 45h0m0-75h0m1 76h0m0-18h0m0 5h0m0 86h0m1-13h0m0-109h0m0-24h0m1 55h0m1-9h0m0-7h0m0 3h0m0 43h0m1 3h0m0-57h0m1 16h0m0 8h0m0 29h0m0-27h0m0 7h0m1-52h0m1 30h0m1-6h0m1 11h0m0 38h0m0 39h0m1-158h0m0 235h0m1-94h0m0-40h0m0-86h0m0-15h0m1 92h0m1 159h0m0-68h0m1-159h0m0 18h0m0 55h0m1 53h0m2-80h0m1 22h0m0-22h0m1 23h0m0 35h0m0-111h0m0 30h0m0-1h0m1 68h0m0 30h0m0 30h0m0-99h0m0 65h0m0-129h0m1 30h0m1 122h0m1 77h0m0-152h0m0-22h0m1 162h0m0-23h0m0-38h0m0-53h0m0-96h0m1 180h0m0-77h0m0 55h0m1-99h0m1 61h0m1-43h0m1 39h0m0-30h0m1 40h0m0-27h0" stroke="#2b2b2b" stroke-width="12.2" stroke-linecap="round" fill="none"/>
<polygon points="140.0,1247.9 143.4,1251.7 146.9,1255.0 150.3,1257.9 153.8,1260.2 157.2,1262.0 160.7,1263.6 164.1,1265.1 167.6,1266.3 171.0,1267.3 174.4,1268.2 177.9,1269.0 181.3,1269.8 184.8,1270.4 188.2,1271.0 191.7,1271.8 195.1,1272.5 198.6,1273.4 202.0,1274.4 205.4,1275.5 208.9,1276.7 212.3,1277.9 215.8,1279.2 219.2,1280.5 222.7,1281.7 226.1,1283.0 229.6,1284.2 233.0,1285.4 236.4,1286.4 239.9,1287.4 243.3,1288.3 246.8,1289.2 250.2,1290.1 253.7,1291.0 257.1,1291.8 260.6,1292.7 264.0,1293.6 267.4,1294.4 270.9,1295.3 274.3,1296.1 277.8,1296.9 281.2,1297.7 284.7,1298.8 288.1,1300.4 291.6,1302.0 295.0,1303.6 298.4,1305.1 301.9,1306.7 305.3,1308.8 308.8,1311.1 312.2,1313.3 315.7,1315.5 319.1,1317.7 322.6,1320.2 326.0,1323.1 329.4,1325.9 332.9,1328.6 336.3,1331.2 339.8,1333.6 343.2,1335.8 343.2,1345.8 339.8,1341.9 336.3,1338.3 332.9,1334.8 329.4,1331.5 326.0,1328.3 322.6,1325.2 319.1,1322.7 315.7,1320.5 312.2,1318.3 308.8,1316.1 305.3,1313.8 301.9,1311.7 298.4,1310.1 295.0,1308.6 291.6,1307.0 288.1,1305.4 284.7,1303.8 281.2,1302.7 277.8,1302.0 274.3,1301.2 270.9,1300.5 267.4,1299.8 264.0,1299.1 260.6,1298.4 257.1,1297.8 253.7,1297.1 250.2,1296.5 246.8,1295.9 243.3,1295.3 239.9,1294.7 236.4,1294.1 233.0,1293.5 229.6,1292.8 226.1,1292.0 222.7,1291.4 219.2,1290.7 215.8,1290.0 212.3,1289.4 208.9,1288.7 205.4,1288.1 202.0,1287.4 198.6,1286.7 195.1,1285.8 191.7,1284.9 188.2,1283.9 184.8,1282.8 181.3,1281.7 177.9,1280.5 174.4,1279.3 171.0,1278.2 167.6,1277.1 164.1,1275.9 160.7,1274.6 157.2,1273.5 153.8,1272.5 150.3,1271.5 146.9,1270.5 143.4,1270.0 140.0,1269.9" fill="#999999" fill-opacity="0.4"/>
<polyline points="140.0,1258.9 152.3,1265.7 165.9,1271.2 179.6,1275.3 206.8,1282.1 234.1,1289.7 261.4,1295.8 283.2,1300.7 302.3,1309.4 321.4,1321.7 343.2,1340.8" fill="none" stroke="#1662c4" stroke-width="2.5" stroke-linejoin="round" stroke-linecap="round"/>
</g>
<text class="rd" transform="translate(350.1,1220.0) scale(1,1.06)" text-anchor="end">cor = -0.641</text>
<text class="rd" transform="translate(350.1,1234.9) scale(1,1.06)" text-anchor="end">p = 2.84e-54</text>
<line x1="130.0" x2="130.0" y1="1180.9" y2="1417.9" stroke="#333" stroke-width="1.7"/>
<line x1="353.5" x2="353.5" y1="1180.9" y2="1417.9" stroke="#333" stroke-width="1.7"/>
<line x1="130.0" x2="353.5" y1="1204.7" y2="1204.7" stroke="#262626" stroke-width="1.6"/>
<line x1="130.0" x2="353.5" y1="1417.9" y2="1417.9" stroke="#e6e6e6" stroke-width="1.2"/>
<line x1="174.8" x2="174.8" y1="1417.9" y2="1421.7" stroke="#333" stroke-width="1.6"/>
<text class="ax" x="174.8" y="1434.2" text-anchor="middle">0.25</text>
<line x1="231.8" x2="231.8" y1="1417.9" y2="1421.7" stroke="#333" stroke-width="1.6"/>
<text class="ax" x="231.8" y="1434.2" text-anchor="middle">0.50</text>
<line x1="288.8" x2="288.8" y1="1417.9" y2="1421.7" stroke="#333" stroke-width="1.6"/>
<text class="ax" x="288.8" y="1434.2" text-anchor="middle">0.75</text>
<line x1="345.8" x2="345.8" y1="1417.9" y2="1421.7" stroke="#333" stroke-width="1.6"/>
<text class="ax" x="345.8" y="1434.2" text-anchor="middle">1.00</text>
<rect x="361.9" y="1180.9" width="223.5" height="23.8" fill="#d9d9d9" stroke="#555" stroke-width="1"/>
<text class="st" transform="translate(473.7,1196.8) scale(1,1.08)" text-anchor="middle">B Cell</text>
<g><clipPath id="cp3_1"><rect x="361.9" y="1204.7" width="223.5" height="213.2"/></clipPath></g>
<g clip-path="url(#cp3_1)">
<line x1="393.6" x2="393.6" y1="1204.7" y2="1417.9" stroke="#f2f2f2" stroke-width="0.8"/>
<line x1="438.2" x2="438.2" y1="1204.7" y2="1417.9" stroke="#f2f2f2" stroke-width="0.8"/>
<line x1="482.8" x2="482.8" y1="1204.7" y2="1417.9" stroke="#f2f2f2" stroke-width="0.8"/>
<line x1="527.4" x2="527.4" y1="1204.7" y2="1417.9" stroke="#f2f2f2" stroke-width="0.8"/>
<line x1="572.1" x2="572.1" y1="1204.7" y2="1417.9" stroke="#f2f2f2" stroke-width="0.8"/>
<line x1="361.9" x2="585.5" y1="1392.1" y2="1392.1" stroke="#f2f2f2" stroke-width="0.8"/>
<line x1="361.9" x2="585.5" y1="1306.8" y2="1306.8" stroke="#f2f2f2" stroke-width="0.8"/>
<line x1="361.9" x2="585.5" y1="1221.5" y2="1221.5" stroke="#f2f2f2" stroke-width="0.8"/>
<line x1="371.3" x2="371.3" y1="1204.7" y2="1417.9" stroke="#ebebeb" stroke-width="1.2"/>
<line x1="415.9" x2="415.9" y1="1204.7" y2="1417.9" stroke="#ebebeb" stroke-width="1.2"/>
<line x1="460.5" x2="460.5" y1="1204.7" y2="1417.9" stroke="#ebebeb" stroke-width="1.2"/>
<line x1="505.1" x2="505.1" y1="1204.7" y2="1417.9" stroke="#ebebeb" stroke-width="1.2"/>
<line x1="549.8" x2="549.8" y1="1204.7" y2="1417.9" stroke="#ebebeb" stroke-width="1.2"/>
<line x1="361.9" x2="585.5" y1="1349.4" y2="1349.4" stroke="#ebebeb" stroke-width="1.2"/>
<line x1="361.9" x2="585.5" y1="1264.1" y2="1264.1" stroke="#ebebeb" stroke-width="1.2"/>
<path transform="scale(0.5)" d="M743 2592h0m2 50h0m1-67h0m1 33h0m0 36h0m0-87h0m1 65h0m0 41h0m1-54h0m0 70h0m1-125h0m0 190h0m0-56h0m0-91h0m1-41h0m0 90h0m0-21h0m0-31h0m0 51h0m1 31h0m0-63h0m0 35h0m0-8h0m1-4h0m1 3h0m0-74h0m0 69h0m1-4h0m0 37h0m0-42h0m0 27h0m1 66h0m0-51h0m0-54h0m0-9h0m1-9h0m0 48h0m0-61h0m0 43h0m0-40h0m1 40h0m0 35h0m0-44h0m1 29h0m0-60h0m0 46h0m0 103h0m1-106h0m0 28h0m0-23h0m0-94h0m0 125h0m0-12h0m0 55h0m0-109h0m0-15h0m0 106h0m1-61h0m0 24h0m1-2h0m0 1h0m0-53h0m0 100h0m0-111h0m0 78h0m1-37h0m1 29h0m0-2h0m1-2h0m0-48h0m0 53h0m1-7h0m0-16h0m0-35h0m0-71h0m1 62h0m0 63h0m1 53h0m1-89h0m0-6h0m0 77h0m0-53h0m0 53h0m0 22h0m0-87h0m0 28h0m1 22h0m1-46h0m0 55h0m1-67h0m0 161h0m0-115h0m0 18h0m0-1h0m1-41h0m0-81h0m0 45h0m1 31h0m0 24h0m0-52h0m1 35h0m1-11h0m1-47h0m0 89h0m0-94h0m0 122h0m0-72h0m0-40h0m0 77h0m1-38h0m0 29h0m0-2h0m0 14h0m0 4h0m1-41h0m0 106h0m0-31h0m0-77h0m1-5h0m0-27h0m0 28h0m0 17h0m0 16h0m1-97h0m0 186h0m1-192h0m0 78h0m0 17h0m0-80h0m1 51h0m0 54h0m0-61h0m1-23h0m0 117h0m0-111h0m0 94h0m0-84h0m0 47h0m1-48h0m0 56h0m0-87h0m0 30h0m1 187h0m0-82h0m0-104h0m0 33h0m0-26h0m1-6h0m0-53h0m0 62h0m1 21h0m0-63h0m0 2h0m0 47h0m0-54h0m0-40h0m0 40h0m1 56h0m0 93h0m0-84h0m0 52h0m0 17h0m0-61h0m1 8h0m0 139h0m0-209h0m0-3h0m1 22h0m0-25h0m0 101h0m0-98h0m0 42h0m0-70h0m0 41h0m0 26h0m0 27h0m1 41h0m0-82h0m0-19h0m0 89h0m0-15h0m0-67h0m1 41h0m0-47h0m0 25h0m0 80h0m0-37h0m0 117h0m0-165h0m0-3h0m1-28h0m0 26h0m0-29h0m0 25h0m0-4h0m0 29h0m0 42h0m1 106h0m0-167h0m0 33h0m1 42h0m0-53h0m0 16h0m0 29h0m0-92h0m0 32h0m1-5h0m0-36h0m1 62h0m0-104h0m1 102h0m0 73h0m0-46h0m0-36h0m0-50h0m1 31h0m0-5h0m1 53h0m0-46h0m0-17h0m1 0h0m0 97h0m0-45h0m1-102h0m0 49h0m0 44h0m0-132h0m0 86h0m0 24h0m1-84h0m0 148h0m0-33h0m0 0h0m0-67h0m0 16h0m0-11h0m0 41h0m0 17h0m0 12h0m0-32h0m1-16h0m0 4h0m1-1h0m0-16h0m0 79h0m0-60h0m1-40h0m0 66h0m0-27h0m1-40h0m0-49h0m0 118h0m0 16h0m0-82h0m1 54h0m0-29h0m0-16h0m0-12h0m0 0h0m0-7h0m1 57h0m0-81h0m0 43h0m1 7h0m0 18h0m0-12h0m1-15h0m0 12h0m0 67h0m1-53h0m0 6h0m0 36h0m1-76h0m0 26h0m0-12h0m0 8h0m0 11h0m1 32h0m0 46h0m0-118h0m0-14h0m0 62h0m1-33h0m1 72h0m0-7h0m0 47h0m0-95h0m0 2h0m1-32h0m0-12h0m0 68h0m0-45h0m1 46h0m0-9h0m0 62h0m0 12h0m0-74h0m0-29h0m1 15h0m1 125h0m0-176h0m0 114h0m2-111h0m0 30h0m0-66h0m1 84h0m0-12h0m0 57h0m0-78h0m0 24h0m1-4h0m0 91h0m0-39h0m0-67h0m1-40h0m1 27h0m0 266h0m0-224h0m0-28h0m0-8h0m1-7h0m0-25h0m0 94h0m1-22h0m0 5h0m0-62h0m0 5h0m1 66h0m0 76h0m0-147h0m0 47h0m1-47h0m0 49h0m0 10h0m0-89h0m1 3h0m0 75h0m0-32h0m1 34h0m0-9h0m1 58h0m0-13h0m0-39h0m0 27h0m0 93h0m1-164h0m1 58h0m1-26h0m0 68h0m0-72h0m0 56h0m0-82h0m1-14h0m0 50h0m0-7h0m1 3h0m0-42h0m1 78h0m0-78h0m1 8h0m0 19h0m0-14h0m1 30h0m1 38h0m0-63h0m0 41h0m1-38h0m1-9h0m0 62h0m0-9h0m0-59h0m1-18h0m0 65h0m0 16h0m0-9h0m1 11h0m3 9h0m0-5h0m0-23h0m0-4h0m1 9h0m0-23h0m1 34h0m0 35h0m0-59h0m1 34h0m0-55h0m2-68h0m1 180h0m0-105h0m0 63h0m1-88h0m1 157h0m0-96h0m1 4h0m0 15h0m0-11h0m1-29h0m0 30h0m2-17h0m1-4h0m0-34h0m1 12h0m1 92h0m4-87h0m0-13h0m2 62h0m2-33h0m0-43h0m3-18h0m0 13h0m1 64h0m3-52h0m4 79h0m0-69h0m1-36h0m0 53h0m2-12h0m2-32h0m1 38h0m1-31h0m3 8h0m3-20h0m2 82h0m1-48h0m1-6h0m1-1h0m2 35h0m1-40h0m2-40h0m1 71h0m1-28h0m0 30h0m0-7h0m6-32h0m1 23h0m3-39h0m1-3h0m3 22h0m2-20h0m6-4h0m15-13h0m9 11h0m0 65h0m2-51h0m2 49h0m5-31h0m3-43h0m17-25h0m11 14h0m4-27h0m4 39h0m1 5h0m4 7h0m19-56h0m1 47h0m3-13h0m1-14h0m8 51h0m9-35h0m15-3h0m8-63h0m3 43h0m4 18h0m10-16h0m9 35h0m3 29h0m7-63h0m9-6h0m16 20h0m1 30h0" stroke="#2b2b2b" stroke-width="12.2" stroke-linecap="round" fill="none"/>
<polygon points="371.9,1295.9 375.3,1304.3 378.8,1311.2 382.2,1316.2 385.6,1318.1 389.1,1317.9 392.5,1313.3 396.0,1308.9 399.4,1305.0 402.9,1301.0 406.3,1298.7 409.8,1296.5 413.2,1294.3 416.6,1292.4 420.1,1290.5 423.5,1288.7 427.0,1286.8 430.4,1284.9 433.9,1282.9 437.3,1280.9 440.8,1278.9 444.2,1276.9 447.6,1274.9 451.1,1272.8 454.5,1270.9 458.0,1269.0 461.4,1267.0 464.9,1265.1 468.3,1263.2 471.8,1261.2 475.2,1259.3 478.6,1257.5 482.1,1255.8 485.5,1254.2 489.0,1252.7 492.4,1251.3 495.9,1249.9 499.3,1248.5 502.8,1247.2 506.2,1245.9 509.6,1245.2 513.1,1244.6 516.5,1243.9 520.0,1243.3 523.4,1243.2 526.9,1243.3 530.3,1243.4 533.8,1243.5 537.2,1243.5 540.6,1243.4 544.1,1243.3 547.5,1243.1 551.0,1243.0 554.4,1242.8 557.9,1242.2 561.3,1241.2 564.8,1239.5 568.2,1237.7 571.6,1237.4 575.1,1238.2 575.1,1274.2 571.6,1274.1 568.2,1272.9 564.8,1270.2 561.3,1267.7 557.9,1265.7 554.4,1264.2 551.0,1263.1 547.5,1262.2 544.1,1261.8 540.6,1261.6 537.2,1261.4 533.8,1261.3 530.3,1261.2 526.9,1261.1 523.4,1261.1 520.0,1261.2 516.5,1261.9 513.1,1262.6 509.6,1263.4 506.2,1264.3 502.8,1265.7 499.3,1267.2 495.9,1268.6 492.4,1270.0 489.0,1271.3 485.5,1272.6 482.1,1273.7 478.6,1274.9 475.2,1276.1 471.8,1277.3 468.3,1278.5 464.9,1279.6 461.4,1280.8 458.0,1282.0 454.5,1283.2 451.1,1284.5 447.6,1285.9 444.2,1287.3 440.8,1288.7 437.3,1290.1 433.9,1291.6 430.4,1293.1 427.0,1294.6 423.5,1296.2 420.1,1297.7 416.6,1299.4 413.2,1301.1 409.8,1303.2 406.3,1305.4 402.9,1307.7 399.4,1311.8 396.0,1315.9 392.5,1320.7 389.1,1325.8 385.6,1326.7 382.2,1325.7 378.8,1322.1 375.3,1317.3 371.9,1311.9" fill="#999999" fill-opacity="0.4"/>
<polyline points="371.9,1303.9 377.3,1314.8 382.8,1321.7 388.2,1323.0 395.1,1313.5 403.2,1303.9 414.1,1297.1 430.5,1288.9 452.3,1278.0 479.6,1265.7 506.9,1254.8 520.5,1252.1 547.8,1252.7 575.1,1256.2" fill="none" stroke="#1662c4" stroke-width="2.5" stroke-linejoin="round" stroke-linecap="round"/>
</g>
<text class="rd" transform="translate(582.1,1220.0) scale(1,1.06)" text-anchor="end">partial.cor = 0.394</text>
<text class="rd" transform="translate(582.1,1234.9) scale(1,1.06)" text-anchor="end">p = 4.47e-18</text>
<line x1="361.9" x2="361.9" y1="1180.9" y2="1417.9" stroke="#333" stroke-width="1.7"/>
<line x1="585.5" x2="585.5" y1="1180.9" y2="1417.9" stroke="#333" stroke-width="1.7"/>
<line x1="361.9" x2="585.5" y1="1204.7" y2="1204.7" stroke="#262626" stroke-width="1.6"/>
<line x1="361.9" x2="585.5" y1="1417.9" y2="1417.9" stroke="#e6e6e6" stroke-width="1.2"/>
<line x1="371.3" x2="371.3" y1="1417.9" y2="1421.7" stroke="#333" stroke-width="1.6"/>
<text class="ax" x="371.3" y="1434.2" text-anchor="middle">0.0</text>
<line x1="415.9" x2="415.9" y1="1417.9" y2="1421.7" stroke="#333" stroke-width="1.6"/>
<text class="ax" x="415.9" y="1434.2" text-anchor="middle">0.1</text>
<line x1="460.5" x2="460.5" y1="1417.9" y2="1421.7" stroke="#333" stroke-width="1.6"/>
<text class="ax" x="460.5" y="1434.2" text-anchor="middle">0.2</text>
<line x1="505.1" x2="505.1" y1="1417.9" y2="1421.7" stroke="#333" stroke-width="1.6"/>
<text class="ax" x="505.1" y="1434.2" text-anchor="middle">0.3</text>
<line x1="549.8" x2="549.8" y1="1417.9" y2="1421.7" stroke="#333" stroke-width="1.6"/>
<text class="ax" x="549.8" y="1434.2" text-anchor="middle">0.4</text>
<rect x="593.9" y="1180.9" width="223.5" height="23.8" fill="#d9d9d9" stroke="#555" stroke-width="1"/>
<text class="st" transform="translate(705.6,1196.8) scale(1,1.08)" text-anchor="middle">CD8+ T Cell</text>
<g><clipPath id="cp3_2"><rect x="593.9" y="1204.7" width="223.5" height="213.2"/></clipPath></g>
<g clip-path="url(#cp3_2)">
<line x1="632.2" x2="632.2" y1="1204.7" y2="1417.9" stroke="#f2f2f2" stroke-width="0.8"/>
<line x1="688.3" x2="688.3" y1="1204.7" y2="1417.9" stroke="#f2f2f2" stroke-width="0.8"/>
<line x1="744.4" x2="744.4" y1="1204.7" y2="1417.9" stroke="#f2f2f2" stroke-width="0.8"/>
<line x1="800.6" x2="800.6" y1="1204.7" y2="1417.9" stroke="#f2f2f2" stroke-width="0.8"/>
<line x1="593.9" x2="817.4" y1="1392.1" y2="1392.1" stroke="#f2f2f2" stroke-width="0.8"/>
<line x1="593.9" x2="817.4" y1="1306.8" y2="1306.8" stroke="#f2f2f2" stroke-width="0.8"/>
<line x1="593.9" x2="817.4" y1="1221.5" y2="1221.5" stroke="#f2f2f2" stroke-width="0.8"/>
<line x1="604.1" x2="604.1" y1="1204.7" y2="1417.9" stroke="#ebebeb" stroke-width="1.2"/>
<line x1="660.2" x2="660.2" y1="1204.7" y2="1417.9" stroke="#ebebeb" stroke-width="1.2"/>
<line x1="716.4" x2="716.4" y1="1204.7" y2="1417.9" stroke="#ebebeb" stroke-width="1.2"/>
<line x1="772.5" x2="772.5" y1="1204.7" y2="1417.9" stroke="#ebebeb" stroke-width="1.2"/>
<line x1="593.9" x2="817.4" y1="1349.4" y2="1349.4" stroke="#ebebeb" stroke-width="1.2"/>
<line x1="593.9" x2="817.4" y1="1264.1" y2="1264.1" stroke="#ebebeb" stroke-width="1.2"/>
<path transform="scale(0.5)" d="M1210 2688h0m0-18h0m0 31h0m0-25h0m1-10h0m2 35h0m0-21h0m1 66h0m0-79h0m0-39h0m1 47h0m1-38h0m1-3h0m1 8h0m0-24h0m0 57h0m0-37h0m1 33h0m0 130h0m0-74h0m1-60h0m0-28h0m0 84h0m0-102h0m1 75h0m0 44h0m1-13h0m0-104h0m0 17h0m1-1h0m0 6h0m0-18h0m0 182h0m0-111h0m1-41h0m0-11h0m0 118h0m1-131h0m0 15h0m1 2h0m0 15h0m0 40h0m0-58h0m1-11h0m0 98h0m0-125h0m1 67h0m0-91h0m0-1h0m0 66h0m0-9h0m1 9h0m0-38h0m0-21h0m1 45h0m0-77h0m0 82h0m1 24h0m0-44h0m1 102h0m0-108h0m0 40h0m0-56h0m0 42h0m1-30h0m0 153h0m0-210h0m0 169h0m1-60h0m0-10h0m0 6h0m0 14h0m0-46h0m0 41h0m0 148h0m1-173h0m0-13h0m0 100h0m0-16h0m1-109h0m0-46h0m0 155h0m0-65h0m0-13h0m0 33h0m0 45h0m1-15h0m1-48h0m1-44h0m0 32h0m0 14h0m0 40h0m1 0h0m0 1h0m0-82h0m1-25h0m0 79h0m0-24h0m0 3h0m1 34h0m1-34h0m0 21h0m1 64h0m0-77h0m1 69h0m0-82h0m1-18h0m1 11h0m0 6h0m0-3h0m0-80h0m1 55h0m1 16h0m0-49h0m0 117h0m0 48h0m0-100h0m0 12h0m1-88h0m0 23h0m0 109h0m1-24h0m0-34h0m1 4h0m0-40h0m0 58h0m1-40h0m0 26h0m1 13h0m0-60h0m0 86h0m0 15h0m0-33h0m1-4h0m0-77h0m0 17h0m0 14h0m0-14h0m1 13h0m0 7h0m1 122h0m0-34h0m0-92h0m1-28h0m0 14h0m0-45h0m0 133h0m1-103h0m0-8h0m0 50h0m1 24h0m0-10h0m0 74h0m1-70h0m0 17h0m0-80h0m0-45h0m1 130h0m1-72h0m0 94h0m1-95h0m0-16h0m0 40h0m0 20h0m1 20h0m0-61h0m0 101h0m0-68h0m0 65h0m1-87h0m1-23h0m0-20h0m0-18h0m1 67h0m0 51h0m0-2h0m0 92h0m0-202h0m1 60h0m0 2h0m0-57h0m0 20h0m2-9h0m0 4h0m0 80h0m1-26h0m0-60h0m0 46h0m0 8h0m1 15h0m1-105h0m0 50h0m0 71h0m1-63h0m0-13h0m0 56h0m0-30h0m1-7h0m0 25h0m0-31h0m1 56h0m0-73h0m0 41h0m0-61h0m0 214h0m0-227h0m0 70h0m1 77h0m0-49h0m0-49h0m0-12h0m1-37h0m1 47h0m0-10h0m1-46h0m0 217h0m0-207h0m0 118h0m1-95h0m0 90h0m1-32h0m0 95h0m0-91h0m0-56h0m0 32h0m1-35h0m0 31h0m0-25h0m0-29h0m1 111h0m0-55h0m2-7h0m0 22h0m0-34h0m1 9h0m0-46h0m1 43h0m0 58h0m0-175h0m0 81h0m0-1h0m1 97h0m0-46h0m0-12h0m0-6h0m0 83h0m0-168h0m1 51h0m0 72h0m0-58h0m0-2h0m1 53h0m0 4h0m0 82h0m1-107h0m0 43h0m0 64h0m0-127h0m0-61h0m1 21h0m0 40h0m0 12h0m0-67h0m1 53h0m0 70h0m2-69h0m0 57h0m0-78h0m1 95h0m0-109h0m0 82h0m0-72h0m1 2h0m0-38h0m0 121h0m0-50h0m0-28h0m0 18h0m2-57h0m0 130h0m0-56h0m0 10h0m1-65h0m0 36h0m0-58h0m0 1h0m1 79h0m1-89h0m0 45h0m0-59h0m0 25h0m1 78h0m0-9h0m1-14h0m0-28h0m0 1h0m0 9h0m0-7h0m0-9h0m0 123h0m1 35h0m0-135h0m0 18h0m0 37h0m2-80h0m0-35h0m1 48h0m0-60h0m0 59h0m0 60h0m1-7h0m0-54h0m1-14h0m0 86h0m0-43h0m0 49h0m1-134h0m0 60h0m1-5h0m0 20h0m0-68h0m0 113h0m1-4h0m0-71h0m2 55h0m0-29h0m0-30h0m1 88h0m1-36h0m0 23h0m0-24h0m0-106h0m2 64h0m0 8h0m1 76h0m0-85h0m2-59h0m0 53h0m1 44h0m1 2h0m1-2h0m0 40h0m1 0h0m0-48h0m0 58h0m0-9h0m0-82h0m1 71h0m1-88h0m0 47h0m1-15h0m0-8h0m0 41h0m1 1h0m1-52h0m0 135h0m0-65h0m1-93h0m0-1h0m1 103h0m0-96h0m1 179h0m0-62h0m0-44h0m0-3h0m0-52h0m1-11h0m1-29h0m0 166h0m1-94h0m1-42h0m1 32h0m1-51h0m0 30h0m0 22h0m1-30h0m2 146h0m0-139h0m0 51h0m1-68h0m0-49h0m1 32h0m1 38h0m0 70h0m0 4h0m1-161h0m0 94h0m1-26h0m1 59h0m0-76h0m1 4h0m1 46h0m0-21h0m1 21h0m1-57h0m0 10h0m1 76h0m1-41h0m1 0h0m0 46h0m0-22h0m0-39h0m1-87h0m0 47h0m3 106h0m0-19h0m3-66h0m1 78h0m0-44h0m1-22h0m0-42h0m2 49h0m0 65h0m1-29h0m0-43h0m0 47h0m3-28h0m1-23h0m0 86h0m0-25h0m0-10h0m1-15h0m0-53h0m5 100h0m0-90h0m0 16h0m3 48h0m0-67h0m2 33h0m1 16h0m1-66h0m3 63h0m1 32h0m0-4h0m2 38h0m1-56h0m1-46h0m3 10h0m7-11h0m0-19h0m3-7h0m8 75h0m1-49h0m2 7h0m1-27h0m1 19h0m3 19h0m2-12h0m4-25h0m1 100h0m0-107h0m3 33h0m10 6h0m0 24h0m2-25h0m1-2h0m2-18h0m3 9h0m3 10h0m7-16h0m7-55h0m5 71h0m15 23h0m7-22h0m50-27h0m2 3h0m3 16h0m6 14h0m0-19h0m14 8h0m6 22h0" stroke="#2b2b2b" stroke-width="12.2" stroke-linecap="round" fill="none"/>
<polygon points="604.1,1336.4 607.5,1335.1 611.0,1333.5 614.4,1331.0 617.9,1328.1 621.3,1324.9 624.8,1320.6 628.2,1316.3 631.7,1312.0 635.1,1307.9 638.5,1303.7 642.0,1299.6 645.4,1295.6 648.9,1292.5 652.3,1289.4 655.8,1286.3 659.2,1283.4 662.6,1281.7 666.1,1280.0 669.5,1278.3 673.0,1276.5 676.4,1275.0 679.9,1273.8 683.3,1272.6 686.8,1271.2 690.2,1269.8 693.6,1268.3 697.1,1267.2 700.5,1266.1 704.0,1265.0 707.4,1263.9 710.9,1262.7 714.3,1261.6 717.8,1260.4 721.2,1259.3 724.6,1258.3 728.1,1257.3 731.5,1256.3 735.0,1255.2 738.4,1254.0 741.9,1252.7 745.3,1251.3 748.8,1249.9 752.2,1248.7 755.6,1247.6 759.1,1246.7 762.5,1245.9 766.0,1245.2 769.4,1244.4 772.9,1243.5 776.3,1242.3 779.8,1240.7 783.2,1238.4 786.6,1235.2 790.1,1232.0 793.5,1231.4 797.0,1230.9 800.4,1230.4 803.9,1230.0 807.3,1229.5 807.3,1277.5 803.9,1277.6 800.4,1277.7 797.0,1277.8 793.5,1277.9 790.1,1277.9 786.6,1275.4 783.2,1272.7 779.8,1271.0 776.3,1270.1 772.9,1269.7 769.4,1269.7 766.0,1269.8 762.5,1270.0 759.1,1270.1 755.6,1270.1 752.2,1269.9 748.8,1269.5 745.3,1269.3 741.9,1269.1 738.4,1269.0 735.0,1269.0 731.5,1269.0 728.1,1269.2 724.6,1269.3 721.2,1269.6 717.8,1270.1 714.3,1270.7 710.9,1271.3 707.4,1271.9 704.0,1272.5 700.5,1273.1 697.1,1273.7 693.6,1274.4 690.2,1275.4 686.8,1276.5 683.3,1277.6 679.9,1278.8 676.4,1280.0 673.0,1281.5 669.5,1283.3 666.1,1285.0 662.6,1286.7 659.2,1288.4 655.8,1291.3 652.3,1294.4 648.9,1297.5 645.4,1300.6 642.0,1304.6 638.5,1308.7 635.1,1312.9 631.7,1317.0 628.2,1321.3 624.8,1325.6 621.3,1329.9 617.9,1333.1 614.4,1336.0 611.0,1338.5 607.5,1340.2 604.1,1342.4" fill="#999999" fill-opacity="0.4"/>
<polyline points="604.1,1339.4 612.3,1335.3 620.5,1328.5 631.4,1314.8 645.0,1298.5 658.7,1286.2 675.0,1278.0 694.1,1271.2 721.4,1264.4 748.7,1259.7 775.9,1256.2 807.3,1253.5" fill="none" stroke="#1662c4" stroke-width="2.5" stroke-linejoin="round" stroke-linecap="round"/>
</g>
<text class="rd" transform="translate(814.0,1220.0) scale(1,1.06)" text-anchor="end">partial.cor = 0.61</text>
<text class="rd" transform="translate(814.0,1234.9) scale(1,1.06)" text-anchor="end">p = 6.51e-46</text>
<line x1="593.9" x2="593.9" y1="1180.9" y2="1417.9" stroke="#333" stroke-width="1.7"/>
<line x1="817.4" x2="817.4" y1="1180.9" y2="1417.9" stroke="#333" stroke-width="1.7"/>
<line x1="593.9" x2="817.4" y1="1204.7" y2="1204.7" stroke="#262626" stroke-width="1.6"/>
<line x1="593.9" x2="817.4" y1="1417.9" y2="1417.9" stroke="#e6e6e6" stroke-width="1.2"/>
<line x1="604.1" x2="604.1" y1="1417.9" y2="1421.7" stroke="#333" stroke-width="1.6"/>
<text class="ax" x="604.1" y="1434.2" text-anchor="middle">0.0</text>
<line x1="660.2" x2="660.2" y1="1417.9" y2="1421.7" stroke="#333" stroke-width="1.6"/>
<text class="ax" x="660.2" y="1434.2" text-anchor="middle">0.2</text>
<line x1="716.4" x2="716.4" y1="1417.9" y2="1421.7" stroke="#333" stroke-width="1.6"/>
<text class="ax" x="716.4" y="1434.2" text-anchor="middle">0.4</text>
<line x1="772.5" x2="772.5" y1="1417.9" y2="1421.7" stroke="#333" stroke-width="1.6"/>
<text class="ax" x="772.5" y="1434.2" text-anchor="middle">0.6</text>
<rect x="825.8" y="1180.9" width="223.5" height="23.8" fill="#d9d9d9" stroke="#555" stroke-width="1"/>
<text class="st" transform="translate(937.6,1196.8) scale(1,1.08)" text-anchor="middle">CD4+ T Cell</text>
<g><clipPath id="cp3_3"><rect x="825.8" y="1204.7" width="223.5" height="213.2"/></clipPath></g>
<g clip-path="url(#cp3_3)">
<line x1="855.8" x2="855.8" y1="1204.7" y2="1417.9" stroke="#f2f2f2" stroke-width="0.8"/>
<line x1="896.7" x2="896.7" y1="1204.7" y2="1417.9" stroke="#f2f2f2" stroke-width="0.8"/>
<line x1="937.7" x2="937.7" y1="1204.7" y2="1417.9" stroke="#f2f2f2" stroke-width="0.8"/>
<line x1="978.6" x2="978.6" y1="1204.7" y2="1417.9" stroke="#f2f2f2" stroke-width="0.8"/>
<line x1="1019.5" x2="1019.5" y1="1204.7" y2="1417.9" stroke="#f2f2f2" stroke-width="0.8"/>
<line x1="825.8" x2="1049.3" y1="1392.1" y2="1392.1" stroke="#f2f2f2" stroke-width="0.8"/>
<line x1="825.8" x2="1049.3" y1="1306.8" y2="1306.8" stroke="#f2f2f2" stroke-width="0.8"/>
<line x1="825.8" x2="1049.3" y1="1221.5" y2="1221.5" stroke="#f2f2f2" stroke-width="0.8"/>
<line x1="835.4" x2="835.4" y1="1204.7" y2="1417.9" stroke="#ebebeb" stroke-width="1.2"/>
<line x1="876.3" x2="876.3" y1="1204.7" y2="1417.9" stroke="#ebebeb" stroke-width="1.2"/>
<line x1="917.2" x2="917.2" y1="1204.7" y2="1417.9" stroke="#ebebeb" stroke-width="1.2"/>
<line x1="958.1" x2="958.1" y1="1204.7" y2="1417.9" stroke="#ebebeb" stroke-width="1.2"/>
<line x1="999.0" x2="999.0" y1="1204.7" y2="1417.9" stroke="#ebebeb" stroke-width="1.2"/>
<line x1="1039.9" x2="1039.9" y1="1204.7" y2="1417.9" stroke="#ebebeb" stroke-width="1.2"/>
<line x1="825.8" x2="1049.3" y1="1349.4" y2="1349.4" stroke="#ebebeb" stroke-width="1.2"/>
<line x1="825.8" x2="1049.3" y1="1264.1" y2="1264.1" stroke="#ebebeb" stroke-width="1.2"/>
<path transform="scale(0.5)" d="M1674 2671h0m0-27h0m10-19h0m3 4h0m1 24h0m1 4h0m0-2h0m1 25h0m1-30h0m2 60h0m2-104h0m3 73h0m0-32h0m1 128h0m0-134h0m3 175h0m0-92h0m1-12h0m1-65h0m0 2h0m0-23h0m1 115h0m0-115h0m0-29h0m1 80h0m1-56h0m1 2h0m0 44h0m0 22h0m0-2h0m1-52h0m0 15h0m0 22h0m0 23h0m2-43h0m1 133h0m0-119h0m0 9h0m0 5h0m1 9h0m0-101h0m0 21h0m1 67h0m1-63h0m0 21h0m0 139h0m1-107h0m0-20h0m0-13h0m1 112h0m0-136h0m1 108h0m0-132h0m1 47h0m0-27h0m0-36h0m0 163h0m0-26h0m0-11h0m0-19h0m1-41h0m0 45h0m0-61h0m1 37h0m0 33h0m0-44h0m0 47h0m1-30h0m0 113h0m1-105h0m0-19h0m0-26h0m1 0h0m0 34h0m0 58h0m0 4h0m0-38h0m1-53h0m0 44h0m0-54h0m1 76h0m0-149h0m0 115h0m0 15h0m0-40h0m1-31h0m0 13h0m0-55h0m0 28h0m0 39h0m0 29h0m0 7h0m0 30h0m1-50h0m1 53h0m0-48h0m0-30h0m0 32h0m1-76h0m0 145h0m0-58h0m1 7h0m0 20h0m0 82h0m0-100h0m1-49h0m0-7h0m1-10h0m0 54h0m0 66h0m0-109h0m1-16h0m1 4h0m0 41h0m0-7h0m0-12h0m0 33h0m0-44h0m0-36h0m0-21h0m1 51h0m0-42h0m0 104h0m1-125h0m0 88h0m0-1h0m0 108h0m1-147h0m0 58h0m0 96h0m0-137h0m0 98h0m0-103h0m1 55h0m0-9h0m0-39h0m0-11h0m1 52h0m0-96h0m0 87h0m0 15h0m0-81h0m0 93h0m0-115h0m1 58h0m0 2h0m0-8h0m1-2h0m0 45h0m0 12h0m0-2h0m0-2h0m0 16h0m1-115h0m0 37h0m1 18h0m0 56h0m0-10h0m1-7h0m0-25h0m0 10h0m0 16h0m0 45h0m1-120h0m0 45h0m1-26h0m0 118h0m0-196h0m0 89h0m1-60h0m0 109h0m1-44h0m0 173h0m0-180h0m1 45h0m0-67h0m0 10h0m1 32h0m0 77h0m0-134h0m1 122h0m0-154h0m0 270h0m0-206h0m0 25h0m0-2h0m1-15h0m0-101h0m0 157h0m0 8h0m1-51h0m0 5h0m0-26h0m0-15h0m1 34h0m0-97h0m0 62h0m1 35h0m0 52h0m0-30h0m0-35h0m0-31h0m0 12h0m0 180h0m0-130h0m0-18h0m1-46h0m0 21h0m0 20h0m0 34h0m1-43h0m0 3h0m0-45h0m0 99h0m1-23h0m0 74h0m1-125h0m0 8h0m0-7h0m0 22h0m0 39h0m0 10h0m0-27h0m0-28h0m0-49h0m1 75h0m0-149h0m0 82h0m1 57h0m0 5h0m0-70h0m0 68h0m0 16h0m0-85h0m1-9h0m0-42h0m1 70h0m1 35h0m0 133h0m0-115h0m0 31h0m0-162h0m0 209h0m1-127h0m0 70h0m0-5h0m0 4h0m0-48h0m0 6h0m1 17h0m0-17h0m0 32h0m0 3h0m1-54h0m0 15h0m0-69h0m0 51h0m0 48h0m0 121h0m0-111h0m1-71h0m0 87h0m0-25h0m0-64h0m1 62h0m0-23h0m0 60h0m1-65h0m0-17h0m0-18h0m1 31h0m0 19h0m0-2h0m0 23h0m2-74h0m0 86h0m0-118h0m0 113h0m1-36h0m0-6h0m0-33h0m0 26h0m0-21h0m0 15h0m1 32h0m1-27h0m0-90h0m0 120h0m0 73h0m1-101h0m0 40h0m0 17h0m0-109h0m0-31h0m1 136h0m1-116h0m1 76h0m0-25h0m0 17h0m0-82h0m0 31h0m1-102h0m1 331h0m0-199h0m0 97h0m0-207h0m1 179h0m0 60h0m0-68h0m0 23h0m0-98h0m0-7h0m0 7h0m1 57h0m0-23h0m0 23h0m1-33h0m0-54h0m0 62h0m0-22h0m1-2h0m1-33h0m0 36h0m0 22h0m0-10h0m0-23h0m1 30h0m0-15h0m0-20h0m1-15h0m0 92h0m0-39h0m0-14h0m1-20h0m0 85h0m0-102h0m0-23h0m0 55h0m1 108h0m1-100h0m0-8h0m0-12h0m1 17h0m0-19h0m2 11h0m0 144h0m0-127h0m1-87h0m0 98h0m0-48h0m0-53h0m0 40h0m0 55h0m1-3h0m2-64h0m0-16h0m0 9h0m0 18h0m0 28h0m1-20h0m1 0h0m1 59h0m0-49h0m0-16h0m0 8h0m0 81h0m0 7h0m2-152h0m0 95h0m0-99h0m0 93h0m2-26h0m0-5h0m0-69h0m0 109h0m1-56h0m0 59h0m2-10h0m1-7h0m0-17h0m1 8h0m0 28h0m1-15h0m0 18h0m1 55h0m0-17h0m1-109h0m1 2h0m0 121h0m1-99h0m1 59h0m1-69h0m0 12h0m0 35h0m3-6h0m3-17h0m0-16h0m1 34h0m1-56h0m1 103h0m0-75h0m1 11h0m0-16h0m0-39h0m1 13h0m0 5h0m1 3h0m1 47h0m1-19h0m2-35h0m2-4h0m4 165h0m6-140h0m2-68h0m1 70h0m1-41h0m2 65h0m1-19h0m0-55h0m2 180h0m1-12h0m0-126h0m3 196h0m0-152h0m3-41h0m0-39h0m0-6h0m1 37h0m5-69h0m1 56h0m3 19h0m5 24h0m3-54h0m2 29h0m6-41h0m1 6h0m1 24h0m2-9h0m1 5h0m2-9h0m1 42h0m3-33h0m4 9h0m13-47h0m3-5h0m2-16h0m7 64h0m1-61h0m13-15h0m7 33h0m2-13h0m1-27h0m1 39h0m11-26h0m0 57h0m0 5h0m1-20h0m2-17h0m0-22h0m11 26h0m9-36h0m3 17h0m8 20h0m7-42h0m9 1h0m1 18h0m6 2h0m2 7h0m15 39h0m4-53h0m7 25h0" stroke="#2b2b2b" stroke-width="12.2" stroke-linecap="round" fill="none"/>
<polygon points="836.0,1325.3 839.4,1326.7 842.8,1327.6 846.3,1328.0 849.7,1328.1 853.2,1326.9 856.6,1325.6 860.1,1324.2 863.5,1322.6 867.0,1320.7 870.4,1318.8 873.8,1316.8 877.3,1314.7 880.7,1311.6 884.2,1308.5 887.6,1305.4 891.1,1302.1 894.5,1298.3 898.0,1294.4 901.4,1290.5 904.8,1286.8 908.3,1284.1 911.7,1281.3 915.2,1278.6 918.6,1275.8 922.1,1273.1 925.5,1270.7 929.0,1268.2 932.4,1265.7 935.8,1263.3 939.3,1260.8 942.7,1259.1 946.2,1257.5 949.6,1255.9 953.1,1254.3 956.5,1252.8 960.0,1251.3 963.4,1249.8 966.8,1248.3 970.3,1247.4 973.7,1246.4 977.2,1245.5 980.6,1244.5 984.1,1243.5 987.5,1242.5 991.0,1241.8 994.4,1241.2 997.8,1240.6 1001.3,1239.9 1004.7,1239.1 1008.2,1238.2 1011.6,1237.5 1015.1,1236.5 1018.5,1235.1 1022.0,1233.1 1025.4,1230.5 1028.8,1230.0 1032.3,1230.2 1035.7,1230.4 1039.2,1230.7 1039.2,1262.7 1035.7,1262.9 1032.3,1263.1 1028.8,1263.3 1025.4,1262.8 1022.0,1260.2 1018.5,1258.2 1015.1,1256.8 1011.6,1255.8 1008.2,1255.1 1004.7,1254.9 1001.3,1254.9 997.8,1255.0 994.4,1255.2 991.0,1255.4 987.5,1255.9 984.1,1256.7 980.6,1257.6 977.2,1258.6 973.7,1259.5 970.3,1260.4 966.8,1261.4 963.4,1262.7 960.0,1263.9 956.5,1265.2 953.1,1266.4 949.6,1267.6 946.2,1268.7 942.7,1269.9 939.3,1271.1 935.8,1273.1 932.4,1275.0 929.0,1277.0 925.5,1279.0 922.1,1280.9 918.6,1283.1 915.2,1285.5 911.7,1287.9 908.3,1290.3 904.8,1292.7 901.4,1296.1 898.0,1299.8 894.5,1303.5 891.1,1307.3 887.6,1310.4 884.2,1313.5 880.7,1316.6 877.3,1319.7 873.8,1322.0 870.4,1324.1 867.0,1326.3 863.5,1328.5 860.1,1330.5 856.6,1332.5 853.2,1334.6 849.7,1336.9 846.3,1338.4 842.8,1340.2 839.4,1342.6 836.0,1345.3" fill="#999999" fill-opacity="0.4"/>
<polyline points="836.0,1335.3 849.6,1332.6 863.2,1325.8 876.9,1317.6 890.5,1305.3 904.2,1290.3 920.5,1278.0 939.6,1265.7 966.9,1254.8 988.7,1248.8 1007.8,1246.7 1039.2,1246.7" fill="none" stroke="#1662c4" stroke-width="2.5" stroke-linejoin="round" stroke-linecap="round"/>
</g>
<text class="rd" transform="translate(1045.9,1220.0) scale(1,1.06)" text-anchor="end">partial.cor = 0.507</text>
<text class="rd" transform="translate(1045.9,1234.9) scale(1,1.06)" text-anchor="end">p = 1.66e-30</text>
<line x1="825.8" x2="825.8" y1="1180.9" y2="1417.9" stroke="#333" stroke-width="1.7"/>
<line x1="1049.3" x2="1049.3" y1="1180.9" y2="1417.9" stroke="#333" stroke-width="1.7"/>
<line x1="825.8" x2="1049.3" y1="1204.7" y2="1204.7" stroke="#262626" stroke-width="1.6"/>
<line x1="825.8" x2="1049.3" y1="1417.9" y2="1417.9" stroke="#e6e6e6" stroke-width="1.2"/>
<line x1="835.4" x2="835.4" y1="1417.9" y2="1421.7" stroke="#333" stroke-width="1.6"/>
<text class="ax" x="835.4" y="1434.2" text-anchor="middle">0.0</text>
<line x1="876.3" x2="876.3" y1="1417.9" y2="1421.7" stroke="#333" stroke-width="1.6"/>
<text class="ax" x="876.3" y="1434.2" text-anchor="middle">0.1</text>
<line x1="917.2" x2="917.2" y1="1417.9" y2="1421.7" stroke="#333" stroke-width="1.6"/>
<text class="ax" x="917.2" y="1434.2" text-anchor="middle">0.2</text>
<line x1="958.1" x2="958.1" y1="1417.9" y2="1421.7" stroke="#333" stroke-width="1.6"/>
<text class="ax" x="958.1" y="1434.2" text-anchor="middle">0.3</text>
<line x1="999.0" x2="999.0" y1="1417.9" y2="1421.7" stroke="#333" stroke-width="1.6"/>
<text class="ax" x="999.0" y="1434.2" text-anchor="middle">0.4</text>
<line x1="1039.9" x2="1039.9" y1="1417.9" y2="1421.7" stroke="#333" stroke-width="1.6"/>
<text class="ax" x="1039.9" y="1434.2" text-anchor="middle">0.5</text>
<rect x="1057.8" y="1180.9" width="223.5" height="23.8" fill="#d9d9d9" stroke="#555" stroke-width="1"/>
<text class="st" transform="translate(1169.5,1196.8) scale(1,1.08)" text-anchor="middle">Macrophage</text>
<g><clipPath id="cp3_4"><rect x="1057.8" y="1204.7" width="223.5" height="213.2"/></clipPath></g>
<g clip-path="url(#cp3_4)">
<line x1="1092.7" x2="1092.7" y1="1204.7" y2="1417.9" stroke="#f2f2f2" stroke-width="0.8"/>
<line x1="1142.9" x2="1142.9" y1="1204.7" y2="1417.9" stroke="#f2f2f2" stroke-width="0.8"/>
<line x1="1193.1" x2="1193.1" y1="1204.7" y2="1417.9" stroke="#f2f2f2" stroke-width="0.8"/>
<line x1="1243.3" x2="1243.3" y1="1204.7" y2="1417.9" stroke="#f2f2f2" stroke-width="0.8"/>
<line x1="1057.8" x2="1281.3" y1="1392.1" y2="1392.1" stroke="#f2f2f2" stroke-width="0.8"/>
<line x1="1057.8" x2="1281.3" y1="1306.8" y2="1306.8" stroke="#f2f2f2" stroke-width="0.8"/>
<line x1="1057.8" x2="1281.3" y1="1221.5" y2="1221.5" stroke="#f2f2f2" stroke-width="0.8"/>
<line x1="1067.6" x2="1067.6" y1="1204.7" y2="1417.9" stroke="#ebebeb" stroke-width="1.2"/>
<line x1="1117.8" x2="1117.8" y1="1204.7" y2="1417.9" stroke="#ebebeb" stroke-width="1.2"/>
<line x1="1168.0" x2="1168.0" y1="1204.7" y2="1417.9" stroke="#ebebeb" stroke-width="1.2"/>
<line x1="1218.2" x2="1218.2" y1="1204.7" y2="1417.9" stroke="#ebebeb" stroke-width="1.2"/>
<line x1="1268.4" x2="1268.4" y1="1204.7" y2="1417.9" stroke="#ebebeb" stroke-width="1.2"/>
<line x1="1057.8" x2="1281.3" y1="1349.4" y2="1349.4" stroke="#ebebeb" stroke-width="1.2"/>
<line x1="1057.8" x2="1281.3" y1="1264.1" y2="1264.1" stroke="#ebebeb" stroke-width="1.2"/>
<path transform="scale(0.5)" d="M2135 2816h0m0-93h0m0 37h0m0-183h0m0 62h0m0-5h0m0 75h0m0-145h0m0 195h0m0-134h0m0-59h0m0 62h0m0 111h0m0-103h0m0 36h0m0-87h0m0 66h0m0 76h0m0-180h0m0 144h0m0-15h0m0-96h0m0 15h0m0-5h0m0-6h0m0 137h0m0-133h0m0-27h0m0 187h0m0-107h0m0 100h0m0-8h0m0 17h0m0-49h0m0-88h0m0 130h0m0-187h0m0 64h0m0 48h0m0-51h0m0 13h0m0-76h0m0 57h0m0 37h0m0 103h0m0-157h0m0 85h0m0 41h0m0-34h0m0 8h0m0 19h0m0-33h0m0-22h0m0-48h0m0-13h0m0 160h0m0-183h0m0 59h0m0-84h0m0 116h0m0-63h0m0 89h0m0 19h0m0-111h0m0 129h0m0-28h0m0 36h0m0-164h0m0-20h0m0 55h0m0 55h0m0-1h0m0-9h0m0 93h0m0-30h0m0 2h0m0-31h0m0-127h0m0 12h0m0 182h0m0-135h0m0-37h0m0 102h0m0 47h0m0-162h0m0 36h0m0 42h0m0 27h0m0 29h0m0-5h0m0-74h0m0 21h0m0 61h0m0-49h0m3 5h0m1-19h0m0-56h0m0 46h0m2 66h0m0-62h0m1-42h0m0 26h0m0 11h0m1 39h0m0-62h0m1 205h0m1-224h0m0-33h0m0 58h0m1 54h0m0-9h0m0 38h0m0-114h0m0-29h0m1 6h0m0-18h0m0 79h0m1-39h0m0 54h0m0-13h0m0-24h0m1 36h0m0-28h0m0 17h0m1-21h0m0-22h0m1-20h0m0-25h0m0 27h0m1 20h0m0 27h0m0-87h0m0 12h0m0 63h0m1-22h0m0 9h0m0 30h0m0 57h0m0-66h0m0 7h0m1 61h0m0-95h0m0-12h0m0 41h0m1 85h0m0-136h0m1 55h0m0-2h0m0 18h0m1-166h0m0 112h0m0-44h0m0 49h0m1-21h0m0-42h0m0 88h0m1-36h0m0 58h0m0-47h0m1 25h0m0 17h0m1-73h0m0 6h0m0 2h0m1-41h0m0 113h0m0 84h0m1-165h0m0-7h0m1 24h0m0 0h0m0 45h0m2-1h0m0 30h0m0 17h0m1 39h0m1-126h0m1-3h0m0 39h0m0 30h0m1-43h0m0-86h0m0 28h0m1 11h0m0 50h0m1-20h0m0 124h0m0-162h0m1 73h0m0-20h0m1-9h0m0 74h0m1-37h0m0-21h0m1-32h0m0 78h0m0-31h0m0-29h0m1-133h0m0 93h0m1-9h0m0 173h0m0-119h0m0 30h0m0-141h0m0 182h0m1-110h0m0 104h0m0-38h0m0-11h0m1-109h0m0 48h0m2-18h0m1 234h0m0-200h0m0 46h0m0-145h0m1 119h0m0 46h0m0-62h0m0 33h0m1-119h0m1 118h0m0-46h0m0-112h0m0 291h0m1-154h0m0 19h0m0 9h0m1-47h0m0 1h0m0-41h0m0 165h0m0-76h0m0 0h0m1-18h0m0-2h0m1-19h0m0-73h0m0 34h0m0 109h0m1-58h0m0-79h0m0 43h0m1 37h0m0 58h0m0-83h0m0-16h0m0 10h0m0 31h0m1 10h0m0-30h0m0 9h0m0 69h0m0-3h0m1-28h0m1-44h0m1-17h0m0-31h0m1-75h0m0 133h0m1-7h0m0 66h0m0 124h0m0-172h0m1 0h0m0-24h0m1 18h0m0 4h0m0 93h0m0-18h0m0-71h0m1-22h0m1 54h0m0 76h0m1-174h0m0 51h0m0 17h0m0-58h0m1-5h0m0-47h0m0 175h0m0-52h0m1 38h0m0-113h0m0 78h0m1-38h0m0 15h0m1 20h0m1-52h0m1-3h0m0 9h0m3-26h0m1 48h0m0-67h0m0 1h0m1-25h0m1 30h0m0 110h0m0-3h0m1-33h0m0-38h0m1 76h0m0-129h0m0 85h0m1-12h0m0 30h0m1-39h0m0-5h0m0-56h0m1 69h0m2 22h0m0 18h0m0-173h0m1 106h0m1 52h0m1 20h0m1-96h0m1 58h0m0 58h0m0-81h0m0-8h0m1 12h0m0-24h0m1 70h0m0-44h0m2 30h0m1 19h0m0 6h0m1-32h0m0 18h0m1 1h0m1-111h0m0 25h0m1 46h0m0-19h0m1 50h0m0-6h0m0 14h0m0-71h0m0 21h0m0-17h0m1 1h0m1-9h0m0 15h0m0 0h0m0 37h0m1-38h0m1 30h0m1-52h0m0 27h0m1 47h0m0 2h0m1-20h0m0-101h0m1 187h0m0-16h0m0-97h0m0-63h0m2 90h0m2-97h0m0 71h0m1 50h0m1 2h0m0-10h0m0-39h0m1 14h0m0-48h0m2 40h0m1-20h0m0-23h0m0 99h0m1-63h0m1 7h0m1 9h0m2-7h0m1 33h0m0-2h0m0-48h0m0 95h0m2-114h0m0-8h0m1 56h0m0-64h0m1 54h0m2-12h0m3 16h0m0-73h0m2 109h0m0-48h0m2-29h0m0 39h0m1 68h0m0-116h0m0 85h0m1 104h0m2-165h0m7 73h0m0-26h0m0-23h0m1-3h0m1 14h0m1-66h0m0 70h0m0 18h0m3 173h0m0-263h0m1 112h0m1-78h0m1-20h0m1 32h0m0 17h0m1-44h0m0 105h0m1-21h0m5-75h0m1 24h0m0-21h0m0 19h0m5 5h0m1-27h0m0 14h0m0-62h0m1 95h0m3 55h0m5-47h0m8-27h0m1-36h0m3-17h0m3 0h0m1 47h0m2-19h0m3-3h0m4 3h0m1 119h0m7-88h0m6-19h0m2-9h0m1-13h0m3-52h0m6 62h0m5 25h0m1-52h0m3 91h0m3-4h0m1-82h0m4 3h0m1 36h0m10-19h0m2-43h0m3 20h0m17 2h0m16 10h0m0 11h0m7-7h0m3 29h0m4-42h0m1-17h0m2 67h0m2-50h0m1 12h0m6-49h0m3 67h0m15-13h0m6 13h0m0 29h0m7-59h0m2 25h0m5 48h0m8-31h0m7 24h0" stroke="#2b2b2b" stroke-width="12.2" stroke-linecap="round" fill="none"/>
<polygon points="1067.7,1321.8 1071.2,1310.8 1074.6,1303.4 1078.1,1297.7 1081.5,1295.0 1085.0,1292.2 1088.4,1290.7 1091.8,1289.3 1095.3,1287.9 1098.7,1286.5 1102.2,1285.2 1105.6,1284.0 1109.1,1282.7 1112.5,1281.4 1116.0,1280.0 1119.4,1278.9 1122.8,1278.1 1126.3,1277.3 1129.7,1276.5 1133.2,1275.6 1136.6,1274.8 1140.1,1273.9 1143.5,1273.1 1147.0,1272.3 1150.4,1271.7 1153.8,1271.1 1157.3,1270.5 1160.7,1269.9 1164.2,1269.2 1167.6,1268.6 1171.1,1268.0 1174.5,1267.4 1178.0,1266.8 1181.4,1266.3 1184.8,1265.8 1188.3,1265.2 1191.7,1264.7 1195.2,1264.2 1198.6,1263.6 1202.1,1263.2 1205.5,1262.9 1209.0,1262.6 1212.4,1262.3 1215.8,1262.1 1219.3,1262.0 1222.7,1261.8 1226.2,1261.5 1229.6,1261.3 1233.1,1261.0 1236.5,1260.6 1240.0,1259.9 1243.4,1258.9 1246.8,1257.6 1250.3,1255.6 1253.7,1252.7 1257.2,1248.7 1260.6,1246.6 1264.1,1246.7 1267.5,1246.7 1271.0,1246.7 1271.0,1296.7 1267.5,1296.6 1264.1,1296.4 1260.6,1296.2 1257.2,1293.9 1253.7,1289.6 1250.3,1286.6 1246.8,1284.5 1243.4,1283.0 1240.0,1281.9 1236.5,1281.1 1233.1,1280.5 1229.6,1280.1 1226.2,1279.9 1222.7,1279.9 1219.3,1280.0 1215.8,1280.1 1212.4,1280.2 1209.0,1280.2 1205.5,1280.2 1202.1,1280.1 1198.6,1280.1 1195.2,1280.1 1191.7,1280.1 1188.3,1280.1 1184.8,1280.2 1181.4,1280.2 1178.0,1280.2 1174.5,1280.2 1171.1,1280.2 1167.6,1280.3 1164.2,1280.3 1160.7,1280.4 1157.3,1280.4 1153.8,1280.5 1150.4,1280.6 1147.0,1280.7 1143.5,1281.0 1140.1,1281.5 1136.6,1282.1 1133.2,1282.6 1129.7,1283.1 1126.3,1283.7 1122.8,1284.3 1119.4,1284.8 1116.0,1285.8 1112.5,1286.9 1109.1,1288.1 1105.6,1289.2 1102.2,1290.4 1098.7,1291.6 1095.3,1293.0 1091.8,1294.3 1088.4,1295.7 1085.0,1297.4 1081.5,1300.4 1078.1,1303.4 1074.6,1309.6 1071.2,1317.7 1067.7,1329.8" fill="#999999" fill-opacity="0.4"/>
<polyline points="1067.7,1325.8 1071.8,1312.1 1077.3,1301.2 1085.5,1294.4 1099.1,1288.9 1118.2,1282.1 1145.5,1276.7 1172.8,1273.9 1200.0,1271.7 1227.3,1270.7 1254.6,1271.2 1271.0,1271.7" fill="none" stroke="#1662c4" stroke-width="2.5" stroke-linejoin="round" stroke-linecap="round"/>
</g>
<text class="rd" transform="translate(1277.9,1220.0) scale(1,1.06)" text-anchor="end">partial.cor = 0.545</text>
<text class="rd" transform="translate(1277.9,1234.9) scale(1,1.06)" text-anchor="end">p = 1.82e-36</text>
<line x1="1057.8" x2="1057.8" y1="1180.9" y2="1417.9" stroke="#333" stroke-width="1.7"/>
<line x1="1281.3" x2="1281.3" y1="1180.9" y2="1417.9" stroke="#333" stroke-width="1.7"/>
<line x1="1057.8" x2="1281.3" y1="1204.7" y2="1204.7" stroke="#262626" stroke-width="1.6"/>
<line x1="1057.8" x2="1281.3" y1="1417.9" y2="1417.9" stroke="#e6e6e6" stroke-width="1.2"/>
<line x1="1067.6" x2="1067.6" y1="1417.9" y2="1421.7" stroke="#333" stroke-width="1.6"/>
<text class="ax" x="1067.6" y="1434.2" text-anchor="middle">0.0</text>
<line x1="1117.8" x2="1117.8" y1="1417.9" y2="1421.7" stroke="#333" stroke-width="1.6"/>
<text class="ax" x="1117.8" y="1434.2" text-anchor="middle">0.1</text>
<line x1="1168.0" x2="1168.0" y1="1417.9" y2="1421.7" stroke="#333" stroke-width="1.6"/>
<text class="ax" x="1168.0" y="1434.2" text-anchor="middle">0.2</text>
<line x1="1218.2" x2="1218.2" y1="1417.9" y2="1421.7" stroke="#333" stroke-width="1.6"/>
<text class="ax" x="1218.2" y="1434.2" text-anchor="middle">0.3</text>
<line x1="1268.4" x2="1268.4" y1="1417.9" y2="1421.7" stroke="#333" stroke-width="1.6"/>
<text class="ax" x="1268.4" y="1434.2" text-anchor="middle">0.4</text>
<rect x="1289.8" y="1180.9" width="223.5" height="23.8" fill="#d9d9d9" stroke="#555" stroke-width="1"/>
<text class="st" transform="translate(1401.5,1196.8) scale(1,1.08)" text-anchor="middle">Neutrophil</text>
<g><clipPath id="cp3_5"><rect x="1289.8" y="1204.7" width="223.5" height="213.2"/></clipPath></g>
<g clip-path="url(#cp3_5)">
<line x1="1328.3" x2="1328.3" y1="1204.7" y2="1417.9" stroke="#f2f2f2" stroke-width="0.8"/>
<line x1="1385.6" x2="1385.6" y1="1204.7" y2="1417.9" stroke="#f2f2f2" stroke-width="0.8"/>
<line x1="1442.9" x2="1442.9" y1="1204.7" y2="1417.9" stroke="#f2f2f2" stroke-width="0.8"/>
<line x1="1500.1" x2="1500.1" y1="1204.7" y2="1417.9" stroke="#f2f2f2" stroke-width="0.8"/>
<line x1="1289.8" x2="1513.2" y1="1392.1" y2="1392.1" stroke="#f2f2f2" stroke-width="0.8"/>
<line x1="1289.8" x2="1513.2" y1="1306.8" y2="1306.8" stroke="#f2f2f2" stroke-width="0.8"/>
<line x1="1289.8" x2="1513.2" y1="1221.5" y2="1221.5" stroke="#f2f2f2" stroke-width="0.8"/>
<line x1="1299.7" x2="1299.7" y1="1204.7" y2="1417.9" stroke="#ebebeb" stroke-width="1.2"/>
<line x1="1357.0" x2="1357.0" y1="1204.7" y2="1417.9" stroke="#ebebeb" stroke-width="1.2"/>
<line x1="1414.2" x2="1414.2" y1="1204.7" y2="1417.9" stroke="#ebebeb" stroke-width="1.2"/>
<line x1="1471.5" x2="1471.5" y1="1204.7" y2="1417.9" stroke="#ebebeb" stroke-width="1.2"/>
<line x1="1289.8" x2="1513.2" y1="1349.4" y2="1349.4" stroke="#ebebeb" stroke-width="1.2"/>
<line x1="1289.8" x2="1513.2" y1="1264.1" y2="1264.1" stroke="#ebebeb" stroke-width="1.2"/>
<path transform="scale(0.5)" d="M2604 2664h0m2 116h0m1 36h0m1-106h0m7-54h0m8 20h0m1 44h0m0-4h0m2-29h0m0 4h0m1-23h0m2-6h0m1 41h0m1-3h0m1-36h0m0 21h0m1 23h0m1-21h0m2-16h0m0-8h0m0 25h0m1 11h0m1-52h0m0 37h0m0 21h0m1 46h0m1-41h0m0-40h0m1-26h0m0 39h0m1 51h0m3-72h0m0 24h0m1-44h0m0-23h0m3 44h0m0 25h0m0-28h0m0 11h0m1 7h0m1 41h0m0-42h0m3-4h0m0-2h0m0 8h0m0 19h0m1 18h0m0-80h0m1 50h0m0-37h0m0 45h0m1-58h0m0-6h0m0 81h0m1-38h0m0-20h0m0 9h0m1-15h0m1-15h0m1 77h0m0-15h0m0-75h0m1 48h0m0-30h0m1 16h0m0-29h0m1 18h0m1 47h0m1 26h0m0-2h0m1-7h0m0-30h0m1-74h0m1 91h0m1 62h0m0-93h0m2 0h0m0 32h0m0-11h0m0-9h0m0-67h0m0 81h0m1-73h0m0 31h0m0 111h0m0-77h0m1-4h0m0-49h0m1-20h0m0 82h0m0-46h0m0-34h0m0 22h0m1 49h0m0-79h0m0-23h0m1 79h0m0-72h0m0 39h0m1 24h0m0-19h0m0-13h0m0 144h0m0-168h0m1 14h0m0-8h0m0-3h0m0 79h0m1-24h0m1-1h0m0 2h0m0-46h0m0-42h0m0 99h0m0 3h0m1-70h0m0 133h0m0-57h0m0-8h0m1-26h0m0-63h0m1 45h0m0-66h0m0 124h0m0-49h0m0 17h0m0-38h0m0 32h0m1 57h0m0-65h0m0 5h0m0 12h0m0-2h0m1 84h0m0-32h0m0-65h0m0 30h0m0 95h0m0-125h0m0-37h0m1 90h0m0-83h0m0 58h0m0 17h0m1-84h0m0 34h0m0 67h0m1-59h0m0 7h0m0 25h0m0-25h0m0-11h0m1 13h0m1-23h0m0 7h0m0 21h0m1-48h0m1-31h0m1 18h0m0 2h0m1 45h0m0-39h0m1 52h0m0-82h0m0 15h0m1 86h0m0-23h0m0 47h0m0-106h0m0 37h0m1-3h0m1-38h0m0-10h0m1-4h0m0 46h0m0-13h0m0 21h0m0 80h0m0-152h0m1 82h0m0-56h0m1-29h0m0 69h0m0-18h0m0 60h0m0 63h0m0-63h0m0-60h0m1 45h0m0 7h0m0-2h0m1-28h0m0 13h0m0 116h0m0-140h0m0 16h0m1 7h0m0 1h0m0 145h0m1-165h0m0-16h0m0 1h0m0 14h0m1 2h0m0 40h0m0-103h0m0 38h0m1 0h0m0 5h0m0 15h0m0-47h0m1 0h0m0-48h0m0 142h0m1-65h0m0-7h0m0-4h0m1 42h0m0-1h0m0 19h0m0-64h0m1 14h0m0 36h0m0-23h0m0-5h0m1 33h0m0-41h0m0 52h0m0-11h0m1-28h0m0 9h0m1-20h0m0-17h0m1-45h0m1 49h0m0 20h0m0 2h0m0 21h0m0 21h0m1-117h0m1 69h0m1-28h0m0 69h0m0-57h0m0 54h0m1-44h0m0 19h0m0-33h0m0 14h0m1-28h0m0 25h0m0-40h0m0 88h0m0-19h0m1-83h0m0 77h0m1 6h0m1-8h0m0-11h0m1 6h0m0 33h0m0-30h0m0 23h0m0 61h0m0-94h0m1-44h0m0 28h0m1 42h0m0-58h0m0 62h0m1-10h0m0-73h0m1 26h0m2 2h0m0 1h0m0-46h0m1 39h0m0 40h0m0 21h0m0-22h0m1-35h0m0 15h0m1 17h0m0-111h0m0 141h0m0-37h0m1-38h0m1 38h0m0-47h0m0-75h0m0 139h0m0-18h0m0 9h0m1-8h0m0-19h0m0 29h0m1-1h0m0 10h0m0-16h0m1 1h0m1 24h0m0-1h0m0-69h0m0-7h0m1 35h0m0 2h0m0-18h0m1 50h0m0-48h0m1 41h0m0 27h0m1-89h0m0 34h0m0 16h0m0-24h0m1-20h0m0-8h0m0 92h0m0-125h0m1 42h0m1 79h0m1-70h0m0 66h0m0 73h0m0-85h0m0-31h0m0-60h0m0 94h0m0-17h0m1-53h0m0-31h0m2 15h0m0 35h0m0 8h0m0 117h0m1-50h0m0-84h0m1 109h0m0-98h0m1-44h0m1 10h0m0 29h0m1-5h0m0-17h0m0-3h0m1 21h0m0 6h0m0 10h0m2 31h0m0-52h0m0 22h0m1-115h0m0 123h0m0-37h0m1 47h0m0-19h0m0 40h0m1-66h0m1 65h0m0-77h0m1 117h0m1-61h0m0-53h0m1 135h0m1-183h0m0 86h0m1 58h0m0-14h0m0 27h0m0-42h0m1-23h0m0-81h0m1 43h0m0-11h0m1 38h0m1-31h0m0 34h0m0-25h0m0-24h0m1 79h0m0 5h0m1-85h0m1-1h0m1 42h0m0-13h0m1 27h0m0 10h0m1-43h0m0 15h0m0-14h0m1 23h0m1-3h0m2-15h0m1 3h0m2-3h0m0 19h0m0-11h0m1-2h0m0 50h0m0-72h0m2 26h0m1-31h0m0 17h0m0-1h0m1 3h0m2 28h0m1-40h0m1-15h0m4 42h0m0 40h0m1-46h0m3-32h0m1 20h0m0 1h0m1 37h0m3-73h0m0-19h0m1 71h0m0-33h0m1-4h0m1-30h0m1 42h0m0-5h0m2 23h0m2-14h0m3-17h0m1 22h0m2 41h0m2-43h0m1-13h0m2-17h0m6 9h0m5 38h0m3 77h0m1-54h0m2-35h0m5-48h0m5 21h0m0 13h0m2-21h0m9-15h0m1 36h0m4 4h0m2-31h0m1 7h0m8 70h0m3-95h0m3 23h0m3-63h0m14 67h0m8-14h0m1-43h0m8 24h0m1 42h0m9-8h0m9-41h0m0 43h0m8-44h0m7-18h0m11 10h0m3 41h0m4-6h0m4 10h0m1-27h0m2-4h0m1 1h0m2 14h0m0 7h0m5-21h0m3-7h0m11-9h0" stroke="#2b2b2b" stroke-width="12.2" stroke-linecap="round" fill="none"/>
<polygon points="1300.4,1342.5 1303.8,1343.0 1307.3,1343.3 1310.7,1342.7 1314.1,1340.9 1317.6,1338.5 1321.0,1335.7 1324.4,1332.7 1327.9,1329.3 1331.3,1325.9 1334.7,1322.4 1338.1,1318.8 1341.6,1315.2 1345.0,1311.5 1348.4,1307.8 1351.9,1304.7 1355.3,1302.0 1358.7,1299.3 1362.2,1296.5 1365.6,1293.8 1369.0,1291.0 1372.5,1288.3 1375.9,1285.5 1379.3,1283.3 1382.7,1281.5 1386.2,1279.7 1389.6,1277.9 1393.0,1276.0 1396.5,1274.2 1399.9,1272.3 1403.3,1270.4 1406.8,1268.7 1410.2,1267.1 1413.6,1265.5 1417.1,1263.9 1420.5,1262.3 1423.9,1260.7 1427.3,1259.1 1430.8,1257.5 1434.2,1256.1 1437.6,1254.7 1441.1,1253.4 1444.5,1252.1 1447.9,1250.8 1451.4,1249.6 1454.8,1248.4 1458.2,1247.2 1461.6,1246.2 1465.1,1245.3 1468.5,1244.4 1471.9,1243.5 1475.4,1242.5 1478.8,1241.6 1482.2,1240.5 1485.7,1239.3 1489.1,1238.1 1492.5,1236.7 1496.0,1235.1 1499.4,1233.0 1502.8,1231.2 1502.8,1251.2 1499.4,1251.1 1496.0,1250.7 1492.5,1250.8 1489.1,1251.1 1485.7,1251.7 1482.2,1252.6 1478.8,1253.6 1475.4,1254.7 1471.9,1255.8 1468.5,1256.9 1465.1,1258.1 1461.6,1259.2 1458.2,1260.4 1454.8,1261.6 1451.4,1262.8 1447.9,1264.0 1444.5,1265.1 1441.1,1266.2 1437.6,1267.3 1434.2,1268.3 1430.8,1269.4 1427.3,1270.6 1423.9,1271.7 1420.5,1272.9 1417.1,1274.0 1413.6,1275.2 1410.2,1276.3 1406.8,1277.4 1403.3,1278.7 1399.9,1280.3 1396.5,1281.8 1393.0,1283.4 1389.6,1285.0 1386.2,1286.6 1382.7,1288.2 1379.3,1289.9 1375.9,1292.0 1372.5,1294.7 1369.0,1297.4 1365.6,1300.1 1362.2,1302.9 1358.7,1305.6 1355.3,1308.4 1351.9,1311.2 1348.4,1314.5 1345.0,1318.4 1341.6,1322.3 1338.1,1326.2 1334.7,1330.2 1331.3,1334.2 1327.9,1338.3 1324.4,1342.5 1321.0,1346.6 1317.6,1350.8 1314.1,1355.2 1310.7,1359.6 1307.3,1363.9 1303.8,1369.0 1300.4,1374.5" fill="#999999" fill-opacity="0.4"/>
<polyline points="1300.4,1358.5 1311.9,1350.3 1322.8,1339.4 1336.4,1324.4 1350.1,1309.4 1363.7,1298.5 1377.3,1287.6 1404.6,1273.9 1431.9,1263.0 1459.2,1253.5 1486.4,1245.3 1502.8,1241.2" fill="none" stroke="#1662c4" stroke-width="2.5" stroke-linejoin="round" stroke-linecap="round"/>
</g>
<text class="rd" transform="translate(1509.8,1220.0) scale(1,1.06)" text-anchor="end">partial.cor = 0.671</text>
<text class="rd" transform="translate(1509.8,1234.9) scale(1,1.06)" text-anchor="end">p = 1.88e-60</text>
<line x1="1289.8" x2="1289.8" y1="1180.9" y2="1417.9" stroke="#333" stroke-width="1.7"/>
<line x1="1513.2" x2="1513.2" y1="1180.9" y2="1417.9" stroke="#333" stroke-width="1.7"/>
<line x1="1289.8" x2="1513.2" y1="1204.7" y2="1204.7" stroke="#262626" stroke-width="1.6"/>
<line x1="1289.8" x2="1513.2" y1="1417.9" y2="1417.9" stroke="#e6e6e6" stroke-width="1.2"/>
<line x1="1299.7" x2="1299.7" y1="1417.9" y2="1421.7" stroke="#333" stroke-width="1.6"/>
<text class="ax" x="1299.7" y="1434.2" text-anchor="middle">0.0</text>
<line x1="1357.0" x2="1357.0" y1="1417.9" y2="1421.7" stroke="#333" stroke-width="1.6"/>
<text class="ax" x="1357.0" y="1434.2" text-anchor="middle">0.1</text>
<line x1="1414.2" x2="1414.2" y1="1417.9" y2="1421.7" stroke="#333" stroke-width="1.6"/>
<text class="ax" x="1414.2" y="1434.2" text-anchor="middle">0.2</text>
<line x1="1471.5" x2="1471.5" y1="1417.9" y2="1421.7" stroke="#333" stroke-width="1.6"/>
<text class="ax" x="1471.5" y="1434.2" text-anchor="middle">0.3</text>
<rect x="1521.7" y="1180.9" width="223.5" height="23.8" fill="#d9d9d9" stroke="#555" stroke-width="1"/>
<text class="st" transform="translate(1633.4,1196.8) scale(1,1.08)" text-anchor="middle">Dendritic Cell</text>
<g><clipPath id="cp3_6"><rect x="1521.7" y="1204.7" width="223.5" height="213.2"/></clipPath></g>
<g clip-path="url(#cp3_6)">
<line x1="1567.9" x2="1567.9" y1="1204.7" y2="1417.9" stroke="#f2f2f2" stroke-width="0.8"/>
<line x1="1616.6" x2="1616.6" y1="1204.7" y2="1417.9" stroke="#f2f2f2" stroke-width="0.8"/>
<line x1="1665.3" x2="1665.3" y1="1204.7" y2="1417.9" stroke="#f2f2f2" stroke-width="0.8"/>
<line x1="1714.0" x2="1714.0" y1="1204.7" y2="1417.9" stroke="#f2f2f2" stroke-width="0.8"/>
<line x1="1521.7" x2="1745.2" y1="1392.1" y2="1392.1" stroke="#f2f2f2" stroke-width="0.8"/>
<line x1="1521.7" x2="1745.2" y1="1306.8" y2="1306.8" stroke="#f2f2f2" stroke-width="0.8"/>
<line x1="1521.7" x2="1745.2" y1="1221.5" y2="1221.5" stroke="#f2f2f2" stroke-width="0.8"/>
<line x1="1543.6" x2="1543.6" y1="1204.7" y2="1417.9" stroke="#ebebeb" stroke-width="1.2"/>
<line x1="1592.3" x2="1592.3" y1="1204.7" y2="1417.9" stroke="#ebebeb" stroke-width="1.2"/>
<line x1="1641.0" x2="1641.0" y1="1204.7" y2="1417.9" stroke="#ebebeb" stroke-width="1.2"/>
<line x1="1689.7" x2="1689.7" y1="1204.7" y2="1417.9" stroke="#ebebeb" stroke-width="1.2"/>
<line x1="1738.4" x2="1738.4" y1="1204.7" y2="1417.9" stroke="#ebebeb" stroke-width="1.2"/>
<line x1="1521.7" x2="1745.2" y1="1349.4" y2="1349.4" stroke="#ebebeb" stroke-width="1.2"/>
<line x1="1521.7" x2="1745.2" y1="1264.1" y2="1264.1" stroke="#ebebeb" stroke-width="1.2"/>
<path transform="scale(0.5)" d="M3068 2691h0m2-35h0m2-16h0m0 68h0m2 60h0m0 43h0m1-99h0m0 15h0m1-26h0m0-54h0m0 34h0m0 30h0m1-48h0m0 0h0m1 37h0m0-13h0m1-17h0m1 45h0m0-14h0m0-31h0m1-26h0m0 42h0m1-32h0m1 51h0m0 69h0m0-76h0m0 37h0m1-49h0m0-43h0m0 4h0m0-8h0m1 63h0m0-23h0m0 19h0m0 19h0m0-35h0m1 29h0m1-24h0m0 47h0m0-51h0m0 27h0m0-47h0m0 59h0m0-36h0m0-20h0m1 57h0m0 4h0m0-59h0m1-48h0m0 67h0m0 9h0m1 15h0m0-68h0m0 49h0m0 71h0m0-87h0m1 72h0m1-144h0m0 94h0m0-41h0m1 70h0m0 3h0m0-120h0m0 30h0m0-7h0m0 49h0m1 10h0m0-7h0m0-17h0m1 19h0m0-63h0m0 97h0m0-2h0m1-55h0m0 25h0m0 54h0m0-44h0m0-44h0m0 10h0m1 14h0m0 15h0m0-7h0m1 5h0m0 55h0m2-115h0m0 88h0m0-67h0m0 21h0m0 4h0m1-41h0m0 76h0m0-44h0m0 50h0m0-108h0m1-24h0m0 140h0m0-8h0m1-28h0m0-16h0m1-27h0m0 73h0m0-85h0m0 37h0m1-9h0m0-26h0m0-6h0m0 46h0m1 10h0m0-16h0m1 27h0m0-78h0m0-11h0m0 46h0m1-21h0m0 50h0m0-72h0m0 0h0m1 114h0m0-48h0m0 11h0m0-41h0m0 74h0m0-22h0m0-60h0m0-15h0m1 22h0m0 0h0m0 16h0m0-99h0m0 55h0m1 50h0m0 81h0m0-103h0m0 7h0m1-78h0m0 96h0m1 11h0m1-9h0m0-42h0m0 4h0m0-31h0m1 49h0m0 6h0m0 7h0m0-39h0m0 21h0m0 33h0m0-57h0m1 28h0m0 11h0m0-72h0m0 24h0m1 26h0m0-5h0m1 4h0m0-44h0m0 62h0m0 55h0m0-34h0m0 8h0m2-91h0m0 107h0m0-62h0m0 27h0m1-24h0m0 26h0m1 10h0m1 94h0m0-110h0m1-50h0m0 57h0m0-50h0m0 46h0m1-141h0m0 50h0m0 52h0m0-9h0m1-14h0m0 92h0m0-81h0m0 70h0m1-77h0m0 50h0m0-51h0m0 58h0m1-60h0m0 44h0m0-29h0m0 32h0m1-18h0m0-39h0m0 23h0m0-2h0m1 42h0m1-2h0m0 15h0m0-105h0m0 15h0m1 26h0m0 105h0m0-124h0m0 87h0m2-11h0m0-87h0m1 29h0m0-9h0m0-35h0m0 122h0m0-63h0m1-7h0m0 66h0m1-53h0m0-2h0m0-10h0m0 48h0m0-29h0m0-12h0m1-29h0m0-50h0m0 63h0m0 13h0m1-16h0m0 95h0m1-137h0m0 12h0m1 5h0m0 22h0m0 13h0m0 33h0m1-43h0m0 71h0m0-80h0m0 128h0m1-120h0m0-3h0m0 39h0m1-73h0m0 65h0m0-34h0m0-10h0m0 15h0m1 40h0m0-63h0m0 5h0m1 64h0m0-29h0m0 96h0m0-94h0m0 26h0m1-2h0m1-41h0m0 60h0m1-19h0m0 35h0m0 28h0m0-122h0m0 54h0m1-68h0m0 68h0m0 16h0m1-55h0m1 27h0m0-33h0m0 43h0m0-25h0m1 88h0m2-64h0m1-66h0m0 29h0m0-99h0m1-8h0m0 134h0m0 187h0m1-221h0m0 104h0m1-95h0m0 14h0m0 3h0m0 33h0m1-54h0m0-21h0m1 26h0m0-44h0m0-12h0m0 86h0m0-17h0m1-47h0m0 31h0m0-14h0m0 63h0m0-93h0m1 89h0m0-76h0m0-17h0m2 7h0m0 12h0m1 89h0m1-54h0m1-45h0m0 80h0m0-99h0m1 20h0m0-3h0m0-13h0m1 128h0m0-104h0m1-7h0m0-17h0m0 76h0m0-27h0m1-20h0m1 30h0m0-19h0m0 9h0m1-21h0m0-41h0m1 34h0m0 35h0m0-30h0m0 12h0m0 30h0m0 59h0m0-88h0m1-31h0m0 74h0m1-29h0m0-2h0m0-25h0m0-1h0m1-14h0m0 27h0m0 22h0m1-36h0m0 52h0m0-72h0m1 55h0m1-10h0m0 2h0m0 14h0m2-24h0m1-64h0m1 51h0m0 88h0m1-89h0m0 42h0m0-10h0m0-22h0m1-57h0m0 213h0m0-174h0m1-11h0m1 45h0m1-16h0m1 165h0m0-178h0m0-35h0m1-15h0m1 43h0m0-14h0m0 19h0m4-38h0m0 43h0m1-2h0m0-59h0m1 56h0m1-1h0m1 56h0m0-66h0m3 81h0m0-86h0m0 18h0m1 2h0m2 19h0m0-21h0m2 69h0m0-87h0m1-30h0m1 121h0m0-77h0m0-13h0m1 12h0m0-21h0m1 40h0m1-75h0m0 55h0m1 20h0m5-3h0m0 74h0m0-137h0m0 37h0m0 0h0m2-1h0m0 16h0m3-11h0m0 16h0m1-32h0m0 71h0m4-53h0m4 30h0m0-63h0m1 38h0m0-30h0m1-7h0m0 21h0m7 94h0m2-96h0m2-24h0m1 94h0m1-71h0m0-29h0m1 29h0m1 13h0m2-18h0m4 7h0m0 1h0m1-22h0m6 24h0m0-6h0m1 13h0m2-56h0m1 70h0m8-62h0m0 45h0m1-68h0m1 78h0m1-17h0m8-1h0m4-49h0m0-19h0m1 74h0m1-6h0m4-29h0m2 15h0m5-27h0m0-11h0m2 44h0m2 23h0m2-46h0m4 9h0m8 31h0m16-41h0m2 7h0m8-13h0m1-17h0m11 25h0m0 1h0m1 8h0m2-6h0m2-21h0m0 9h0m2 30h0m3-3h0m6-18h0m7-19h0m0 38h0m4-16h0m1-14h0m6-7h0m5-3h0m2 0h0m6-3h0m0 3h0m7-8h0m3 18h0m9 5h0m0-13h0m8 44h0m2-72h0m5 44h0m3-34h0m12 24h0" stroke="#2b2b2b" stroke-width="12.2" stroke-linecap="round" fill="none"/>
<polygon points="1531.5,1350.7 1535.0,1347.1 1538.4,1343.8 1541.9,1340.0 1545.3,1336.1 1548.8,1332.4 1552.3,1328.7 1555.7,1324.8 1559.2,1321.0 1562.6,1317.7 1566.1,1314.3 1569.5,1310.9 1573.0,1307.5 1576.5,1304.2 1579.9,1301.1 1583.4,1298.0 1586.8,1294.8 1590.3,1292.0 1593.8,1289.5 1597.2,1286.9 1600.7,1284.3 1604.1,1281.8 1607.6,1279.2 1611.0,1277.0 1614.5,1274.8 1618.0,1272.6 1621.4,1270.4 1624.9,1268.9 1628.3,1267.4 1631.8,1265.9 1635.3,1264.5 1638.7,1263.6 1642.2,1262.6 1645.6,1261.7 1649.1,1260.7 1652.5,1259.8 1656.0,1258.9 1659.5,1258.0 1662.9,1257.2 1666.4,1256.6 1669.8,1256.0 1673.3,1255.5 1676.8,1255.0 1680.2,1254.4 1683.7,1253.9 1687.1,1253.4 1690.6,1252.9 1694.0,1252.6 1697.5,1252.2 1701.0,1251.8 1704.4,1251.4 1707.9,1250.9 1711.3,1250.3 1714.8,1249.7 1718.3,1249.1 1721.7,1248.4 1725.2,1247.5 1728.6,1246.4 1732.1,1246.0 1735.5,1245.5 1735.5,1261.5 1732.1,1261.2 1728.6,1261.1 1725.2,1260.4 1721.7,1259.7 1718.3,1259.4 1714.8,1259.3 1711.3,1259.5 1707.9,1259.7 1704.4,1260.1 1701.0,1260.5 1697.5,1260.9 1694.0,1261.4 1690.6,1261.9 1687.1,1262.6 1683.7,1263.4 1680.2,1264.3 1676.8,1265.1 1673.3,1266.0 1669.8,1266.8 1666.4,1267.6 1662.9,1268.4 1659.5,1269.2 1656.0,1270.1 1652.5,1270.9 1649.1,1271.7 1645.6,1272.5 1642.2,1273.3 1638.7,1274.0 1635.3,1274.8 1631.8,1276.0 1628.3,1277.3 1624.9,1278.5 1621.4,1279.8 1618.0,1281.7 1614.5,1283.6 1611.0,1285.5 1607.6,1287.5 1604.1,1289.8 1600.7,1292.1 1597.2,1294.5 1593.8,1296.9 1590.3,1299.3 1586.8,1301.9 1583.4,1305.0 1579.9,1308.1 1576.5,1311.2 1573.0,1314.5 1569.5,1318.0 1566.1,1321.5 1562.6,1325.0 1559.2,1328.6 1555.7,1332.8 1552.3,1337.2 1548.8,1341.7 1545.3,1346.4 1541.9,1351.9 1538.4,1357.9 1535.0,1364.4 1531.5,1370.7" fill="#999999" fill-opacity="0.4"/>
<polyline points="1531.5,1360.7 1544.6,1342.1 1558.2,1325.8 1574.6,1309.4 1588.2,1297.1 1607.3,1283.5 1621.0,1275.3 1634.6,1269.8 1661.9,1263.0 1689.2,1257.6 1716.4,1254.3 1735.5,1253.5" fill="none" stroke="#1662c4" stroke-width="2.5" stroke-linejoin="round" stroke-linecap="round"/>
</g>
<text class="rd" transform="translate(1741.8,1220.0) scale(1,1.06)" text-anchor="end">partial.cor = 0.743</text>
<text class="rd" transform="translate(1741.8,1234.9) scale(1,1.06)" text-anchor="end">p = 1.35e-79</text>
<line x1="1521.7" x2="1521.7" y1="1180.9" y2="1417.9" stroke="#333" stroke-width="1.7"/>
<line x1="1745.2" x2="1745.2" y1="1180.9" y2="1417.9" stroke="#333" stroke-width="1.7"/>
<line x1="1521.7" x2="1745.2" y1="1204.7" y2="1204.7" stroke="#262626" stroke-width="1.6"/>
<line x1="1521.7" x2="1745.2" y1="1417.9" y2="1417.9" stroke="#e6e6e6" stroke-width="1.2"/>
<line x1="1543.6" x2="1543.6" y1="1417.9" y2="1421.7" stroke="#333" stroke-width="1.6"/>
<text class="ax" x="1543.6" y="1434.2" text-anchor="middle">0.25</text>
<line x1="1592.3" x2="1592.3" y1="1417.9" y2="1421.7" stroke="#333" stroke-width="1.6"/>
<text class="ax" x="1592.3" y="1434.2" text-anchor="middle">0.50</text>
<line x1="1641.0" x2="1641.0" y1="1417.9" y2="1421.7" stroke="#333" stroke-width="1.6"/>
<text class="ax" x="1641.0" y="1434.2" text-anchor="middle">0.75</text>
<line x1="1689.7" x2="1689.7" y1="1417.9" y2="1421.7" stroke="#333" stroke-width="1.6"/>
<text class="ax" x="1689.7" y="1434.2" text-anchor="middle">1.00</text>
<line x1="1738.4" x2="1738.4" y1="1417.9" y2="1421.7" stroke="#333" stroke-width="1.6"/>
<text class="ax" x="1738.4" y="1434.2" text-anchor="middle">1.25</text>
<text class="lt" x="26.8" y="1535.0">E</text>
<text class="gn" x="906.5" y="1524.0" text-anchor="middle">STAT5B</text>
<text class="tt" transform="translate(75.5,1681.9) rotate(-90)" text-anchor="middle" style="font-size:15px">STAT5B Expression Level (log<tspan dy="3" style="font-size:9.0px">2</tspan><tspan dy="-3"> RSEM)</tspan></text>
<rect x="105.7" y="1575.3" width="24.3" height="213.2" fill="#d9d9d9" stroke="#333" stroke-width="1.7"/>
<text class="st" transform="translate(122.2,1681.9) rotate(-90)" text-anchor="middle">SKCM</text>
<line x1="102.2" x2="105.7" y1="1592.7" y2="1592.7" stroke="#333" stroke-width="1.6"/>
<text class="ax" transform="translate(99.0,1592.7) rotate(-90) scale(0.82,1)" text-anchor="middle">12</text>
<line x1="102.2" x2="105.7" y1="1655.9" y2="1655.9" stroke="#333" stroke-width="1.6"/>
<text class="ax" transform="translate(99.0,1655.9) rotate(-90) scale(0.82,1)" text-anchor="middle">11</text>
<line x1="102.2" x2="105.7" y1="1719.2" y2="1719.2" stroke="#333" stroke-width="1.6"/>
<text class="ax" transform="translate(99.0,1719.2) rotate(-90) scale(0.82,1)" text-anchor="middle">10</text>
<line x1="102.2" x2="105.7" y1="1782.4" y2="1782.4" stroke="#333" stroke-width="1.6"/>
<text class="ax" transform="translate(99.0,1782.4) rotate(-90) scale(0.82,1)" text-anchor="middle">9</text>
<text class="tt" x="937.6" y="1822.5" text-anchor="middle">Infiltration Level</text>
<rect x="130.0" y="1551.5" width="223.5" height="23.8" fill="#d9d9d9" stroke="#555" stroke-width="1"/>
<text class="st" transform="translate(241.8,1567.4) scale(1,1.08)" text-anchor="middle">Purity</text>
<g><clipPath id="cp4_0"><rect x="130.0" y="1575.3" width="223.5" height="213.2"/></clipPath></g>
<g clip-path="url(#cp4_0)">
<line x1="146.3" x2="146.3" y1="1575.3" y2="1788.5" stroke="#f2f2f2" stroke-width="0.8"/>
<line x1="203.3" x2="203.3" y1="1575.3" y2="1788.5" stroke="#f2f2f2" stroke-width="0.8"/>
<line x1="260.3" x2="260.3" y1="1575.3" y2="1788.5" stroke="#f2f2f2" stroke-width="0.8"/>
<line x1="317.3" x2="317.3" y1="1575.3" y2="1788.5" stroke="#f2f2f2" stroke-width="0.8"/>
<line x1="130.0" x2="353.5" y1="1750.8" y2="1750.8" stroke="#f2f2f2" stroke-width="0.8"/>
<line x1="130.0" x2="353.5" y1="1687.6" y2="1687.6" stroke="#f2f2f2" stroke-width="0.8"/>
<line x1="130.0" x2="353.5" y1="1624.3" y2="1624.3" stroke="#f2f2f2" stroke-width="0.8"/>
<line x1="174.8" x2="174.8" y1="1575.3" y2="1788.5" stroke="#ebebeb" stroke-width="1.2"/>
<line x1="231.8" x2="231.8" y1="1575.3" y2="1788.5" stroke="#ebebeb" stroke-width="1.2"/>
<line x1="288.8" x2="288.8" y1="1575.3" y2="1788.5" stroke="#ebebeb" stroke-width="1.2"/>
<line x1="345.8" x2="345.8" y1="1575.3" y2="1788.5" stroke="#ebebeb" stroke-width="1.2"/>
<line x1="130.0" x2="353.5" y1="1782.4" y2="1782.4" stroke="#ebebeb" stroke-width="1.2"/>
<line x1="130.0" x2="353.5" y1="1719.2" y2="1719.2" stroke="#ebebeb" stroke-width="1.2"/>
<line x1="130.0" x2="353.5" y1="1655.9" y2="1655.9" stroke="#ebebeb" stroke-width="1.2"/>
<line x1="130.0" x2="353.5" y1="1592.7" y2="1592.7" stroke="#ebebeb" stroke-width="1.2"/>
<path transform="scale(0.5)" d="M281 3294h0m6-120h0m0 171h0m2-26h0m0 30h0m2-64h0m0-52h0m1 40h0m1-15h0m0 17h0m3 31h0m1-53h0m3 85h0m4-97h0m1 13h0m0 48h0m0-68h0m6 84h0m1 73h0m1-111h0m0 24h0m3-57h0m1 129h0m1-55h0m1 45h0m0-5h0m1-8h0m1-89h0m1 45h0m2 18h0m0 12h0m1 113h0m1-170h0m1 216h0m1-222h0m0 89h0m2 21h0m2-36h0m6-27h0m1-33h0m1 37h0m5 28h0m0 61h0m2-48h0m4-26h0m5-15h0m3 88h0m3-84h0m6 25h0m6 0h0m0 11h0m15-74h0m1-39h0m0-44h0m15 151h0m1 27h0m5-63h0m0 32h0m4-4h0m14 6h0m0-28h0m3-34h0m8 145h0m3-85h0m2 2h0m0 6h0m2 53h0m0-33h0m1 38h0m2-80h0m1-40h0m2 12h0m3-106h0m2 178h0m3-33h0m2-18h0m2 32h0m6 17h0m0-35h0m1-45h0m0 46h0m3 21h0m1-49h0m0 53h0m1-24h0m1-40h0m1 43h0m1 18h0m1 1h0m1-50h0m2-37h0m2-98h0m1 225h0m0-93h0m2 120h0m3-122h0m1 90h0m0-99h0m0-17h0m3 69h0m2-10h0m0 60h0m1-62h0m0 33h0m1-94h0m1 30h0m1 70h0m1-13h0m0 94h0m1-156h0m0 89h0m1-58h0m1 148h0m0-186h0m0 121h0m0-95h0m2 134h0m0-75h0m3 76h0m0-43h0m2 26h0m1-122h0m1 103h0m0-198h0m0 88h0m1 126h0m1-101h0m1-8h0m0-5h0m0-38h0m1 109h0m1-96h0m4 2h0m0 98h0m0-9h0m2-24h0m0-176h0m0 139h0m2-67h0m0 165h0m1 29h0m0-63h0m1-109h0m0 2h0m3-6h0m0 72h0m0 66h0m0 31h0m0-37h0m3 122h0m0-116h0m1 5h0m1-151h0m0 202h0m1-182h0m0 198h0m0-206h0m1 81h0m0-117h0m0 39h0m0-31h0m1 135h0m0-87h0m0 32h0m1 2h0m0 84h0m1-132h0m1-16h0m0 68h0m0 11h0m1-33h0m1 36h0m2-9h0m0 62h0m1-75h0m1-24h0m0 99h0m3-136h0m0 148h0m0-223h0m0 289h0m0-83h0m1-76h0m0-68h0m1 19h0m0 242h0m0-225h0m0 23h0m1 105h0m0-116h0m0 27h0m0 56h0m0-66h0m2 7h0m1 193h0m1-113h0m1-189h0m0 110h0m2-4h0m0-63h0m1 144h0m0-38h0m0-179h0m1 136h0m1-6h0m1 107h0m0-190h0m1 82h0m1 24h0m0 65h0m1 56h0m0-138h0m1 41h0m0-58h0m1 54h0m0-111h0m0 146h0m0-82h0m0 105h0m1-7h0m0-173h0m1-44h0m0 46h0m2 58h0m0 115h0m0-38h0m0-125h0m0-28h0m3 80h0m0 24h0m1 77h0m1-81h0m1 40h0m0-83h0m1 67h0m1-11h0m1 66h0m0-37h0m0-15h0m0-46h0m0-4h0m0 53h0m1-42h0m1-6h0m0 14h0m1 59h0m1-47h0m1 0h0m0 22h0m0-54h0m0-63h0m1 50h0m0-18h0m0 34h0m1 16h0m0 44h0m0-2h0m1-41h0m0 42h0m0-75h0m1 64h0m0-1h0m0-93h0m0 91h0m1 20h0m0-45h0m1 6h0m0-47h0m1 84h0m1-127h0m0 109h0m0 11h0m0-16h0m0-4h0m0-8h0m0-25h0m1 42h0m0-24h0m0 1h0m1 78h0m1-46h0m0-70h0m1 159h0m1-131h0m1-18h0m1 247h0m0-161h0m1-131h0m0 202h0m1-151h0m1 78h0m0-136h0m1 99h0m0 40h0m0-86h0m1-89h0m0 109h0m0-68h0m2 65h0m0-74h0m2-23h0m1 224h0m1-140h0m0 201h0m0-149h0m0 83h0m0-152h0m1 36h0m0 36h0m0-126h0m0 106h0m1-49h0m1-44h0m0 159h0m0-35h0m1-35h0m1 29h0m0-111h0m0 64h0m0 59h0m0 43h0m1-120h0m1 21h0m1-49h0m0 191h0m1 28h0m0-223h0m0-39h0m0 176h0m0-89h0m1-137h0m0 162h0m0-99h0m0 122h0m0-63h0m1 37h0m2 7h0m0-18h0m0 10h0m1-166h0m0 191h0m1 2h0m0-92h0m0 36h0m0 36h0m1-157h0m1 200h0m1-48h0m0 107h0m0-163h0m0 55h0m1 92h0m0 6h0m0-74h0m0-117h0m0 89h0m1 59h0m0 28h0m0-238h0m1 315h0m0-39h0m0-135h0m0 223h0m0-203h0m1 15h0m0-23h0m1-11h0m0 89h0m0-15h0m1 11h0m0-175h0m0 86h0m1 166h0m0-115h0m0 111h0m0-239h0m0 68h0m1-33h0m0 62h0m1-76h0m0 40h0m1 16h0m1-104h0m0 155h0m1-57h0m1 57h0m1 5h0m1-26h0m0-20h0m0 84h0m0-26h0m1-14h0m1-105h0m1 113h0m1-71h0m0 37h0m1-108h0m1 163h0m0-144h0m0 117h0m1-53h0m0-1h0m0-8h0m0 15h0m1 68h0m0-61h0m0-44h0m1 74h0m1-108h0m0-4h0m0 111h0m0-9h0m1 102h0m0-56h0m1-6h0m0-55h0m0-84h0m0-70h0m0 132h0m1-19h0m1 30h0m1-28h0m1 144h0m0-100h0m0-19h0m1 39h0m0-24h0m1 19h0m0 2h0m0 70h0m0-62h0m1 62h0m1-188h0m1 92h0m0 12h0m0-70h0m1 121h0m2-20h0m1-49h0m0 60h0m1-3h0m0-16h0m0-80h0m0-26h0m0 89h0m1-17h0m0-56h0m0 109h0m0-11h0m0-17h0m0 6h0m1-49h0m1 45h0m1 9h0m0 18h0m0-66h0m1 165h0m0-169h0m0 53h0m0-134h0m0 108h0m1-28h0m0 107h0m0-150h0m1 180h0m1-129h0m1-37h0m1 77h0m0 26h0m1-17h0m0 2h0" stroke="#2b2b2b" stroke-width="12.2" stroke-linecap="round" fill="none"/>
<polygon points="140.0,1632.5 143.5,1637.3 146.9,1641.5 150.4,1645.0 153.9,1648.0 157.3,1650.7 160.8,1653.1 164.3,1655.4 167.7,1657.2 171.2,1658.6 174.7,1659.9 178.1,1661.2 181.6,1662.1 185.1,1662.9 188.5,1663.7 192.0,1664.6 195.5,1665.4 199.0,1666.1 202.4,1667.0 205.9,1668.0 209.4,1668.7 212.8,1669.4 216.3,1670.1 219.8,1670.8 223.2,1671.5 226.7,1672.1 230.2,1672.7 233.6,1673.3 237.1,1673.6 240.6,1673.9 244.0,1674.1 247.5,1674.3 251.0,1674.5 254.4,1674.7 257.9,1674.6 261.4,1674.4 264.8,1674.2 268.3,1674.0 271.8,1673.7 275.2,1673.5 278.7,1673.3 282.2,1673.2 285.6,1673.1 289.1,1672.9 292.6,1672.7 296.0,1672.6 299.5,1672.4 303.0,1672.2 306.4,1672.2 309.9,1672.1 313.4,1672.0 316.8,1671.8 320.3,1671.7 323.8,1671.4 327.3,1671.1 330.7,1670.7 334.2,1670.2 337.7,1669.5 341.1,1668.5 344.6,1667.4 344.6,1682.4 341.1,1681.4 337.7,1680.3 334.2,1679.6 330.7,1679.1 327.3,1678.8 323.8,1678.7 320.3,1678.6 316.8,1678.5 313.4,1678.5 309.9,1678.6 306.4,1678.6 303.0,1678.7 299.5,1678.9 296.0,1679.1 292.6,1679.4 289.1,1679.6 285.6,1679.9 282.2,1680.2 278.7,1680.5 275.2,1680.7 271.8,1681.2 268.3,1681.6 264.8,1682.1 261.4,1682.5 257.9,1683.0 254.4,1683.4 251.0,1683.5 247.5,1683.7 244.0,1683.9 240.6,1684.2 237.1,1684.4 233.6,1684.7 230.2,1684.8 226.7,1684.9 223.2,1685.1 219.8,1685.2 216.3,1685.4 212.8,1685.6 209.4,1685.8 205.9,1685.9 202.4,1685.5 199.0,1685.0 195.5,1684.3 192.0,1683.4 188.5,1682.1 185.1,1680.7 181.6,1679.2 178.1,1677.6 174.7,1675.8 171.2,1674.1 167.7,1672.5 164.3,1670.7 160.8,1668.8 157.3,1667.0 153.9,1665.6 150.4,1664.3 146.9,1663.6 143.5,1663.4 140.0,1663.9" fill="#999999" fill-opacity="0.4"/>
<polyline points="140.0,1648.2 152.3,1655.8 165.9,1664.0 179.6,1670.0 193.2,1674.4 206.8,1677.1 234.1,1679.0 255.9,1679.0 275.0,1677.1 302.3,1675.5 329.6,1674.9 344.6,1674.9" fill="none" stroke="#1662c4" stroke-width="2.5" stroke-linejoin="round" stroke-linecap="round"/>
</g>
<text class="rd" transform="translate(350.1,1590.6) scale(1,1.06)" text-anchor="end">cor = -0.063</text>
<text class="rd" transform="translate(350.1,1605.5) scale(1,1.06)" text-anchor="end">p = 1.8e-01</text>
<line x1="130.0" x2="130.0" y1="1551.5" y2="1788.5" stroke="#333" stroke-width="1.7"/>
<line x1="353.5" x2="353.5" y1="1551.5" y2="1788.5" stroke="#333" stroke-width="1.7"/>
<line x1="130.0" x2="353.5" y1="1575.3" y2="1575.3" stroke="#262626" stroke-width="1.6"/>
<line x1="130.0" x2="353.5" y1="1788.5" y2="1788.5" stroke="#e6e6e6" stroke-width="1.2"/>
<line x1="174.8" x2="174.8" y1="1788.5" y2="1792.3" stroke="#333" stroke-width="1.6"/>
<text class="ax" x="174.8" y="1804.8" text-anchor="middle">0.25</text>
<line x1="231.8" x2="231.8" y1="1788.5" y2="1792.3" stroke="#333" stroke-width="1.6"/>
<text class="ax" x="231.8" y="1804.8" text-anchor="middle">0.50</text>
<line x1="288.8" x2="288.8" y1="1788.5" y2="1792.3" stroke="#333" stroke-width="1.6"/>
<text class="ax" x="288.8" y="1804.8" text-anchor="middle">0.75</text>
<line x1="345.8" x2="345.8" y1="1788.5" y2="1792.3" stroke="#333" stroke-width="1.6"/>
<text class="ax" x="345.8" y="1804.8" text-anchor="middle">1.00</text>
<rect x="361.9" y="1551.5" width="223.5" height="23.8" fill="#d9d9d9" stroke="#555" stroke-width="1"/>
<text class="st" transform="translate(473.7,1567.4) scale(1,1.08)" text-anchor="middle">B Cell</text>
<g><clipPath id="cp4_1"><rect x="361.9" y="1575.3" width="223.5" height="213.2"/></clipPath></g>
<g clip-path="url(#cp4_1)">
<line x1="393.6" x2="393.6" y1="1575.3" y2="1788.5" stroke="#f2f2f2" stroke-width="0.8"/>
<line x1="438.2" x2="438.2" y1="1575.3" y2="1788.5" stroke="#f2f2f2" stroke-width="0.8"/>
<line x1="482.8" x2="482.8" y1="1575.3" y2="1788.5" stroke="#f2f2f2" stroke-width="0.8"/>
<line x1="527.4" x2="527.4" y1="1575.3" y2="1788.5" stroke="#f2f2f2" stroke-width="0.8"/>
<line x1="572.1" x2="572.1" y1="1575.3" y2="1788.5" stroke="#f2f2f2" stroke-width="0.8"/>
<line x1="361.9" x2="585.5" y1="1750.8" y2="1750.8" stroke="#f2f2f2" stroke-width="0.8"/>
<line x1="361.9" x2="585.5" y1="1687.6" y2="1687.6" stroke="#f2f2f2" stroke-width="0.8"/>
<line x1="361.9" x2="585.5" y1="1624.3" y2="1624.3" stroke="#f2f2f2" stroke-width="0.8"/>
<line x1="371.3" x2="371.3" y1="1575.3" y2="1788.5" stroke="#ebebeb" stroke-width="1.2"/>
<line x1="415.9" x2="415.9" y1="1575.3" y2="1788.5" stroke="#ebebeb" stroke-width="1.2"/>
<line x1="460.5" x2="460.5" y1="1575.3" y2="1788.5" stroke="#ebebeb" stroke-width="1.2"/>
<line x1="505.1" x2="505.1" y1="1575.3" y2="1788.5" stroke="#ebebeb" stroke-width="1.2"/>
<line x1="549.8" x2="549.8" y1="1575.3" y2="1788.5" stroke="#ebebeb" stroke-width="1.2"/>
<line x1="361.9" x2="585.5" y1="1782.4" y2="1782.4" stroke="#ebebeb" stroke-width="1.2"/>
<line x1="361.9" x2="585.5" y1="1719.2" y2="1719.2" stroke="#ebebeb" stroke-width="1.2"/>
<line x1="361.9" x2="585.5" y1="1655.9" y2="1655.9" stroke="#ebebeb" stroke-width="1.2"/>
<line x1="361.9" x2="585.5" y1="1592.7" y2="1592.7" stroke="#ebebeb" stroke-width="1.2"/>
<path transform="scale(0.5)" d="M743 3394h0m2-86h0m1 56h0m1-71h0m0 72h0m0-120h0m1 160h0m0-146h0m1-46h0m0 21h0m1 120h0m0-135h0m0 245h0m0-149h0m1 60h0m0 54h0m0-14h0m0-80h0m0 141h0m1-192h0m0 99h0m0-196h0m0 264h0m1-178h0m1 54h0m0-28h0m0 182h0m1-79h0m0-23h0m0-30h0m0 98h0m1-134h0m0 36h0m0 52h0m0-150h0m1 113h0m0 20h0m0-98h0m0-109h0m0 166h0m1 22h0m0-26h0m0-105h0m1 237h0m0-216h0m0 124h0m0 46h0m1-29h0m0-82h0m0 123h0m0-80h0m0 42h0m0 39h0m0-97h0m0 93h0m0-82h0m0 47h0m1-49h0m0-1h0m1 1h0m0-42h0m0-81h0m0 93h0m0 34h0m0-10h0m1 62h0m1-42h0m0-1h0m1-86h0m0 59h0m0-99h0m1 107h0m0 55h0m0-33h0m0-182h0m1 177h0m0-66h0m1 61h0m1-28h0m0-19h0m0-54h0m0 10h0m0-19h0m0 2h0m0 33h0m0 242h0m1-95h0m1-190h0m0 80h0m1 48h0m0-48h0m0 42h0m0-42h0m0 240h0m0-181h0m1-74h0m0 64h0m0-30h0m1 73h0m0-110h0m0 128h0m1 36h0m1-178h0m1 43h0m0 87h0m0 58h0m0-97h0m0 26h0m0-16h0m0-48h0m1-59h0m0 139h0m0 14h0m0-131h0m0 49h0m1 6h0m0 62h0m0 91h0m0-168h0m1 16h0m0-83h0m0 162h0m0-82h0m0 23h0m1 111h0m0-203h0m1 93h0m0-10h0m0 31h0m0-75h0m1-27h0m0-28h0m0 119h0m1 33h0m0-186h0m0 63h0m0 247h0m0-182h0m0 16h0m1-36h0m0 3h0m0-34h0m0 52h0m1 134h0m0-136h0m0-105h0m0-33h0m0 103h0m1 69h0m0 17h0m0-42h0m1 36h0m0-74h0m0 45h0m0 19h0m0-29h0m0-31h0m0-15h0m1 17h0m0-16h0m0-23h0m0 32h0m0 40h0m0-90h0m1 91h0m0 19h0m0 20h0m0-37h0m1-46h0m0 29h0m0 3h0m0-180h0m0 182h0m0 154h0m0-141h0m0 97h0m0-164h0m1 101h0m0-84h0m0 136h0m0-166h0m0 163h0m0-110h0m1 115h0m0-51h0m0-65h0m0-60h0m0 35h0m0 141h0m0-188h0m0 66h0m1-37h0m0-7h0m0-25h0m0 106h0m0 68h0m0-113h0m0 40h0m1-45h0m0 8h0m0 59h0m1-22h0m0-140h0m0 44h0m0 139h0m0 15h0m0 102h0m1-255h0m0 106h0m1-82h0m0 22h0m1 17h0m0-77h0m0 90h0m0 13h0m0-81h0m1 84h0m0 18h0m1-137h0m0 127h0m0-186h0m1 58h0m0 112h0m0 95h0m1-186h0m0-22h0m0 83h0m0 86h0m0-144h0m0-50h0m1 34h0m0 94h0m0 53h0m0-9h0m0-16h0m0 3h0m0 3h0m0-15h0m0-1h0m0-158h0m0 203h0m1-110h0m0-32h0m1 144h0m0-120h0m0 67h0m0-116h0m1 76h0m0-43h0m0 190h0m1-76h0m0-106h0m0-33h0m0 141h0m0-133h0m1 230h0m0-165h0m0-25h0m0-88h0m0 171h0m0-66h0m1 54h0m0-93h0m0 29h0m1 189h0m0-99h0m0 30h0m1-194h0m0 184h0m0-20h0m1-50h0m0 96h0m0 55h0m1-204h0m0-115h0m0 65h0m0 156h0m0-80h0m1 62h0m0 101h0m0-87h0m0 48h0m0-102h0m1 109h0m1-15h0m0-60h0m0-160h0m0 200h0m0-62h0m1 41h0m0-60h0m0-170h0m0 85h0m1 124h0m0 69h0m0-119h0m0-18h0m0 229h0m0-154h0m1 7h0m1-56h0m0 28h0m0 190h0m2-153h0m0 155h0m0-234h0m0 13h0m1 96h0m0-47h0m0-62h0m0-56h0m0 84h0m1-44h0m0 69h0m0 69h0m0-30h0m1-128h0m1 61h0m0 78h0m0-76h0m0-107h0m1 255h0m0-241h0m0 198h0m1-93h0m0-10h0m0-74h0m0 175h0m1-186h0m0 116h0m0-29h0m0-5h0m1-47h0m0 70h0m0 34h0m0-33h0m1 59h0m0-165h0m0 170h0m1-137h0m0 33h0m1-21h0m0 72h0m0-107h0m0 71h0m0-23h0m1-11h0m1 0h0m1 71h0m0 121h0m0-129h0m0-104h0m0 73h0m1 93h0m0-55h0m0-27h0m1 6h0m1-6h0m0-89h0m1 179h0m0-195h0m0 117h0m1-72h0m1 65h0m0-27h0m0 39h0m1-45h0m1 6h0m0 154h0m0-207h0m0 81h0m1-56h0m0 61h0m0 93h0m0-79h0m1-30h0m3 115h0m0-154h0m0 43h0m0 58h0m1-41h0m0-122h0m1-44h0m0 84h0m0 115h0m1-120h0m0 143h0m2-169h0m1 108h0m0-94h0m0 187h0m1-92h0m1-24h0m0 113h0m1-81h0m0 87h0m0-91h0m1 6h0m0-23h0m2-90h0m1 71h0m0 6h0m1-16h0m1 62h0m4 10h0m0 64h0m2-32h0m2-58h0m0-25h0m3-103h0m0 161h0m1-131h0m3 100h0m4-89h0m0 28h0m1 104h0m0-111h0m2-31h0m2 196h0m1-119h0m1 8h0m3-44h0m3 36h0m2-9h0m1-111h0m1 110h0m1 209h0m2-216h0m1-38h0m2 16h0m1 60h0m1-25h0m0-93h0m0 59h0m6 14h0m1-52h0m3 14h0m1 70h0m3 36h0m2-88h0m6 26h0m15-107h0m9 76h0m0 66h0m2-14h0m2-44h0m5-9h0m3-82h0m17 21h0m11 77h0m4-12h0m4 47h0m1 3h0m4-95h0m19 121h0m1-123h0m3 28h0m1 5h0m8-19h0m9-66h0m15 109h0m8-32h0m3 63h0m4-62h0m10 28h0m9-13h0m3-6h0m7 25h0m9 3h0m16 10h0m1-89h0" stroke="#2b2b2b" stroke-width="12.2" stroke-linecap="round" fill="none"/>
<polygon points="371.9,1665.9 375.3,1668.2 378.8,1670.0 382.3,1671.4 385.7,1672.3 389.2,1672.8 392.7,1673.2 396.1,1673.5 399.6,1673.8 403.1,1674.2 406.5,1674.4 410.0,1674.7 413.5,1674.9 416.9,1674.4 420.4,1673.8 423.9,1673.1 427.3,1671.6 430.8,1669.5 434.3,1667.4 437.7,1665.3 441.2,1663.4 444.7,1661.5 448.2,1659.6 451.6,1657.7 455.1,1656.0 458.6,1654.4 462.0,1652.7 465.5,1651.0 469.0,1649.3 472.4,1647.6 475.9,1645.9 479.4,1644.2 482.8,1642.8 486.3,1641.5 489.8,1640.3 493.2,1639.2 496.7,1638.2 500.2,1637.2 503.6,1636.3 507.1,1635.4 510.6,1635.0 514.0,1634.5 517.5,1634.1 521.0,1633.6 524.4,1633.1 527.9,1632.5 531.4,1631.9 534.8,1631.4 538.3,1630.8 541.8,1630.1 545.2,1629.3 548.7,1628.1 552.2,1626.6 555.6,1624.4 559.1,1621.4 562.6,1620.0 566.0,1620.1 569.5,1620.1 573.0,1620.2 576.5,1620.3 576.5,1672.3 573.0,1672.4 569.5,1672.4 566.0,1672.5 562.6,1672.6 559.1,1671.4 555.6,1668.8 552.2,1667.0 548.7,1665.7 545.2,1664.9 541.8,1664.4 538.3,1664.1 534.8,1663.9 531.4,1663.9 527.9,1664.0 524.4,1664.2 521.0,1664.4 517.5,1664.6 514.0,1664.8 510.6,1665.1 507.1,1665.3 503.6,1666.1 500.2,1666.9 496.7,1667.7 493.2,1668.4 489.8,1669.0 486.3,1669.6 482.8,1670.0 479.4,1670.3 475.9,1670.8 472.4,1671.2 469.0,1671.5 465.5,1671.9 462.0,1672.3 458.6,1672.7 455.1,1673.1 451.6,1673.7 448.2,1674.5 444.7,1675.4 441.2,1676.3 437.7,1677.3 434.3,1678.7 430.8,1680.0 427.3,1681.5 423.9,1682.5 420.4,1682.7 416.9,1682.9 413.5,1683.1 410.0,1682.7 406.5,1682.3 403.1,1682.0 399.6,1681.8 396.1,1681.7 392.7,1681.7 389.2,1681.8 385.7,1682.0 382.3,1682.2 378.8,1682.4 375.3,1682.9 371.9,1683.9" fill="#999999" fill-opacity="0.4"/>
<polyline points="371.9,1674.9 384.1,1677.1 397.8,1677.7 414.1,1679.0 425.1,1677.7 438.7,1670.8 452.3,1665.4 479.6,1657.2 506.9,1650.4 534.2,1647.7 561.4,1646.3 576.5,1646.3" fill="none" stroke="#1662c4" stroke-width="2.5" stroke-linejoin="round" stroke-linecap="round"/>
</g>
<text class="rd" transform="translate(582.1,1590.6) scale(1,1.06)" text-anchor="end">partial.cor = 0.085</text>
<text class="rd" transform="translate(582.1,1605.5) scale(1,1.06)" text-anchor="end">p = 7.33e-02</text>
<line x1="361.9" x2="361.9" y1="1551.5" y2="1788.5" stroke="#333" stroke-width="1.7"/>
<line x1="585.5" x2="585.5" y1="1551.5" y2="1788.5" stroke="#333" stroke-width="1.7"/>
<line x1="361.9" x2="585.5" y1="1575.3" y2="1575.3" stroke="#262626" stroke-width="1.6"/>
<line x1="361.9" x2="585.5" y1="1788.5" y2="1788.5" stroke="#e6e6e6" stroke-width="1.2"/>
<line x1="371.3" x2="371.3" y1="1788.5" y2="1792.3" stroke="#333" stroke-width="1.6"/>
<text class="ax" x="371.3" y="1804.8" text-anchor="middle">0.0</text>
<line x1="415.9" x2="415.9" y1="1788.5" y2="1792.3" stroke="#333" stroke-width="1.6"/>
<text class="ax" x="415.9" y="1804.8" text-anchor="middle">0.1</text>
<line x1="460.5" x2="460.5" y1="1788.5" y2="1792.3" stroke="#333" stroke-width="1.6"/>
<text class="ax" x="460.5" y="1804.8" text-anchor="middle">0.2</text>
<line x1="505.1" x2="505.1" y1="1788.5" y2="1792.3" stroke="#333" stroke-width="1.6"/>
<text class="ax" x="505.1" y="1804.8" text-anchor="middle">0.3</text>
<line x1="549.8" x2="549.8" y1="1788.5" y2="1792.3" stroke="#333" stroke-width="1.6"/>
<text class="ax" x="549.8" y="1804.8" text-anchor="middle">0.4</text>
<rect x="593.9" y="1551.5" width="223.5" height="23.8" fill="#d9d9d9" stroke="#555" stroke-width="1"/>
<text class="st" transform="translate(705.6,1567.4) scale(1,1.08)" text-anchor="middle">CD8+ T Cell</text>
<g><clipPath id="cp4_2"><rect x="593.9" y="1575.3" width="223.5" height="213.2"/></clipPath></g>
<g clip-path="url(#cp4_2)">
<line x1="632.2" x2="632.2" y1="1575.3" y2="1788.5" stroke="#f2f2f2" stroke-width="0.8"/>
<line x1="688.3" x2="688.3" y1="1575.3" y2="1788.5" stroke="#f2f2f2" stroke-width="0.8"/>
<line x1="744.4" x2="744.4" y1="1575.3" y2="1788.5" stroke="#f2f2f2" stroke-width="0.8"/>
<line x1="800.6" x2="800.6" y1="1575.3" y2="1788.5" stroke="#f2f2f2" stroke-width="0.8"/>
<line x1="593.9" x2="817.4" y1="1750.8" y2="1750.8" stroke="#f2f2f2" stroke-width="0.8"/>
<line x1="593.9" x2="817.4" y1="1687.6" y2="1687.6" stroke="#f2f2f2" stroke-width="0.8"/>
<line x1="593.9" x2="817.4" y1="1624.3" y2="1624.3" stroke="#f2f2f2" stroke-width="0.8"/>
<line x1="604.1" x2="604.1" y1="1575.3" y2="1788.5" stroke="#ebebeb" stroke-width="1.2"/>
<line x1="660.2" x2="660.2" y1="1575.3" y2="1788.5" stroke="#ebebeb" stroke-width="1.2"/>
<line x1="716.4" x2="716.4" y1="1575.3" y2="1788.5" stroke="#ebebeb" stroke-width="1.2"/>
<line x1="772.5" x2="772.5" y1="1575.3" y2="1788.5" stroke="#ebebeb" stroke-width="1.2"/>
<line x1="593.9" x2="817.4" y1="1782.4" y2="1782.4" stroke="#ebebeb" stroke-width="1.2"/>
<line x1="593.9" x2="817.4" y1="1719.2" y2="1719.2" stroke="#ebebeb" stroke-width="1.2"/>
<line x1="593.9" x2="817.4" y1="1655.9" y2="1655.9" stroke="#ebebeb" stroke-width="1.2"/>
<line x1="593.9" x2="817.4" y1="1592.7" y2="1592.7" stroke="#ebebeb" stroke-width="1.2"/>
<path transform="scale(0.5)" d="M1210 3333h0m0 50h0m0-31h0m0 5h0m1 11h0m2-4h0m0-59h0m1 85h0m0 85h0m0-130h0m1 71h0m1-9h0m1-37h0m1 38h0m0-3h0m0 0h0m0 73h0m1-132h0m0-18h0m0 22h0m1 34h0m0-17h0m0 77h0m0-33h0m1-40h0m0-75h0m1-65h0m0 115h0m0 63h0m1-203h0m0 183h0m0-22h0m0 4h0m0-31h0m1 8h0m0-2h0m0 8h0m1 16h0m0 86h0m1 55h0m0-130h0m0 62h0m0-130h0m1 59h0m0-44h0m0 31h0m1 73h0m0-44h0m0 34h0m0-18h0m0 3h0m1-37h0m0-29h0m0-30h0m1-19h0m0-88h0m0 191h0m1 20h0m0 7h0m1-105h0m0 47h0m0 73h0m0-20h0m0-7h0m1-79h0m0-52h0m0 85h0m0-143h0m1 223h0m0-93h0m0 119h0m0-38h0m0-10h0m0-26h0m1-34h0m0-52h0m0 3h0m0 92h0m1-41h0m0 81h0m0-19h0m0-66h0m0-16h0m0 30h0m0 39h0m1-83h0m1 1h0m1 127h0m0-202h0m0 14h0m0-69h0m1 151h0m0-56h0m0 213h0m1-149h0m0 71h0m0 26h0m0-8h0m1-15h0m1-132h0m0 72h0m1-14h0m0 11h0m1-1h0m0-5h0m1-73h0m1 41h0m0 25h0m0 41h0m0 91h0m1-147h0m1 10h0m0 67h0m0-157h0m0 163h0m0-42h0m0-129h0m1 215h0m0-109h0m0 29h0m1-122h0m0 59h0m1-78h0m0 61h0m0 38h0m1 12h0m0-94h0m1 169h0m0-24h0m0-42h0m0-24h0m0 3h0m1 21h0m0 48h0m0-74h0m0 32h0m0 67h0m1-26h0m0-74h0m1-25h0m0 132h0m0-45h0m1-32h0m0 159h0m0-129h0m0-5h0m1-63h0m0 6h0m0 3h0m1 68h0m0-105h0m0 81h0m1-149h0m0 153h0m0 8h0m0-90h0m1 76h0m1-136h0m0 131h0m1 81h0m0-233h0m0 214h0m0-98h0m1 36h0m0 12h0m0-51h0m0 97h0m0-158h0m1 115h0m1-52h0m0 50h0m0 70h0m1-161h0m0 39h0m0 94h0m0-91h0m0 7h0m1 46h0m0-216h0m0 230h0m0-123h0m1 270h0m1-226h0m0 161h0m0-233h0m1 183h0m0-58h0m0 22h0m0-129h0m1 121h0m1-11h0m0-65h0m0-99h0m1 193h0m0-41h0m0-3h0m0-46h0m1 30h0m0-179h0m0 214h0m1-58h0m0 57h0m0-16h0m0 9h0m0-2h0m0-187h0m0 176h0m1-71h0m0-6h0m0 105h0m0-69h0m1 162h0m1-156h0m0 110h0m1-149h0m0 119h0m0-27h0m0-24h0m1-29h0m0-5h0m1-3h0m0 31h0m0 88h0m0-112h0m0 11h0m1 65h0m0-190h0m0 187h0m0 36h0m1-169h0m0 214h0m2-122h0m0-69h0m0 58h0m1 43h0m0 1h0m1-39h0m0 19h0m0-71h0m0 78h0m0-84h0m1 8h0m0 18h0m0 17h0m0 32h0m0-25h0m0 205h0m0-250h0m1-36h0m0 96h0m0-4h0m0 40h0m1 120h0m0-144h0m0 5h0m1 55h0m0-151h0m0 81h0m0-27h0m0-89h0m1 45h0m0 14h0m0 78h0m0-33h0m1 34h0m0-135h0m2 16h0m0 132h0m0-58h0m1 162h0m0-169h0m0 109h0m0-34h0m1 11h0m0-194h0m0 22h0m0 197h0m0-113h0m0 36h0m2-189h0m0 81h0m0 93h0m0 66h0m1-202h0m0 147h0m0 81h0m0-206h0m1 238h0m1 53h0m0-138h0m0-76h0m0 8h0m1-63h0m0 145h0m1-137h0m0 175h0m0-169h0m0-70h0m0 48h0m0 30h0m0 147h0m1-131h0m0 90h0m0-57h0m0 26h0m2 4h0m0-103h0m1 59h0m0 36h0m0-10h0m0-14h0m1-135h0m0 161h0m1-8h0m0 17h0m0-88h0m0 81h0m1 92h0m0-142h0m1 50h0m0-64h0m0 33h0m0-52h0m1 119h0m0-42h0m2 5h0m0-33h0m0-36h0m1-7h0m1-2h0m0 45h0m0-24h0m0-40h0m2 50h0m0-46h0m1 164h0m0-138h0m2-16h0m0 33h0m1 4h0m1 73h0m1-77h0m0 124h0m1-40h0m0-131h0m0 38h0m0-15h0m0 18h0m1 12h0m1-16h0m0-28h0m1-2h0m0 76h0m0 17h0m1-163h0m1 184h0m0-33h0m0-23h0m1-11h0m0 15h0m1-134h0m1 137h0m0 132h0m0-204h0m0 167h0m0-109h0m1-69h0m1 108h0m0-26h0m1 42h0m1-11h0m1 70h0m1-100h0m0-102h0m0 109h0m1 29h0m2 5h0m0-68h0m0-27h0m1 79h0m0 95h0m1-177h0m1 94h0m0-151h0m0 159h0m1-19h0m0-76h0m1-74h0m1 96h0m0 71h0m1-1h0m1-102h0m0 6h0m1-62h0m1 139h0m0-11h0m1-19h0m1 73h0m1-70h0m0-6h0m0 91h0m0-25h0m1-99h0m0 53h0m3-10h0m0 18h0m3 15h0m1-127h0m0 77h0m1-71h0m0 89h0m2 4h0m0-69h0m1-75h0m0 114h0m0 42h0m3-69h0m1 84h0m0 6h0m0-68h0m0 94h0m1-84h0m0-30h0m5 45h0m0 135h0m0-118h0m3-56h0m0-2h0m2 42h0m1-63h0m1 65h0m3 95h0m1-101h0m0 19h0m2 45h0m1-38h0m1 37h0m3-57h0m7-72h0m0 71h0m3 10h0m8-63h0m1 39h0m2-11h0m1 40h0m1-37h0m3-25h0m2 11h0m4-114h0m1 120h0m0-3h0m3 41h0m10-45h0m0 17h0m2 26h0m1-68h0m2 100h0m3-23h0m3-61h0m7 42h0m7-26h0m5-17h0m15 17h0m7 23h0m50-60h0m2 49h0m3-20h0m6-40h0m0-6h0m14 105h0m6-89h0" stroke="#2b2b2b" stroke-width="12.2" stroke-linecap="round" fill="none"/>
<polygon points="604.1,1680.7 607.5,1680.3 611.0,1679.6 614.4,1678.8 617.9,1677.8 621.3,1676.6 624.8,1675.3 628.2,1674.7 631.7,1674.5 635.1,1674.3 638.5,1674.0 642.0,1673.1 645.4,1672.0 648.9,1670.2 652.3,1667.2 655.8,1664.2 659.2,1663.0 662.6,1661.8 666.1,1660.5 669.5,1659.6 673.0,1658.7 676.4,1657.8 679.9,1656.9 683.3,1655.9 686.8,1654.8 690.2,1653.8 693.6,1652.6 697.1,1651.5 700.5,1650.3 704.0,1649.0 707.4,1647.8 710.9,1646.5 714.3,1645.2 717.8,1643.9 721.2,1642.5 724.6,1641.1 728.1,1639.6 731.5,1637.9 735.0,1636.1 738.4,1634.1 741.9,1631.8 745.3,1629.4 748.8,1627.0 752.2,1624.6 755.6,1622.5 759.1,1620.9 762.5,1619.6 766.0,1618.6 769.4,1617.4 772.9,1615.8 776.3,1613.5 779.8,1610.0 783.2,1607.8 786.6,1607.0 790.1,1606.3 793.5,1605.5 797.0,1604.7 800.4,1604.0 803.9,1603.2 807.3,1602.5 807.3,1676.5 803.9,1677.2 800.4,1678.0 797.0,1678.7 793.5,1679.4 790.1,1680.2 786.6,1680.9 783.2,1681.6 779.8,1680.9 776.3,1679.0 772.9,1678.0 769.4,1677.8 766.0,1678.0 762.5,1678.3 759.1,1678.5 755.6,1678.2 752.2,1677.5 748.8,1676.4 745.3,1675.2 741.9,1674.0 738.4,1672.9 735.0,1672.1 731.5,1671.4 728.1,1670.9 724.6,1670.6 721.2,1670.3 717.8,1670.2 714.3,1670.1 710.9,1670.1 707.4,1670.0 704.0,1670.0 700.5,1670.0 697.1,1670.0 693.6,1670.1 690.2,1670.2 686.8,1670.4 683.3,1670.6 679.9,1670.9 676.4,1671.1 673.0,1671.5 669.5,1671.8 666.1,1672.3 662.6,1673.2 659.2,1674.0 655.8,1675.0 652.3,1677.7 648.9,1680.5 645.4,1682.2 642.0,1683.3 638.5,1684.2 635.1,1684.6 631.7,1685.1 628.2,1685.6 624.8,1686.7 621.3,1688.8 617.9,1691.0 614.4,1693.5 611.0,1696.5 607.5,1700.4 604.1,1704.7" fill="#999999" fill-opacity="0.4"/>
<polyline points="604.1,1692.7 612.3,1687.2 625.9,1680.4 639.6,1679.0 647.7,1676.3 655.9,1669.5 666.8,1666.2 694.1,1661.3 721.4,1656.4 748.7,1651.7 775.9,1646.3 807.3,1639.5" fill="none" stroke="#1662c4" stroke-width="2.5" stroke-linejoin="round" stroke-linecap="round"/>
</g>
<text class="rd" transform="translate(814.0,1590.6) scale(1,1.06)" text-anchor="end">partial.cor = 0.278</text>
<text class="rd" transform="translate(814.0,1605.5) scale(1,1.06)" text-anchor="end">p = 3.43e-09</text>
<line x1="593.9" x2="593.9" y1="1551.5" y2="1788.5" stroke="#333" stroke-width="1.7"/>
<line x1="817.4" x2="817.4" y1="1551.5" y2="1788.5" stroke="#333" stroke-width="1.7"/>
<line x1="593.9" x2="817.4" y1="1575.3" y2="1575.3" stroke="#262626" stroke-width="1.6"/>
<line x1="593.9" x2="817.4" y1="1788.5" y2="1788.5" stroke="#e6e6e6" stroke-width="1.2"/>
<line x1="604.1" x2="604.1" y1="1788.5" y2="1792.3" stroke="#333" stroke-width="1.6"/>
<text class="ax" x="604.1" y="1804.8" text-anchor="middle">0.0</text>
<line x1="660.2" x2="660.2" y1="1788.5" y2="1792.3" stroke="#333" stroke-width="1.6"/>
<text class="ax" x="660.2" y="1804.8" text-anchor="middle">0.2</text>
<line x1="716.4" x2="716.4" y1="1788.5" y2="1792.3" stroke="#333" stroke-width="1.6"/>
<text class="ax" x="716.4" y="1804.8" text-anchor="middle">0.4</text>
<line x1="772.5" x2="772.5" y1="1788.5" y2="1792.3" stroke="#333" stroke-width="1.6"/>
<text class="ax" x="772.5" y="1804.8" text-anchor="middle">0.6</text>
<rect x="825.8" y="1551.5" width="223.5" height="23.8" fill="#d9d9d9" stroke="#555" stroke-width="1"/>
<text class="st" transform="translate(937.6,1567.4) scale(1,1.08)" text-anchor="middle">CD4+ T Cell</text>
<g><clipPath id="cp4_3"><rect x="825.8" y="1575.3" width="223.5" height="213.2"/></clipPath></g>
<g clip-path="url(#cp4_3)">
<line x1="855.8" x2="855.8" y1="1575.3" y2="1788.5" stroke="#f2f2f2" stroke-width="0.8"/>
<line x1="896.7" x2="896.7" y1="1575.3" y2="1788.5" stroke="#f2f2f2" stroke-width="0.8"/>
<line x1="937.7" x2="937.7" y1="1575.3" y2="1788.5" stroke="#f2f2f2" stroke-width="0.8"/>
<line x1="978.6" x2="978.6" y1="1575.3" y2="1788.5" stroke="#f2f2f2" stroke-width="0.8"/>
<line x1="1019.5" x2="1019.5" y1="1575.3" y2="1788.5" stroke="#f2f2f2" stroke-width="0.8"/>
<line x1="825.8" x2="1049.3" y1="1750.8" y2="1750.8" stroke="#f2f2f2" stroke-width="0.8"/>
<line x1="825.8" x2="1049.3" y1="1687.6" y2="1687.6" stroke="#f2f2f2" stroke-width="0.8"/>
<line x1="825.8" x2="1049.3" y1="1624.3" y2="1624.3" stroke="#f2f2f2" stroke-width="0.8"/>
<line x1="835.4" x2="835.4" y1="1575.3" y2="1788.5" stroke="#ebebeb" stroke-width="1.2"/>
<line x1="876.3" x2="876.3" y1="1575.3" y2="1788.5" stroke="#ebebeb" stroke-width="1.2"/>
<line x1="917.2" x2="917.2" y1="1575.3" y2="1788.5" stroke="#ebebeb" stroke-width="1.2"/>
<line x1="958.1" x2="958.1" y1="1575.3" y2="1788.5" stroke="#ebebeb" stroke-width="1.2"/>
<line x1="999.0" x2="999.0" y1="1575.3" y2="1788.5" stroke="#ebebeb" stroke-width="1.2"/>
<line x1="1039.9" x2="1039.9" y1="1575.3" y2="1788.5" stroke="#ebebeb" stroke-width="1.2"/>
<line x1="825.8" x2="1049.3" y1="1782.4" y2="1782.4" stroke="#ebebeb" stroke-width="1.2"/>
<line x1="825.8" x2="1049.3" y1="1719.2" y2="1719.2" stroke="#ebebeb" stroke-width="1.2"/>
<line x1="825.8" x2="1049.3" y1="1655.9" y2="1655.9" stroke="#ebebeb" stroke-width="1.2"/>
<line x1="825.8" x2="1049.3" y1="1592.7" y2="1592.7" stroke="#ebebeb" stroke-width="1.2"/>
<path transform="scale(0.5)" d="M1674 3480h0m0-75h0m10-4h0m3 102h0m1-90h0m1 21h0m0-53h0m1-12h0m1 10h0m2-151h0m2 156h0m3 9h0m0-68h0m1 94h0m0-126h0m3 66h0m1-53h0m1 4h0m0 134h0m0-51h0m1-57h0m0-18h0m0 145h0m1-11h0m1-11h0m0 117h0m1-150h0m0-4h0m0-60h0m0 13h0m1 3h0m0-71h0m0 49h0m0 48h0m2 10h0m1 73h0m0-64h0m0-64h0m0 56h0m1-152h0m0 229h0m0-184h0m1-64h0m1 147h0m0-46h0m0 62h0m1-59h0m0 89h0m0-98h0m1 27h0m0 23h0m1 15h0m0 8h0m1-74h0m0 105h0m0-197h0m0 255h0m0-88h0m0-104h0m0-63h0m1 145h0m0-49h0m0 63h0m1-3h0m0 55h0m0 17h0m0-247h0m1 306h0m0-71h0m1-68h0m0-70h0m0-67h0m1 165h0m0-18h0m0-79h0m0 66h0m0-43h0m1 120h0m0-98h0m0 26h0m1-98h0m0 111h0m0-130h0m0 126h0m0 64h0m1-87h0m0-29h0m0 73h0m0-47h0m0-43h0m0 50h0m0 60h0m0-129h0m1 105h0m1-114h0m0 146h0m0-15h0m0-5h0m1-6h0m0 19h0m0-97h0m1 159h0m0-89h0m0-77h0m0 128h0m1-91h0m0-53h0m1 132h0m0-139h0m0 58h0m0-38h0m1 95h0m1-37h0m0 100h0m0-156h0m0-120h0m0 213h0m0-119h0m0 45h0m0-99h0m1 132h0m0 28h0m0-15h0m1-168h0m0 192h0m0-51h0m0-15h0m1-60h0m0 123h0m0-71h0m0-99h0m0 188h0m0-175h0m1 142h0m0 10h0m0-79h0m0-19h0m1 172h0m0-150h0m0 117h0m0-2h0m0-36h0m0-6h0m0 3h0m1 48h0m0-58h0m0 53h0m1-41h0m0 39h0m0-24h0m0-123h0m0 87h0m0 68h0m1-77h0m0-129h0m1 25h0m0 87h0m0 28h0m1-100h0m0-16h0m0 117h0m0-71h0m0-19h0m1 92h0m0-163h0m1 66h0m0 183h0m0-221h0m0 60h0m1 96h0m0-121h0m1-44h0m0 103h0m0-28h0m1 129h0m0-130h0m0 38h0m1 1h0m0 114h0m0-165h0m1 23h0m0-34h0m0 106h0m0 26h0m0-64h0m0-30h0m1-38h0m0 37h0m0 31h0m0 21h0m1 4h0m0 37h0m0-56h0m0-177h0m1 205h0m0-44h0m0 104h0m1-167h0m0 42h0m0 44h0m0-78h0m0 146h0m0-46h0m0 62h0m0-17h0m0-155h0m1 55h0m0-52h0m0 39h0m0 27h0m1 5h0m0-107h0m0 191h0m0-179h0m1 129h0m0 21h0m1 127h0m0-245h0m0 109h0m0 70h0m0-134h0m0-40h0m0 77h0m0-74h0m0 47h0m1 119h0m0 72h0m0-179h0m1-76h0m0 201h0m0-173h0m0 45h0m0 24h0m0 91h0m1-134h0m0 73h0m1-112h0m1 68h0m0-117h0m0 48h0m0-13h0m0-30h0m0 6h0m1 100h0m0-169h0m0 100h0m0-66h0m0 188h0m0-147h0m1 152h0m0-60h0m0-163h0m0 122h0m1 5h0m0 52h0m0-157h0m0 165h0m0-94h0m0 198h0m0-90h0m1 15h0m0-32h0m0-28h0m0 13h0m1 3h0m0 129h0m0-177h0m1 21h0m0-29h0m0 59h0m1-89h0m0 56h0m0-28h0m0-125h0m2 106h0m0 37h0m0-43h0m0 88h0m1-65h0m0 108h0m0-40h0m0-2h0m0-12h0m0-100h0m1-57h0m1 108h0m0 24h0m0-19h0m0-31h0m1 49h0m0 25h0m0-195h0m0 137h0m0 84h0m1-160h0m1 95h0m1 5h0m0 49h0m0-74h0m0 51h0m0 8h0m1-83h0m1 100h0m0-19h0m0 29h0m0-80h0m1-38h0m0 98h0m0-51h0m0 0h0m0 6h0m0 37h0m0-22h0m1 38h0m0-24h0m0-100h0m1 162h0m0 0h0m0-199h0m0 292h0m1-145h0m1 49h0m0 42h0m0-61h0m0-209h0m0 178h0m1 4h0m0-85h0m0 142h0m1-65h0m0-90h0m0 144h0m0 38h0m1 42h0m0-129h0m0-93h0m0 1h0m0 23h0m1 129h0m0 127h0m1-164h0m0 99h0m0-87h0m1-71h0m0-5h0m2 10h0m0-137h0m0 271h0m1-149h0m0 42h0m0-22h0m0 33h0m0-5h0m0-163h0m1 107h0m2-48h0m0 206h0m0-147h0m0-37h0m0 58h0m1 29h0m1-39h0m1 6h0m0-24h0m0 31h0m0-2h0m0-55h0m0 77h0m2-84h0m0-33h0m0 5h0m0 162h0m2-111h0m0 69h0m0-38h0m1-78h0m0 16h0m2-36h0m1 224h0m0-115h0m1 123h0m0-117h0m1-78h0m0 4h0m1 158h0m0-7h0m1-77h0m1 6h0m0 11h0m1-47h0m1-27h0m1 6h0m0 21h0m0-93h0m3 110h0m3-14h0m0-39h0m1-47h0m1 90h0m1-50h0m0 90h0m1-72h0m0-30h0m0 116h0m1 10h0m0-74h0m1-2h0m1-38h0m1 84h0m2-57h0m2-24h0m4 129h0m6-22h0m2-84h0m1 90h0m1-58h0m2 3h0m1-43h0m0-3h0m2-23h0m1 148h0m0-48h0m3-88h0m0 90h0m3-170h0m0 156h0m0-72h0m1 87h0m5-52h0m1 38h0m3-62h0m5 7h0m3 11h0m2 79h0m6-117h0m1 64h0m1 26h0m2-25h0m1-133h0m2 134h0m1-25h0m3 5h0m4 33h0m13-88h0m3 52h0m2 18h0m7-67h0m1 13h0m13 15h0m7-23h0m2 55h0m1-55h0m1 101h0m11-114h0m0 18h0m0 59h0m1 11h0m2-47h0m0 11h0m11-45h0m9-3h0m3 71h0m8-64h0m7 62h0m9-84h0m1-14h0m6 66h0m2-62h0m15-18h0m4 94h0m7-52h0" stroke="#2b2b2b" stroke-width="12.2" stroke-linecap="round" fill="none"/>
<polygon points="836.0,1684.3 839.4,1685.8 842.8,1686.5 846.3,1685.9 849.7,1684.3 853.2,1682.1 856.6,1679.6 860.1,1678.1 863.5,1677.3 867.0,1676.2 870.4,1675.1 873.8,1674.3 877.3,1673.6 880.7,1672.8 884.2,1672.0 887.6,1671.1 891.1,1670.1 894.5,1669.0 898.0,1668.0 901.4,1665.9 904.8,1663.6 908.3,1661.2 911.7,1658.7 915.2,1657.1 918.6,1655.6 922.1,1654.1 925.5,1652.5 929.0,1651.2 932.4,1650.0 935.8,1648.8 939.3,1647.6 942.7,1646.6 946.2,1645.6 949.6,1644.6 953.1,1643.6 956.5,1642.7 960.0,1641.9 963.4,1641.2 966.8,1640.5 970.3,1640.1 973.7,1639.8 977.2,1639.4 980.6,1639.1 984.1,1638.6 987.5,1638.1 991.0,1637.5 994.4,1636.8 997.8,1636.0 1001.3,1635.0 1004.7,1633.8 1008.2,1632.4 1011.6,1630.5 1015.1,1628.0 1018.5,1624.7 1022.0,1622.1 1025.4,1622.0 1028.8,1621.8 1032.3,1621.6 1035.7,1621.5 1039.2,1621.3 1039.2,1671.3 1035.7,1672.2 1032.3,1673.1 1028.8,1674.0 1025.4,1674.9 1022.0,1675.8 1018.5,1673.9 1015.1,1671.3 1011.6,1669.5 1008.2,1668.3 1004.7,1667.6 1001.3,1667.1 997.8,1666.8 994.4,1666.6 991.0,1666.6 987.5,1666.7 984.1,1666.9 980.6,1667.1 977.2,1667.5 973.7,1667.8 970.3,1668.1 966.8,1668.4 963.4,1668.8 960.0,1669.1 956.5,1669.3 953.1,1669.5 949.6,1669.6 946.2,1669.6 942.7,1669.6 939.3,1669.7 935.8,1669.8 932.4,1670.0 929.0,1670.2 925.5,1670.4 922.1,1670.9 918.6,1671.4 915.2,1672.0 911.7,1672.8 908.3,1674.4 904.8,1676.2 901.4,1678.0 898.0,1679.6 894.5,1680.3 891.1,1681.0 887.6,1681.8 884.2,1682.7 880.7,1683.5 877.3,1684.4 873.8,1685.3 870.4,1686.5 867.0,1688.1 863.5,1689.9 860.1,1691.7 856.6,1694.4 853.2,1698.8 849.7,1703.5 846.3,1708.6 842.8,1714.1 839.4,1720.7 836.0,1728.3" fill="#999999" fill-opacity="0.4"/>
<polyline points="836.0,1706.3 846.9,1696.8 857.8,1685.8 871.4,1680.4 885.1,1677.1 898.7,1673.6 912.3,1665.4 926.0,1661.3 939.6,1658.6 966.9,1654.5 994.2,1651.7 1021.4,1649.0 1039.2,1646.3" fill="none" stroke="#1662c4" stroke-width="2.5" stroke-linejoin="round" stroke-linecap="round"/>
</g>
<text class="rd" transform="translate(1045.9,1590.6) scale(1,1.06)" text-anchor="end">partial.cor = 0.268</text>
<text class="rd" transform="translate(1045.9,1605.5) scale(1,1.06)" text-anchor="end">p = 9.37e-09</text>
<line x1="825.8" x2="825.8" y1="1551.5" y2="1788.5" stroke="#333" stroke-width="1.7"/>
<line x1="1049.3" x2="1049.3" y1="1551.5" y2="1788.5" stroke="#333" stroke-width="1.7"/>
<line x1="825.8" x2="1049.3" y1="1575.3" y2="1575.3" stroke="#262626" stroke-width="1.6"/>
<line x1="825.8" x2="1049.3" y1="1788.5" y2="1788.5" stroke="#e6e6e6" stroke-width="1.2"/>
<line x1="835.4" x2="835.4" y1="1788.5" y2="1792.3" stroke="#333" stroke-width="1.6"/>
<text class="ax" x="835.4" y="1804.8" text-anchor="middle">0.0</text>
<line x1="876.3" x2="876.3" y1="1788.5" y2="1792.3" stroke="#333" stroke-width="1.6"/>
<text class="ax" x="876.3" y="1804.8" text-anchor="middle">0.1</text>
<line x1="917.2" x2="917.2" y1="1788.5" y2="1792.3" stroke="#333" stroke-width="1.6"/>
<text class="ax" x="917.2" y="1804.8" text-anchor="middle">0.2</text>
<line x1="958.1" x2="958.1" y1="1788.5" y2="1792.3" stroke="#333" stroke-width="1.6"/>
<text class="ax" x="958.1" y="1804.8" text-anchor="middle">0.3</text>
<line x1="999.0" x2="999.0" y1="1788.5" y2="1792.3" stroke="#333" stroke-width="1.6"/>
<text class="ax" x="999.0" y="1804.8" text-anchor="middle">0.4</text>
<line x1="1039.9" x2="1039.9" y1="1788.5" y2="1792.3" stroke="#333" stroke-width="1.6"/>
<text class="ax" x="1039.9" y="1804.8" text-anchor="middle">0.5</text>
<rect x="1057.8" y="1551.5" width="223.5" height="23.8" fill="#d9d9d9" stroke="#555" stroke-width="1"/>
<text class="st" transform="translate(1169.5,1567.4) scale(1,1.08)" text-anchor="middle">Macrophage</text>
<g><clipPath id="cp4_4"><rect x="1057.8" y="1575.3" width="223.5" height="213.2"/></clipPath></g>
<g clip-path="url(#cp4_4)">
<line x1="1092.7" x2="1092.7" y1="1575.3" y2="1788.5" stroke="#f2f2f2" stroke-width="0.8"/>
<line x1="1142.9" x2="1142.9" y1="1575.3" y2="1788.5" stroke="#f2f2f2" stroke-width="0.8"/>
<line x1="1193.1" x2="1193.1" y1="1575.3" y2="1788.5" stroke="#f2f2f2" stroke-width="0.8"/>
<line x1="1243.3" x2="1243.3" y1="1575.3" y2="1788.5" stroke="#f2f2f2" stroke-width="0.8"/>
<line x1="1057.8" x2="1281.3" y1="1750.8" y2="1750.8" stroke="#f2f2f2" stroke-width="0.8"/>
<line x1="1057.8" x2="1281.3" y1="1687.6" y2="1687.6" stroke="#f2f2f2" stroke-width="0.8"/>
<line x1="1057.8" x2="1281.3" y1="1624.3" y2="1624.3" stroke="#f2f2f2" stroke-width="0.8"/>
<line x1="1067.6" x2="1067.6" y1="1575.3" y2="1788.5" stroke="#ebebeb" stroke-width="1.2"/>
<line x1="1117.8" x2="1117.8" y1="1575.3" y2="1788.5" stroke="#ebebeb" stroke-width="1.2"/>
<line x1="1168.0" x2="1168.0" y1="1575.3" y2="1788.5" stroke="#ebebeb" stroke-width="1.2"/>
<line x1="1218.2" x2="1218.2" y1="1575.3" y2="1788.5" stroke="#ebebeb" stroke-width="1.2"/>
<line x1="1268.4" x2="1268.4" y1="1575.3" y2="1788.5" stroke="#ebebeb" stroke-width="1.2"/>
<line x1="1057.8" x2="1281.3" y1="1782.4" y2="1782.4" stroke="#ebebeb" stroke-width="1.2"/>
<line x1="1057.8" x2="1281.3" y1="1719.2" y2="1719.2" stroke="#ebebeb" stroke-width="1.2"/>
<line x1="1057.8" x2="1281.3" y1="1655.9" y2="1655.9" stroke="#ebebeb" stroke-width="1.2"/>
<line x1="1057.8" x2="1281.3" y1="1592.7" y2="1592.7" stroke="#ebebeb" stroke-width="1.2"/>
<path transform="scale(0.5)" d="M2135 3557h0m0-222h0m0-85h0m0 260h0m0-79h0m0 39h0m0-14h0m0-47h0m0-126h0m0-45h0m0 265h0m0-117h0m0 76h0m0-235h0m0 27h0m0 146h0m0-103h0m0 187h0m0 9h0m0-113h0m0-154h0m0-12h0m0 303h0m0-149h0m0-83h0m0 35h0m0 53h0m0 126h0m0-61h0m0-53h0m0-95h0m0 152h0m0 6h0m0 29h0m0-242h0m0 168h0m0-141h0m0 95h0m0 130h0m0-53h0m0-152h0m0 70h0m0-25h0m0-20h0m0-50h0m0-12h0m0 218h0m0-44h0m0-147h0m0 218h0m0-146h0m0-74h0m0 226h0m0-82h0m0 13h0m0-84h0m0-22h0m0-28h0m0 11h0m0 65h0m0 100h0m0-122h0m0 85h0m0-41h0m0 69h0m0-197h0m0-23h0m0 26h0m0 130h0m0-97h0m0 183h0m0-251h0m0 107h0m0 113h0m0 61h0m0-234h0m0 83h0m0 47h0m0-95h0m0 19h0m0 83h0m0-99h0m0-69h0m0 118h0m0 58h0m0-45h0m0 129h0m0-286h0m0 89h0m0 165h0m0-256h0m0 175h0m0-65h0m0 25h0m3 104h0m1-110h0m0 36h0m0-32h0m2 16h0m0-7h0m1 17h0m0 1h0m0 59h0m1-3h0m0-25h0m1-152h0m1 119h0m0-21h0m0-65h0m1-80h0m0 140h0m0-26h0m0 16h0m0 27h0m1-2h0m0 6h0m0-35h0m1 101h0m0-83h0m0-69h0m0-2h0m1 21h0m0 1h0m0 127h0m1-128h0m0 129h0m1-47h0m0-45h0m0 68h0m1-124h0m0 109h0m0-61h0m0 11h0m0 26h0m1 107h0m0-123h0m0 73h0m0-57h0m0-86h0m0 15h0m1-68h0m0 158h0m0-144h0m0 100h0m1-27h0m0 53h0m1-12h0m0-96h0m0 51h0m1 171h0m0-80h0m0-27h0m0-34h0m1-35h0m0-53h0m0 63h0m1 88h0m0-11h0m0-54h0m1 21h0m0-24h0m1 3h0m0 18h0m0 4h0m1 105h0m0-53h0m0-119h0m1-68h0m0-12h0m1 70h0m0 56h0m0 49h0m2-117h0m0 118h0m0-73h0m1-50h0m1 134h0m1-133h0m0 155h0m0-13h0m1-35h0m0-82h0m0 50h0m1 48h0m0-90h0m1-14h0m0 79h0m0-100h0m1-5h0m0 54h0m1-64h0m0 67h0m1 2h0m0-12h0m1 67h0m0-138h0m0 89h0m0 169h0m1-117h0m0 136h0m1-131h0m0-14h0m0-118h0m0-36h0m0 54h0m0-35h0m1 180h0m0-91h0m0-2h0m0 56h0m1-143h0m0 115h0m2 3h0m1-115h0m0 105h0m0-168h0m0 367h0m1-356h0m0 125h0m0 204h0m0-193h0m1 139h0m1-89h0m0 9h0m0-37h0m0 56h0m1 51h0m0-279h0m0 135h0m1-47h0m0 90h0m0 8h0m0 21h0m0-48h0m0-28h0m1-24h0m0-77h0m1 9h0m0 142h0m0-8h0m0 7h0m1 19h0m0-84h0m0 24h0m1 120h0m0-25h0m0-10h0m0-24h0m0-139h0m0 217h0m1 24h0m0-131h0m0 68h0m0-11h0m0-25h0m1-64h0m1-56h0m1 47h0m0 123h0m1 30h0m0-25h0m1 125h0m0-200h0m0 47h0m0 57h0m0-40h0m1-141h0m0-35h0m1 132h0m0-43h0m0-91h0m0-57h0m0 192h0m1-6h0m1-97h0m0 71h0m1 78h0m0-81h0m0-40h0m0-93h0m1 141h0m0 13h0m0 74h0m0-199h0m1 200h0m0-81h0m0 29h0m1-79h0m0 22h0m1 29h0m1-7h0m1 76h0m0-45h0m3-4h0m1-6h0m0 47h0m0-61h0m1-22h0m1 114h0m0-66h0m0-31h0m1-115h0m0 118h0m1-8h0m0-33h0m0 34h0m1-26h0m0 73h0m1-30h0m0-3h0m0-31h0m1 60h0m2 16h0m0-160h0m0 234h0m2-86h0m1 9h0m1-53h0m1-76h0m0 220h0m0-178h0m0 184h0m1-113h0m0-34h0m1-55h0m0-127h0m2 156h0m1 69h0m0-18h0m1-50h0m0 21h0m1 44h0m1 16h0m0-141h0m1 57h0m0-18h0m1 91h0m0-67h0m0 78h0m0 2h0m0-31h0m0-38h0m1 13h0m1-43h0m0-53h0m0 74h0m0-62h0m1 118h0m1 1h0m1 38h0m0-129h0m1-13h0m0 64h0m1-168h0m0 102h0m1 71h0m0 83h0m0-119h0m0 66h0m2-28h0m2-30h0m0-42h0m1 25h0m1-42h0m0 82h0m0-74h0m1 53h0m0-51h0m2 25h0m1 9h0m0 134h0m0 18h0m1-109h0m1 11h0m1 65h0m2-13h0m1-149h0m0 44h0m0-35h0m0 20h0m2 76h0m0-5h0m1-150h0m0 59h0m1 78h0m2 51h0m3-26h0m0-88h0m2 50h0m0-60h0m2 76h0m0-134h0m1 67h0m0 174h0m0-120h0m1 23h0m2-158h0m7 126h0m0-44h0m0 7h0m1-52h0m1 29h0m1 98h0m0-47h0m0-26h0m3-134h0m0 147h0m1-21h0m1-61h0m1 74h0m1 33h0m0-69h0m1 150h0m0-137h0m1 69h0m5-7h0m1-130h0m0 126h0m0-141h0m5 324h0m1-189h0m0-108h0m0 119h0m1-54h0m3-89h0m5 111h0m8-19h0m1 75h0m3-86h0m3 18h0m1-24h0m2 61h0m3 95h0m4-112h0m1-2h0m7-68h0m6 51h0m2 14h0m1-4h0m3 13h0m6 90h0m5-85h0m1-5h0m3 3h0m3-59h0m1 30h0m4-2h0m1 62h0m10-86h0m2 44h0m3 79h0m17-137h0m16 68h0m0-4h0m7-140h0m3 146h0m4 41h0m1 20h0m2-60h0m2-40h0m1 22h0m6 99h0m3-41h0m15-33h0m6-82h0m0 114h0m7 33h0m2-102h0m5-15h0m8 92h0m7-11h0" stroke="#2b2b2b" stroke-width="12.2" stroke-linecap="round" fill="none"/>
<polygon points="1067.7,1671.8 1071.2,1667.2 1074.6,1664.1 1078.1,1663.3 1081.5,1663.6 1085.0,1665.2 1088.4,1666.7 1091.8,1668.2 1095.3,1669.6 1098.7,1670.9 1102.2,1670.5 1105.6,1669.9 1109.1,1669.2 1112.5,1667.8 1116.0,1666.1 1119.4,1664.4 1122.8,1662.6 1126.3,1660.9 1129.7,1659.2 1133.2,1657.4 1136.6,1655.6 1140.1,1653.8 1143.5,1652.7 1147.0,1651.5 1150.4,1650.2 1153.8,1648.9 1157.3,1647.6 1160.7,1646.6 1164.2,1645.9 1167.6,1645.3 1171.1,1644.6 1174.5,1644.0 1178.0,1643.5 1181.4,1642.9 1184.8,1642.4 1188.3,1642.0 1191.7,1641.8 1195.2,1641.5 1198.6,1641.3 1202.1,1641.1 1205.5,1641.0 1209.0,1641.0 1212.4,1641.1 1215.8,1641.5 1219.3,1642.1 1222.7,1642.6 1226.2,1643.0 1229.6,1643.1 1233.1,1643.0 1236.5,1642.6 1240.0,1641.7 1243.4,1640.3 1246.8,1638.0 1250.3,1634.5 1253.7,1632.3 1257.2,1633.1 1260.6,1633.9 1264.1,1634.6 1267.5,1635.4 1271.0,1636.2 1271.0,1708.2 1267.5,1707.4 1264.1,1706.6 1260.6,1705.9 1257.2,1705.1 1253.7,1704.3 1250.3,1700.5 1246.8,1695.4 1243.4,1691.6 1240.0,1688.8 1236.5,1686.7 1233.1,1685.1 1229.6,1683.8 1226.2,1682.8 1222.7,1682.0 1219.3,1681.3 1215.8,1680.7 1212.4,1680.2 1209.0,1679.7 1205.5,1679.2 1202.1,1678.6 1198.6,1677.8 1195.2,1677.0 1191.7,1676.2 1188.3,1675.4 1184.8,1674.7 1181.4,1674.2 1178.0,1673.7 1174.5,1673.1 1171.1,1672.5 1167.6,1671.9 1164.2,1671.2 1160.7,1670.6 1157.3,1670.3 1153.8,1670.5 1150.4,1670.7 1147.0,1670.9 1143.5,1671.2 1140.1,1671.5 1136.6,1672.5 1133.2,1673.6 1129.7,1674.7 1126.3,1675.9 1122.8,1677.1 1119.4,1678.3 1116.0,1679.6 1112.5,1681.0 1109.1,1682.0 1105.6,1682.4 1102.2,1682.8 1098.7,1683.0 1095.3,1681.6 1091.8,1680.2 1088.4,1678.9 1085.0,1677.7 1081.5,1676.6 1078.1,1677.2 1074.6,1679.2 1071.2,1684.3 1067.7,1691.8" fill="#999999" fill-opacity="0.4"/>
<polyline points="1067.7,1681.8 1073.2,1672.2 1080.0,1669.5 1088.2,1672.8 1099.1,1677.1 1110.0,1675.5 1123.7,1669.5 1140.0,1662.7 1159.1,1658.6 1186.4,1658.6 1213.7,1660.7 1240.9,1665.4 1271.0,1672.2" fill="none" stroke="#1662c4" stroke-width="2.5" stroke-linejoin="round" stroke-linecap="round"/>
</g>
<text class="rd" transform="translate(1277.9,1590.6) scale(1,1.06)" text-anchor="end">partial.cor = 0.218</text>
<text class="rd" transform="translate(1277.9,1605.5) scale(1,1.06)" text-anchor="end">p = 2.69e-06</text>
<line x1="1057.8" x2="1057.8" y1="1551.5" y2="1788.5" stroke="#333" stroke-width="1.7"/>
<line x1="1281.3" x2="1281.3" y1="1551.5" y2="1788.5" stroke="#333" stroke-width="1.7"/>
<line x1="1057.8" x2="1281.3" y1="1575.3" y2="1575.3" stroke="#262626" stroke-width="1.6"/>
<line x1="1057.8" x2="1281.3" y1="1788.5" y2="1788.5" stroke="#e6e6e6" stroke-width="1.2"/>
<line x1="1067.6" x2="1067.6" y1="1788.5" y2="1792.3" stroke="#333" stroke-width="1.6"/>
<text class="ax" x="1067.6" y="1804.8" text-anchor="middle">0.0</text>
<line x1="1117.8" x2="1117.8" y1="1788.5" y2="1792.3" stroke="#333" stroke-width="1.6"/>
<text class="ax" x="1117.8" y="1804.8" text-anchor="middle">0.1</text>
<line x1="1168.0" x2="1168.0" y1="1788.5" y2="1792.3" stroke="#333" stroke-width="1.6"/>
<text class="ax" x="1168.0" y="1804.8" text-anchor="middle">0.2</text>
<line x1="1218.2" x2="1218.2" y1="1788.5" y2="1792.3" stroke="#333" stroke-width="1.6"/>
<text class="ax" x="1218.2" y="1804.8" text-anchor="middle">0.3</text>
<line x1="1268.4" x2="1268.4" y1="1788.5" y2="1792.3" stroke="#333" stroke-width="1.6"/>
<text class="ax" x="1268.4" y="1804.8" text-anchor="middle">0.4</text>
<rect x="1289.8" y="1551.5" width="223.5" height="23.8" fill="#d9d9d9" stroke="#555" stroke-width="1"/>
<text class="st" transform="translate(1401.5,1567.4) scale(1,1.08)" text-anchor="middle">Neutrophil</text>
<g><clipPath id="cp4_5"><rect x="1289.8" y="1575.3" width="223.5" height="213.2"/></clipPath></g>
<g clip-path="url(#cp4_5)">
<line x1="1328.3" x2="1328.3" y1="1575.3" y2="1788.5" stroke="#f2f2f2" stroke-width="0.8"/>
<line x1="1385.6" x2="1385.6" y1="1575.3" y2="1788.5" stroke="#f2f2f2" stroke-width="0.8"/>
<line x1="1442.9" x2="1442.9" y1="1575.3" y2="1788.5" stroke="#f2f2f2" stroke-width="0.8"/>
<line x1="1500.1" x2="1500.1" y1="1575.3" y2="1788.5" stroke="#f2f2f2" stroke-width="0.8"/>
<line x1="1289.8" x2="1513.2" y1="1750.8" y2="1750.8" stroke="#f2f2f2" stroke-width="0.8"/>
<line x1="1289.8" x2="1513.2" y1="1687.6" y2="1687.6" stroke="#f2f2f2" stroke-width="0.8"/>
<line x1="1289.8" x2="1513.2" y1="1624.3" y2="1624.3" stroke="#f2f2f2" stroke-width="0.8"/>
<line x1="1299.7" x2="1299.7" y1="1575.3" y2="1788.5" stroke="#ebebeb" stroke-width="1.2"/>
<line x1="1357.0" x2="1357.0" y1="1575.3" y2="1788.5" stroke="#ebebeb" stroke-width="1.2"/>
<line x1="1414.2" x2="1414.2" y1="1575.3" y2="1788.5" stroke="#ebebeb" stroke-width="1.2"/>
<line x1="1471.5" x2="1471.5" y1="1575.3" y2="1788.5" stroke="#ebebeb" stroke-width="1.2"/>
<line x1="1289.8" x2="1513.2" y1="1782.4" y2="1782.4" stroke="#ebebeb" stroke-width="1.2"/>
<line x1="1289.8" x2="1513.2" y1="1719.2" y2="1719.2" stroke="#ebebeb" stroke-width="1.2"/>
<line x1="1289.8" x2="1513.2" y1="1655.9" y2="1655.9" stroke="#ebebeb" stroke-width="1.2"/>
<line x1="1289.8" x2="1513.2" y1="1592.7" y2="1592.7" stroke="#ebebeb" stroke-width="1.2"/>
<path transform="scale(0.5)" d="M2604 3475h0m2-19h0m2-14h0m7-24h0m8 7h0m1 110h0m0-98h0m2-5h0m0-20h0m1 61h0m2-136h0m1 31h0m1 20h0m1 62h0m0-49h0m1-42h0m1-8h0m2 57h0m0-98h0m0 200h0m1-138h0m1 138h0m0-76h0m0-31h0m1-11h0m1 18h0m0 105h0m1-115h0m0 22h0m1-5h0m3-117h0m0 47h0m1 64h0m0-76h0m3-28h0m0 69h0m0 31h0m0-70h0m1 47h0m1 61h0m0-129h0m3 36h0m0 7h0m0-24h0m0 86h0m1-69h0m0 89h0m1-51h0m0-23h0m0 15h0m1-85h0m0 51h0m0 67h0m1-230h0m0 101h0m0 19h0m1 119h0m1-62h0m1 36h0m0-53h0m0 19h0m1 30h0m0-68h0m1 83h0m0 6h0m1-112h0m1 122h0m1 1h0m0-27h0m1-148h0m0 163h0m1-1h0m1-150h0m1 35h0m0 100h0m2-56h0m0-73h0m0 63h0m0-91h0m0 22h0m0-55h0m1 269h0m0-155h0m0-133h0m0 202h0m1-87h0m0 140h0m1-192h0m0 163h0m0-174h0m0-15h0m0 275h0m1-164h0m0 104h0m0 108h0m1-232h0m0 61h0m0-5h0m1-38h0m0 103h0m0-48h0m0-28h0m0-39h0m1-113h0m0 219h0m0-73h0m0-2h0m1-3h0m1 24h0m0 4h0m0 2h0m0-57h0m0-24h0m0 85h0m1-77h0m0 59h0m0-56h0m0-22h0m1 132h0m0-232h0m1 155h0m0-91h0m0 143h0m0 31h0m0-24h0m0 7h0m0-56h0m1-58h0m0-24h0m0 149h0m0-14h0m0-162h0m1 99h0m0-6h0m0-16h0m0-17h0m0 89h0m0-118h0m0 52h0m1 64h0m0-79h0m0 144h0m0-67h0m1-207h0m0 256h0m0-214h0m1 81h0m0-49h0m0 111h0m0 122h0m0-89h0m1-51h0m1 98h0m0-77h0m0 49h0m1 29h0m1-151h0m1 60h0m0-33h0m1 98h0m0-6h0m1-128h0m0 104h0m0-103h0m1 71h0m0-116h0m0 145h0m0 24h0m0 144h0m0-149h0m1 56h0m1-115h0m0-103h0m1 144h0m0 33h0m0-10h0m0-118h0m0 28h0m0 65h0m1-218h0m0 159h0m1 176h0m0-131h0m0-65h0m0 95h0m0-69h0m0 82h0m0-167h0m1 164h0m0 79h0m1-52h0m0-65h0m0 39h0m0-45h0m0-2h0m1-42h0m0-41h0m0-71h0m1 170h0m0 97h0m0-106h0m0 58h0m1-139h0m0-26h0m0 80h0m0 68h0m1-66h0m0-59h0m0 36h0m0-93h0m1 166h0m0-19h0m0-28h0m1-156h0m0 136h0m0 60h0m1-23h0m0 23h0m0-12h0m0-36h0m1-33h0m0 84h0m0-78h0m0-55h0m1 93h0m0-78h0m0 148h0m0-136h0m1 71h0m0 97h0m1-228h0m0 229h0m1-112h0m1-63h0m0 88h0m0 8h0m0-90h0m0 11h0m1 78h0m1-59h0m1 20h0m0 66h0m0-86h0m0-81h0m1 211h0m0-61h0m0 31h0m0-124h0m1 113h0m0-136h0m0 36h0m0-107h0m0 325h0m1-201h0m0 126h0m1-206h0m1 104h0m0-2h0m1-44h0m0 122h0m0-105h0m0 42h0m0-129h0m0 101h0m1 1h0m0-79h0m1-24h0m0 112h0m0 34h0m1 86h0m0-108h0m1 57h0m2-161h0m0 108h0m0-2h0m1-77h0m0 11h0m0 264h0m0-208h0m0-4h0m1 28h0m0 26h0m1-193h0m0 288h0m0-189h0m0 68h0m1-36h0m1 55h0m0-35h0m0-54h0m0-26h0m0 181h0m0-61h0m1-53h0m0 82h0m0-92h0m1 31h0m0 43h0m0-14h0m1 5h0m1-55h0m0 26h0m0-100h0m0-80h0m1 142h0m0-101h0m0 258h0m1-116h0m0 20h0m1 40h0m0-93h0m1-33h0m0 41h0m0-63h0m0 119h0m1-95h0m0 60h0m0-147h0m0 150h0m1-58h0m1-73h0m1 58h0m0 95h0m0-82h0m0 107h0m0-58h0m0 42h0m0 18h0m0-125h0m1 112h0m0 12h0m2-72h0m0 85h0m0-100h0m0-51h0m1 194h0m0-233h0m1 72h0m0-4h0m1 95h0m1-79h0m0 18h0m1 49h0m0-52h0m0 119h0m1-138h0m0 20h0m0-95h0m2-59h0m0 159h0m0 176h0m1-126h0m0-92h0m0 43h0m1 39h0m0 60h0m0-278h0m1 303h0m1-153h0m0 57h0m1-18h0m1 95h0m0-60h0m1-59h0m1 32h0m0-86h0m1 135h0m0-73h0m0-12h0m0-21h0m1-61h0m0 98h0m1 132h0m0-185h0m1 67h0m1-62h0m0-66h0m0-58h0m0 143h0m1 22h0m0 38h0m1-77h0m1 52h0m1-101h0m0 97h0m1-55h0m0 59h0m1 16h0m0-96h0m0-1h0m1 88h0m1-108h0m2 9h0m1 44h0m2 116h0m0-164h0m0 50h0m1 30h0m0 26h0m0 41h0m2-124h0m1 2h0m0-9h0m0 3h0m1 133h0m2-165h0m1 181h0m1-125h0m4 134h0m0-52h0m1 10h0m3-73h0m1 19h0m0 1h0m1-40h0m3 37h0m0-30h0m1-27h0m0 50h0m1-98h0m1 145h0m1-140h0m0 46h0m2 101h0m2-60h0m3 28h0m1-14h0m2-35h0m2 34h0m1 27h0m2-75h0m6 55h0m5-15h0m3-17h0m1-37h0m2 106h0m5-50h0m5 133h0m0-68h0m2-103h0m9 9h0m1 9h0m4-22h0m2-64h0m1 164h0m8-70h0m3 21h0m3 24h0m3-32h0m14-9h0m8-26h0m1-16h0m8 49h0m1-21h0m9-22h0m9 90h0m0-116h0m8 5h0m7 5h0m11-10h0m3 101h0m4-57h0m4-15h0m1-35h0m2 46h0m1-26h0m2 14h0m0-3h0m5-20h0m3 57h0m11-65h0" stroke="#2b2b2b" stroke-width="12.2" stroke-linecap="round" fill="none"/>
<polygon points="1299.6,1696.3 1303.0,1695.6 1306.5,1695.2 1309.9,1693.6 1313.4,1691.6 1316.8,1689.0 1320.3,1686.1 1323.7,1683.2 1327.1,1681.1 1330.6,1678.8 1334.0,1676.5 1337.5,1674.5 1340.9,1673.7 1344.4,1672.9 1347.8,1672.0 1351.3,1671.2 1354.7,1670.8 1358.1,1670.3 1361.6,1669.9 1365.0,1669.2 1368.5,1668.2 1371.9,1667.3 1375.4,1666.3 1378.8,1665.3 1382.3,1664.5 1385.7,1663.6 1389.1,1662.7 1392.6,1661.8 1396.0,1660.8 1399.5,1659.8 1402.9,1658.7 1406.4,1657.5 1409.8,1656.2 1413.3,1654.9 1416.7,1653.5 1420.1,1652.1 1423.6,1650.7 1427.0,1649.4 1430.5,1648.1 1433.9,1646.7 1437.4,1645.2 1440.8,1643.8 1444.3,1642.5 1447.7,1641.2 1451.1,1639.9 1454.6,1638.7 1458.0,1637.6 1461.5,1636.2 1464.9,1634.7 1468.4,1633.2 1471.8,1631.7 1475.3,1630.2 1478.7,1628.6 1482.1,1626.7 1485.6,1624.6 1489.0,1621.6 1492.5,1617.9 1495.9,1613.4 1499.4,1607.9 1502.8,1604.2 1502.8,1650.2 1499.4,1651.1 1495.9,1650.2 1492.5,1650.3 1489.0,1651.2 1485.6,1652.4 1482.1,1653.4 1478.7,1654.6 1475.3,1656.1 1471.8,1657.7 1468.4,1659.3 1464.9,1660.9 1461.5,1662.5 1458.0,1663.9 1454.6,1664.8 1451.1,1665.7 1447.7,1666.5 1444.3,1667.2 1440.8,1668.0 1437.4,1668.6 1433.9,1669.3 1430.5,1669.8 1427.0,1670.2 1423.6,1670.5 1420.1,1670.9 1416.7,1671.2 1413.3,1671.6 1409.8,1672.0 1406.4,1672.4 1402.9,1672.7 1399.5,1673.0 1396.0,1673.4 1392.6,1673.8 1389.1,1674.2 1385.7,1674.7 1382.3,1675.2 1378.8,1675.7 1375.4,1676.4 1371.9,1677.2 1368.5,1678.1 1365.0,1678.9 1361.6,1679.5 1358.1,1680.0 1354.7,1680.5 1351.3,1681.0 1347.8,1682.0 1344.4,1683.1 1340.9,1684.3 1337.5,1685.6 1334.0,1688.1 1330.6,1691.3 1327.1,1694.5 1323.7,1698.0 1320.3,1702.6 1316.8,1707.9 1313.4,1713.6 1309.9,1719.9 1306.5,1727.7 1303.0,1737.1 1299.6,1746.3" fill="#999999" fill-opacity="0.4"/>
<polyline points="1299.6,1721.3 1309.1,1707.7 1322.8,1691.3 1336.4,1680.4 1350.1,1676.3 1363.7,1674.4 1377.3,1670.8 1404.6,1665.4 1431.9,1658.6 1459.2,1650.4 1486.4,1638.1 1502.8,1627.2" fill="none" stroke="#1662c4" stroke-width="2.5" stroke-linejoin="round" stroke-linecap="round"/>
</g>
<text class="rd" transform="translate(1509.8,1590.6) scale(1,1.06)" text-anchor="end">partial.cor = 0.314</text>
<text class="rd" transform="translate(1509.8,1605.5) scale(1,1.06)" text-anchor="end">p = 8.21e-12</text>
<line x1="1289.8" x2="1289.8" y1="1551.5" y2="1788.5" stroke="#333" stroke-width="1.7"/>
<line x1="1513.2" x2="1513.2" y1="1551.5" y2="1788.5" stroke="#333" stroke-width="1.7"/>
<line x1="1289.8" x2="1513.2" y1="1575.3" y2="1575.3" stroke="#262626" stroke-width="1.6"/>
<line x1="1289.8" x2="1513.2" y1="1788.5" y2="1788.5" stroke="#e6e6e6" stroke-width="1.2"/>
<line x1="1299.7" x2="1299.7" y1="1788.5" y2="1792.3" stroke="#333" stroke-width="1.6"/>
<text class="ax" x="1299.7" y="1804.8" text-anchor="middle">0.0</text>
<line x1="1357.0" x2="1357.0" y1="1788.5" y2="1792.3" stroke="#333" stroke-width="1.6"/>
<text class="ax" x="1357.0" y="1804.8" text-anchor="middle">0.1</text>
<line x1="1414.2" x2="1414.2" y1="1788.5" y2="1792.3" stroke="#333" stroke-width="1.6"/>
<text class="ax" x="1414.2" y="1804.8" text-anchor="middle">0.2</text>
<line x1="1471.5" x2="1471.5" y1="1788.5" y2="1792.3" stroke="#333" stroke-width="1.6"/>
<text class="ax" x="1471.5" y="1804.8" text-anchor="middle">0.3</text>
<rect x="1521.7" y="1551.5" width="223.5" height="23.8" fill="#d9d9d9" stroke="#555" stroke-width="1"/>
<text class="st" transform="translate(1633.4,1567.4) scale(1,1.08)" text-anchor="middle">Dendritic Cell</text>
<g><clipPath id="cp4_6"><rect x="1521.7" y="1575.3" width="223.5" height="213.2"/></clipPath></g>
<g clip-path="url(#cp4_6)">
<line x1="1567.9" x2="1567.9" y1="1575.3" y2="1788.5" stroke="#f2f2f2" stroke-width="0.8"/>
<line x1="1616.6" x2="1616.6" y1="1575.3" y2="1788.5" stroke="#f2f2f2" stroke-width="0.8"/>
<line x1="1665.3" x2="1665.3" y1="1575.3" y2="1788.5" stroke="#f2f2f2" stroke-width="0.8"/>
<line x1="1714.0" x2="1714.0" y1="1575.3" y2="1788.5" stroke="#f2f2f2" stroke-width="0.8"/>
<line x1="1521.7" x2="1745.2" y1="1750.8" y2="1750.8" stroke="#f2f2f2" stroke-width="0.8"/>
<line x1="1521.7" x2="1745.2" y1="1687.6" y2="1687.6" stroke="#f2f2f2" stroke-width="0.8"/>
<line x1="1521.7" x2="1745.2" y1="1624.3" y2="1624.3" stroke="#f2f2f2" stroke-width="0.8"/>
<line x1="1543.6" x2="1543.6" y1="1575.3" y2="1788.5" stroke="#ebebeb" stroke-width="1.2"/>
<line x1="1592.3" x2="1592.3" y1="1575.3" y2="1788.5" stroke="#ebebeb" stroke-width="1.2"/>
<line x1="1641.0" x2="1641.0" y1="1575.3" y2="1788.5" stroke="#ebebeb" stroke-width="1.2"/>
<line x1="1689.7" x2="1689.7" y1="1575.3" y2="1788.5" stroke="#ebebeb" stroke-width="1.2"/>
<line x1="1738.4" x2="1738.4" y1="1575.3" y2="1788.5" stroke="#ebebeb" stroke-width="1.2"/>
<line x1="1521.7" x2="1745.2" y1="1782.4" y2="1782.4" stroke="#ebebeb" stroke-width="1.2"/>
<line x1="1521.7" x2="1745.2" y1="1719.2" y2="1719.2" stroke="#ebebeb" stroke-width="1.2"/>
<line x1="1521.7" x2="1745.2" y1="1655.9" y2="1655.9" stroke="#ebebeb" stroke-width="1.2"/>
<line x1="1521.7" x2="1745.2" y1="1592.7" y2="1592.7" stroke="#ebebeb" stroke-width="1.2"/>
<path transform="scale(0.5)" d="M3068 3313h0m2 23h0m2 65h0m0 1h0m2-4h0m0-5h0m1-93h0m0 20h0m1-64h0m0 185h0m0 51h0m0-90h0m1-64h0m0 66h0m1-80h0m0-50h0m1 178h0m1-52h0m0-91h0m0 39h0m1 32h0m0 3h0m1-49h0m1-87h0m0 164h0m0-18h0m0 56h0m1-103h0m0-149h0m0 209h0m0-65h0m1 197h0m0-131h0m0 45h0m0-65h0m0-40h0m1-12h0m1-77h0m0 125h0m0 67h0m0-92h0m0-22h0m0-67h0m0 159h0m0-80h0m1 53h0m0 26h0m0-149h0m1 121h0m0-120h0m0 105h0m1-16h0m0 34h0m0-122h0m0 88h0m0 12h0m1 22h0m1-127h0m0 234h0m0-136h0m1 141h0m0-91h0m0-76h0m0 39h0m0-65h0m0-71h0m1 154h0m0 2h0m0 53h0m1-209h0m0 111h0m0 98h0m0-137h0m1 32h0m0 150h0m0-206h0m0 78h0m0 22h0m0 25h0m1 5h0m0-192h0m0 94h0m1 127h0m0-119h0m2 76h0m0-97h0m0-108h0m0 158h0m0 63h0m1 23h0m0-253h0m0 196h0m0 45h0m0-97h0m1-28h0m0 37h0m0 123h0m1-248h0m0 73h0m1 50h0m0-96h0m0 92h0m0 50h0m1-56h0m0-113h0m0 106h0m0 196h0m1-88h0m0-46h0m1-59h0m0 28h0m0 104h0m0 21h0m1-91h0m0 85h0m0-87h0m0-41h0m1 10h0m0 56h0m0-108h0m0 33h0m0-17h0m0-37h0m0 21h0m0 50h0m1 36h0m0-61h0m0-44h0m0 123h0m0-163h0m1 120h0m0-152h0m0 141h0m0-21h0m1 37h0m0-35h0m1 29h0m1 102h0m0-103h0m0 35h0m0-90h0m1 29h0m0 1h0m0 19h0m0 69h0m0-84h0m0-5h0m0 76h0m1-65h0m0-141h0m0 112h0m0-79h0m1 142h0m0 19h0m1-37h0m0-55h0m0 81h0m0-154h0m0 165h0m0-119h0m2-37h0m0 163h0m0-86h0m0 48h0m1-52h0m0-100h0m1 116h0m1 31h0m0-53h0m1 67h0m0 141h0m0-169h0m0-27h0m1-28h0m0 48h0m0-50h0m0 77h0m1-19h0m0-26h0m0 37h0m0 110h0m1-282h0m0 142h0m0-8h0m0 65h0m1-18h0m0-41h0m0 133h0m0-242h0m1 203h0m0 7h0m0-180h0m0 102h0m1-24h0m1 14h0m0-54h0m0 163h0m0-113h0m1 38h0m0-49h0m0-33h0m0 120h0m2-85h0m0 48h0m1-110h0m0 27h0m0-64h0m0 188h0m0-75h0m1 28h0m0 84h0m1-203h0m0 104h0m0 61h0m0-12h0m0-106h0m0 63h0m1 27h0m0-82h0m0 37h0m0-72h0m1 116h0m0-171h0m1 217h0m0-150h0m1 52h0m0-74h0m0 166h0m0-41h0m1-33h0m0 29h0m0-49h0m0 58h0m1-47h0m0-48h0m0 142h0m1-83h0m0 19h0m0-67h0m0 226h0m0-219h0m1 231h0m0-235h0m0-36h0m0 126h0m1-159h0m0 151h0m0 65h0m0 29h0m0-147h0m1-48h0m1 246h0m0-176h0m1 54h0m0-34h0m0 22h0m0 64h0m0-129h0m1-77h0m0 113h0m0-28h0m1 31h0m1-102h0m0-58h0m0 196h0m0-63h0m1-54h0m2 27h0m1 5h0m0 26h0m0 13h0m1-136h0m0 91h0m1 5h0m0 62h0m1-148h0m0 135h0m0 27h0m0-164h0m1 58h0m0 85h0m1-194h0m0 231h0m0-110h0m0 79h0m0-155h0m1 120h0m0-12h0m0-9h0m0 25h0m0-1h0m1-194h0m0 230h0m0 21h0m2-87h0m0-20h0m1-89h0m1 91h0m1 146h0m0-77h0m0-83h0m1 29h0m0 31h0m0 8h0m1-143h0m0 180h0m1-91h0m0 43h0m0 73h0m0-30h0m1-58h0m1 134h0m0-120h0m0 16h0m1 14h0m0-21h0m1 31h0m0-68h0m0-52h0m0 245h0m0-135h0m0 52h0m0-95h0m1-46h0m0 34h0m1 0h0m0-117h0m0 96h0m0 29h0m1 12h0m0-17h0m0-17h0m1 41h0m0-32h0m0-17h0m1-72h0m1 133h0m0-57h0m0-27h0m2 41h0m1 50h0m1-88h0m0 45h0m1 143h0m0-255h0m0 186h0m0-15h0m1-15h0m0 101h0m0-159h0m1 25h0m1 109h0m1-49h0m1-49h0m0-79h0m0-37h0m1 159h0m1-70h0m0 5h0m0 99h0m4-85h0m0 41h0m1-26h0m0-11h0m1-130h0m1 66h0m1 20h0m0-33h0m3 122h0m0-87h0m0 41h0m1-84h0m2 45h0m0 9h0m2 12h0m0 29h0m1 28h0m1-70h0m0-5h0m0 79h0m1-171h0m0 48h0m1 20h0m1 35h0m0-12h0m1-43h0m5 59h0m0 73h0m0-148h0m0 20h0m0 34h0m2 90h0m0-21h0m3 26h0m0-17h0m1-115h0m0 94h0m4-31h0m4-35h0m0 113h0m1-40h0m0 13h0m1-50h0m0-9h0m7 18h0m2-5h0m2-78h0m1 87h0m1 59h0m0-98h0m1 14h0m1-33h0m2 12h0m4-71h0m0 42h0m1 63h0m6-25h0m0 44h0m1-108h0m2 51h0m1 5h0m8 14h0m0 57h0m1-11h0m1 6h0m1-128h0m8 78h0m4-22h0m0-33h0m1 12h0m1 51h0m4 66h0m2-106h0m5 117h0m0-79h0m2 11h0m2-34h0m2-15h0m4 40h0m8-16h0m16 25h0m2-29h0m8 125h0m1-114h0m11 194h0m0-199h0m1-63h0m2 58h0m2 24h0m0-68h0m2 17h0m3 27h0m6-64h0m7 73h0m0 36h0m4-67h0m1-30h0m6-47h0m5 91h0m2 82h0m6-119h0m0 15h0m7 17h0m3 20h0m9 17h0m0-83h0m8-8h0m2 36h0m5-47h0m3 120h0m12-105h0" stroke="#2b2b2b" stroke-width="12.2" stroke-linecap="round" fill="none"/>
<polygon points="1531.5,1680.5 1535.0,1679.5 1538.4,1678.9 1541.9,1677.4 1545.3,1676.7 1548.8,1675.5 1552.3,1674.1 1555.7,1673.9 1559.2,1673.8 1562.6,1673.6 1566.1,1674.5 1569.5,1675.9 1573.0,1677.2 1576.5,1677.1 1579.9,1675.8 1583.4,1674.4 1586.8,1672.3 1590.3,1669.1 1593.8,1665.9 1597.2,1663.0 1600.7,1661.5 1604.1,1659.9 1607.6,1658.3 1611.0,1657.6 1614.5,1656.9 1618.0,1656.2 1621.4,1655.5 1624.9,1654.8 1628.3,1654.1 1631.8,1653.4 1635.3,1652.7 1638.7,1651.9 1642.2,1651.1 1645.6,1650.3 1649.1,1649.5 1652.5,1648.7 1656.0,1647.9 1659.5,1647.2 1662.9,1646.6 1666.4,1645.9 1669.8,1645.3 1673.3,1644.8 1676.8,1644.4 1680.2,1644.0 1683.7,1643.6 1687.1,1643.1 1690.6,1642.4 1694.0,1641.4 1697.5,1640.3 1701.0,1639.1 1704.4,1637.7 1707.9,1636.2 1711.3,1634.4 1714.8,1632.3 1718.3,1629.7 1721.7,1626.3 1725.2,1622.0 1728.6,1620.8 1732.1,1620.1 1735.5,1619.5 1735.5,1659.5 1732.1,1661.3 1728.6,1663.1 1725.2,1664.3 1721.7,1662.5 1718.3,1661.6 1714.8,1661.2 1711.3,1661.2 1707.9,1661.5 1704.4,1662.1 1701.0,1662.8 1697.5,1663.7 1694.0,1664.7 1690.6,1665.7 1687.1,1666.7 1683.7,1667.6 1680.2,1668.5 1676.8,1669.5 1673.3,1670.5 1669.8,1671.4 1666.4,1672.2 1662.9,1672.9 1659.5,1673.3 1656.0,1673.7 1652.5,1674.0 1649.1,1674.2 1645.6,1674.4 1642.2,1674.7 1638.7,1674.9 1635.3,1675.1 1631.8,1675.2 1628.3,1675.2 1624.9,1675.2 1621.4,1675.2 1618.0,1675.2 1614.5,1675.2 1611.0,1675.1 1607.6,1675.1 1604.1,1676.0 1600.7,1677.0 1597.2,1678.1 1593.8,1680.5 1590.3,1683.3 1586.8,1686.2 1583.4,1688.0 1579.9,1689.2 1576.5,1690.5 1573.0,1690.5 1569.5,1689.3 1566.1,1688.1 1562.6,1687.4 1559.2,1688.1 1555.7,1688.9 1552.3,1690.1 1548.8,1693.0 1545.3,1696.1 1541.9,1699.8 1538.4,1705.5 1535.0,1712.2 1531.5,1718.5" fill="#999999" fill-opacity="0.4"/>
<polyline points="1531.5,1699.5 1541.9,1688.6 1552.8,1681.8 1563.7,1680.4 1574.6,1684.5 1585.5,1680.4 1596.4,1670.8 1607.3,1666.8 1634.6,1664.0 1661.9,1659.9 1689.2,1654.5 1716.4,1646.3 1735.5,1639.5" fill="none" stroke="#1662c4" stroke-width="2.5" stroke-linejoin="round" stroke-linecap="round"/>
</g>
<text class="rd" transform="translate(1741.8,1590.6) scale(1,1.06)" text-anchor="end">partial.cor = 0.29</text>
<text class="rd" transform="translate(1741.8,1605.5) scale(1,1.06)" text-anchor="end">p = 4.23e-10</text>
<line x1="1521.7" x2="1521.7" y1="1551.5" y2="1788.5" stroke="#333" stroke-width="1.7"/>
<line x1="1745.2" x2="1745.2" y1="1551.5" y2="1788.5" stroke="#333" stroke-width="1.7"/>
<line x1="1521.7" x2="1745.2" y1="1575.3" y2="1575.3" stroke="#262626" stroke-width="1.6"/>
<line x1="1521.7" x2="1745.2" y1="1788.5" y2="1788.5" stroke="#e6e6e6" stroke-width="1.2"/>
<line x1="1543.6" x2="1543.6" y1="1788.5" y2="1792.3" stroke="#333" stroke-width="1.6"/>
<text class="ax" x="1543.6" y="1804.8" text-anchor="middle">0.25</text>
<line x1="1592.3" x2="1592.3" y1="1788.5" y2="1792.3" stroke="#333" stroke-width="1.6"/>
<text class="ax" x="1592.3" y="1804.8" text-anchor="middle">0.50</text>
<line x1="1641.0" x2="1641.0" y1="1788.5" y2="1792.3" stroke="#333" stroke-width="1.6"/>
<text class="ax" x="1641.0" y="1804.8" text-anchor="middle">0.75</text>
<line x1="1689.7" x2="1689.7" y1="1788.5" y2="1792.3" stroke="#333" stroke-width="1.6"/>
<text class="ax" x="1689.7" y="1804.8" text-anchor="middle">1.00</text>
<line x1="1738.4" x2="1738.4" y1="1788.5" y2="1792.3" stroke="#333" stroke-width="1.6"/>
<text class="ax" x="1738.4" y="1804.8" text-anchor="middle">1.25</text>
<text class="lt" x="26.8" y="1906.0">F</text>
<text class="gn" x="905.3" y="1897.0" text-anchor="middle">SELL</text>
<text class="tt" transform="translate(75.5,2053.7) rotate(-90)" text-anchor="middle" style="font-size:15px">SELL Expression Level (log<tspan dy="3" style="font-size:9.0px">2</tspan><tspan dy="-3"> RSEM)</tspan></text>
<rect x="105.7" y="1947.1" width="24.3" height="213.2" fill="#d9d9d9" stroke="#333" stroke-width="1.7"/>
<text class="st" transform="translate(122.2,2053.7) rotate(-90)" text-anchor="middle">SKCM</text>
<line x1="102.2" x2="105.7" y1="2023.3" y2="2023.3" stroke="#333" stroke-width="1.6"/>
<text class="ax" transform="translate(99.0,2023.3) rotate(-90) scale(0.82,1)" text-anchor="middle">10</text>
<line x1="102.2" x2="105.7" y1="2106.6" y2="2106.6" stroke="#333" stroke-width="1.6"/>
<text class="ax" transform="translate(99.0,2106.6) rotate(-90) scale(0.82,1)" text-anchor="middle">5</text>
<text class="tt" x="937.6" y="2194.3" text-anchor="middle">Infiltration Level</text>
<rect x="130.0" y="1923.3" width="223.5" height="23.8" fill="#d9d9d9" stroke="#555" stroke-width="1"/>
<text class="st" transform="translate(241.8,1939.2) scale(1,1.08)" text-anchor="middle">Purity</text>
<g><clipPath id="cp5_0"><rect x="130.0" y="1947.1" width="223.5" height="213.2"/></clipPath></g>
<g clip-path="url(#cp5_0)">
<line x1="146.3" x2="146.3" y1="1947.1" y2="2160.3" stroke="#f2f2f2" stroke-width="0.8"/>
<line x1="203.3" x2="203.3" y1="1947.1" y2="2160.3" stroke="#f2f2f2" stroke-width="0.8"/>
<line x1="260.3" x2="260.3" y1="1947.1" y2="2160.3" stroke="#f2f2f2" stroke-width="0.8"/>
<line x1="317.3" x2="317.3" y1="1947.1" y2="2160.3" stroke="#f2f2f2" stroke-width="0.8"/>
<line x1="130.0" x2="353.5" y1="2148.2" y2="2148.2" stroke="#f2f2f2" stroke-width="0.8"/>
<line x1="130.0" x2="353.5" y1="2064.9" y2="2064.9" stroke="#f2f2f2" stroke-width="0.8"/>
<line x1="130.0" x2="353.5" y1="1981.6" y2="1981.6" stroke="#f2f2f2" stroke-width="0.8"/>
<line x1="174.8" x2="174.8" y1="1947.1" y2="2160.3" stroke="#ebebeb" stroke-width="1.2"/>
<line x1="231.8" x2="231.8" y1="1947.1" y2="2160.3" stroke="#ebebeb" stroke-width="1.2"/>
<line x1="288.8" x2="288.8" y1="1947.1" y2="2160.3" stroke="#ebebeb" stroke-width="1.2"/>
<line x1="345.8" x2="345.8" y1="1947.1" y2="2160.3" stroke="#ebebeb" stroke-width="1.2"/>
<line x1="130.0" x2="353.5" y1="2106.6" y2="2106.6" stroke="#ebebeb" stroke-width="1.2"/>
<line x1="130.0" x2="353.5" y1="2023.3" y2="2023.3" stroke="#ebebeb" stroke-width="1.2"/>
<path transform="scale(0.5)" d="M281 4011h0m6 41h0m0-49h0m2 15h0m0 49h0m2-32h0m0-6h0m1 25h0m1-5h0m0 45h0m3-78h0m1 128h0m3-91h0m4-74h0m1-13h0m0 162h0m0-63h0m6-17h0m1-53h0m1 18h0m0-2h0m3 33h0m1 113h0m1-104h0m1 23h0m0 53h0m1-1h0m1-56h0m1-6h0m2-13h0m0 5h0m1-44h0m1 44h0m1-36h0m1 75h0m0-59h0m2 17h0m2-16h0m6 47h0m1-33h0m1-44h0m5 58h0m0-56h0m2 44h0m4-22h0m5-15h0m3-20h0m3 101h0m6-23h0m6 119h0m0-152h0m15 45h0m1-30h0m0 0h0m15-35h0m1 75h0m5-20h0m0-24h0m4-43h0m14 60h0m0-8h0m3-23h0m8 13h0m3 21h0m2 39h0m0-14h0m2-36h0m0-16h0m1-10h0m2 23h0m1 17h0m2 26h0m3-34h0m2-42h0m3 5h0m2 24h0m2 29h0m6 24h0m0 4h0m1 7h0m0-59h0m3 43h0m1 3h0m0 6h0m1-2h0m1-91h0m1 223h0m1-140h0m1-10h0m1-35h0m2 9h0m2 3h0m1 15h0m0-23h0m2 84h0m3-101h0m1 75h0m0 2h0m0-56h0m3-45h0m2 49h0m0-7h0m1 174h0m0-156h0m1 84h0m1-65h0m1 38h0m1 0h0m0-28h0m1 30h0m0-3h0m1-52h0m1-13h0m0 90h0m0-71h0m0-24h0m2 10h0m0 57h0m3 34h0m0-98h0m2 20h0m1 48h0m1-47h0m0 21h0m0 46h0m1-58h0m1 44h0m1-36h0m0-21h0m0 112h0m1-29h0m1-48h0m4-74h0m0 56h0m0-23h0m2-2h0m0-5h0m0 66h0m2 20h0m0 6h0m1 2h0m0-69h0m1 7h0m0-64h0m3 97h0m0-1h0m0 17h0m0 45h0m0-64h0m3-40h0m0 34h0m1 56h0m1 84h0m0-170h0m1 53h0m0-53h0m0 115h0m1-184h0m0 164h0m0-101h0m0-1h0m1-7h0m0 18h0m0 34h0m1-49h0m0 94h0m1-67h0m1-58h0m0-15h0m0 53h0m1 41h0m1 30h0m2-93h0m0-11h0m1 164h0m1-141h0m0 104h0m3-102h0m0-30h0m0 46h0m0-4h0m0-42h0m1 29h0m0 51h0m1 8h0m0-74h0m0 21h0m0-51h0m1 83h0m0 70h0m0-22h0m0-129h0m0 44h0m2 37h0m1 87h0m1-91h0m1-64h0m0 84h0m2-47h0m0 129h0m1-51h0m0-42h0m0 76h0m1-89h0m1-5h0m1 34h0m0 4h0m1-33h0m1-56h0m0 8h0m1-30h0m0 36h0m1 109h0m0-120h0m1 25h0m0 101h0m0-89h0m0 34h0m0 18h0m1-30h0m0 57h0m1-73h0m0 57h0m2-98h0m0 87h0m0-45h0m0 24h0m0 8h0m3-54h0m0 105h0m1-98h0m1-9h0m1 41h0m0-15h0m1 105h0m1-81h0m1 6h0m0-90h0m0 57h0m0 117h0m0-35h0m0-84h0m1-4h0m1 16h0m0-25h0m1 15h0m1 34h0m1 55h0m0-69h0m0-55h0m0 187h0m1-200h0m0 184h0m0-184h0m1 33h0m0 150h0m0-100h0m1-56h0m0 6h0m0 34h0m1-3h0m0-4h0m0 44h0m0-23h0m1 53h0m0-148h0m1 90h0m0 4h0m1 16h0m1 67h0m0-60h0m0 20h0m0-148h0m0 100h0m0-84h0m0 43h0m1 36h0m0 11h0m0-65h0m1 185h0m1-175h0m0 134h0m1-127h0m1 32h0m1 14h0m1-69h0m1 116h0m0-48h0m1 35h0m1 15h0m0-116h0m1 55h0m0 93h0m0-19h0m1-49h0m0-47h0m0 22h0m2 35h0m0-36h0m1-8h0m1-22h0m1 10h0m1 70h0m0-39h0m0-42h0m0 37h0m0-9h0m1 1h0m0 21h0m0-13h0m0 64h0m1-55h0m1-9h0m0-29h0m0 18h0m1-17h0m1 174h0m0-216h0m0 57h0m0 46h0m0-4h0m1-43h0m1 132h0m1-133h0m0-16h0m1 12h0m0 136h0m0-97h0m0 16h0m0-33h0m1-33h0m0 4h0m0 70h0m0-55h0m0 3h0m1-11h0m2 68h0m0-7h0m0 15h0m1-101h0m0 7h0m1 32h0m0 30h0m0-17h0m0-35h0m1 149h0m1-204h0m1 117h0m0-44h0m0 54h0m0-50h0m1 132h0m0-50h0m0-153h0m0 63h0m0-1h0m1 3h0m0 118h0m0 60h0m1-134h0m0-56h0m0 5h0m0 9h0m1 120h0m0-42h0m1-57h0m0 43h0m0 25h0m1 14h0m0-46h0m0-56h0m1 18h0m0-18h0m0 81h0m0-83h0m0 54h0m1-67h0m0 70h0m1 52h0m0 3h0m1-46h0m1-35h0m0 47h0m1 27h0m1-118h0m1 85h0m1-108h0m0 93h0m0-49h0m0-19h0m1 58h0m1 99h0m1-95h0m1 48h0m0 9h0m1-147h0m1 25h0m0-32h0m0 81h0m1-52h0m0-6h0m0 76h0m0 54h0m1-44h0m0-27h0m0 45h0m1 9h0m1 55h0m0-147h0m0 99h0m0-49h0m1-29h0m0 117h0m1-110h0m0 51h0m0 25h0m0-145h0m0 129h0m1 80h0m1-115h0m1 26h0m1-76h0m0 49h0m0 79h0m1 37h0m0-107h0m1-56h0m0 62h0m0-45h0m0 4h0m1 135h0m1-89h0m1 82h0m0-119h0m0 27h0m1 3h0m2-15h0m1 56h0m0 27h0m1-20h0m0-77h0m0-17h0m0 88h0m0 14h0m1-76h0m0 16h0m0 26h0m0-52h0m0-5h0m0-5h0m1 20h0m1 18h0m1 52h0m0-37h0m0 58h0m1-94h0m0 31h0m0 66h0m0-125h0m0 40h0m1 0h0m0-35h0m0 91h0m1 34h0m1-103h0m1 142h0m0-76h0m1-122h0m0 58h0m1 93h0m0-64h0" stroke="#2b2b2b" stroke-width="12.2" stroke-linecap="round" fill="none"/>
<polygon points="140.8,2008.1 144.3,2011.2 147.7,2013.6 151.1,2015.7 154.5,2017.3 158.0,2018.6 161.4,2019.8 164.8,2020.8 168.3,2021.8 171.7,2022.6 175.1,2023.4 178.6,2024.2 182.0,2024.9 185.4,2025.7 188.8,2026.5 192.3,2027.4 195.7,2028.3 199.1,2029.4 202.6,2030.5 206.0,2031.8 209.4,2033.1 212.9,2034.4 216.3,2035.8 219.7,2037.1 223.2,2038.5 226.6,2039.8 230.0,2041.1 233.4,2042.3 236.9,2043.7 240.3,2045.1 243.7,2046.5 247.2,2047.8 250.6,2049.2 254.0,2050.5 257.5,2051.8 260.9,2053.1 264.3,2054.7 267.8,2056.3 271.2,2057.9 274.6,2059.5 278.0,2061.1 281.5,2062.7 284.9,2064.3 288.3,2065.9 291.8,2067.6 295.2,2069.3 298.6,2071.1 302.1,2072.8 305.5,2074.5 308.9,2076.2 312.3,2077.9 315.8,2079.6 319.2,2081.2 322.6,2082.8 326.1,2084.3 329.5,2085.8 332.9,2087.2 336.4,2088.4 339.8,2089.4 343.2,2090.0 343.2,2102.0 339.8,2099.3 336.4,2096.8 332.9,2094.6 329.5,2092.5 326.1,2090.6 322.6,2088.7 319.2,2086.8 315.8,2085.0 312.3,2083.3 308.9,2081.5 305.5,2079.8 302.1,2078.1 298.6,2076.4 295.2,2074.7 291.8,2073.0 288.3,2071.3 284.9,2069.8 281.5,2068.3 278.0,2066.8 274.6,2065.3 271.2,2063.9 267.8,2062.4 264.3,2060.9 260.9,2059.5 257.5,2058.4 254.0,2057.3 250.6,2056.2 247.2,2055.2 243.7,2054.1 240.3,2053.1 236.9,2052.1 233.4,2051.2 230.0,2050.4 226.6,2049.6 223.2,2048.8 219.7,2048.1 216.3,2047.4 212.9,2046.7 209.4,2046.0 206.0,2045.2 202.6,2044.4 199.1,2043.5 195.7,2042.5 192.3,2041.4 188.8,2040.2 185.4,2038.9 182.0,2037.7 178.6,2036.4 175.1,2035.2 171.7,2034.1 168.3,2033.0 164.8,2032.1 161.4,2031.2 158.0,2030.4 154.5,2029.8 151.1,2029.4 147.7,2029.1 144.3,2029.3 140.8,2030.1" fill="#999999" fill-opacity="0.4"/>
<polyline points="140.8,2019.1 152.3,2022.9 179.6,2030.6 206.8,2038.8 234.1,2046.9 261.4,2056.5 288.7,2068.8 315.9,2082.4 343.2,2096.0" fill="none" stroke="#1662c4" stroke-width="2.5" stroke-linejoin="round" stroke-linecap="round"/>
</g>
<text class="rd" transform="translate(350.1,1962.4) scale(1,1.06)" text-anchor="end">cor = -0.621</text>
<text class="rd" transform="translate(350.1,1977.3) scale(1,1.06)" text-anchor="end">p = 4.03e-50</text>
<line x1="130.0" x2="130.0" y1="1923.3" y2="2160.3" stroke="#333" stroke-width="1.7"/>
<line x1="353.5" x2="353.5" y1="1923.3" y2="2160.3" stroke="#333" stroke-width="1.7"/>
<line x1="130.0" x2="353.5" y1="1947.1" y2="1947.1" stroke="#262626" stroke-width="1.6"/>
<line x1="130.0" x2="353.5" y1="2160.3" y2="2160.3" stroke="#e6e6e6" stroke-width="1.2"/>
<line x1="174.8" x2="174.8" y1="2160.3" y2="2164.1" stroke="#333" stroke-width="1.6"/>
<text class="ax" x="174.8" y="2176.6" text-anchor="middle">0.25</text>
<line x1="231.8" x2="231.8" y1="2160.3" y2="2164.1" stroke="#333" stroke-width="1.6"/>
<text class="ax" x="231.8" y="2176.6" text-anchor="middle">0.50</text>
<line x1="288.8" x2="288.8" y1="2160.3" y2="2164.1" stroke="#333" stroke-width="1.6"/>
<text class="ax" x="288.8" y="2176.6" text-anchor="middle">0.75</text>
<line x1="345.8" x2="345.8" y1="2160.3" y2="2164.1" stroke="#333" stroke-width="1.6"/>
<text class="ax" x="345.8" y="2176.6" text-anchor="middle">1.00</text>
<rect x="361.9" y="1923.3" width="223.5" height="23.8" fill="#d9d9d9" stroke="#555" stroke-width="1"/>
<text class="st" transform="translate(473.7,1939.2) scale(1,1.08)" text-anchor="middle">B Cell</text>
<g><clipPath id="cp5_1"><rect x="361.9" y="1947.1" width="223.5" height="213.2"/></clipPath></g>
<g clip-path="url(#cp5_1)">
<line x1="393.6" x2="393.6" y1="1947.1" y2="2160.3" stroke="#f2f2f2" stroke-width="0.8"/>
<line x1="438.2" x2="438.2" y1="1947.1" y2="2160.3" stroke="#f2f2f2" stroke-width="0.8"/>
<line x1="482.8" x2="482.8" y1="1947.1" y2="2160.3" stroke="#f2f2f2" stroke-width="0.8"/>
<line x1="527.4" x2="527.4" y1="1947.1" y2="2160.3" stroke="#f2f2f2" stroke-width="0.8"/>
<line x1="572.1" x2="572.1" y1="1947.1" y2="2160.3" stroke="#f2f2f2" stroke-width="0.8"/>
<line x1="361.9" x2="585.5" y1="2148.2" y2="2148.2" stroke="#f2f2f2" stroke-width="0.8"/>
<line x1="361.9" x2="585.5" y1="2064.9" y2="2064.9" stroke="#f2f2f2" stroke-width="0.8"/>
<line x1="361.9" x2="585.5" y1="1981.6" y2="1981.6" stroke="#f2f2f2" stroke-width="0.8"/>
<line x1="371.3" x2="371.3" y1="1947.1" y2="2160.3" stroke="#ebebeb" stroke-width="1.2"/>
<line x1="415.9" x2="415.9" y1="1947.1" y2="2160.3" stroke="#ebebeb" stroke-width="1.2"/>
<line x1="460.5" x2="460.5" y1="1947.1" y2="2160.3" stroke="#ebebeb" stroke-width="1.2"/>
<line x1="505.1" x2="505.1" y1="1947.1" y2="2160.3" stroke="#ebebeb" stroke-width="1.2"/>
<line x1="549.8" x2="549.8" y1="1947.1" y2="2160.3" stroke="#ebebeb" stroke-width="1.2"/>
<line x1="361.9" x2="585.5" y1="2106.6" y2="2106.6" stroke="#ebebeb" stroke-width="1.2"/>
<line x1="361.9" x2="585.5" y1="2023.3" y2="2023.3" stroke="#ebebeb" stroke-width="1.2"/>
<path transform="scale(0.5)" d="M743 4120h0m2-80h0m1 93h0m1 48h0m0-68h0m0 56h0m1-54h0m0 27h0m1 19h0m0 47h0m1-62h0m0-18h0m0-5h0m0-42h0m1 55h0m0 17h0m0 92h0m0-80h0m0-17h0m1-13h0m0 45h0m0-30h0m0 43h0m1-36h0m1-20h0m0 88h0m0-58h0m1 7h0m0 14h0m0 19h0m0 20h0m1-21h0m0-78h0m0-27h0m0 14h0m1 69h0m0-74h0m0-6h0m0-17h0m0 102h0m1-22h0m0-25h0m0 22h0m1 56h0m0-47h0m0-89h0m0 94h0m1-51h0m0 13h0m0 44h0m0 49h0m0-49h0m0-27h0m0-7h0m0-63h0m0 84h0m0 34h0m1 55h0m0-59h0m1 20h0m0-75h0m0-48h0m0 124h0m0-36h0m0-12h0m1-27h0m1-11h0m0 25h0m1-60h0m0 96h0m0 80h0m1-26h0m0-123h0m0 70h0m0-47h0m1-28h0m0 88h0m1-89h0m1 34h0m0 20h0m0-22h0m0 55h0m0-160h0m0 188h0m0-55h0m0 49h0m1-31h0m1 28h0m0-56h0m1-19h0m0 88h0m0-99h0m0 96h0m0-143h0m1 125h0m0-110h0m0 90h0m1-62h0m0-3h0m0 87h0m1-109h0m1 10h0m1 39h0m0-58h0m0 80h0m0-72h0m0 47h0m0-10h0m0 13h0m1-49h0m0 45h0m0-24h0m0 38h0m0 58h0m1-84h0m0-4h0m0 13h0m0-19h0m1 96h0m0-110h0m0 53h0m0 17h0m0 37h0m1-48h0m0 23h0m1-162h0m0 30h0m0 225h0m0-134h0m1 86h0m0-96h0m0-5h0m1-9h0m0 97h0m0-28h0m0-114h0m0 54h0m0 18h0m1-27h0m0 28h0m0 11h0m0 2h0m1 39h0m0 49h0m0-146h0m0 14h0m0 24h0m1-24h0m0 40h0m0-16h0m1 48h0m0-36h0m0-20h0m0-19h0m0 105h0m0-131h0m0 62h0m1-95h0m0 113h0m0-86h0m0 76h0m0-12h0m0 30h0m1-79h0m0 9h0m0 14h0m0-11h0m1-33h0m0 44h0m0-20h0m0 46h0m0-21h0m0 112h0m0-114h0m0 44h0m0 13h0m1-69h0m0-57h0m0 57h0m0-42h0m0 49h0m0 2h0m1 87h0m0-145h0m0 27h0m0 19h0m0 9h0m0 9h0m0-39h0m0-12h0m1 21h0m0 39h0m0 57h0m0-77h0m0 157h0m0-81h0m0-87h0m1-22h0m0 4h0m0-2h0m1 49h0m0 8h0m0-24h0m0-4h0m0-60h0m0 122h0m1 4h0m0-16h0m1-39h0m0-17h0m1 86h0m0-63h0m0 44h0m0 57h0m0-43h0m1-53h0m0-32h0m1-48h0m0 30h0m0 100h0m1-83h0m0-3h0m0 42h0m1 4h0m0 6h0m0-102h0m0 24h0m0 34h0m0 128h0m1-147h0m0-6h0m0-45h0m0 88h0m0-89h0m0 8h0m0 30h0m0-21h0m0-38h0m0 159h0m0-70h0m1-16h0m0 42h0m1-26h0m0 61h0m0-33h0m0-132h0m1 88h0m0 189h0m0-172h0m1 18h0m0 45h0m0-37h0m0 19h0m0-76h0m1 9h0m0-30h0m0-8h0m0 75h0m0-33h0m0-96h0m1 126h0m0 24h0m0 29h0m1-146h0m0 78h0m0-3h0m1-30h0m0 39h0m0 38h0m1-71h0m0 49h0m0-46h0m1-34h0m0 114h0m0-76h0m0-17h0m0 84h0m1-66h0m0 4h0m0 24h0m0-26h0m0-37h0m1 113h0m1-66h0m0 12h0m0-43h0m0 1h0m0 11h0m1-19h0m0 52h0m0-14h0m0-3h0m1 66h0m0-103h0m0 2h0m0 23h0m0 51h0m0-86h0m1-34h0m1 42h0m0 52h0m0 45h0m2 11h0m0-21h0m0-157h0m1 44h0m0 69h0m0-32h0m0 195h0m0-149h0m1-48h0m0 25h0m0-43h0m0 83h0m1-68h0m1-36h0m0 12h0m0 47h0m0 75h0m1-74h0m0 179h0m0-186h0m1 40h0m0-102h0m0 72h0m0-32h0m1 75h0m0-50h0m0 14h0m0 24h0m1-50h0m0 31h0m0-14h0m0-51h0m1 162h0m0-78h0m0 6h0m1-58h0m0 23h0m1 16h0m0-75h0m0 93h0m0-132h0m0 121h0m1 45h0m1-79h0m1 51h0m0 16h0m0-42h0m0-17h0m0 2h0m1-10h0m0-16h0m0 42h0m1 14h0m0-64h0m1 45h0m0-56h0m1 52h0m0-53h0m0 29h0m1 8h0m1-3h0m0-3h0m0 24h0m1 27h0m1-55h0m0 29h0m0-24h0m0-71h0m1 40h0m0 0h0m0-17h0m0 46h0m1-64h0m3 166h0m0-75h0m0-57h0m0 1h0m1 59h0m0-22h0m1-2h0m0-41h0m0 31h0m1 51h0m0-38h0m2-24h0m1 6h0m0 96h0m0-123h0m1 34h0m1-23h0m0 125h0m1-89h0m0-9h0m0-14h0m1-16h0m0 240h0m0-170h0m2-25h0m1 107h0m0-137h0m1 1h0m1 75h0m4-49h0m0 28h0m2-101h0m2 93h0m0-83h0m3 57h0m0-44h0m1 38h0m3 8h0m4-48h0m0 125h0m1-73h0m0-22h0m2-12h0m2-15h0m1-52h0m1 91h0m3-40h0m3 40h0m2 18h0m1-78h0m1 13h0m1 34h0m2 36h0m1-9h0m2-54h0m1 63h0m1-60h0m0-23h0m0 41h0m6 11h0m1-27h0m3-23h0m1 0h0m3 21h0m2 10h0m6-23h0m15 16h0m9-21h0m0-10h0m2-9h0m2 33h0m5-20h0m3-11h0m17-15h0m11 3h0m4 113h0m4-64h0m1-43h0m4 19h0m19-22h0m1 25h0m3 1h0m1 44h0m8-47h0m9-38h0m15 16h0m8 21h0m3-5h0m4-48h0m10 35h0m9 12h0m3 8h0m7 1h0m9 7h0m16-16h0m1-6h0" stroke="#2b2b2b" stroke-width="12.2" stroke-linecap="round" fill="none"/>
<polygon points="371.9,2065.8 375.3,2073.2 378.8,2078.4 382.2,2081.1 385.6,2081.8 389.1,2080.0 392.5,2076.3 396.0,2070.2 399.4,2065.1 402.9,2061.1 406.3,2057.4 409.8,2055.6 413.2,2053.8 416.6,2052.0 420.1,2050.2 423.5,2048.3 427.0,2046.1 430.4,2043.7 433.9,2041.2 437.3,2038.7 440.8,2036.2 444.2,2033.6 447.6,2031.1 451.1,2028.5 454.5,2026.1 458.0,2023.8 461.4,2021.5 464.9,2019.2 468.3,2016.9 471.8,2014.6 475.2,2012.3 478.6,2010.0 482.1,2008.4 485.5,2007.1 489.0,2005.8 492.4,2004.7 495.9,2003.6 499.3,2002.5 502.8,2001.5 506.2,2000.5 509.6,2000.1 513.1,2000.0 516.5,1999.8 520.0,1999.6 523.4,1999.3 526.9,1999.1 530.3,1998.8 533.8,1998.5 537.2,1998.6 540.6,1998.6 544.1,1998.5 547.5,1998.2 551.0,1997.7 554.4,1997.0 557.9,1996.3 561.3,1995.5 564.8,1993.9 568.2,1992.0 571.6,1992.5 575.1,1993.9 575.1,2039.9 571.6,2038.9 568.2,2036.9 564.8,2032.6 561.3,2028.5 557.9,2025.2 554.4,2023.1 551.0,2021.9 547.5,2021.0 544.1,2020.3 540.6,2019.7 537.2,2019.3 533.8,2019.0 530.3,2019.0 526.9,2019.1 523.4,2019.2 520.0,2019.4 516.5,2019.5 513.1,2019.6 509.6,2019.8 506.2,2020.2 502.8,2021.2 499.3,2022.2 495.9,2023.2 492.4,2024.2 489.0,2025.1 485.5,2026.0 482.1,2026.7 478.6,2027.7 475.2,2029.2 471.8,2030.7 468.3,2032.1 464.9,2033.6 461.4,2035.1 458.0,2036.6 454.5,2038.1 451.1,2039.7 447.6,2041.6 444.2,2043.5 440.8,2045.4 437.3,2047.4 433.9,2049.4 430.4,2051.4 427.0,2053.4 423.5,2055.3 420.1,2056.8 416.6,2058.4 413.2,2060.1 409.8,2061.8 406.3,2063.4 402.9,2067.2 399.4,2071.3 396.0,2076.5 392.5,2082.9 389.1,2087.0 385.6,2089.4 382.2,2089.5 378.8,2088.1 375.3,2084.6 371.9,2079.8" fill="#999999" fill-opacity="0.4"/>
<polyline points="371.9,2072.8 377.3,2082.4 384.1,2086.5 391.0,2082.4 397.8,2070.1 406.0,2060.6 425.1,2051.0 452.3,2033.3 479.6,2018.3 506.9,2010.1 534.2,2008.7 556.0,2010.1 575.1,2016.9" fill="none" stroke="#1662c4" stroke-width="2.5" stroke-linejoin="round" stroke-linecap="round"/>
</g>
<text class="rd" transform="translate(582.1,1962.4) scale(1,1.06)" text-anchor="end">partial.cor = 0.41</text>
<text class="rd" transform="translate(582.1,1977.3) scale(1,1.06)" text-anchor="end">p = 1.37e-19</text>
<line x1="361.9" x2="361.9" y1="1923.3" y2="2160.3" stroke="#333" stroke-width="1.7"/>
<line x1="585.5" x2="585.5" y1="1923.3" y2="2160.3" stroke="#333" stroke-width="1.7"/>
<line x1="361.9" x2="585.5" y1="1947.1" y2="1947.1" stroke="#262626" stroke-width="1.6"/>
<line x1="361.9" x2="585.5" y1="2160.3" y2="2160.3" stroke="#e6e6e6" stroke-width="1.2"/>
<line x1="371.3" x2="371.3" y1="2160.3" y2="2164.1" stroke="#333" stroke-width="1.6"/>
<text class="ax" x="371.3" y="2176.6" text-anchor="middle">0.0</text>
<line x1="415.9" x2="415.9" y1="2160.3" y2="2164.1" stroke="#333" stroke-width="1.6"/>
<text class="ax" x="415.9" y="2176.6" text-anchor="middle">0.1</text>
<line x1="460.5" x2="460.5" y1="2160.3" y2="2164.1" stroke="#333" stroke-width="1.6"/>
<text class="ax" x="460.5" y="2176.6" text-anchor="middle">0.2</text>
<line x1="505.1" x2="505.1" y1="2160.3" y2="2164.1" stroke="#333" stroke-width="1.6"/>
<text class="ax" x="505.1" y="2176.6" text-anchor="middle">0.3</text>
<line x1="549.8" x2="549.8" y1="2160.3" y2="2164.1" stroke="#333" stroke-width="1.6"/>
<text class="ax" x="549.8" y="2176.6" text-anchor="middle">0.4</text>
<rect x="593.9" y="1923.3" width="223.5" height="23.8" fill="#d9d9d9" stroke="#555" stroke-width="1"/>
<text class="st" transform="translate(705.6,1939.2) scale(1,1.08)" text-anchor="middle">CD8+ T Cell</text>
<g><clipPath id="cp5_2"><rect x="593.9" y="1947.1" width="223.5" height="213.2"/></clipPath></g>
<g clip-path="url(#cp5_2)">
<line x1="632.2" x2="632.2" y1="1947.1" y2="2160.3" stroke="#f2f2f2" stroke-width="0.8"/>
<line x1="688.3" x2="688.3" y1="1947.1" y2="2160.3" stroke="#f2f2f2" stroke-width="0.8"/>
<line x1="744.4" x2="744.4" y1="1947.1" y2="2160.3" stroke="#f2f2f2" stroke-width="0.8"/>
<line x1="800.6" x2="800.6" y1="1947.1" y2="2160.3" stroke="#f2f2f2" stroke-width="0.8"/>
<line x1="593.9" x2="817.4" y1="2148.2" y2="2148.2" stroke="#f2f2f2" stroke-width="0.8"/>
<line x1="593.9" x2="817.4" y1="2064.9" y2="2064.9" stroke="#f2f2f2" stroke-width="0.8"/>
<line x1="593.9" x2="817.4" y1="1981.6" y2="1981.6" stroke="#f2f2f2" stroke-width="0.8"/>
<line x1="604.1" x2="604.1" y1="1947.1" y2="2160.3" stroke="#ebebeb" stroke-width="1.2"/>
<line x1="660.2" x2="660.2" y1="1947.1" y2="2160.3" stroke="#ebebeb" stroke-width="1.2"/>
<line x1="716.4" x2="716.4" y1="1947.1" y2="2160.3" stroke="#ebebeb" stroke-width="1.2"/>
<line x1="772.5" x2="772.5" y1="1947.1" y2="2160.3" stroke="#ebebeb" stroke-width="1.2"/>
<line x1="593.9" x2="817.4" y1="2106.6" y2="2106.6" stroke="#ebebeb" stroke-width="1.2"/>
<line x1="593.9" x2="817.4" y1="2023.3" y2="2023.3" stroke="#ebebeb" stroke-width="1.2"/>
<path transform="scale(0.5)" d="M1210 4252h0m0-131h0m0 28h0m0 32h0m1 41h0m2-37h0m0-37h0m1 7h0m0 50h0m0-54h0m1 20h0m1 43h0m1-51h0m1-4h0m0-16h0m0-12h0m0 45h0m1-40h0m0 36h0m0-35h0m1-6h0m0 130h0m0-152h0m0 86h0m1-26h0m0 4h0m1 0h0m0-24h0m0 10h0m1 19h0m0 68h0m0 21h0m0 2h0m0-91h0m1 78h0m0-37h0m0 38h0m1-143h0m0-17h0m1 32h0m0 31h0m0 34h0m0-10h0m1-25h0m0-6h0m0 28h0m1-29h0m0 54h0m0-1h0m0-34h0m0-3h0m1-11h0m0-28h0m0 50h0m1 92h0m0-10h0m0-145h0m1 106h0m0-132h0m1 62h0m0 24h0m0-58h0m0 22h0m0 70h0m1-52h0m0 53h0m0-57h0m0 40h0m1 19h0m0-64h0m0 35h0m0 41h0m0-48h0m0 1h0m1-58h0m0 114h0m0-14h0m0-33h0m1-35h0m0 15h0m0-57h0m0 61h0m0-107h0m0 66h0m0 105h0m1-70h0m1-6h0m1-63h0m0 106h0m0-40h0m0 78h0m1 14h0m0-95h0m0-56h0m1 69h0m0-52h0m0 18h0m0-83h0m1 93h0m1 10h0m0 82h0m1-1h0m0-77h0m1 30h0m0-49h0m1 42h0m1 22h0m0-31h0m0 28h0m0 16h0m1-83h0m1-49h0m0 94h0m0-129h0m0 240h0m0-167h0m0 6h0m1 31h0m0 31h0m0-36h0m1 14h0m0-53h0m1 146h0m0-142h0m0-53h0m1 38h0m0-64h0m1 130h0m0 110h0m0-113h0m0-89h0m0 149h0m1-36h0m0-19h0m0-3h0m0-22h0m0-10h0m1 37h0m0-106h0m1 0h0m0 90h0m0 0h0m1-7h0m0 50h0m0-39h0m0-35h0m1 4h0m0 57h0m0-38h0m1-16h0m0 23h0m0-18h0m1-30h0m0-55h0m0 125h0m0 29h0m1-178h0m1 162h0m0-54h0m1 95h0m0-59h0m0-102h0m0 47h0m1 5h0m0 3h0m0-24h0m0-25h0m0 103h0m1-47h0m1 87h0m0-93h0m0-47h0m1 51h0m0-91h0m0 40h0m0 121h0m0-85h0m1 80h0m0-51h0m0-91h0m0 65h0m2-28h0m0 0h0m0 36h0m1 28h0m0 75h0m0-14h0m0-32h0m1-9h0m1 58h0m0-17h0m0-121h0m1 83h0m0-78h0m0-67h0m0 37h0m1-8h0m0-13h0m0 35h0m1 131h0m0-68h0m0-62h0m0 50h0m0-71h0m0 149h0m0-26h0m1-34h0m0 43h0m0-2h0m0-92h0m1-11h0m1 34h0m0-35h0m1-27h0m0-5h0m0 111h0m0-38h0m1 28h0m0-56h0m1 87h0m0-25h0m0-58h0m0-28h0m0 79h0m1-139h0m0 44h0m0-30h0m0 258h0m1-122h0m0-15h0m1 143h0m1-175h0m0-50h0m0-4h0m1-40h0m0 15h0m1 67h0m0-9h0m0-53h0m0 15h0m0 89h0m1-60h0m0 40h0m0-18h0m0-2h0m0 102h0m0-125h0m1 29h0m0-23h0m0-4h0m0 107h0m1-129h0m0-1h0m0 60h0m1-8h0m0-6h0m0-102h0m0 134h0m0 20h0m1-49h0m0-62h0m0 42h0m0-49h0m1-2h0m0 208h0m2-190h0m0 65h0m0-102h0m1 119h0m0-70h0m0 9h0m0 30h0m1-32h0m0 37h0m0-36h0m0 2h0m0-64h0m0 44h0m2-51h0m0 28h0m0 89h0m0-48h0m1 128h0m0-80h0m0-41h0m0 42h0m1-61h0m1 46h0m0 146h0m0-118h0m0-135h0m1 78h0m0 11h0m1-59h0m0 135h0m0-43h0m0-2h0m0-65h0m0-54h0m0 70h0m1-92h0m0 56h0m0 25h0m0 82h0m2-81h0m0 24h0m1-40h0m0 32h0m0 33h0m0-105h0m1 51h0m0 124h0m1-71h0m0-34h0m0-65h0m0 43h0m1 58h0m0-32h0m1-11h0m0-34h0m0-10h0m0 81h0m1-69h0m0-37h0m2 179h0m0-161h0m0 89h0m1-75h0m1 60h0m0-44h0m0 12h0m0 47h0m2-17h0m0 109h0m1-157h0m0 20h0m2-37h0m0 44h0m1 1h0m1-3h0m1 73h0m0-14h0m1-93h0m0-11h0m0 53h0m0-52h0m0 48h0m1-33h0m1 23h0m0-19h0m1 63h0m0 9h0m0-72h0m1 19h0m1 89h0m0-76h0m0 7h0m1 94h0m0-136h0m1 31h0m0-10h0m1 13h0m0-120h0m0 132h0m0-19h0m0-22h0m1-15h0m1 204h0m0-95h0m1-28h0m1-73h0m1 70h0m1-35h0m0 49h0m0-94h0m1 39h0m2 35h0m0-51h0m0-3h0m1 109h0m0-92h0m1 13h0m1-106h0m0 144h0m0-149h0m1 81h0m0-14h0m1-8h0m1 5h0m0-14h0m1 23h0m1-12h0m0 36h0m1 32h0m1-110h0m0 110h0m1-107h0m1 93h0m1-37h0m0-24h0m0 3h0m0 19h0m1 7h0m0-12h0m3 52h0m0-20h0m3 37h0m1-64h0m0 78h0m1-18h0m0-15h0m2-32h0m0 32h0m1 76h0m0-94h0m0-80h0m3 28h0m1 47h0m0 0h0m0 166h0m0-241h0m1 49h0m0 32h0m5 26h0m0-6h0m0-69h0m3 1h0m0 20h0m2-74h0m1 100h0m1 1h0m3-40h0m1 78h0m0-88h0m2-8h0m1-12h0m1 44h0m3 39h0m7-104h0m0 41h0m3 3h0m8 16h0m1 39h0m2-78h0m1 75h0m1-57h0m3 18h0m2 21h0m4-44h0m1 5h0m0 0h0m3 40h0m10-52h0m0 3h0m2 11h0m1 15h0m2-20h0m3 81h0m3-8h0m7 7h0m7-45h0m5-24h0m15 32h0m7 14h0m50-73h0m2-15h0m3 21h0m6 14h0m0-3h0m14 4h0m6-28h0" stroke="#2b2b2b" stroke-width="12.2" stroke-linecap="round" fill="none"/>
<polygon points="604.1,2086.6 607.5,2087.4 611.0,2088.1 614.4,2087.6 617.9,2086.4 621.3,2084.5 624.8,2081.1 628.2,2077.6 631.7,2074.1 635.1,2070.0 638.5,2065.8 642.0,2061.7 645.4,2057.7 648.9,2054.2 652.3,2050.8 655.8,2047.3 659.2,2044.1 662.6,2042.0 666.1,2039.9 669.5,2037.7 673.0,2035.5 676.4,2033.7 679.9,2032.2 683.3,2030.8 686.8,2029.3 690.2,2027.8 693.6,2026.2 697.1,2025.0 700.5,2023.7 704.0,2022.5 707.4,2021.2 710.9,2019.9 714.3,2018.6 717.8,2017.3 721.2,2015.9 724.6,2014.9 728.1,2013.8 731.5,2012.6 735.0,2011.3 738.4,2009.8 741.9,2008.3 745.3,2006.6 748.8,2004.8 752.2,2003.6 755.6,2002.5 759.1,2001.7 762.5,2001.2 766.0,2000.7 769.4,2000.2 772.9,1999.4 776.3,1998.1 779.8,1996.3 783.2,1993.3 786.6,1988.9 790.1,1988.8 793.5,1988.7 797.0,1988.6 800.4,1988.5 803.9,1988.5 807.3,1988.4 807.3,2056.4 803.9,2055.8 800.4,2055.3 797.0,2054.7 793.5,2054.1 790.1,2053.6 786.6,2053.0 783.2,2048.1 779.8,2044.7 776.3,2042.3 772.9,2041.0 769.4,2040.2 766.0,2039.7 762.5,2039.2 759.1,2038.7 755.6,2037.9 752.2,2036.8 748.8,2035.6 745.3,2034.7 741.9,2033.9 738.4,2033.2 735.0,2032.7 731.5,2032.3 728.1,2032.0 724.6,2031.8 721.2,2031.7 717.8,2032.1 714.3,2032.4 710.9,2032.9 707.4,2033.3 704.0,2033.7 700.5,2034.2 697.1,2034.7 693.6,2035.2 690.2,2036.2 686.8,2037.1 683.3,2038.1 679.9,2039.1 676.4,2040.1 673.0,2041.6 669.5,2043.5 666.1,2045.3 662.6,2047.2 659.2,2049.1 655.8,2052.3 652.3,2055.8 648.9,2059.2 645.4,2062.7 642.0,2066.7 638.5,2070.8 635.1,2075.0 631.7,2079.1 628.2,2082.6 624.8,2086.1 621.3,2089.5 617.9,2091.4 614.4,2092.9 611.0,2094.0 607.5,2094.2 604.1,2094.6" fill="#999999" fill-opacity="0.4"/>
<polyline points="604.1,2090.6 612.3,2091.1 620.5,2087.9 631.4,2076.9 645.0,2060.6 658.7,2046.9 675.0,2037.4 694.1,2030.6 721.4,2023.7 748.7,2020.2 775.9,2020.2 807.3,2022.4" fill="none" stroke="#1662c4" stroke-width="2.5" stroke-linejoin="round" stroke-linecap="round"/>
</g>
<text class="rd" transform="translate(814.0,1962.4) scale(1,1.06)" text-anchor="end">partial.cor = 0.465</text>
<text class="rd" transform="translate(814.0,1977.3) scale(1,1.06)" text-anchor="end">p = 7.26e-25</text>
<line x1="593.9" x2="593.9" y1="1923.3" y2="2160.3" stroke="#333" stroke-width="1.7"/>
<line x1="817.4" x2="817.4" y1="1923.3" y2="2160.3" stroke="#333" stroke-width="1.7"/>
<line x1="593.9" x2="817.4" y1="1947.1" y2="1947.1" stroke="#262626" stroke-width="1.6"/>
<line x1="593.9" x2="817.4" y1="2160.3" y2="2160.3" stroke="#e6e6e6" stroke-width="1.2"/>
<line x1="604.1" x2="604.1" y1="2160.3" y2="2164.1" stroke="#333" stroke-width="1.6"/>
<text class="ax" x="604.1" y="2176.6" text-anchor="middle">0.0</text>
<line x1="660.2" x2="660.2" y1="2160.3" y2="2164.1" stroke="#333" stroke-width="1.6"/>
<text class="ax" x="660.2" y="2176.6" text-anchor="middle">0.2</text>
<line x1="716.4" x2="716.4" y1="2160.3" y2="2164.1" stroke="#333" stroke-width="1.6"/>
<text class="ax" x="716.4" y="2176.6" text-anchor="middle">0.4</text>
<line x1="772.5" x2="772.5" y1="2160.3" y2="2164.1" stroke="#333" stroke-width="1.6"/>
<text class="ax" x="772.5" y="2176.6" text-anchor="middle">0.6</text>
<rect x="825.8" y="1923.3" width="223.5" height="23.8" fill="#d9d9d9" stroke="#555" stroke-width="1"/>
<text class="st" transform="translate(937.6,1939.2) scale(1,1.08)" text-anchor="middle">CD4+ T Cell</text>
<g><clipPath id="cp5_3"><rect x="825.8" y="1947.1" width="223.5" height="213.2"/></clipPath></g>
<g clip-path="url(#cp5_3)">
<line x1="855.8" x2="855.8" y1="1947.1" y2="2160.3" stroke="#f2f2f2" stroke-width="0.8"/>
<line x1="896.7" x2="896.7" y1="1947.1" y2="2160.3" stroke="#f2f2f2" stroke-width="0.8"/>
<line x1="937.7" x2="937.7" y1="1947.1" y2="2160.3" stroke="#f2f2f2" stroke-width="0.8"/>
<line x1="978.6" x2="978.6" y1="1947.1" y2="2160.3" stroke="#f2f2f2" stroke-width="0.8"/>
<line x1="1019.5" x2="1019.5" y1="1947.1" y2="2160.3" stroke="#f2f2f2" stroke-width="0.8"/>
<line x1="825.8" x2="1049.3" y1="2148.2" y2="2148.2" stroke="#f2f2f2" stroke-width="0.8"/>
<line x1="825.8" x2="1049.3" y1="2064.9" y2="2064.9" stroke="#f2f2f2" stroke-width="0.8"/>
<line x1="825.8" x2="1049.3" y1="1981.6" y2="1981.6" stroke="#f2f2f2" stroke-width="0.8"/>
<line x1="835.4" x2="835.4" y1="1947.1" y2="2160.3" stroke="#ebebeb" stroke-width="1.2"/>
<line x1="876.3" x2="876.3" y1="1947.1" y2="2160.3" stroke="#ebebeb" stroke-width="1.2"/>
<line x1="917.2" x2="917.2" y1="1947.1" y2="2160.3" stroke="#ebebeb" stroke-width="1.2"/>
<line x1="958.1" x2="958.1" y1="1947.1" y2="2160.3" stroke="#ebebeb" stroke-width="1.2"/>
<line x1="999.0" x2="999.0" y1="1947.1" y2="2160.3" stroke="#ebebeb" stroke-width="1.2"/>
<line x1="1039.9" x2="1039.9" y1="1947.1" y2="2160.3" stroke="#ebebeb" stroke-width="1.2"/>
<line x1="825.8" x2="1049.3" y1="2106.6" y2="2106.6" stroke="#ebebeb" stroke-width="1.2"/>
<line x1="825.8" x2="1049.3" y1="2023.3" y2="2023.3" stroke="#ebebeb" stroke-width="1.2"/>
<path transform="scale(0.5)" d="M1674 4171h0m0-23h0m10-1h0m3 56h0m1 8h0m1 7h0m0-60h0m1 32h0m1-37h0m2 86h0m2-106h0m3 40h0m0 0h0m1-11h0m0 38h0m3-50h0m1 74h0m1 56h0m0-51h0m0-35h0m1-4h0m0-46h0m0 117h0m1-69h0m1-14h0m1 51h0m0 0h0m0-29h0m0-43h0m1 13h0m0 76h0m0-21h0m0-61h0m2 103h0m1-116h0m0 58h0m0-114h0m0 43h0m1 118h0m0-117h0m0 27h0m1 14h0m1-25h0m0 24h0m0-83h0m1 48h0m0 101h0m0-14h0m1-69h0m0 10h0m1 29h0m0-50h0m1-3h0m0 37h0m0 47h0m0 10h0m0-74h0m0-6h0m0 37h0m1 1h0m0-73h0m0 96h0m1-82h0m0 77h0m0-106h0m0 23h0m1 60h0m0 51h0m1-65h0m0-82h0m0 51h0m1-51h0m0 32h0m0 103h0m0 18h0m0-74h0m1-73h0m0 103h0m0 16h0m1-103h0m0 124h0m0 18h0m0-161h0m0 188h0m1-201h0m0 57h0m0 41h0m0-30h0m0-6h0m0-17h0m0 56h0m0-30h0m1-7h0m1 19h0m0 1h0m0 16h0m0-82h0m1 32h0m0 40h0m0 86h0m1-168h0m0 11h0m0 126h0m0-124h0m1 21h0m0 72h0m1 12h0m0-27h0m0-39h0m0 45h0m1-11h0m1-5h0m0 36h0m0 88h0m0-147h0m0 19h0m0 64h0m0-166h0m0 199h0m0-121h0m1 9h0m0 94h0m0-140h0m1 77h0m0-22h0m0 34h0m0-127h0m1 109h0m0 18h0m0 66h0m0-94h0m0-49h0m0-75h0m1 152h0m0-69h0m0 47h0m0-63h0m1 164h0m0-146h0m0 34h0m0-80h0m0 32h0m0 14h0m0 118h0m1-16h0m0-155h0m0-28h0m1 95h0m0-12h0m0-14h0m0-10h0m0-86h0m0 48h0m1 97h0m0 2h0m1-90h0m0 150h0m0-39h0m1-1h0m0-89h0m0 40h0m0 34h0m0-16h0m1 19h0m0-76h0m1 41h0m0 3h0m0-61h0m0 64h0m1-17h0m0-55h0m1 2h0m0 52h0m0 31h0m1-63h0m0 13h0m0-12h0m1 97h0m0-65h0m0 28h0m1-1h0m0-68h0m0 168h0m0 9h0m0-106h0m0-132h0m1 136h0m0-49h0m0 40h0m0 74h0m1-109h0m0 68h0m0-72h0m0 126h0m1-162h0m0 22h0m0-64h0m1 74h0m0 33h0m0-85h0m0 87h0m0 65h0m0 9h0m0-103h0m0 53h0m0-31h0m1 7h0m0-15h0m0-15h0m0-13h0m1 8h0m0-1h0m0 56h0m0-36h0m1-55h0m0 7h0m1 67h0m0-77h0m0 8h0m0 110h0m0-86h0m0 140h0m0-103h0m0 37h0m0-84h0m1 61h0m0-46h0m0-22h0m1-87h0m0 186h0m0 20h0m0-71h0m0-14h0m0 79h0m1-43h0m0-44h0m1 51h0m1-99h0m0 71h0m0-66h0m0 24h0m0-66h0m0-37h0m1 39h0m0 7h0m0 143h0m0-121h0m0 44h0m0-11h0m1 132h0m0-100h0m0 13h0m0-49h0m1 21h0m0 89h0m0-106h0m0 19h0m0-74h0m0-53h0m0 214h0m1-140h0m0 40h0m0 58h0m0-29h0m1 3h0m0-26h0m0-57h0m1 81h0m0-93h0m0 120h0m1-144h0m0 74h0m0-21h0m0-1h0m2 100h0m0-153h0m0 95h0m0-71h0m1-7h0m0 160h0m0-40h0m0-58h0m0 41h0m0 24h0m1 22h0m1-73h0m0-61h0m0 147h0m0-106h0m1-34h0m0 8h0m0 54h0m0 47h0m0-11h0m1-9h0m1-13h0m1 47h0m0-25h0m0-16h0m0-80h0m0-33h0m1 69h0m1 43h0m0-78h0m0 97h0m0-20h0m1-11h0m0 110h0m0-185h0m0-7h0m0 70h0m0-49h0m0-13h0m1 160h0m0-224h0m0 135h0m1-30h0m0 57h0m0-34h0m0-61h0m1 3h0m1 71h0m0 46h0m0-66h0m0 8h0m0 4h0m1 58h0m0-215h0m0 154h0m1 95h0m0-2h0m0-40h0m0-10h0m1-46h0m0-112h0m0 66h0m0-6h0m0 130h0m1-157h0m1 82h0m0 41h0m0 6h0m1-125h0m0 60h0m2-30h0m0 46h0m0 48h0m1-107h0m0 56h0m0-54h0m0 3h0m0 99h0m0-111h0m1 61h0m2-82h0m0 33h0m0 75h0m0-43h0m0 1h0m1-36h0m1-23h0m1 208h0m0-168h0m0-22h0m0 54h0m0-21h0m0 81h0m2-75h0m0-55h0m0 56h0m0-8h0m2 88h0m0-76h0m0-9h0m0-30h0m1 29h0m0 134h0m2-171h0m1 62h0m0-124h0m1 163h0m0-101h0m1 157h0m0-160h0m1-35h0m0 135h0m1-21h0m1 65h0m0-62h0m1 30h0m1-112h0m1 61h0m0-29h0m0-31h0m3 26h0m3-52h0m0 83h0m1 5h0m1 5h0m1-17h0m0 80h0m1-53h0m0-73h0m0 35h0m1-33h0m0-17h0m1-3h0m1 58h0m1 10h0m2-35h0m2-15h0m4 43h0m6-93h0m2-7h0m1 108h0m1-79h0m2 33h0m1-7h0m0-22h0m2 116h0m1-69h0m0-14h0m3 76h0m0-64h0m3 35h0m0-25h0m0-58h0m1 31h0m5 12h0m1-17h0m3-24h0m5 0h0m3 33h0m2-10h0m6 4h0m1 25h0m1-69h0m2 30h0m1 16h0m2-64h0m1 59h0m3 27h0m4-13h0m13 20h0m3-89h0m2 0h0m7 44h0m1-4h0m13-11h0m7-18h0m2-51h0m1 78h0m1-15h0m11 2h0m0-9h0m0-8h0m1 36h0m2-55h0m0 28h0m11-4h0m9 15h0m3 21h0m8-16h0m7-47h0m9-23h0m1 56h0m6-9h0m2-30h0m15 21h0m4 43h0m7-30h0" stroke="#2b2b2b" stroke-width="12.2" stroke-linecap="round" fill="none"/>
<polygon points="836.0,2083.3 839.4,2086.2 842.8,2088.3 846.3,2089.6 849.7,2090.4 853.2,2089.1 856.6,2087.6 860.1,2085.9 863.5,2083.0 867.0,2079.8 870.4,2076.6 873.8,2073.3 877.3,2069.6 880.7,2065.9 884.2,2062.1 887.6,2058.3 891.1,2055.1 894.5,2051.8 898.0,2048.5 901.4,2045.2 904.8,2042.1 908.3,2039.6 911.7,2037.1 915.2,2034.5 918.6,2031.9 922.1,2029.7 925.5,2027.9 929.0,2026.0 932.4,2024.2 935.8,2022.4 939.3,2020.7 942.7,2019.0 946.2,2017.3 949.6,2015.7 953.1,2014.0 956.5,2012.5 960.0,2010.9 963.4,2009.5 966.8,2008.0 970.3,2006.7 973.7,2005.3 977.2,2004.0 980.6,2002.7 984.1,2001.3 987.5,1999.9 991.0,1998.4 994.4,1996.9 997.8,1995.6 1001.3,1994.3 1004.7,1992.8 1008.2,1991.2 1011.6,1989.3 1015.1,1987.1 1018.5,1984.5 1022.0,1981.2 1025.4,1978.2 1028.8,1977.9 1032.3,1977.5 1035.7,1977.1 1039.2,1976.7 1039.2,2010.7 1035.7,2012.0 1032.3,2013.2 1028.8,2014.4 1025.4,2015.6 1022.0,2014.2 1018.5,2012.9 1015.1,2012.4 1011.6,2012.2 1008.2,2012.5 1004.7,2012.9 1001.3,2013.5 997.8,2014.2 994.4,2015.0 991.0,2016.2 987.5,2017.5 984.1,2018.8 980.6,2020.2 977.2,2021.6 973.7,2023.0 970.3,2024.5 966.8,2025.8 963.4,2027.2 960.0,2028.5 956.5,2029.7 953.1,2030.9 949.6,2032.0 946.2,2033.1 942.7,2034.2 939.3,2035.3 935.8,2036.5 932.4,2037.6 929.0,2038.8 925.5,2039.9 922.1,2041.1 918.6,2042.7 915.2,2044.7 911.7,2046.7 908.3,2048.8 904.8,2050.9 901.4,2053.7 898.0,2056.7 894.5,2059.7 891.1,2062.8 887.6,2065.9 884.2,2069.7 880.7,2073.5 877.3,2077.4 873.8,2081.2 870.4,2084.8 867.0,2088.4 863.5,2092.1 860.1,2095.8 856.6,2098.4 853.2,2101.2 849.7,2104.3 846.3,2106.1 842.8,2108.4 839.4,2111.5 836.0,2115.3" fill="#999999" fill-opacity="0.4"/>
<polyline points="836.0,2099.3 849.6,2097.4 860.5,2090.6 874.1,2076.9 887.8,2061.9 904.2,2046.9 920.5,2036.0 939.6,2027.8 966.9,2016.9 994.2,2006.0 1021.4,1997.8 1039.2,1993.7" fill="none" stroke="#1662c4" stroke-width="2.5" stroke-linejoin="round" stroke-linecap="round"/>
</g>
<text class="rd" transform="translate(1045.9,1962.4) scale(1,1.06)" text-anchor="end">partial.cor = 0.519</text>
<text class="rd" transform="translate(1045.9,1977.3) scale(1,1.06)" text-anchor="end">p = 4.46e-32</text>
<line x1="825.8" x2="825.8" y1="1923.3" y2="2160.3" stroke="#333" stroke-width="1.7"/>
<line x1="1049.3" x2="1049.3" y1="1923.3" y2="2160.3" stroke="#333" stroke-width="1.7"/>
<line x1="825.8" x2="1049.3" y1="1947.1" y2="1947.1" stroke="#262626" stroke-width="1.6"/>
<line x1="825.8" x2="1049.3" y1="2160.3" y2="2160.3" stroke="#e6e6e6" stroke-width="1.2"/>
<line x1="835.4" x2="835.4" y1="2160.3" y2="2164.1" stroke="#333" stroke-width="1.6"/>
<text class="ax" x="835.4" y="2176.6" text-anchor="middle">0.0</text>
<line x1="876.3" x2="876.3" y1="2160.3" y2="2164.1" stroke="#333" stroke-width="1.6"/>
<text class="ax" x="876.3" y="2176.6" text-anchor="middle">0.1</text>
<line x1="917.2" x2="917.2" y1="2160.3" y2="2164.1" stroke="#333" stroke-width="1.6"/>
<text class="ax" x="917.2" y="2176.6" text-anchor="middle">0.2</text>
<line x1="958.1" x2="958.1" y1="2160.3" y2="2164.1" stroke="#333" stroke-width="1.6"/>
<text class="ax" x="958.1" y="2176.6" text-anchor="middle">0.3</text>
<line x1="999.0" x2="999.0" y1="2160.3" y2="2164.1" stroke="#333" stroke-width="1.6"/>
<text class="ax" x="999.0" y="2176.6" text-anchor="middle">0.4</text>
<line x1="1039.9" x2="1039.9" y1="2160.3" y2="2164.1" stroke="#333" stroke-width="1.6"/>
<text class="ax" x="1039.9" y="2176.6" text-anchor="middle">0.5</text>
<rect x="1057.8" y="1923.3" width="223.5" height="23.8" fill="#d9d9d9" stroke="#555" stroke-width="1"/>
<text class="st" transform="translate(1169.5,1939.2) scale(1,1.08)" text-anchor="middle">Macrophage</text>
<g><clipPath id="cp5_4"><rect x="1057.8" y="1947.1" width="223.5" height="213.2"/></clipPath></g>
<g clip-path="url(#cp5_4)">
<line x1="1092.7" x2="1092.7" y1="1947.1" y2="2160.3" stroke="#f2f2f2" stroke-width="0.8"/>
<line x1="1142.9" x2="1142.9" y1="1947.1" y2="2160.3" stroke="#f2f2f2" stroke-width="0.8"/>
<line x1="1193.1" x2="1193.1" y1="1947.1" y2="2160.3" stroke="#f2f2f2" stroke-width="0.8"/>
<line x1="1243.3" x2="1243.3" y1="1947.1" y2="2160.3" stroke="#f2f2f2" stroke-width="0.8"/>
<line x1="1057.8" x2="1281.3" y1="2148.2" y2="2148.2" stroke="#f2f2f2" stroke-width="0.8"/>
<line x1="1057.8" x2="1281.3" y1="2064.9" y2="2064.9" stroke="#f2f2f2" stroke-width="0.8"/>
<line x1="1057.8" x2="1281.3" y1="1981.6" y2="1981.6" stroke="#f2f2f2" stroke-width="0.8"/>
<line x1="1067.6" x2="1067.6" y1="1947.1" y2="2160.3" stroke="#ebebeb" stroke-width="1.2"/>
<line x1="1117.8" x2="1117.8" y1="1947.1" y2="2160.3" stroke="#ebebeb" stroke-width="1.2"/>
<line x1="1168.0" x2="1168.0" y1="1947.1" y2="2160.3" stroke="#ebebeb" stroke-width="1.2"/>
<line x1="1218.2" x2="1218.2" y1="1947.1" y2="2160.3" stroke="#ebebeb" stroke-width="1.2"/>
<line x1="1268.4" x2="1268.4" y1="1947.1" y2="2160.3" stroke="#ebebeb" stroke-width="1.2"/>
<line x1="1057.8" x2="1281.3" y1="2106.6" y2="2106.6" stroke="#ebebeb" stroke-width="1.2"/>
<line x1="1057.8" x2="1281.3" y1="2023.3" y2="2023.3" stroke="#ebebeb" stroke-width="1.2"/>
<path transform="scale(0.5)" d="M2135 4071h0m0 133h0m0 62h0m0-7h0m0-155h0m0 108h0m0-65h0m0-48h0m0 36h0m0-37h0m0 155h0m0-72h0m0 98h0m0-116h0m0 73h0m0-42h0m0 2h0m0-85h0m0-52h0m0 215h0m0-91h0m0-92h0m0 118h0m0-133h0m0 61h0m0-71h0m0 51h0m0 1h0m0-63h0m0 59h0m0 116h0m0 17h0m0-20h0m0-62h0m0 26h0m0-83h0m0 62h0m0 55h0m0-25h0m0-16h0m0 89h0m0-131h0m0 34h0m0 30h0m0 17h0m0-182h0m0 173h0m0-156h0m0 32h0m0 190h0m0-37h0m0-103h0m0 48h0m0 9h0m0-40h0m0-25h0m0-9h0m0 94h0m0 22h0m0-93h0m0-72h0m0 182h0m0-82h0m0-49h0m0 3h0m0-82h0m0 106h0m0-70h0m0 166h0m0-97h0m0 91h0m0-136h0m0-44h0m0 34h0m0-46h0m0 213h0m0-141h0m0 168h0m0-120h0m0 114h0m0-30h0m0-22h0m0-74h0m0 128h0m0-67h0m0-59h0m0 106h0m0-188h0m0-25h0m0 14h0m0 17h0m0 4h0m0 182h0m0-226h0m3 135h0m1 51h0m0-37h0m0-35h0m2 28h0m0-7h0m1-52h0m0 136h0m0-73h0m1-155h0m0 97h0m1-45h0m1-21h0m0 23h0m0 76h0m1 53h0m0-74h0m0 2h0m0 49h0m0-65h0m1 30h0m0 45h0m0-231h0m1 222h0m0-85h0m0-24h0m0-44h0m1 146h0m0-64h0m0 31h0m1-27h0m0-77h0m1 76h0m0-67h0m0-53h0m1 112h0m0 174h0m0-183h0m0-77h0m0 23h0m1 63h0m0-34h0m0 67h0m0 27h0m0 106h0m0-159h0m1-82h0m0 181h0m0-149h0m0 71h0m1-28h0m0-49h0m1 20h0m0-2h0m0 55h0m1-44h0m0-1h0m0-12h0m0-33h0m1 243h0m0-145h0m0-71h0m1-7h0m0 44h0m0-127h0m1 65h0m0 47h0m1-12h0m0 13h0m0-31h0m1-3h0m0 38h0m0 120h0m1-229h0m0 142h0m1 89h0m0-60h0m0-149h0m2 155h0m0-73h0m0 73h0m1-113h0m1 34h0m1-62h0m0 9h0m0 82h0m1-1h0m0 61h0m0-106h0m1-7h0m0 72h0m1-6h0m0-117h0m0 139h0m1-40h0m0 6h0m1 88h0m0-92h0m1 57h0m0-26h0m1-12h0m0-29h0m0 146h0m0-148h0m1 29h0m0 43h0m1-76h0m0 8h0m0-124h0m0 88h0m0 10h0m0-53h0m1 20h0m0 106h0m0-85h0m0 129h0m1-134h0m0 126h0m2-186h0m1 106h0m0 35h0m0-22h0m0-41h0m1-120h0m0 156h0m0 12h0m0-92h0m1 55h0m1 31h0m0 38h0m0-89h0m0 102h0m1-73h0m0-3h0m0 20h0m1 21h0m0-39h0m0 2h0m0 7h0m0-89h0m0 144h0m1-53h0m0-71h0m1 12h0m0 87h0m0-150h0m0 72h0m1-42h0m0 101h0m0-25h0m1-95h0m0 125h0m0-48h0m0 2h0m0 22h0m0-64h0m1 104h0m0-89h0m0-4h0m0 84h0m0-37h0m1 152h0m1-128h0m1-95h0m0 77h0m1 117h0m0-143h0m1 218h0m0-213h0m0-45h0m0 77h0m0 24h0m1-5h0m0 40h0m1-104h0m0-7h0m0 67h0m0-114h0m0 109h0m1-2h0m1-30h0m0 55h0m1-101h0m0 57h0m0-11h0m0 103h0m1-136h0m0-23h0m0 87h0m0-5h0m1-78h0m0-64h0m0 99h0m1 85h0m0-77h0m1 40h0m1 5h0m1-20h0m0 17h0m3-10h0m1-51h0m0 8h0m0 36h0m1-27h0m1-79h0m0 63h0m0-36h0m1 46h0m0-31h0m1 38h0m0-1h0m0-6h0m1-10h0m0-10h0m1 33h0m0 37h0m0-66h0m1 51h0m2-51h0m0-58h0m0 3h0m2 128h0m1-58h0m1 40h0m1 28h0m0-74h0m0-51h0m0 24h0m1 190h0m0-73h0m1-10h0m0-131h0m2-19h0m1 86h0m0 23h0m1-36h0m0-11h0m1 46h0m1-64h0m0 46h0m1-57h0m0 124h0m1-92h0m0-24h0m0 133h0m0-115h0m0 48h0m0-55h0m1-61h0m1 125h0m0-17h0m0-40h0m0 6h0m1-22h0m1 33h0m1-29h0m0 50h0m1-11h0m0 30h0m1-5h0m0-12h0m1 44h0m0-25h0m0 75h0m0-90h0m2-30h0m2-24h0m0 14h0m1 32h0m1 32h0m0-156h0m0 44h0m1 95h0m0 39h0m2-103h0m1 105h0m0-56h0m0-42h0m1-10h0m1-33h0m1 114h0m2-25h0m1 8h0m0-18h0m0-36h0m0 23h0m2 25h0m0-43h0m1-3h0m0-19h0m1 12h0m2 19h0m3-39h0m0 15h0m2-103h0m0 96h0m2 38h0m0 62h0m1-67h0m0-20h0m0 2h0m1 25h0m2-24h0m7 53h0m0-100h0m0 2h0m1 3h0m1 23h0m1 37h0m0-32h0m0 100h0m3-52h0m0-68h0m1 81h0m1-10h0m1-3h0m1 26h0m0-38h0m1 27h0m0-14h0m1-53h0m5 46h0m1 1h0m0 13h0m0-48h0m5-24h0m1 46h0m0-43h0m0 57h0m1 66h0m3-118h0m5 141h0m8-119h0m1 29h0m3 79h0m3-84h0m1-41h0m2 0h0m3 59h0m4-69h0m1 16h0m7 30h0m6-25h0m2-4h0m1 11h0m3-30h0m6 16h0m5 29h0m1 113h0m3-65h0m3 52h0m1-116h0m4 26h0m1-41h0m10 29h0m2-15h0m3 56h0m17-22h0m16 18h0m0 22h0m7-118h0m3 47h0m4 10h0m1 10h0m2 52h0m2-42h0m1 19h0m6-28h0m3 35h0m15 18h0m6-16h0m0 4h0m7-2h0m2-12h0m5-20h0m8-12h0m7 27h0" stroke="#2b2b2b" stroke-width="12.2" stroke-linecap="round" fill="none"/>
<polygon points="1067.7,2077.0 1071.2,2069.5 1074.6,2064.2 1078.1,2059.9 1081.5,2057.9 1085.0,2055.8 1088.4,2053.7 1091.8,2052.3 1095.3,2050.8 1098.7,2049.3 1102.2,2047.8 1105.6,2046.4 1109.1,2045.3 1112.5,2044.1 1116.0,2043.0 1119.4,2042.0 1122.8,2041.4 1126.3,2040.8 1129.7,2040.1 1133.2,2039.5 1136.6,2038.8 1140.1,2038.1 1143.5,2037.4 1147.0,2036.8 1150.4,2036.3 1153.8,2035.8 1157.3,2035.3 1160.7,2034.7 1164.2,2034.2 1167.6,2033.6 1171.1,2033.0 1174.5,2032.5 1178.0,2031.9 1181.4,2031.4 1184.8,2030.9 1188.3,2030.4 1191.7,2029.9 1195.2,2029.4 1198.6,2028.8 1202.1,2028.3 1205.5,2027.9 1209.0,2027.5 1212.4,2027.2 1215.8,2026.9 1219.3,2026.7 1222.7,2026.4 1226.2,2026.1 1229.6,2025.6 1233.1,2024.9 1236.5,2024.0 1240.0,2022.8 1243.4,2021.1 1246.8,2018.8 1250.3,2015.6 1253.7,2010.9 1257.2,2007.7 1260.6,2007.3 1264.1,2006.9 1267.5,2006.6 1271.0,2006.2 1271.0,2070.2 1267.5,2070.1 1264.1,2069.9 1260.6,2069.8 1257.2,2069.7 1253.7,2066.6 1250.3,2062.1 1246.8,2059.0 1243.4,2056.8 1240.0,2055.3 1236.5,2054.2 1233.1,2053.4 1229.6,2052.9 1226.2,2052.6 1222.7,2052.4 1219.3,2052.4 1215.8,2052.3 1212.4,2052.3 1209.0,2052.2 1205.5,2052.0 1202.1,2051.8 1198.6,2051.5 1195.2,2051.2 1191.7,2050.8 1188.3,2050.5 1184.8,2050.2 1181.4,2049.9 1178.0,2049.6 1174.5,2049.3 1171.1,2049.0 1167.6,2048.7 1164.2,2048.4 1160.7,2048.1 1157.3,2047.8 1153.8,2047.6 1150.4,2047.3 1147.0,2047.2 1143.5,2047.2 1140.1,2047.3 1136.6,2047.5 1133.2,2047.8 1129.7,2048.0 1126.3,2048.3 1122.8,2048.5 1119.4,2048.8 1116.0,2049.5 1112.5,2050.4 1109.1,2051.3 1105.6,2052.3 1102.2,2053.5 1098.7,2054.9 1095.3,2056.2 1091.8,2057.6 1088.4,2059.1 1085.0,2061.2 1081.5,2063.4 1078.1,2065.7 1074.6,2070.4 1071.2,2076.5 1067.7,2085.0" fill="#999999" fill-opacity="0.4"/>
<polyline points="1067.7,2081.0 1071.8,2071.5 1077.3,2063.3 1088.2,2056.5 1104.6,2049.7 1118.2,2045.6 1145.5,2042.0 1172.8,2040.9 1200.0,2040.1 1227.3,2039.3 1254.6,2038.8 1271.0,2038.2" fill="none" stroke="#1662c4" stroke-width="2.5" stroke-linejoin="round" stroke-linecap="round"/>
</g>
<text class="rd" transform="translate(1277.9,1962.4) scale(1,1.06)" text-anchor="end">partial.cor = 0.287</text>
<text class="rd" transform="translate(1277.9,1977.3) scale(1,1.06)" text-anchor="end">p = 5.01e-10</text>
<line x1="1057.8" x2="1057.8" y1="1923.3" y2="2160.3" stroke="#333" stroke-width="1.7"/>
<line x1="1281.3" x2="1281.3" y1="1923.3" y2="2160.3" stroke="#333" stroke-width="1.7"/>
<line x1="1057.8" x2="1281.3" y1="1947.1" y2="1947.1" stroke="#262626" stroke-width="1.6"/>
<line x1="1057.8" x2="1281.3" y1="2160.3" y2="2160.3" stroke="#e6e6e6" stroke-width="1.2"/>
<line x1="1067.6" x2="1067.6" y1="2160.3" y2="2164.1" stroke="#333" stroke-width="1.6"/>
<text class="ax" x="1067.6" y="2176.6" text-anchor="middle">0.0</text>
<line x1="1117.8" x2="1117.8" y1="2160.3" y2="2164.1" stroke="#333" stroke-width="1.6"/>
<text class="ax" x="1117.8" y="2176.6" text-anchor="middle">0.1</text>
<line x1="1168.0" x2="1168.0" y1="2160.3" y2="2164.1" stroke="#333" stroke-width="1.6"/>
<text class="ax" x="1168.0" y="2176.6" text-anchor="middle">0.2</text>
<line x1="1218.2" x2="1218.2" y1="2160.3" y2="2164.1" stroke="#333" stroke-width="1.6"/>
<text class="ax" x="1218.2" y="2176.6" text-anchor="middle">0.3</text>
<line x1="1268.4" x2="1268.4" y1="2160.3" y2="2164.1" stroke="#333" stroke-width="1.6"/>
<text class="ax" x="1268.4" y="2176.6" text-anchor="middle">0.4</text>
<rect x="1289.8" y="1923.3" width="223.5" height="23.8" fill="#d9d9d9" stroke="#555" stroke-width="1"/>
<text class="st" transform="translate(1401.5,1939.2) scale(1,1.08)" text-anchor="middle">Neutrophil</text>
<g><clipPath id="cp5_5"><rect x="1289.8" y="1947.1" width="223.5" height="213.2"/></clipPath></g>
<g clip-path="url(#cp5_5)">
<line x1="1328.3" x2="1328.3" y1="1947.1" y2="2160.3" stroke="#f2f2f2" stroke-width="0.8"/>
<line x1="1385.6" x2="1385.6" y1="1947.1" y2="2160.3" stroke="#f2f2f2" stroke-width="0.8"/>
<line x1="1442.9" x2="1442.9" y1="1947.1" y2="2160.3" stroke="#f2f2f2" stroke-width="0.8"/>
<line x1="1500.1" x2="1500.1" y1="1947.1" y2="2160.3" stroke="#f2f2f2" stroke-width="0.8"/>
<line x1="1289.8" x2="1513.2" y1="2148.2" y2="2148.2" stroke="#f2f2f2" stroke-width="0.8"/>
<line x1="1289.8" x2="1513.2" y1="2064.9" y2="2064.9" stroke="#f2f2f2" stroke-width="0.8"/>
<line x1="1289.8" x2="1513.2" y1="1981.6" y2="1981.6" stroke="#f2f2f2" stroke-width="0.8"/>
<line x1="1299.7" x2="1299.7" y1="1947.1" y2="2160.3" stroke="#ebebeb" stroke-width="1.2"/>
<line x1="1357.0" x2="1357.0" y1="1947.1" y2="2160.3" stroke="#ebebeb" stroke-width="1.2"/>
<line x1="1414.2" x2="1414.2" y1="1947.1" y2="2160.3" stroke="#ebebeb" stroke-width="1.2"/>
<line x1="1471.5" x2="1471.5" y1="1947.1" y2="2160.3" stroke="#ebebeb" stroke-width="1.2"/>
<line x1="1289.8" x2="1513.2" y1="2106.6" y2="2106.6" stroke="#ebebeb" stroke-width="1.2"/>
<line x1="1289.8" x2="1513.2" y1="2023.3" y2="2023.3" stroke="#ebebeb" stroke-width="1.2"/>
<path transform="scale(0.5)" d="M2604 4201h0m2 16h0m2-34h0m7 39h0m8 23h0m1-28h0m0-18h0m2-9h0m0 27h0m1-18h0m2 26h0m1-55h0m1 52h0m1-56h0m0 77h0m1-31h0m1 22h0m2 8h0m0-73h0m0-54h0m1 86h0m1-45h0m0 72h0m0 5h0m1 19h0m1-71h0m0 7h0m1 31h0m0-21h0m1 14h0m3 76h0m0-11h0m1-51h0m0-24h0m3 60h0m0-12h0m0-119h0m0 44h0m1-1h0m1 69h0m0 10h0m3-11h0m0-43h0m0 33h0m0-21h0m1-55h0m0 38h0m1-27h0m0 69h0m0 66h0m0-93h0m1-16h0m0 77h0m0-83h0m1 38h0m0-20h0m0-86h0m1 41h0m1 59h0m1-30h0m0-18h0m0 15h0m1 13h0m0-54h0m1-19h0m0 47h0m1 47h0m1 6h0m1-77h0m0 64h0m1-83h0m0 69h0m1-3h0m1 14h0m1 0h0m0 43h0m2-91h0m0 49h0m0-67h0m0 45h0m0-51h0m0 54h0m1-59h0m0 27h0m0-62h0m0 106h0m1-72h0m0-13h0m1 87h0m0-43h0m0 23h0m0-8h0m0-21h0m1-6h0m0 36h0m0-31h0m1 23h0m0 31h0m0-72h0m1 58h0m0-66h0m0 125h0m0-76h0m0-18h0m1-11h0m0-2h0m0-87h0m0 89h0m1-38h0m1 3h0m0 36h0m0 24h0m0 60h0m0 20h0m0-70h0m1 1h0m0 33h0m0-31h0m0 109h0m1-111h0m0-34h0m1 57h0m0-103h0m0 29h0m0 26h0m0 42h0m0 23h0m0-28h0m1-21h0m0-83h0m0 79h0m0-103h0m0 77h0m1-8h0m0-64h0m0 54h0m0 25h0m0 82h0m0-40h0m0 18h0m1-113h0m0 82h0m0-94h0m0 137h0m1-60h0m0 52h0m0-14h0m1-49h0m0 49h0m0-19h0m0-10h0m0-95h0m1 79h0m1-47h0m0-66h0m0 130h0m1-50h0m1 9h0m1-100h0m0 100h0m1 51h0m0-160h0m1 86h0m0 31h0m0-5h0m1-7h0m0-11h0m0 0h0m0 138h0m0-114h0m1-3h0m1-20h0m0-23h0m1-43h0m0 70h0m0 6h0m0 9h0m0-62h0m0 12h0m1 27h0m0 29h0m1-67h0m0-6h0m0 6h0m0 126h0m0-132h0m0-105h0m0 217h0m1-91h0m0 42h0m0 23h0m1-81h0m0 95h0m0-88h0m0-12h0m0-20h0m1 82h0m0-55h0m0-36h0m1-48h0m0 85h0m0 49h0m0-41h0m1 39h0m0 50h0m0-5h0m0-58h0m1-16h0m0 10h0m0 88h0m0-122h0m1 87h0m0-24h0m0-2h0m1-17h0m0-17h0m0 15h0m1 160h0m0-214h0m0 72h0m0 12h0m1-83h0m0 100h0m0-144h0m0 113h0m1-58h0m0 54h0m0-19h0m0 10h0m1 53h0m0-105h0m1 116h0m0-75h0m1 49h0m1-50h0m0 17h0m0-55h0m0 78h0m0-80h0m1-1h0m1 64h0m1-64h0m0 48h0m0-11h0m0-5h0m1-10h0m0 29h0m0 16h0m0 6h0m1-28h0m0-20h0m0 4h0m0 58h0m0-141h0m1 82h0m0-32h0m1-12h0m1 89h0m0-74h0m1 54h0m0 28h0m0-29h0m0 35h0m0-119h0m0 68h0m1 13h0m0-110h0m1 123h0m0-172h0m0 152h0m1 95h0m0-71h0m1-27h0m2-8h0m0 21h0m0-47h0m1 60h0m0 20h0m0 21h0m0-47h0m1 2h0m0 26h0m1-90h0m0 82h0m0-78h0m0-20h0m1 32h0m1 0h0m0 33h0m0-47h0m0 74h0m0-18h0m0-27h0m1 18h0m0-7h0m0 45h0m1-37h0m0-63h0m0 161h0m1-122h0m1 18h0m0 49h0m0-14h0m0 27h0m1-96h0m0-25h0m0-42h0m1 57h0m0 97h0m1-77h0m0 66h0m1-93h0m0 106h0m0 80h0m0 41h0m1-225h0m0-31h0m0 60h0m0-33h0m1 32h0m1-6h0m1 23h0m0-37h0m0 9h0m0 27h0m0-44h0m0 65h0m0-63h0m0-1h0m1-5h0m0 6h0m2 71h0m0-111h0m0 126h0m0-3h0m1 46h0m0-53h0m1 10h0m0-91h0m1 30h0m1-7h0m0 40h0m1-55h0m0-77h0m0 122h0m1-81h0m0 70h0m0 5h0m2-128h0m0 112h0m0 60h0m1-101h0m0 100h0m0-169h0m1 122h0m0 85h0m0-91h0m1 3h0m1-40h0m0 11h0m1 2h0m1-14h0m0 201h0m1-168h0m1 11h0m0 31h0m1 89h0m0-97h0m0-103h0m0 29h0m1 46h0m0-10h0m1-74h0m0 21h0m1 45h0m1 49h0m0 18h0m0-100h0m0 30h0m1 1h0m0 28h0m1 71h0m1-55h0m1-74h0m0 32h0m1-28h0m0-34h0m1 114h0m0-72h0m0 39h0m1-24h0m1-13h0m2 16h0m1 23h0m2-5h0m0-4h0m0-15h0m1 6h0m0-69h0m0 107h0m2-67h0m1 8h0m0-51h0m0 31h0m1 154h0m2-59h0m1-64h0m1-74h0m4 76h0m0 51h0m1-60h0m3 49h0m1-44h0m0-63h0m1 69h0m3-34h0m0 74h0m1-16h0m0-37h0m1-8h0m1-11h0m1 62h0m0-3h0m2 33h0m2-63h0m3-35h0m1 41h0m2-16h0m2 6h0m1-18h0m2 36h0m6-35h0m5 23h0m3-45h0m1-39h0m2 45h0m5 43h0m5 0h0m0 32h0m2-108h0m9 79h0m1-41h0m4-23h0m2 40h0m1-9h0m8-13h0m3 24h0m3-32h0m3 54h0m14-59h0m8 22h0m1 2h0m8-14h0m1 57h0m9-52h0m9 6h0m0-54h0m8 28h0m7 38h0m11-33h0m3-12h0m4-3h0m4 4h0m1-21h0m2 102h0m1-64h0m2-34h0m0 16h0m5-59h0m3 90h0m11-67h0" stroke="#2b2b2b" stroke-width="12.2" stroke-linecap="round" fill="none"/>
<polygon points="1299.6,2099.1 1303.1,2099.9 1306.5,2100.9 1310.0,2100.9 1313.5,2100.2 1316.9,2099.1 1320.4,2097.6 1323.9,2095.4 1327.3,2091.6 1330.8,2087.8 1334.3,2083.9 1337.7,2079.6 1341.2,2074.9 1344.7,2070.2 1348.1,2065.4 1351.6,2061.2 1355.1,2057.8 1358.5,2054.3 1362.0,2050.8 1365.5,2048.1 1368.9,2046.0 1372.4,2043.9 1375.9,2041.8 1379.3,2039.7 1382.8,2038.3 1386.3,2037.0 1389.7,2035.7 1393.2,2034.4 1396.7,2033.0 1400.2,2031.6 1403.6,2030.2 1407.1,2028.6 1410.6,2026.9 1414.0,2025.2 1417.5,2023.4 1421.0,2021.7 1424.4,2019.9 1427.9,2018.2 1431.4,2016.5 1434.8,2014.8 1438.3,2013.1 1441.8,2011.5 1445.2,2009.9 1448.7,2008.3 1452.2,2006.7 1455.6,2005.2 1459.1,2003.8 1462.6,2002.2 1466.0,2000.7 1469.5,1999.1 1473.0,1997.6 1476.4,1996.0 1479.9,1994.3 1483.4,1992.5 1486.8,1990.5 1490.3,1988.3 1493.8,1985.8 1497.2,1982.6 1500.7,1978.5 1504.2,1975.7 1504.2,2011.7 1500.7,2011.6 1497.2,2010.2 1493.8,2009.7 1490.3,2009.8 1486.8,2010.4 1483.4,2011.4 1479.9,2012.7 1476.4,2014.1 1473.0,2015.7 1469.5,2017.2 1466.0,2018.8 1462.6,2020.4 1459.1,2021.9 1455.6,2023.3 1452.2,2024.5 1448.7,2025.8 1445.2,2027.0 1441.8,2028.1 1438.3,2029.2 1434.8,2030.4 1431.4,2031.4 1427.9,2032.5 1424.4,2033.5 1421.0,2034.6 1417.5,2035.6 1414.0,2036.6 1410.6,2037.7 1407.1,2038.8 1403.6,2039.8 1400.2,2040.7 1396.7,2041.6 1393.2,2042.5 1389.7,2043.5 1386.3,2044.5 1382.8,2045.6 1379.3,2046.8 1375.9,2048.7 1372.4,2050.7 1368.9,2052.6 1365.5,2054.6 1362.0,2057.3 1358.5,2060.8 1355.1,2064.3 1351.6,2067.8 1348.1,2072.0 1344.7,2077.0 1341.2,2081.9 1337.7,2086.9 1334.3,2091.5 1330.8,2095.9 1327.3,2100.4 1323.9,2105.0 1320.4,2108.3 1316.9,2111.2 1313.5,2114.4 1310.0,2117.8 1306.5,2121.7 1303.1,2126.5 1299.6,2131.1" fill="#999999" fill-opacity="0.4"/>
<polyline points="1299.6,2115.1 1311.9,2108.3 1322.8,2101.5 1336.4,2085.1 1350.1,2066.0 1363.7,2052.4 1380.1,2042.8 1404.6,2034.7 1431.9,2023.7 1459.2,2012.8 1486.4,2000.6 1504.2,1993.7" fill="none" stroke="#1662c4" stroke-width="2.5" stroke-linejoin="round" stroke-linecap="round"/>
</g>
<text class="rd" transform="translate(1509.8,1962.4) scale(1,1.06)" text-anchor="end">partial.cor = 0.536</text>
<text class="rd" transform="translate(1509.8,1977.3) scale(1,1.06)" text-anchor="end">p = 5.55e-35</text>
<line x1="1289.8" x2="1289.8" y1="1923.3" y2="2160.3" stroke="#333" stroke-width="1.7"/>
<line x1="1513.2" x2="1513.2" y1="1923.3" y2="2160.3" stroke="#333" stroke-width="1.7"/>
<line x1="1289.8" x2="1513.2" y1="1947.1" y2="1947.1" stroke="#262626" stroke-width="1.6"/>
<line x1="1289.8" x2="1513.2" y1="2160.3" y2="2160.3" stroke="#e6e6e6" stroke-width="1.2"/>
<line x1="1299.7" x2="1299.7" y1="2160.3" y2="2164.1" stroke="#333" stroke-width="1.6"/>
<text class="ax" x="1299.7" y="2176.6" text-anchor="middle">0.0</text>
<line x1="1357.0" x2="1357.0" y1="2160.3" y2="2164.1" stroke="#333" stroke-width="1.6"/>
<text class="ax" x="1357.0" y="2176.6" text-anchor="middle">0.1</text>
<line x1="1414.2" x2="1414.2" y1="2160.3" y2="2164.1" stroke="#333" stroke-width="1.6"/>
<text class="ax" x="1414.2" y="2176.6" text-anchor="middle">0.2</text>
<line x1="1471.5" x2="1471.5" y1="2160.3" y2="2164.1" stroke="#333" stroke-width="1.6"/>
<text class="ax" x="1471.5" y="2176.6" text-anchor="middle">0.3</text>
<rect x="1521.7" y="1923.3" width="223.5" height="23.8" fill="#d9d9d9" stroke="#555" stroke-width="1"/>
<text class="st" transform="translate(1633.4,1939.2) scale(1,1.08)" text-anchor="middle">Dendritic Cell</text>
<g><clipPath id="cp5_6"><rect x="1521.7" y="1947.1" width="223.5" height="213.2"/></clipPath></g>
<g clip-path="url(#cp5_6)">
<line x1="1567.9" x2="1567.9" y1="1947.1" y2="2160.3" stroke="#f2f2f2" stroke-width="0.8"/>
<line x1="1616.6" x2="1616.6" y1="1947.1" y2="2160.3" stroke="#f2f2f2" stroke-width="0.8"/>
<line x1="1665.3" x2="1665.3" y1="1947.1" y2="2160.3" stroke="#f2f2f2" stroke-width="0.8"/>
<line x1="1714.0" x2="1714.0" y1="1947.1" y2="2160.3" stroke="#f2f2f2" stroke-width="0.8"/>
<line x1="1521.7" x2="1745.2" y1="2148.2" y2="2148.2" stroke="#f2f2f2" stroke-width="0.8"/>
<line x1="1521.7" x2="1745.2" y1="2064.9" y2="2064.9" stroke="#f2f2f2" stroke-width="0.8"/>
<line x1="1521.7" x2="1745.2" y1="1981.6" y2="1981.6" stroke="#f2f2f2" stroke-width="0.8"/>
<line x1="1543.6" x2="1543.6" y1="1947.1" y2="2160.3" stroke="#ebebeb" stroke-width="1.2"/>
<line x1="1592.3" x2="1592.3" y1="1947.1" y2="2160.3" stroke="#ebebeb" stroke-width="1.2"/>
<line x1="1641.0" x2="1641.0" y1="1947.1" y2="2160.3" stroke="#ebebeb" stroke-width="1.2"/>
<line x1="1689.7" x2="1689.7" y1="1947.1" y2="2160.3" stroke="#ebebeb" stroke-width="1.2"/>
<line x1="1738.4" x2="1738.4" y1="1947.1" y2="2160.3" stroke="#ebebeb" stroke-width="1.2"/>
<line x1="1521.7" x2="1745.2" y1="2106.6" y2="2106.6" stroke="#ebebeb" stroke-width="1.2"/>
<line x1="1521.7" x2="1745.2" y1="2023.3" y2="2023.3" stroke="#ebebeb" stroke-width="1.2"/>
<path transform="scale(0.5)" d="M3068 4254h0m2-11h0m2 53h0m0-44h0m2 8h0m0-58h0m1 67h0m0-24h0m1 13h0m0-29h0m0-65h0m0 82h0m1 4h0m0-29h0m1-33h0m0-63h0m1 94h0m1 15h0m0 58h0m0-68h0m1 23h0m0-9h0m1 44h0m1-66h0m0-72h0m0 67h0m0-60h0m1 71h0m0-42h0m0 47h0m0 4h0m1-61h0m0 33h0m0-11h0m0 82h0m0-56h0m1-35h0m1-27h0m0 30h0m0 40h0m0-3h0m0-31h0m0-34h0m0 110h0m0-109h0m1 97h0m0 46h0m0-53h0m0-51h0m1-44h0m0 7h0m0 22h0m1 8h0m0-12h0m0 37h0m0-145h0m0 106h0m1 29h0m1 20h0m0-72h0m0 65h0m1-33h0m0-22h0m0-12h0m0 74h0m0-52h0m0 31h0m1 3h0m0 47h0m0-39h0m1-58h0m0 2h0m0 30h0m0-13h0m1 17h0m0 3h0m0 81h0m0-98h0m0 9h0m0 27h0m1-1h0m0-64h0m0 64h0m1-58h0m0-4h0m2 96h0m0-37h0m0 85h0m0-144h0m0 127h0m1-93h0m0-91h0m0 107h0m0 34h0m0-42h0m1-71h0m0 81h0m0-20h0m1-36h0m0 15h0m1 49h0m0-49h0m0 74h0m0-63h0m1 3h0m0-17h0m0 42h0m0-1h0m1-28h0m0 35h0m1 42h0m0-53h0m0-2h0m0-27h0m1-29h0m0 73h0m0-30h0m0-3h0m1 25h0m0 50h0m0-94h0m0 74h0m0-77h0m0-30h0m0 109h0m0-73h0m1 19h0m0-14h0m0 43h0m0-65h0m0 70h0m1-89h0m0 123h0m0-74h0m0 2h0m1 29h0m0 65h0m1-72h0m1-21h0m0 5h0m0 97h0m0-175h0m1 23h0m0 14h0m0 25h0m0-42h0m0 54h0m0-43h0m0 112h0m1-32h0m0-77h0m0-29h0m0 90h0m1 23h0m0-71h0m1 34h0m0-62h0m0 59h0m0-46h0m0 29h0m0-8h0m2 48h0m0-65h0m0 6h0m0 109h0m1-125h0m0 37h0m1-17h0m1 137h0m0-203h0m1 101h0m0 55h0m0-73h0m0 123h0m1-123h0m0-25h0m0-8h0m0 11h0m1 39h0m0-23h0m0-53h0m0 15h0m1-6h0m0-34h0m0 68h0m0 82h0m1-117h0m0 7h0m0 24h0m0 56h0m1-61h0m0-8h0m0 103h0m0-39h0m1-34h0m1-56h0m0 7h0m0 58h0m0-74h0m1 64h0m0 129h0m0-87h0m0-68h0m2 48h0m0-66h0m1 55h0m0-83h0m0 85h0m0-4h0m0-45h0m1 53h0m0-17h0m1-57h0m0 33h0m0 51h0m0-45h0m0 50h0m0 15h0m1-45h0m0 82h0m0-145h0m0-10h0m1 7h0m0 53h0m1 50h0m0-26h0m1-25h0m0 4h0m0 26h0m0 29h0m1-60h0m0 41h0m0 33h0m0-152h0m1 81h0m0-5h0m0-15h0m1 59h0m0-70h0m0 26h0m0-27h0m0-37h0m1 35h0m0-61h0m0 221h0m1-173h0m0 43h0m0-17h0m0 26h0m0-31h0m1-47h0m1 145h0m0-51h0m1-50h0m0 40h0m0-22h0m0 21h0m0-19h0m1-5h0m0-56h0m0 52h0m1-18h0m1 60h0m0 5h0m0 54h0m0-158h0m1 52h0m2 38h0m1 33h0m0-37h0m0-54h0m1 60h0m0 14h0m1-3h0m0-66h0m1-44h0m0 83h0m0 15h0m0-27h0m1-3h0m0-21h0m1 28h0m0-51h0m0 49h0m0-39h0m0 22h0m1 30h0m0 18h0m0-18h0m0 32h0m0-104h0m1 86h0m0 11h0m0-113h0m2-68h0m0 145h0m1 4h0m1 47h0m1-28h0m0-115h0m0 109h0m1-49h0m0 19h0m0-8h0m1-43h0m0 49h0m1-20h0m0 5h0m0-15h0m0 34h0m1-34h0m1 102h0m0-78h0m0 35h0m1 16h0m0-95h0m1 75h0m0-41h0m0 5h0m0-13h0m0 91h0m0-91h0m0 20h0m1-15h0m0-24h0m1 8h0m0-42h0m0 97h0m0-26h0m1 53h0m0-97h0m0 24h0m1 9h0m0-16h0m0-26h0m1 123h0m1-65h0m0 47h0m0-124h0m2 59h0m1 24h0m1-32h0m0-1h0m1-40h0m0 30h0m0 33h0m0 71h0m1-139h0m0 88h0m0-88h0m1-4h0m1-5h0m1-12h0m1 61h0m0-48h0m0 17h0m1 107h0m1-94h0m0 12h0m0-37h0m4 43h0m0-37h0m1 22h0m0 163h0m1-169h0m1 11h0m1-32h0m0 97h0m3-83h0m0-46h0m0 1h0m1 50h0m2 64h0m0-37h0m2-62h0m0 44h0m1 36h0m1 64h0m0-129h0m0 25h0m1 13h0m0-29h0m1-6h0m1-34h0m0 38h0m1 55h0m5-117h0m0 24h0m0 77h0m0-45h0m0 10h0m2-23h0m0 26h0m3 135h0m0-27h0m1-143h0m0 30h0m4 33h0m4 2h0m0 26h0m1-88h0m0 58h0m1 4h0m0-27h0m7 56h0m2-48h0m2-19h0m1 39h0m1-40h0m0-19h0m1-34h0m1 56h0m2-7h0m4-9h0m0 1h0m1 28h0m6-49h0m0 42h0m1-1h0m2-7h0m1 27h0m8-24h0m0-34h0m1 21h0m1-42h0m1 14h0m8 57h0m4-62h0m0 44h0m1 10h0m1-49h0m4 56h0m2-71h0m5 53h0m0-38h0m2-18h0m2 58h0m2-10h0m4-2h0m8 47h0m16 81h0m2-126h0m8-34h0m1 27h0m11 28h0m0-10h0m1-48h0m2-33h0m2 90h0m0-61h0m2 13h0m3 31h0m6-27h0m7 23h0m0-40h0m4 25h0m1 36h0m6 80h0m5-83h0m2-27h0m6-9h0m0 8h0m7-19h0m3 16h0m9 11h0m0-9h0m8-25h0m2-12h0m5-8h0m3 57h0m12-59h0" stroke="#2b2b2b" stroke-width="12.2" stroke-linecap="round" fill="none"/>
<polygon points="1531.5,2111.1 1535.0,2107.8 1538.4,2104.6 1541.9,2101.0 1545.3,2097.4 1548.8,2093.6 1552.3,2089.7 1555.7,2086.4 1559.2,2083.1 1562.6,2079.8 1566.1,2076.4 1569.5,2073.0 1573.0,2069.5 1576.5,2066.1 1579.9,2062.6 1583.4,2059.1 1586.8,2055.8 1590.3,2052.9 1593.8,2049.9 1597.2,2046.9 1600.7,2043.9 1604.1,2041.4 1607.6,2039.2 1611.0,2037.0 1614.5,2034.7 1618.0,2033.1 1621.4,2031.7 1624.9,2030.3 1628.3,2028.9 1631.8,2027.5 1635.3,2026.2 1638.7,2025.3 1642.2,2024.3 1645.6,2023.3 1649.1,2022.3 1652.5,2021.3 1656.0,2020.4 1659.5,2019.5 1662.9,2018.7 1666.4,2018.0 1669.8,2017.4 1673.3,2016.8 1676.8,2016.3 1680.2,2015.8 1683.7,2015.2 1687.1,2014.7 1690.6,2014.1 1694.0,2013.5 1697.5,2012.9 1701.0,2012.3 1704.4,2011.5 1707.9,2010.8 1711.3,2009.9 1714.8,2008.9 1718.3,2007.8 1721.7,2006.5 1725.2,2004.8 1728.6,2002.9 1732.1,2001.7 1735.5,2000.4 1735.5,2023.6 1732.1,2023.3 1728.6,2023.1 1725.2,2022.2 1721.7,2021.5 1718.3,2021.2 1714.8,2021.2 1711.3,2021.5 1707.9,2021.8 1704.4,2022.3 1701.0,2022.8 1697.5,2023.4 1694.0,2024.0 1690.6,2024.7 1687.1,2025.5 1683.7,2026.3 1680.2,2027.1 1676.8,2028.0 1673.3,2028.8 1669.8,2029.7 1666.4,2030.4 1662.9,2031.2 1659.5,2032.0 1656.0,2032.8 1652.5,2033.5 1649.1,2034.3 1645.6,2035.1 1642.2,2035.8 1638.7,2036.6 1635.3,2037.3 1631.8,2038.3 1628.3,2039.4 1624.9,2040.5 1621.4,2041.6 1618.0,2042.7 1614.5,2044.0 1611.0,2045.9 1607.6,2047.8 1604.1,2049.8 1600.7,2052.0 1597.2,2054.7 1593.8,2057.5 1590.3,2060.3 1586.8,2063.1 1583.4,2066.3 1579.9,2069.7 1576.5,2073.2 1573.0,2076.6 1569.5,2080.1 1566.1,2083.6 1562.6,2087.2 1559.2,2090.8 1555.7,2094.4 1552.3,2098.2 1548.8,2102.9 1545.3,2107.8 1541.9,2112.9 1538.4,2118.7 1535.0,2125.0 1531.5,2131.1" fill="#999999" fill-opacity="0.4"/>
<polyline points="1531.5,2121.1 1541.9,2106.9 1552.8,2093.3 1569.1,2076.9 1585.5,2060.6 1601.9,2046.9 1615.5,2038.8 1634.6,2031.9 1661.9,2025.1 1689.2,2019.7 1716.4,2014.7 1735.5,2012.0" fill="none" stroke="#1662c4" stroke-width="2.5" stroke-linejoin="round" stroke-linecap="round"/>
</g>
<text class="rd" transform="translate(1741.8,1962.4) scale(1,1.06)" text-anchor="end">partial.cor = 0.58</text>
<text class="rd" transform="translate(1741.8,1977.3) scale(1,1.06)" text-anchor="end">p = 1.85e-41</text>
<line x1="1521.7" x2="1521.7" y1="1923.3" y2="2160.3" stroke="#333" stroke-width="1.7"/>
<line x1="1745.2" x2="1745.2" y1="1923.3" y2="2160.3" stroke="#333" stroke-width="1.7"/>
<line x1="1521.7" x2="1745.2" y1="1947.1" y2="1947.1" stroke="#262626" stroke-width="1.6"/>
<line x1="1521.7" x2="1745.2" y1="2160.3" y2="2160.3" stroke="#e6e6e6" stroke-width="1.2"/>
<line x1="1543.6" x2="1543.6" y1="2160.3" y2="2164.1" stroke="#333" stroke-width="1.6"/>
<text class="ax" x="1543.6" y="2176.6" text-anchor="middle">0.25</text>
<line x1="1592.3" x2="1592.3" y1="2160.3" y2="2164.1" stroke="#333" stroke-width="1.6"/>
<text class="ax" x="1592.3" y="2176.6" text-anchor="middle">0.50</text>
<line x1="1641.0" x2="1641.0" y1="2160.3" y2="2164.1" stroke="#333" stroke-width="1.6"/>
<text class="ax" x="1641.0" y="2176.6" text-anchor="middle">0.75</text>
<line x1="1689.7" x2="1689.7" y1="2160.3" y2="2164.1" stroke="#333" stroke-width="1.6"/>
<text class="ax" x="1689.7" y="2176.6" text-anchor="middle">1.00</text>
<line x1="1738.4" x2="1738.4" y1="2160.3" y2="2164.1" stroke="#333" stroke-width="1.6"/>
<text class="ax" x="1738.4" y="2176.6" text-anchor="middle">1.25</text>
</svg></body></html>
